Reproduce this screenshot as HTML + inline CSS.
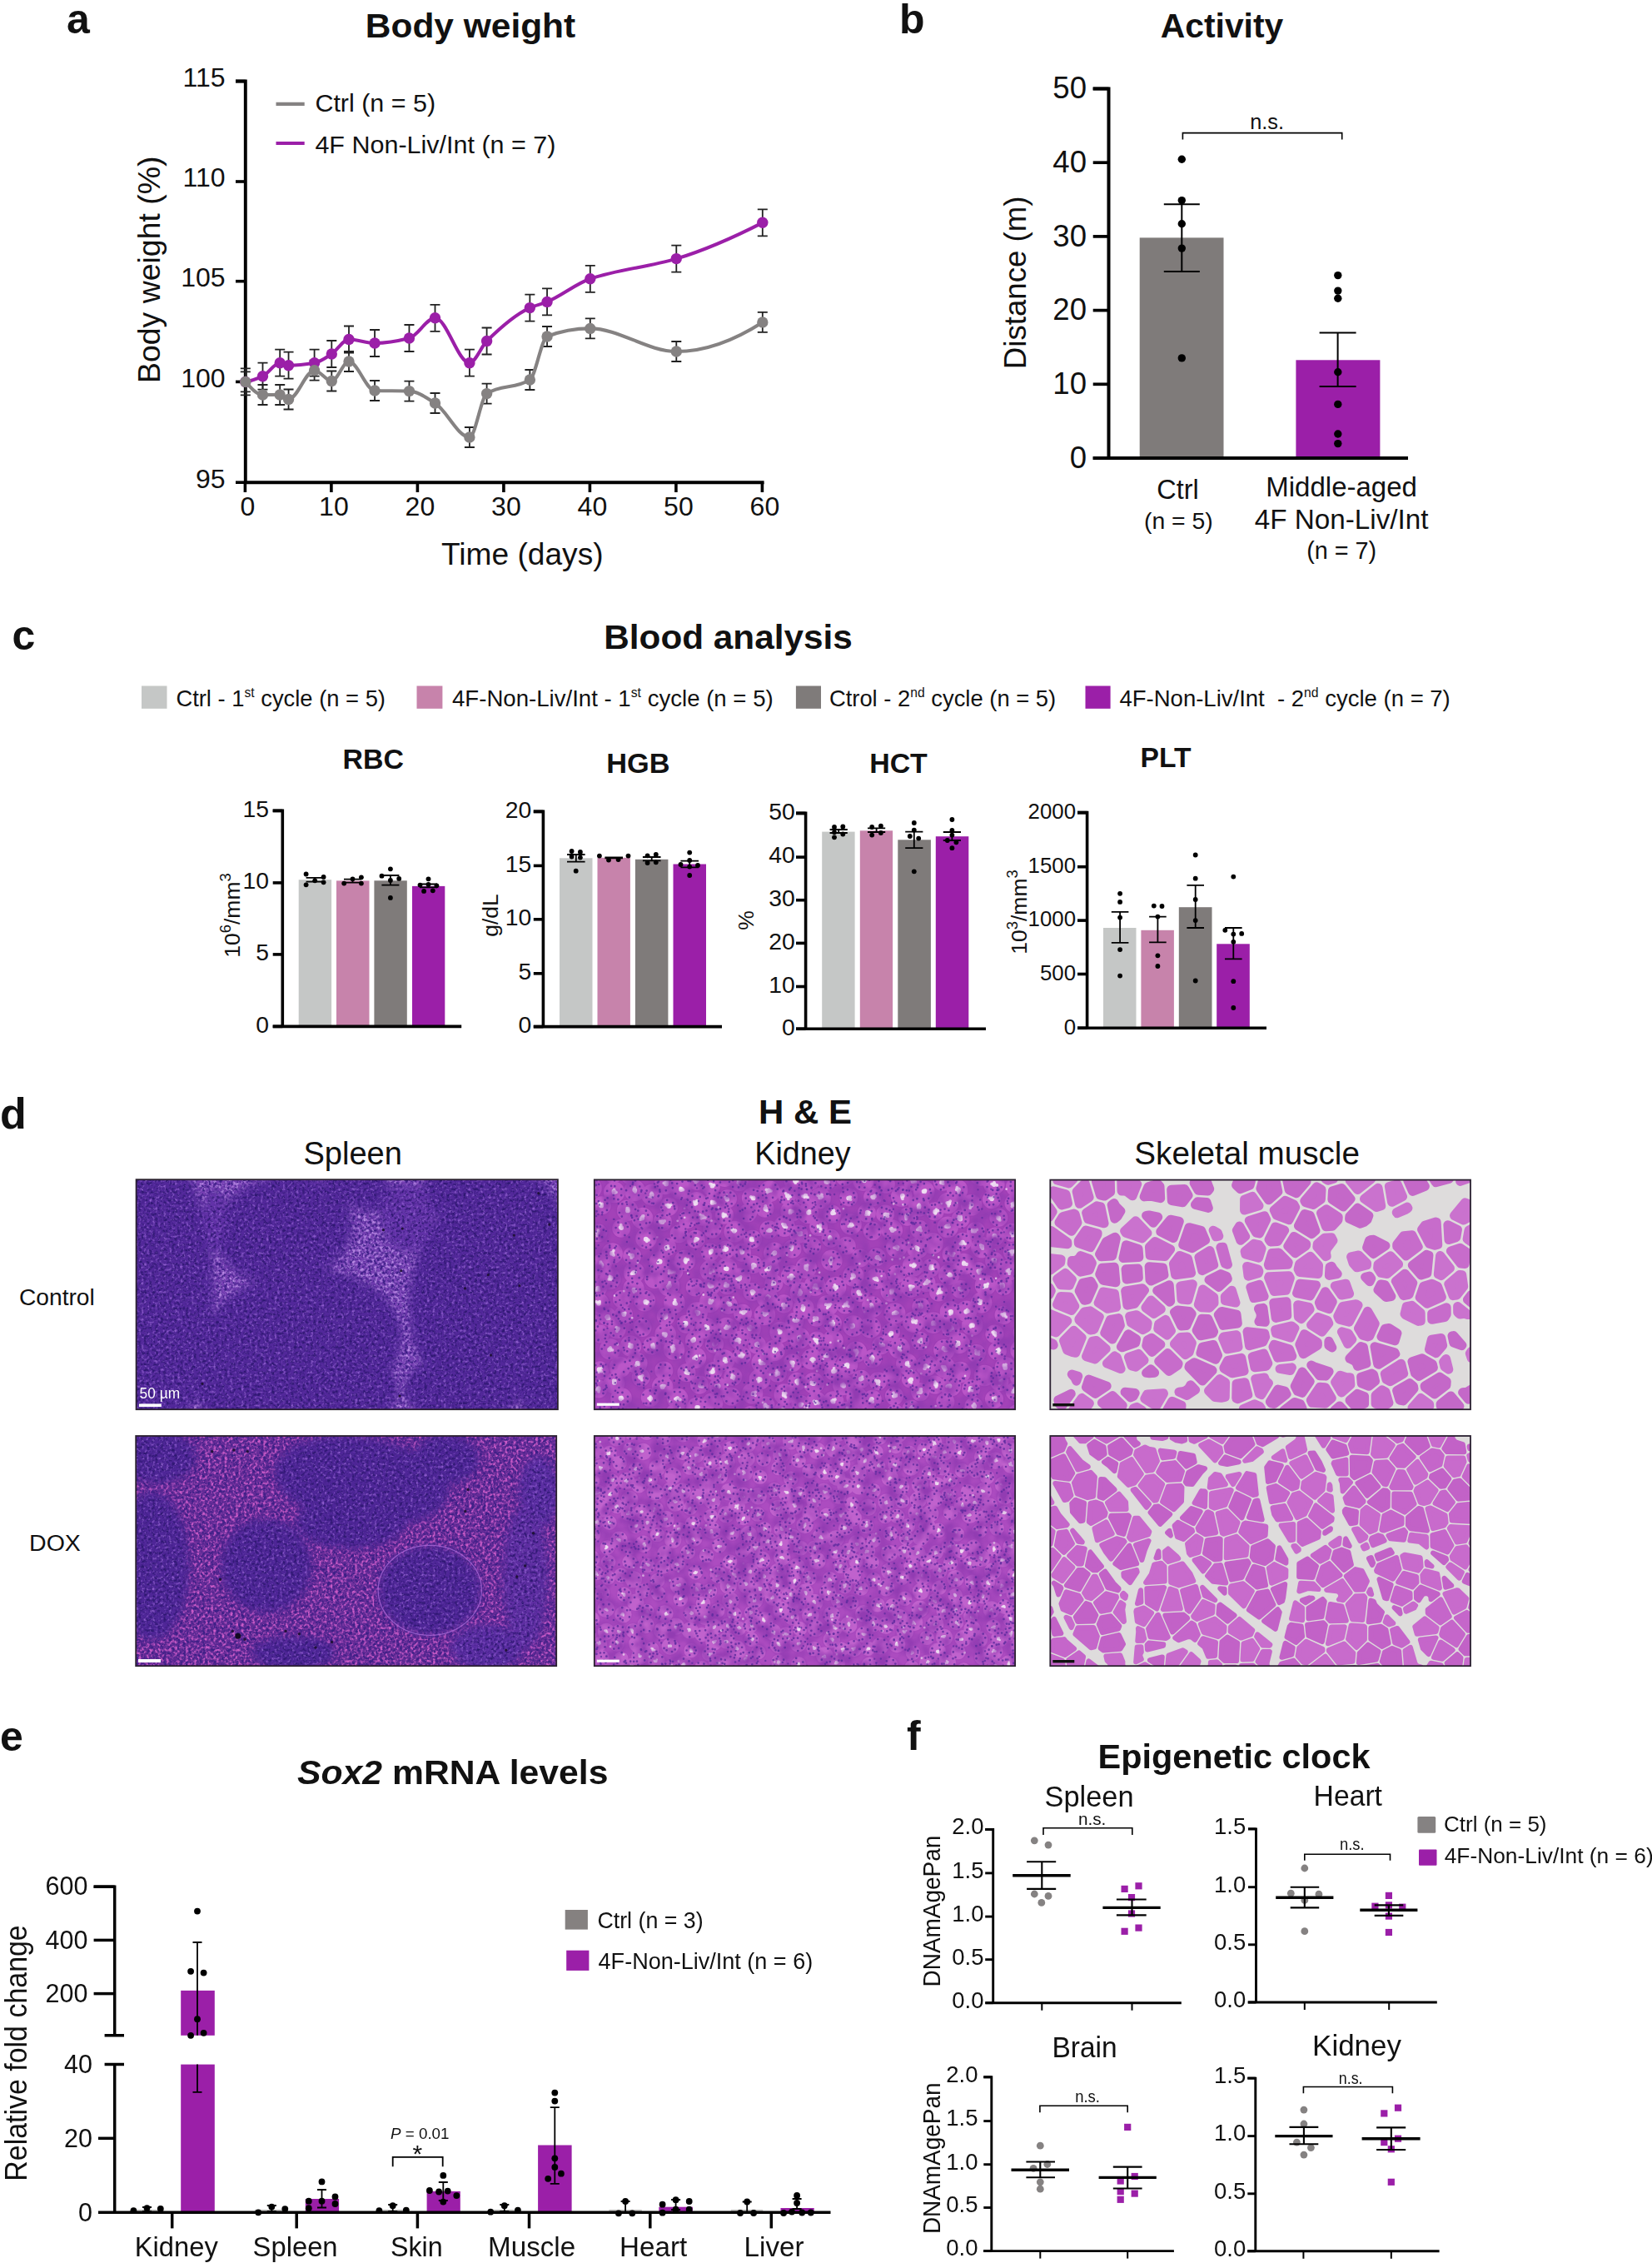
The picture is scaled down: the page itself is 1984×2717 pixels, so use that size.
<!DOCTYPE html>
<html lang="en"><head><meta charset="utf-8"><title>Figure</title>
<style>html,body{margin:0;padding:0;background:#fff}body{width:1984px;height:2717px;overflow:hidden}svg{display:block}text{font-family:"Liberation Sans", Arial, Helvetica, sans-serif;fill:#111}</style></head><body>
<svg width="1984" height="2717" viewBox="0 0 1984 2717">
<defs><clipPath id="cp_sc"><rect x="163.6" y="1416.2" width="506.3" height="276"/></clipPath>
<clipPath id="cp_sd"><rect x="163.2" y="1724" width="505" height="276.2"/></clipPath>
<clipPath id="cp_kc"><rect x="713.8" y="1416.4" width="505.3" height="275.8"/></clipPath>
<clipPath id="cp_kd"><rect x="713.8" y="1724" width="505.3" height="276.2"/></clipPath>
<clipPath id="cp_mc"><rect x="1261.3" y="1416.6" width="504.7" height="275.6"/></clipPath>
<clipPath id="cp_md"><rect x="1261.3" y="1724" width="504.7" height="276.2"/></clipPath>
<filter id="bl12" x="-50%" y="-50%" width="200%" height="200%"><feGaussianBlur stdDeviation="11"/></filter>
<filter id="bl6" x="-50%" y="-50%" width="200%" height="200%"><feGaussianBlur stdDeviation="6"/></filter>
<filter id="bl3" x="-50%" y="-50%" width="200%" height="200%"><feGaussianBlur stdDeviation="2.5"/></filter>
<filter id="fred" x="0" y="0" width="1" height="1" color-interpolation-filters="sRGB">
<feTurbulence type="fractalNoise" baseFrequency="0.3" numOctaves="2" seed="7" result="t"/>
<feColorMatrix in="t" type="matrix" values="0 0 0 0 0 0 0 0 0 0 0 0 0 0 0 3.4 0 0 0 -1.58" result="a1"/>
<feFlood flood-color="#b98ae4"/><feComposite in2="a1" operator="in" result="l1"/>
<feColorMatrix in="t" type="matrix" values="0 0 0 0 0 0 0 0 0 0 0 0 0 0 0 0 3.4 0 0 -1.4" result="a2"/>
<feFlood flood-color="#3c1f86"/><feComposite in2="a2" operator="in" result="d1"/>
<feMerge><feMergeNode in="SourceGraphic"/><feMergeNode in="d1"/><feMergeNode in="l1"/></feMerge>
</filter>
<filter id="fredd" x="0" y="0" width="1" height="1" color-interpolation-filters="sRGB">
<feTurbulence type="fractalNoise" baseFrequency="0.3" numOctaves="2" seed="9" result="t"/>
<feColorMatrix in="t" type="matrix" values="0 0 0 0 0 0 0 0 0 0 0 0 0 0 0 3.4 0 0 0 -1.58" result="a1"/>
<feFlood flood-color="#cc5cc8"/><feComposite in2="a1" operator="in" result="l1"/>
<feColorMatrix in="t" type="matrix" values="0 0 0 0 0 0 0 0 0 0 0 0 0 0 0 0 3.4 0 0 -1.3" result="a2"/>
<feFlood flood-color="#3c1f86"/><feComposite in2="a2" operator="in" result="d1"/>
<feMerge><feMergeNode in="SourceGraphic"/><feMergeNode in="d1"/><feMergeNode in="l1"/></feMerge>
</filter>
<filter id="ffol" x="-5%" y="-5%" width="110%" height="110%" color-interpolation-filters="sRGB">
<feGaussianBlur in="SourceGraphic" stdDeviation="4.5" result="b"/>
<feTurbulence type="fractalNoise" baseFrequency="0.3" numOctaves="2" seed="4" result="t"/>
<feColorMatrix in="t" type="matrix" values="0 0 0 0 0 0 0 0 0 0 0 0 0 0 0 3.2 0 0 0 -1.7" result="a1"/>
<feFlood flood-color="#8d5ccc"/><feComposite in2="a1" operator="in"/><feComposite in2="b" operator="in" result="l1"/>
<feColorMatrix in="t" type="matrix" values="0 0 0 0 0 0 0 0 0 0 0 0 0 0 0 0 3.2 0 0 -1.45" result="a2"/>
<feFlood flood-color="#2f1872"/><feComposite in2="a2" operator="in"/><feComposite in2="b" operator="in" result="d1"/>
<feMerge><feMergeNode in="b"/><feMergeNode in="d1"/><feMergeNode in="l1"/></feMerge>
</filter>
<filter id="fkid" x="0" y="0" width="1" height="1" color-interpolation-filters="sRGB">
<feTurbulence type="fractalNoise" baseFrequency="0.06" numOctaves="2" seed="3" result="t"/>
<feColorMatrix in="t" type="matrix" values="0 0 0 0 0 0 0 0 0 0 0 0 0 0 0 0 0 2.4 0 -0.85" result="a3"/>
<feFlood flood-color="#923cb2"/><feComposite in2="a3" operator="in" result="m1"/>
<feMerge><feMergeNode in="SourceGraphic"/><feMergeNode in="m1"/></feMerge>
</filter></defs>
<rect width="1984" height="2717" fill="#fff"/>
<g id="panel-a">
<text x="80" y="39.5" font-size="50" font-weight="bold">a</text>
<text x="565" y="44.5" font-size="40" text-anchor="middle" font-weight="bold" textLength="252.4" lengthAdjust="spacingAndGlyphs">Body weight</text>
<path d="M283 97.5H294.8V579.2H917.6" stroke="#000" stroke-width="3.9" fill="none" stroke-linejoin="miter"/>
<line x1="283" y1="97.5" x2="294.8" y2="97.5" stroke="#000" stroke-width="3.6"/>
<text x="270.6" y="103.8" font-size="32" text-anchor="end">115</text>
<line x1="283" y1="218" x2="294.8" y2="218" stroke="#000" stroke-width="3.6"/>
<text x="270.6" y="224.3" font-size="32" text-anchor="end">110</text>
<line x1="283" y1="337.7" x2="294.8" y2="337.7" stroke="#000" stroke-width="3.6"/>
<text x="270.6" y="344" font-size="32" text-anchor="end">105</text>
<line x1="283" y1="458.4" x2="294.8" y2="458.4" stroke="#000" stroke-width="3.6"/>
<text x="270.6" y="464.7" font-size="32" text-anchor="end">100</text>
<line x1="283" y1="579.2" x2="294.8" y2="579.2" stroke="#000" stroke-width="3.6"/>
<text x="270.6" y="585.5" font-size="32" text-anchor="end">95</text>
<line x1="294.4" y1="579.2" x2="294.4" y2="591" stroke="#000" stroke-width="3.6"/>
<text x="297.4" y="619.3" font-size="32" text-anchor="middle">0</text>
<line x1="397.9" y1="579.2" x2="397.9" y2="591" stroke="#000" stroke-width="3.6"/>
<text x="400.9" y="619.3" font-size="32" text-anchor="middle">10</text>
<line x1="501.4" y1="579.2" x2="501.4" y2="591" stroke="#000" stroke-width="3.6"/>
<text x="504.4" y="619.3" font-size="32" text-anchor="middle">20</text>
<line x1="604.9" y1="579.2" x2="604.9" y2="591" stroke="#000" stroke-width="3.6"/>
<text x="607.9" y="619.3" font-size="32" text-anchor="middle">30</text>
<line x1="708.4" y1="579.2" x2="708.4" y2="591" stroke="#000" stroke-width="3.6"/>
<text x="711.4" y="619.3" font-size="32" text-anchor="middle">40</text>
<line x1="811.9" y1="579.2" x2="811.9" y2="591" stroke="#000" stroke-width="3.6"/>
<text x="814.9" y="619.3" font-size="32" text-anchor="middle">50</text>
<line x1="915.4" y1="579.2" x2="915.4" y2="591" stroke="#000" stroke-width="3.6"/>
<text x="918.4" y="619.3" font-size="32" text-anchor="middle">60</text>
<text x="627.3" y="677.8" font-size="36" text-anchor="middle" textLength="194.6" lengthAdjust="spacingAndGlyphs">Time (days)</text>
<text transform="translate(191.5 323.8) rotate(-90)" font-size="37" text-anchor="middle" textLength="272.4" lengthAdjust="spacingAndGlyphs">Body weight (%)</text>
<line x1="331.5" y1="124.9" x2="365.7" y2="124.9" stroke="#858282" stroke-width="4.2"/>
<line x1="331.5" y1="172" x2="365.7" y2="172" stroke="#9b1fa8" stroke-width="4.2"/>
<text x="378.4" y="134.2" font-size="29.5" textLength="144.7" lengthAdjust="spacingAndGlyphs">Ctrl (n = 5)</text>
<text x="378.4" y="183.7" font-size="29.5" textLength="289" lengthAdjust="spacingAndGlyphs">4F Non-Liv/Int (n = 7)</text>
<path d="M288.8 446.4H300.8M288.8 470.4H300.8M294.8 446.4V470.4" stroke="#222" stroke-width="1.8" fill="none"/>
<path d="M288.8 442.4H300.8M288.8 474.4H300.8M294.8 442.4V474.4" stroke="#222" stroke-width="1.8" fill="none"/>
<path d="M309.5 462H321.5M309.5 486H321.5M315.5 462V486" stroke="#222" stroke-width="1.8" fill="none"/>
<path d="M309.5 435.7H321.5M309.5 467.7H321.5M315.5 435.7V467.7" stroke="#222" stroke-width="1.8" fill="none"/>
<path d="M330.2 462H342.2M330.2 486H342.2M336.2 462V486" stroke="#222" stroke-width="1.8" fill="none"/>
<path d="M330.2 419.7H342.2M330.2 451.7H342.2M336.2 419.7V451.7" stroke="#222" stroke-width="1.8" fill="none"/>
<path d="M340.55 467.5H352.55M340.55 491.5H352.55M346.55 467.5V491.5" stroke="#222" stroke-width="1.8" fill="none"/>
<path d="M340.55 422.7H352.55M340.55 454.7H352.55M346.55 422.7V454.7" stroke="#222" stroke-width="1.8" fill="none"/>
<path d="M371.6 432.7H383.6M371.6 456.7H383.6M377.6 432.7V456.7" stroke="#222" stroke-width="1.8" fill="none"/>
<path d="M371.6 419.7H383.6M371.6 451.7H383.6M377.6 419.7V451.7" stroke="#222" stroke-width="1.8" fill="none"/>
<path d="M392.3 445.5H404.3M392.3 469.5H404.3M398.3 445.5V469.5" stroke="#222" stroke-width="1.8" fill="none"/>
<path d="M392.3 409H404.3M392.3 441H404.3M398.3 409V441" stroke="#222" stroke-width="1.8" fill="none"/>
<path d="M413 422H425M413 446H425M419 422V446" stroke="#222" stroke-width="1.8" fill="none"/>
<path d="M413 391.5H425M413 423.5H425M419 391.5V423.5" stroke="#222" stroke-width="1.8" fill="none"/>
<path d="M444.05 457H456.05M444.05 481H456.05M450.05 457V481" stroke="#222" stroke-width="1.8" fill="none"/>
<path d="M444.05 396H456.05M444.05 428H456.05M450.05 396V428" stroke="#222" stroke-width="1.8" fill="none"/>
<path d="M485.45 457.6H497.45M485.45 481.6H497.45M491.45 457.6V481.6" stroke="#222" stroke-width="1.8" fill="none"/>
<path d="M485.45 390H497.45M485.45 422H497.45M491.45 390V422" stroke="#222" stroke-width="1.8" fill="none"/>
<path d="M516.5 472H528.5M516.5 496H528.5M522.5 472V496" stroke="#222" stroke-width="1.8" fill="none"/>
<path d="M516.5 365.8H528.5M516.5 397.8H528.5M522.5 365.8V397.8" stroke="#222" stroke-width="1.8" fill="none"/>
<path d="M557.9 513H569.9M557.9 537H569.9M563.9 513V537" stroke="#222" stroke-width="1.8" fill="none"/>
<path d="M557.9 419.7H569.9M557.9 451.7H569.9M563.9 419.7V451.7" stroke="#222" stroke-width="1.8" fill="none"/>
<path d="M578.6 460.6H590.6M578.6 484.6H590.6M584.6 460.6V484.6" stroke="#222" stroke-width="1.8" fill="none"/>
<path d="M578.6 393.5H590.6M578.6 425.5H590.6M584.6 393.5V425.5" stroke="#222" stroke-width="1.8" fill="none"/>
<path d="M630.35 444H642.35M630.35 468H642.35M636.35 444V468" stroke="#222" stroke-width="1.8" fill="none"/>
<path d="M630.35 353.6H642.35M630.35 385.6H642.35M636.35 353.6V385.6" stroke="#222" stroke-width="1.8" fill="none"/>
<path d="M651.05 392H663.05M651.05 416H663.05M657.05 392V416" stroke="#222" stroke-width="1.8" fill="none"/>
<path d="M651.05 346.4H663.05M651.05 378.4H663.05M657.05 346.4V378.4" stroke="#222" stroke-width="1.8" fill="none"/>
<path d="M702.8 382.4H714.8M702.8 406.4H714.8M708.8 382.4V406.4" stroke="#222" stroke-width="1.8" fill="none"/>
<path d="M702.8 318.8H714.8M702.8 350.8H714.8M708.8 318.8V350.8" stroke="#222" stroke-width="1.8" fill="none"/>
<path d="M806.3 410H818.3M806.3 434H818.3M812.3 410V434" stroke="#222" stroke-width="1.8" fill="none"/>
<path d="M806.3 294.6H818.3M806.3 326.6H818.3M812.3 294.6V326.6" stroke="#222" stroke-width="1.8" fill="none"/>
<path d="M909.8 374.9H921.8M909.8 398.9H921.8M915.8 374.9V398.9" stroke="#222" stroke-width="1.8" fill="none"/>
<path d="M909.8 251.3H921.8M909.8 283.3H921.8M915.8 251.3V283.3" stroke="#222" stroke-width="1.8" fill="none"/>
<path d="M294.8 458.4C301.7 457.72 308.6 454.85 315.5 451.7C322.4 448.55 329.3 435.7 336.2 435.7C339.65 435.7 343.1 438.7 346.55 438.7C356.9 438.7 367.25 437.47 377.6 435.7C384.5 434.52 391.4 429.43 398.3 425C405.2 420.57 412.1 407.5 419 407.5C429.35 407.5 439.7 412 450.05 412C463.85 412 477.65 409.49 491.45 406C501.8 403.38 512.15 381.8 522.5 381.8C536.3 381.8 550.1 435.7 563.9 435.7C570.8 435.7 577.7 416.35 584.6 409.5C601.85 392.38 619.1 377.45 636.35 369.6C643.25 366.46 650.15 365.22 657.05 362.4C674.3 355.35 691.55 340.66 708.8 334.8C743.3 323.08 777.8 320.95 812.3 310.6C846.8 300.25 881.3 284.92 915.8 267.3" stroke="#9b1fa8" stroke-width="4.1" fill="none" stroke-linejoin="round"/>
<circle cx="294.8" cy="458.4" r="6.7" fill="#9b1fa8"/>
<circle cx="315.5" cy="451.7" r="6.7" fill="#9b1fa8"/>
<circle cx="336.2" cy="435.7" r="6.7" fill="#9b1fa8"/>
<circle cx="346.55" cy="438.7" r="6.7" fill="#9b1fa8"/>
<circle cx="377.6" cy="435.7" r="6.7" fill="#9b1fa8"/>
<circle cx="398.3" cy="425" r="6.7" fill="#9b1fa8"/>
<circle cx="419" cy="407.5" r="6.7" fill="#9b1fa8"/>
<circle cx="450.05" cy="412" r="6.7" fill="#9b1fa8"/>
<circle cx="491.45" cy="406" r="6.7" fill="#9b1fa8"/>
<circle cx="522.5" cy="381.8" r="6.7" fill="#9b1fa8"/>
<circle cx="563.9" cy="435.7" r="6.7" fill="#9b1fa8"/>
<circle cx="584.6" cy="409.5" r="6.7" fill="#9b1fa8"/>
<circle cx="636.35" cy="369.6" r="6.7" fill="#9b1fa8"/>
<circle cx="657.05" cy="362.4" r="6.7" fill="#9b1fa8"/>
<circle cx="708.8" cy="334.8" r="6.7" fill="#9b1fa8"/>
<circle cx="812.3" cy="310.6" r="6.7" fill="#9b1fa8"/>
<circle cx="915.8" cy="267.3" r="6.7" fill="#9b1fa8"/>
<path d="M294.8 458.4C301.7 466.2 308.6 474 315.5 474C322.4 474 329.3 474 336.2 474C339.65 474 343.1 479.5 346.55 479.5C356.9 479.5 367.25 444.7 377.6 444.7C384.5 444.7 391.4 457.5 398.3 457.5C405.2 457.5 412.1 434 419 434C429.35 434 439.7 468.69 450.05 469C463.85 469.41 477.65 469.19 491.45 469.6C501.8 469.9 512.15 477.57 522.5 484C536.3 492.57 550.1 525 563.9 525C570.8 525 577.7 477.02 584.6 472.6C601.85 461.56 619.1 467.03 636.35 456C643.25 451.59 650.15 406.72 657.05 404C674.3 397.2 691.55 394.4 708.8 394.4C743.3 394.4 777.8 422 812.3 422C846.8 422 881.3 409.05 915.8 386.9" stroke="#858282" stroke-width="4.1" fill="none" stroke-linejoin="round"/>
<circle cx="294.8" cy="458.4" r="6.7" fill="#858282"/>
<circle cx="315.5" cy="474" r="6.7" fill="#858282"/>
<circle cx="336.2" cy="474" r="6.7" fill="#858282"/>
<circle cx="346.55" cy="479.5" r="6.7" fill="#858282"/>
<circle cx="377.6" cy="444.7" r="6.7" fill="#858282"/>
<circle cx="398.3" cy="457.5" r="6.7" fill="#858282"/>
<circle cx="419" cy="434" r="6.7" fill="#858282"/>
<circle cx="450.05" cy="469" r="6.7" fill="#858282"/>
<circle cx="491.45" cy="469.6" r="6.7" fill="#858282"/>
<circle cx="522.5" cy="484" r="6.7" fill="#858282"/>
<circle cx="563.9" cy="525" r="6.7" fill="#858282"/>
<circle cx="584.6" cy="472.6" r="6.7" fill="#858282"/>
<circle cx="636.35" cy="456" r="6.7" fill="#858282"/>
<circle cx="657.05" cy="404" r="6.7" fill="#858282"/>
<circle cx="708.8" cy="394.4" r="6.7" fill="#858282"/>
<circle cx="812.3" cy="422" r="6.7" fill="#858282"/>
<circle cx="915.8" cy="386.9" r="6.7" fill="#858282"/>
</g>
<g id="panel-b">
<text x="1080" y="39.5" font-size="50" font-weight="bold">b</text>
<text x="1467.5" y="44.5" font-size="40" text-anchor="middle" font-weight="bold" textLength="147.4" lengthAdjust="spacingAndGlyphs">Activity</text>
<rect x="1368.7" y="285.4" width="100.8" height="264.6" fill="#7f7b7a"/>
<rect x="1556.4" y="432.3" width="101" height="117.7" fill="#9b1fa8"/>
<path d="M1312.7 106.5H1331.5V550M1312.7 550H1691" stroke="#000" stroke-width="4" fill="none"/>
<line x1="1312.7" y1="550" x2="1331.5" y2="550" stroke="#000" stroke-width="3.7"/>
<text x="1305" y="561.7" font-size="37.5" text-anchor="end" textLength="20.35" lengthAdjust="spacingAndGlyphs">0</text>
<line x1="1312.7" y1="461.3" x2="1331.5" y2="461.3" stroke="#000" stroke-width="3.7"/>
<text x="1305" y="473" font-size="37.5" text-anchor="end" textLength="40.7" lengthAdjust="spacingAndGlyphs">10</text>
<line x1="1312.7" y1="372.6" x2="1331.5" y2="372.6" stroke="#000" stroke-width="3.7"/>
<text x="1305" y="384.3" font-size="37.5" text-anchor="end" textLength="40.7" lengthAdjust="spacingAndGlyphs">20</text>
<line x1="1312.7" y1="283.9" x2="1331.5" y2="283.9" stroke="#000" stroke-width="3.7"/>
<text x="1305" y="295.6" font-size="37.5" text-anchor="end" textLength="40.7" lengthAdjust="spacingAndGlyphs">30</text>
<line x1="1312.7" y1="195.2" x2="1331.5" y2="195.2" stroke="#000" stroke-width="3.7"/>
<text x="1305" y="206.9" font-size="37.5" text-anchor="end" textLength="40.7" lengthAdjust="spacingAndGlyphs">40</text>
<line x1="1312.7" y1="106.5" x2="1331.5" y2="106.5" stroke="#000" stroke-width="3.7"/>
<text x="1305" y="118.2" font-size="37.5" text-anchor="end" textLength="40.7" lengthAdjust="spacingAndGlyphs">50</text>
<path d="M1397.8 245.2H1440.8M1397.8 326H1440.8M1419.3 245.2V326" stroke="#000" stroke-width="2" fill="none"/>
<path d="M1584.6 399.6H1628.6M1584.6 464H1628.6M1606.6 399.6V464" stroke="#000" stroke-width="2" fill="none"/>
<circle cx="1419.3" cy="191.3" r="4.7" fill="#000"/>
<circle cx="1419.3" cy="240.6" r="4.7" fill="#000"/>
<circle cx="1419.3" cy="268.8" r="4.7" fill="#000"/>
<circle cx="1419.3" cy="298.1" r="4.7" fill="#000"/>
<circle cx="1419.3" cy="429.9" r="4.7" fill="#000"/>
<circle cx="1606.8" cy="330.6" r="4.7" fill="#000"/>
<circle cx="1606.8" cy="349.1" r="4.7" fill="#000"/>
<circle cx="1606.8" cy="358.2" r="4.7" fill="#000"/>
<circle cx="1606.8" cy="446.8" r="4.7" fill="#000"/>
<circle cx="1606.8" cy="485.4" r="4.7" fill="#000"/>
<circle cx="1606.8" cy="521" r="4.7" fill="#000"/>
<circle cx="1606.8" cy="532.6" r="4.7" fill="#000"/>
<path d="M1420.4 167.4V159.6H1611.7V167.4" stroke="#000" stroke-width="1.6" fill="none"/>
<text x="1521.6" y="155" font-size="25" text-anchor="middle" textLength="40.8" lengthAdjust="spacingAndGlyphs">n.s.</text>
<text x="1414.6" y="598.8" font-size="33" text-anchor="middle" textLength="50.5" lengthAdjust="spacingAndGlyphs">Ctrl</text>
<text x="1415.4" y="635.4" font-size="28.4" text-anchor="middle" textLength="82.8" lengthAdjust="spacingAndGlyphs">(n = 5)</text>
<text x="1611.1" y="596.1" font-size="33" text-anchor="middle" textLength="181.6" lengthAdjust="spacingAndGlyphs">Middle-aged</text>
<text x="1611.1" y="635" font-size="33" text-anchor="middle" textLength="208.8" lengthAdjust="spacingAndGlyphs">4F Non-Liv/Int</text>
<text x="1611.1" y="670.6" font-size="28.6" text-anchor="middle" textLength="83.9" lengthAdjust="spacingAndGlyphs">(n = 7)</text>
<text transform="translate(1232 339.4) rotate(-90)" font-size="37.5" text-anchor="middle" textLength="207.5" lengthAdjust="spacingAndGlyphs">Distance (m)</text>
</g>
<g id="panel-c">
<text x="14.5" y="780" font-size="50" font-weight="bold">c</text>
<text x="874.5" y="779.2" font-size="41" text-anchor="middle" font-weight="bold" textLength="298.5" lengthAdjust="spacingAndGlyphs">Blood analysis</text>
<rect x="170" y="823.5" width="30.5" height="27.3" fill="#c5c7c6"/>
<rect x="500.5" y="823.5" width="30.9" height="27.3" fill="#c783ab"/>
<rect x="955.9" y="823.5" width="30.1" height="27.3" fill="#7f7b7a"/>
<rect x="1303.5" y="823.5" width="30.1" height="27.3" fill="#9b1fa8"/>
<text x="211.4" y="847.8" font-size="28" textLength="251.6" lengthAdjust="spacingAndGlyphs">Ctrl - 1<tspan dy="-11" font-size="16">st</tspan><tspan dy="11"> cycle (n = 5)</tspan></text>
<text x="543" y="847.8" font-size="28" textLength="385.7" lengthAdjust="spacingAndGlyphs">4F-Non-Liv/Int - 1<tspan dy="-11" font-size="16">st</tspan><tspan dy="11"> cycle (n = 5)</tspan></text>
<text x="995.9" y="847.8" font-size="28" textLength="272.3" lengthAdjust="spacingAndGlyphs">Ctrol - 2<tspan dy="-11" font-size="16">nd</tspan><tspan dy="11"> cycle (n = 5)</tspan></text>
<text x="1344.5" y="847.8" font-size="28" textLength="397.3" lengthAdjust="spacingAndGlyphs">4F-Non-Liv/Int  - 2<tspan dy="-11" font-size="16">nd</tspan><tspan dy="11"> cycle (n = 7)</tspan></text>
<text x="448.2" y="923.4" font-size="34" text-anchor="middle" font-weight="bold" textLength="73.4" lengthAdjust="spacingAndGlyphs">RBC</text>
<text x="766.3" y="927.7" font-size="34" text-anchor="middle" font-weight="bold" textLength="76.3" lengthAdjust="spacingAndGlyphs">HGB</text>
<text x="1079" y="927.7" font-size="34" text-anchor="middle" font-weight="bold" textLength="69.7" lengthAdjust="spacingAndGlyphs">HCT</text>
<text x="1400.1" y="920.8" font-size="34" text-anchor="middle" font-weight="bold" textLength="61" lengthAdjust="spacingAndGlyphs">PLT</text>
<rect x="358.7" y="1056.2" width="39.4" height="176.2" fill="#c5c7c6"/>
<rect x="404" y="1057.4" width="39.5" height="175" fill="#c783ab"/>
<rect x="449.4" y="1057.3" width="39.4" height="175.1" fill="#7f7b7a"/>
<rect x="495" y="1063.9" width="39.3" height="168.5" fill="#9b1fa8"/>
<path d="M327.7 973.4H339.3V1232.4M327.7 1232.4H554.2" stroke="#000" stroke-width="3.6" fill="none"/>
<line x1="327.7" y1="973.4" x2="339.3" y2="973.4" stroke="#000" stroke-width="3.6"/>
<text x="323" y="980.7" font-size="28.3" text-anchor="end">15</text>
<line x1="327.7" y1="1059.9" x2="339.3" y2="1059.9" stroke="#000" stroke-width="3.6"/>
<text x="323" y="1067.2" font-size="28.3" text-anchor="end">10</text>
<line x1="327.7" y1="1145.9" x2="339.3" y2="1145.9" stroke="#000" stroke-width="3.6"/>
<text x="323" y="1153.2" font-size="28.3" text-anchor="end">5</text>
<line x1="327.7" y1="1232.4" x2="339.3" y2="1232.4" stroke="#000" stroke-width="3.6"/>
<text x="323" y="1239.7" font-size="28.3" text-anchor="end">0</text>
<path d="M367.6 1053.9H388.6M367.6 1058.6H388.6M378.1 1053.9V1058.6" stroke="#000" stroke-width="1.8" fill="none"/>
<path d="M413 1055.7H434M413 1059.7H434M423.5 1055.7V1059.7" stroke="#000" stroke-width="1.8" fill="none"/>
<path d="M458.4 1051H479.4M458.4 1062.6H479.4M468.9 1051V1062.6" stroke="#000" stroke-width="1.8" fill="none"/>
<path d="M504 1061.5H525M504 1065.3H525M514.5 1061.5V1065.3" stroke="#000" stroke-width="1.8" fill="none"/>
<circle cx="367.6" cy="1049.5" r="2.9" fill="#000"/>
<circle cx="367.6" cy="1062.3" r="2.9" fill="#000"/>
<circle cx="378.2" cy="1057.3" r="2.9" fill="#000"/>
<circle cx="388.6" cy="1052.9" r="2.9" fill="#000"/>
<circle cx="388.6" cy="1059.3" r="2.9" fill="#000"/>
<circle cx="413.2" cy="1060.6" r="2.9" fill="#000"/>
<circle cx="423.5" cy="1055.3" r="2.9" fill="#000"/>
<circle cx="433.9" cy="1053.3" r="2.9" fill="#000"/>
<circle cx="433.9" cy="1060.6" r="2.9" fill="#000"/>
<circle cx="468.9" cy="1043.3" r="2.9" fill="#000"/>
<circle cx="458.5" cy="1051.7" r="2.9" fill="#000"/>
<circle cx="479.2" cy="1054.9" r="2.9" fill="#000"/>
<circle cx="468.9" cy="1056.9" r="2.9" fill="#000"/>
<circle cx="468.9" cy="1077.9" r="2.9" fill="#000"/>
<circle cx="514.5" cy="1055.3" r="2.9" fill="#000"/>
<circle cx="504.5" cy="1062.6" r="2.9" fill="#000"/>
<circle cx="514.5" cy="1061.9" r="2.9" fill="#000"/>
<circle cx="524.4" cy="1063.3" r="2.9" fill="#000"/>
<circle cx="509.1" cy="1069.9" r="2.9" fill="#000"/>
<circle cx="519.8" cy="1069.3" r="2.9" fill="#000"/>
<text transform="translate(288 1099) rotate(-90)" font-size="26.5" text-anchor="middle">10<tspan dy="-11.5" font-size="18.5">6</tspan><tspan dy="11.5">/mm<tspan dy="-11.5" font-size="18.5">3</tspan><tspan dy="11.5"></tspan></tspan></text>
<rect x="672" y="1030.3" width="39.5" height="202.3" fill="#c5c7c6"/>
<rect x="717.5" y="1029.8" width="39.4" height="202.8" fill="#c783ab"/>
<rect x="762.9" y="1031.8" width="39.5" height="200.8" fill="#7f7b7a"/>
<rect x="808.5" y="1037.5" width="39.5" height="195.1" fill="#9b1fa8"/>
<path d="M640.8 974.4H652.4V1232.6M640.8 1232.6H867" stroke="#000" stroke-width="3.6" fill="none"/>
<line x1="640.8" y1="974.4" x2="652.4" y2="974.4" stroke="#000" stroke-width="3.6"/>
<text x="638.2" y="981.7" font-size="28.3" text-anchor="end">20</text>
<line x1="640.8" y1="1039.4" x2="652.4" y2="1039.4" stroke="#000" stroke-width="3.6"/>
<text x="638.2" y="1046.7" font-size="28.3" text-anchor="end">15</text>
<line x1="640.8" y1="1103.8" x2="652.4" y2="1103.8" stroke="#000" stroke-width="3.6"/>
<text x="638.2" y="1111.1" font-size="28.3" text-anchor="end">10</text>
<line x1="640.8" y1="1168.8" x2="652.4" y2="1168.8" stroke="#000" stroke-width="3.6"/>
<text x="638.2" y="1176.1" font-size="28.3" text-anchor="end">5</text>
<line x1="640.8" y1="1232.6" x2="652.4" y2="1232.6" stroke="#000" stroke-width="3.6"/>
<text x="638.2" y="1239.9" font-size="28.3" text-anchor="end">0</text>
<path d="M681 1026H702.6M681 1034.6H702.6M691.8 1026V1034.6" stroke="#000" stroke-width="1.8" fill="none"/>
<path d="M726.4 1029.3H748M726.4 1030.3H748M737.2 1029.3V1030.3" stroke="#000" stroke-width="1.8" fill="none"/>
<path d="M771.9 1029H793.5M771.9 1033.3H793.5M782.7 1029V1033.3" stroke="#000" stroke-width="1.8" fill="none"/>
<path d="M817.4 1033.7H839M817.4 1041.3H839M828.2 1033.7V1041.3" stroke="#000" stroke-width="1.8" fill="none"/>
<circle cx="686.6" cy="1022" r="2.9" fill="#000"/>
<circle cx="696.9" cy="1023" r="2.9" fill="#000"/>
<circle cx="686.6" cy="1028.6" r="2.9" fill="#000"/>
<circle cx="696.9" cy="1029.6" r="2.9" fill="#000"/>
<circle cx="691.7" cy="1045.7" r="2.9" fill="#000"/>
<circle cx="719.9" cy="1027.6" r="2.9" fill="#000"/>
<circle cx="754.5" cy="1027.6" r="2.9" fill="#000"/>
<circle cx="731" cy="1032.6" r="2.9" fill="#000"/>
<circle cx="742.6" cy="1032" r="2.9" fill="#000"/>
<circle cx="777.6" cy="1027.3" r="2.9" fill="#000"/>
<circle cx="787.8" cy="1026" r="2.9" fill="#000"/>
<circle cx="777.6" cy="1036" r="2.9" fill="#000"/>
<circle cx="787.8" cy="1035.3" r="2.9" fill="#000"/>
<circle cx="828.2" cy="1023.6" r="2.9" fill="#000"/>
<circle cx="828.2" cy="1032.9" r="2.9" fill="#000"/>
<circle cx="817.5" cy="1038" r="2.9" fill="#000"/>
<circle cx="838" cy="1039" r="2.9" fill="#000"/>
<circle cx="828.2" cy="1040.6" r="2.9" fill="#000"/>
<circle cx="828.2" cy="1051" r="2.9" fill="#000"/>
<text transform="translate(597.7 1099) rotate(-90)" font-size="26.5" text-anchor="middle">g/dL</text>
<rect x="987.2" y="998.6" width="39.4" height="236.7" fill="#c5c7c6"/>
<rect x="1032.8" y="997.3" width="39.3" height="238" fill="#c783ab"/>
<rect x="1078.3" y="1008.3" width="39.6" height="227" fill="#7f7b7a"/>
<rect x="1123.8" y="1004.2" width="39.5" height="231.1" fill="#9b1fa8"/>
<path d="M956 976.4H967.6V1235.3M956 1235.3H1184" stroke="#000" stroke-width="3.6" fill="none"/>
<line x1="956" y1="976.4" x2="967.6" y2="976.4" stroke="#000" stroke-width="3.6"/>
<text x="954.8" y="983.7" font-size="28.3" text-anchor="end">50</text>
<line x1="956" y1="1029.1" x2="967.6" y2="1029.1" stroke="#000" stroke-width="3.6"/>
<text x="954.8" y="1036.4" font-size="28.3" text-anchor="end">40</text>
<line x1="956" y1="1080.7" x2="967.6" y2="1080.7" stroke="#000" stroke-width="3.6"/>
<text x="954.8" y="1088" font-size="28.3" text-anchor="end">30</text>
<line x1="956" y1="1132.4" x2="967.6" y2="1132.4" stroke="#000" stroke-width="3.6"/>
<text x="954.8" y="1139.7" font-size="28.3" text-anchor="end">20</text>
<line x1="956" y1="1184.5" x2="967.6" y2="1184.5" stroke="#000" stroke-width="3.6"/>
<text x="954.8" y="1191.8" font-size="28.3" text-anchor="end">10</text>
<line x1="956" y1="1235.3" x2="967.6" y2="1235.3" stroke="#000" stroke-width="3.6"/>
<text x="954.8" y="1242.6" font-size="28.3" text-anchor="end">0</text>
<path d="M996.6 996H1017.8M996.6 1000H1017.8M1007.2 996V1000" stroke="#000" stroke-width="1.8" fill="none"/>
<path d="M1042 994.4H1063.2M1042 999H1063.2M1052.6 994.4V999" stroke="#000" stroke-width="1.8" fill="none"/>
<path d="M1087.2 998.6H1108.4M1087.2 1018.2H1108.4M1097.8 998.6V1018.2" stroke="#000" stroke-width="1.8" fill="none"/>
<path d="M1132.8 999H1154M1132.8 1009H1154M1143.4 999V1009" stroke="#000" stroke-width="1.8" fill="none"/>
<circle cx="1002" cy="993" r="2.9" fill="#000"/>
<circle cx="1012.3" cy="992.4" r="2.9" fill="#000"/>
<circle cx="1002" cy="999.3" r="2.9" fill="#000"/>
<circle cx="1012.3" cy="1001.5" r="2.9" fill="#000"/>
<circle cx="1002" cy="1005.3" r="2.9" fill="#000"/>
<circle cx="1047.2" cy="993" r="2.9" fill="#000"/>
<circle cx="1057.9" cy="991.7" r="2.9" fill="#000"/>
<circle cx="1057.9" cy="1000" r="2.9" fill="#000"/>
<circle cx="1047.2" cy="1002.6" r="2.9" fill="#000"/>
<circle cx="1097.8" cy="988" r="2.9" fill="#000"/>
<circle cx="1097.8" cy="996.6" r="2.9" fill="#000"/>
<circle cx="1092.8" cy="1004" r="2.9" fill="#000"/>
<circle cx="1103.2" cy="1006.6" r="2.9" fill="#000"/>
<circle cx="1097.8" cy="1046.3" r="2.9" fill="#000"/>
<circle cx="1143.4" cy="984" r="2.9" fill="#000"/>
<circle cx="1143.4" cy="997" r="2.9" fill="#000"/>
<circle cx="1143.4" cy="1002.6" r="2.9" fill="#000"/>
<circle cx="1137.8" cy="1009" r="2.9" fill="#000"/>
<circle cx="1148.4" cy="1011.3" r="2.9" fill="#000"/>
<circle cx="1143.4" cy="1018.2" r="2.9" fill="#000"/>
<text transform="translate(904.5 1105) rotate(-90)" font-size="26.5" text-anchor="middle">%</text>
<rect x="1325" y="1114" width="39.5" height="120.3" fill="#c5c7c6"/>
<rect x="1370.4" y="1116.8" width="39.5" height="117.5" fill="#c783ab"/>
<rect x="1415.8" y="1089.2" width="39.7" height="145.1" fill="#7f7b7a"/>
<rect x="1461.2" y="1133.3" width="39.6" height="101" fill="#9b1fa8"/>
<path d="M1294 975.6H1305.6V1234.3M1294 1234.3H1521" stroke="#000" stroke-width="3.6" fill="none"/>
<line x1="1294" y1="975.6" x2="1305.6" y2="975.6" stroke="#000" stroke-width="3.6"/>
<text x="1292" y="982.9" font-size="25.8" text-anchor="end">2000</text>
<line x1="1294" y1="1040.7" x2="1305.6" y2="1040.7" stroke="#000" stroke-width="3.6"/>
<text x="1292" y="1048" font-size="25.8" text-anchor="end">1500</text>
<line x1="1294" y1="1105.1" x2="1305.6" y2="1105.1" stroke="#000" stroke-width="3.6"/>
<text x="1292" y="1112.4" font-size="25.8" text-anchor="end">1000</text>
<line x1="1294" y1="1169.5" x2="1305.6" y2="1169.5" stroke="#000" stroke-width="3.6"/>
<text x="1292" y="1176.8" font-size="25.8" text-anchor="end">500</text>
<line x1="1294" y1="1234.3" x2="1305.6" y2="1234.3" stroke="#000" stroke-width="3.6"/>
<text x="1292" y="1241.6" font-size="25.8" text-anchor="end">0</text>
<path d="M1334.8 1094.8H1355.4M1334.8 1131.9H1355.4M1345.1 1094.8V1131.9" stroke="#000" stroke-width="1.8" fill="none"/>
<path d="M1380.1 1100.6H1400.7M1380.1 1131.4H1400.7M1390.4 1100.6V1131.4" stroke="#000" stroke-width="1.8" fill="none"/>
<path d="M1425.4 1062.9H1446M1425.4 1114H1446M1435.7 1062.9V1114" stroke="#000" stroke-width="1.8" fill="none"/>
<path d="M1471 1114H1491.6M1471 1151.4H1491.6M1481.3 1114V1151.4" stroke="#000" stroke-width="1.8" fill="none"/>
<circle cx="1345.1" cy="1072.8" r="2.9" fill="#000"/>
<circle cx="1345.1" cy="1082.9" r="2.9" fill="#000"/>
<circle cx="1345.1" cy="1101.6" r="2.9" fill="#000"/>
<circle cx="1345.1" cy="1140.1" r="2.9" fill="#000"/>
<circle cx="1345.1" cy="1171.6" r="2.9" fill="#000"/>
<circle cx="1385.8" cy="1087.6" r="2.9" fill="#000"/>
<circle cx="1395.5" cy="1088" r="2.9" fill="#000"/>
<circle cx="1390.4" cy="1100.6" r="2.9" fill="#000"/>
<circle cx="1390.4" cy="1147.3" r="2.9" fill="#000"/>
<circle cx="1390.4" cy="1160" r="2.9" fill="#000"/>
<circle cx="1435.7" cy="1026.5" r="2.9" fill="#000"/>
<circle cx="1435.7" cy="1054.7" r="2.9" fill="#000"/>
<circle cx="1435.7" cy="1080" r="2.9" fill="#000"/>
<circle cx="1435.7" cy="1105.1" r="2.9" fill="#000"/>
<circle cx="1435.7" cy="1177.5" r="2.9" fill="#000"/>
<circle cx="1481.3" cy="1052.6" r="2.9" fill="#000"/>
<circle cx="1471.3" cy="1116.8" r="2.9" fill="#000"/>
<circle cx="1491.2" cy="1120.9" r="2.9" fill="#000"/>
<circle cx="1481.3" cy="1121.6" r="2.9" fill="#000"/>
<circle cx="1481.3" cy="1130.8" r="2.9" fill="#000"/>
<circle cx="1481.3" cy="1178.2" r="2.9" fill="#000"/>
<circle cx="1481.3" cy="1210" r="2.9" fill="#000"/>
<text transform="translate(1233 1095) rotate(-90)" font-size="26.5" text-anchor="middle">10<tspan dy="-11.5" font-size="18.5">3</tspan><tspan dy="11.5">/mm<tspan dy="-11.5" font-size="18.5">3</tspan><tspan dy="11.5"></tspan></tspan></text>
</g>
<g id="panel-d">
<text x="0" y="1355.4" font-size="52" font-weight="bold">d</text>
<text x="967" y="1349.3" font-size="40" text-anchor="middle" font-weight="bold" textLength="112" lengthAdjust="spacingAndGlyphs">H &amp; E</text>
<text x="423.7" y="1397.7" font-size="38" text-anchor="middle" textLength="118.6" lengthAdjust="spacingAndGlyphs">Spleen</text>
<text x="963.9" y="1397.7" font-size="38" text-anchor="middle" textLength="115.3" lengthAdjust="spacingAndGlyphs">Kidney</text>
<text x="1497.6" y="1397.7" font-size="38" text-anchor="middle" textLength="270.6" lengthAdjust="spacingAndGlyphs">Skeletal muscle</text>
<text x="23" y="1566.6" font-size="28.2" textLength="90.8" lengthAdjust="spacingAndGlyphs">Control</text>
<text x="35.1" y="1862" font-size="28.2" textLength="61.8" lengthAdjust="spacingAndGlyphs">DOX</text>
<g clip-path="url(#cp_sc)">
<g filter="url(#fred)">
<rect x="161.6" y="1414.2" width="510.3" height="280" fill="#7740b4"/>
</g>
<g filter="url(#ffol)">
<ellipse cx="185.83" cy="1553.5" rx="70.28" ry="169.99" fill="#52289a"/>
<ellipse cx="341.11" cy="1476.68" rx="81.73" ry="63.75" fill="#52289a" transform="rotate(-10 341.11 1476.68)"/>
<ellipse cx="362.36" cy="1612.34" rx="119.32" ry="86.63" fill="#52289a" transform="rotate(-8 362.36 1612.34)"/>
<ellipse cx="303.52" cy="1661.38" rx="71.92" ry="52.3" fill="#52289a"/>
<ellipse cx="421.2" cy="1667.92" rx="55.57" ry="42.5" fill="#52289a"/>
<ellipse cx="574.85" cy="1553.5" rx="81.73" ry="122.59" fill="#52289a" transform="rotate(8 574.85 1553.5)"/>
<ellipse cx="656.57" cy="1582.92" rx="45.77" ry="137.3" fill="#52289a"/>
<ellipse cx="551.96" cy="1434.18" rx="45.77" ry="31.06" fill="#52289a"/>
<ellipse cx="623.88" cy="1437.45" rx="45.77" ry="27.79" fill="#52289a" transform="rotate(20 623.88 1437.45)"/>
<ellipse cx="431.01" cy="1424.37" rx="45.77" ry="24.52" fill="#52289a" transform="rotate(25 431.01 1424.37)"/>
<ellipse cx="555.23" cy="1667.92" rx="68.65" ry="42.5" fill="#52289a"/>
<ellipse cx="489.85" cy="1461.97" rx="31.06" ry="39.23" fill="#6232a8"/>
<ellipse cx="257.75" cy="1465.24" rx="13.08" ry="35.96" fill="#6232a8"/>
</g>
<path d="M460.43 1476.68h0M483.31 1475.04h0M481.68 1525.71h0M617.34 1483.22h0M646.76 1432.55h0M659.84 1470.14h0M243.04 1661.38h0M589.56 1627.05h0M586.29 1530.62h0M558.5 1546.96h0M480.04 1676.09h0M623.88 1543.69h0" stroke="#1c1030" stroke-width="3.2" stroke-linecap="round" fill="none" opacity="0.9"/>
<rect x="166.9" y="1685.4" width="26.9" height="3.7" fill="#fff"/>
<text x="167.6" y="1678.9" font-size="17.5" textLength="48.5" lengthAdjust="spacingAndGlyphs" style="fill:#fff">50 µm</text>
</g>
<rect x="163.6" y="1416.2" width="506.3" height="276" fill="none" stroke="#2a2030" stroke-width="1.8"/>
<g clip-path="url(#cp_sd)">
<g filter="url(#fredd)">
<rect x="161.2" y="1722" width="509" height="280.2" fill="#662c98"/>
</g>
<g filter="url(#ffol)">
<ellipse cx="516.26" cy="1909.35" rx="60.48" ry="52.3" fill="#4e2697"/>
<ellipse cx="434.53" cy="1778.59" rx="104.61" ry="52.3" fill="#4e2697" transform="rotate(8 434.53 1778.59)"/>
<ellipse cx="421.45" cy="1827.63" rx="65.38" ry="31.06" fill="#4e2697"/>
<ellipse cx="535.87" cy="1752.44" rx="39.23" ry="29.42" fill="#4e2697"/>
<ellipse cx="320.11" cy="1879.93" rx="53.94" ry="55.57" fill="#4e2697"/>
<ellipse cx="182.81" cy="1879.93" rx="44.13" ry="88.26" fill="#4e2697"/>
<ellipse cx="189.35" cy="1749.17" rx="45.77" ry="31.06" fill="#4e2697"/>
<ellipse cx="352.8" cy="1984.54" rx="49.04" ry="19.61" fill="#4e2697"/>
<ellipse cx="584.91" cy="1978" rx="42.5" ry="26.15" fill="#5a2da2"/>
<ellipse cx="647.02" cy="1791.67" rx="22.88" ry="42.5" fill="#5a2da2"/>
<ellipse cx="630.67" cy="1893.01" rx="26.15" ry="85" fill="#5e2ea2"/>
</g>
<ellipse cx="516.26" cy="1909.35" rx="62.11" ry="53.94" fill="none" stroke="#a868d8" stroke-width="1.2" opacity="0.8"/>
<path d="M285.79 1963.29h0M293.96 1968.2h0M279.25 1958.39h0M378.96 1978h0M359.34 1961.66h0M254.73 1742.63h0M280.89 1741h0M297.23 1742.63h0M558.75 1814.55h0M630.67 1879.93h0M620.87 1893.01h0M640.48 1840.7h0M264.54 1896.28h0M562.02 1788.4h0M607.79 1981.27h0M398.57 1971.47h0M343 1958.39h0" stroke="#1c1030" stroke-width="3.4" stroke-linecap="round" fill="none" opacity="0.9"/>
<path d="M285.79 1964.27h0" stroke="#120a20" stroke-width="7" stroke-linecap="round" fill="none"/>
<rect x="166" y="1992" width="27" height="4" fill="#fff"/>
</g>
<rect x="163.2" y="1724" width="505" height="276.2" fill="none" stroke="#2a2030" stroke-width="1.8"/>
<g clip-path="url(#cp_kc)"><g filter="url(#fkid)">
<rect x="711.8" y="1414.4" width="509.3" height="279.8" fill="#a342b8"/>
<path d="M1120.87 1588.15h0M924.38 1430.35h0M1237.11 1461.39h0M1052.19 1535.21h0M1024.89 1531.98h0M965.03 1571h0M843.48 1398.95h0M912.41 1655.97h0M1226.03 1620.94h0M701.75 1398.2h0M900.94 1595.17h0M1182.36 1651.57h0M1076.75 1497.47h0M1232.71 1532.32h0M1087.21 1397.71h0M1109.77 1430.54h0M1003.64 1545.49h0M1040.35 1698.27h0M1202.67 1397.23h0M959.92 1606.62h0M705.65 1531.08h0M1225.55 1652.39h0M853.26 1525.59h0M998.91 1513.33h0M761.65 1527.91h0M1151.69 1612.5h0M735.21 1504.92h0M984.12 1711.16h0M1101.81 1498.47h0M1153.03 1647.65h0M709.97 1426.53h0M882.3 1478.63h0M929.93 1504.22h0M1141.44 1574.98h0M700.65 1497.07h0M978.59 1543.26h0M1166.63 1446.84h0M697.69 1475.8h0M744.58 1641.56h0M1080.22 1618.76h0M1177.27 1411h0M774.28 1561.64h0M836.92 1690.46h0M837.1 1576h0M872.66 1594.56h0M1139.78 1530.3h0M1094.25 1545.02h0M757.54 1409.37h0M1149.6 1428.49h0M980.31 1683.54h0M930.05 1621.36h0M1178.66 1564.04h0M836.25 1443.81h0M775.99 1486.98h0M803.31 1543.66h0M1047.5 1569.15h0M954.6 1418.4h0M765.35 1707.51h0M702.5 1621.97h0M1000 1609.68h0M1082.81 1436.19h0M977.2 1660.64h0M817.64 1427.71h0M1068.61 1400.04h0M737.72 1431.54h0M1120.05 1492.89h0M1206.4 1711.76h0M1022.03 1469.99h0M1207.51 1641.69h0M718.47 1564.49h0M888.69 1397.32h0M732.81 1535.2h0M746.05 1678.87h0M1025.07 1591.95h0M726.58 1697.57h0M813.74 1679.16h0M811.97 1697.64h0M1112.79 1639.73h0M989.26 1397.47h0M822.53 1513.42h0M782.96 1434.63h0M1167.65 1591.06h0M852.64 1563.14h0M1193.86 1421.74h0M970.5 1456.34h0M757.54 1616.08h0M942.27 1673.97h0M1240.8 1508.42h0M1222.43 1698.5h0M783.86 1401.29h0M937.22 1599.49h0M732.87 1619.81h0M1138.19 1473.36h0M835.41 1630.17h0M1230.38 1569.07h0M950.66 1531.82h0M1238.07 1400.11h0M993.81 1567.81h0M809.54 1619.98h0M975 1631.78h0M1070.35 1550.13h0M1097.09 1587.18h0M1028.24 1623.26h0M693.47 1566.13h0M786.54 1534.16h0M1178.89 1497.61h0M848 1594.58h0M872.79 1523.11h0M918.44 1578.5h0M933.44 1396.07h0M1000.8 1682.95h0M915.2 1635.96h0M1045.34 1593.66h0M968.24 1521.98h0M753.65 1453.27h0M1220.76 1424.72h0M1141.51 1663.97h0M1074.69 1576.71h0M1012.7 1662.41h0M1111.52 1712.97h0M950.11 1454.17h0M1133.93 1620.8h0M870.23 1412.15h0M737.56 1660.42h0M1036.79 1417.16h0M903.65 1438.22h0M869.75 1632.95h0M788.14 1702.37h0M1183.46 1543.01h0M1017.49 1638.36h0M903.62 1672.93h0M1071.29 1476.95h0M1157.4 1707.11h0M855.55 1684.94h0M962.03 1400.77h0M941.94 1472.1h0M985.09 1438.56h0M1157.78 1517.62h0M837.16 1416.3h0M771.51 1462.63h0M1134.43 1641.58h0M809.95 1563.99h0M1004.21 1710.75h0M1211.12 1525.07h0M1138.61 1444.42h0M1088.85 1637.43h0M1238.74 1550.99h0M1096.57 1519.89h0M722.05 1518.5h0M762.23 1429.42h0M795.64 1665.01h0M792.61 1514.84h0M1238.18 1636.98h0M1239.22 1690.89h0M961.4 1552.1h0M1124.87 1700.48h0M746.73 1699.24h0M798.67 1421.5h0M799.17 1601.77h0M888.8 1534.97h0M764.78 1636.49h0M715.64 1712.81h0M1090.48 1713.81h0M921.53 1558.04h0M1025.48 1714.09h0M1162.59 1394.66h0M1241.03 1586.32h0M1103.72 1447.79h0M923.47 1523.26h0M692.25 1515.58h0M807.51 1525.92h0M1160.55 1574.21h0M760.93 1547.32h0M1029.08 1677.73h0" stroke="#a03fb6" stroke-width="28.16" stroke-linecap="round" fill="none"/>
<path d="M740.74 1596.1h0M1063.12 1457.46h0M1215.92 1503.27h0M834.76 1545.42h0M1122.81 1454.24h0M803.3 1448.69h0M1197.82 1622h0M1039.55 1398.24h0M1016.72 1495.71h0M878.18 1676.59h0M923.39 1476.23h0M1124.22 1399.23h0M1069.95 1599.16h0M1169.37 1688.3h0M1137.88 1713.69h0M887.66 1419.15h0M1014.55 1413h0M941.35 1565.36h0M1194.17 1514.11h0M702.57 1455.06h0M708.27 1586.29h0M835.57 1487.82h0M919.68 1687.5h0M880.31 1652.72h0M904.57 1518.15h0M1000.64 1646h0M951.78 1636.25h0M840 1662.63h0M1171.97 1477.99h0M853.79 1424.49h0M1089.6 1460.75h0M1205.52 1543.84h0M1048.1 1437.29h0M891.12 1627.78h0M858.03 1613.8h0M747.03 1559.76h0M1094.52 1691.86h0M999.35 1457.66h0M959.32 1481.65h0M824.44 1648.09h0M1052.75 1509.29h0M1135.37 1683.02h0M874.87 1566.8h0M864.42 1700.88h0M914.75 1404.31h0M929.37 1541.08h0M855.41 1475.61h0M771.45 1593.97h0M1217.49 1444.82h0M693.63 1704.37h0M1048.1 1631.1h0M1205.63 1578.89h0M903.79 1487.88h0M833.92 1609.16h0M1017.05 1693.7h0M812 1406.43h0M908.91 1614.57h0M746.21 1474.68h0M873.14 1543.31h0M1166.11 1667.26h0M1047.86 1478.14h0M1034.24 1655.7h0M1199.34 1461.7h0M903.34 1551.03h0M1105.15 1671.13h0M929.05 1713.22h0M874.02 1439.27h0M1071.28 1651.6h0M852.72 1503.61h0M783.03 1615.51h0M1218.64 1670.6h0M1019.31 1437.38h0M1047.64 1679.76h0M1105.18 1610.01h0M1093.81 1655.53h0M1015.17 1566.42h0M1142.64 1506h0M975.08 1496.17h0M1127.18 1551.41h0M780.84 1678.14h0M722.71 1447.26h0M1174.77 1526.31h0M1073.94 1676.09h0M769.7 1653.8h0M720.11 1645.38h0M918.47 1450.79h0M694.72 1677.07h0M966.05 1435.67h0M718.76 1667.42h0M1172.75 1625.01h0M957.91 1704.84h0M1215.24 1479.87h0M736.38 1409.66h0M795.85 1466.85h0M799.82 1580.36h0M1183.06 1712.25h0M1227.44 1600.47h0M801.03 1497.14h0M1055.32 1714.15h0M897.95 1456.4h0M797.31 1645.4h0M1117.85 1522.23h0M1194.02 1679.86h0M1076.72 1529.43h0M1153.47 1547.98h0M961.32 1686.01h0M992.81 1418.02h0M718.25 1480.3h0M1236.76 1438.87h0M901.5 1699.03h0M1033.17 1510.41h0M1145.89 1406.92h0M1240.69 1668.14h0M1103.95 1475.88h0M1040.88 1456.39h0M759.16 1508.03h0M1190.87 1440.28h0M1194.41 1601.63h0M870.04 1458.63h0M823.87 1589.75h0M1074.76 1697.12h0M980.62 1581.69h0M883.39 1706.18h0M951.53 1499.5h0M815.58 1481.2h0M1000.03 1588.95h0M1096.05 1418.45h0M997.61 1486.74h0M720.73 1601.49h0M699.05 1649.64h0M933.85 1648.59h0M828.86 1711.89h0M1195.43 1484.42h0M825.23 1464.07h0M1106.32 1569.2h0M891.99 1576.67h0M1156.22 1490.76h0M1122.99 1662.62h0M1032.78 1552.08h0M748.91 1578.31h0M1236.69 1482.37h0M847.87 1707.8h0M957.11 1658.73h0M890.9 1503.65h0M718.14 1546.01h0M1200.26 1659.32h0M1240.96 1712.76h0M1141.65 1594.5h0M954.15 1586.82h0M940.53 1693.56h0M1131.7 1419.07h0M981.18 1609.47h0M856.78 1646h0M862.56 1664.45h0M983.12 1473.09h0M871.85 1500.57h0M844.33 1460.8h0M1112.44 1540.03h0M1063.83 1421.65h0M994.55 1627.8h0M1153.6 1463.42h0M693.64 1602.47h0M855.83 1443.7h0M887.31 1609.07h0M1054.4 1658.17h0M721.02 1396.48h0M729.11 1580.53h0M708.5 1694.19h0M694.24 1438.04h0M854.07 1544.42h0M1058.32 1615.22h0M972.93 1417.73h0M1007.48 1396.18h0M945 1435.17h0" stroke="#a03fb6" stroke-width="24.64" stroke-linecap="round" fill="none"/>
<path d="M1120.87 1588.15h0M924.38 1430.35h0M1237.11 1461.39h0M1052.19 1535.21h0M1024.89 1531.98h0M965.03 1571h0M843.48 1398.95h0M912.41 1655.97h0M1226.03 1620.94h0M701.75 1398.2h0M900.94 1595.17h0M1182.36 1651.57h0M1076.75 1497.47h0M1232.71 1532.32h0M1087.21 1397.71h0M1109.77 1430.54h0M1003.64 1545.49h0M1040.35 1698.27h0M1202.67 1397.23h0M959.92 1606.62h0M705.65 1531.08h0M1225.55 1652.39h0M853.26 1525.59h0M998.91 1513.33h0M761.65 1527.91h0M1151.69 1612.5h0M735.21 1504.92h0M984.12 1711.16h0M1101.81 1498.47h0M1153.03 1647.65h0M709.97 1426.53h0M882.3 1478.63h0M929.93 1504.22h0M1141.44 1574.98h0M700.65 1497.07h0M978.59 1543.26h0M1166.63 1446.84h0M697.69 1475.8h0M744.58 1641.56h0M1080.22 1618.76h0M1177.27 1411h0M774.28 1561.64h0M836.92 1690.46h0M837.1 1576h0M872.66 1594.56h0M1139.78 1530.3h0M1094.25 1545.02h0M757.54 1409.37h0M1149.6 1428.49h0M980.31 1683.54h0M930.05 1621.36h0M1178.66 1564.04h0M836.25 1443.81h0M775.99 1486.98h0M803.31 1543.66h0M1047.5 1569.15h0M954.6 1418.4h0M765.35 1707.51h0M702.5 1621.97h0M1000 1609.68h0M1082.81 1436.19h0M977.2 1660.64h0M817.64 1427.71h0M1068.61 1400.04h0M737.72 1431.54h0M1120.05 1492.89h0M1206.4 1711.76h0M1022.03 1469.99h0M1207.51 1641.69h0M718.47 1564.49h0M888.69 1397.32h0M732.81 1535.2h0M746.05 1678.87h0M1025.07 1591.95h0M726.58 1697.57h0M813.74 1679.16h0M811.97 1697.64h0M1112.79 1639.73h0M989.26 1397.47h0M822.53 1513.42h0M782.96 1434.63h0M1167.65 1591.06h0M852.64 1563.14h0M1193.86 1421.74h0M970.5 1456.34h0M757.54 1616.08h0M942.27 1673.97h0M1240.8 1508.42h0M1222.43 1698.5h0M783.86 1401.29h0M937.22 1599.49h0M732.87 1619.81h0M1138.19 1473.36h0M835.41 1630.17h0M1230.38 1569.07h0M950.66 1531.82h0M1238.07 1400.11h0M993.81 1567.81h0M809.54 1619.98h0M975 1631.78h0M1070.35 1550.13h0M1097.09 1587.18h0M1028.24 1623.26h0M693.47 1566.13h0M786.54 1534.16h0M1178.89 1497.61h0M848 1594.58h0M872.79 1523.11h0M918.44 1578.5h0M933.44 1396.07h0M1000.8 1682.95h0M915.2 1635.96h0M1045.34 1593.66h0M968.24 1521.98h0M753.65 1453.27h0M1220.76 1424.72h0M1141.51 1663.97h0M1074.69 1576.71h0M1012.7 1662.41h0M1111.52 1712.97h0M950.11 1454.17h0M1133.93 1620.8h0M870.23 1412.15h0M737.56 1660.42h0M1036.79 1417.16h0M903.65 1438.22h0M869.75 1632.95h0M788.14 1702.37h0M1183.46 1543.01h0M1017.49 1638.36h0M903.62 1672.93h0M1071.29 1476.95h0M1157.4 1707.11h0M855.55 1684.94h0M962.03 1400.77h0M941.94 1472.1h0M985.09 1438.56h0M1157.78 1517.62h0M837.16 1416.3h0M771.51 1462.63h0M1134.43 1641.58h0M809.95 1563.99h0M1004.21 1710.75h0M1211.12 1525.07h0M1138.61 1444.42h0M1088.85 1637.43h0M1238.74 1550.99h0M1096.57 1519.89h0M722.05 1518.5h0M762.23 1429.42h0M795.64 1665.01h0M792.61 1514.84h0M1238.18 1636.98h0M1239.22 1690.89h0M961.4 1552.1h0M1124.87 1700.48h0M746.73 1699.24h0M798.67 1421.5h0M799.17 1601.77h0M888.8 1534.97h0M764.78 1636.49h0M715.64 1712.81h0M1090.48 1713.81h0M921.53 1558.04h0M1025.48 1714.09h0M1162.59 1394.66h0M1241.03 1586.32h0M1103.72 1447.79h0M923.47 1523.26h0M692.25 1515.58h0M807.51 1525.92h0M1160.55 1574.21h0M760.93 1547.32h0M1029.08 1677.73h0" stroke="#ba56c8" stroke-width="25.56" stroke-linecap="round" fill="none"/>
<path d="M740.74 1596.1h0M1063.12 1457.46h0M1215.92 1503.27h0M834.76 1545.42h0M1122.81 1454.24h0M803.3 1448.69h0M1197.82 1622h0M1039.55 1398.24h0M1016.72 1495.71h0M878.18 1676.59h0M923.39 1476.23h0M1124.22 1399.23h0M1069.95 1599.16h0M1169.37 1688.3h0M1137.88 1713.69h0M887.66 1419.15h0M1014.55 1413h0M941.35 1565.36h0M1194.17 1514.11h0M702.57 1455.06h0M708.27 1586.29h0M835.57 1487.82h0M919.68 1687.5h0M880.31 1652.72h0M904.57 1518.15h0M1000.64 1646h0M951.78 1636.25h0M840 1662.63h0M1171.97 1477.99h0M853.79 1424.49h0M1089.6 1460.75h0M1205.52 1543.84h0M1048.1 1437.29h0M891.12 1627.78h0M858.03 1613.8h0M747.03 1559.76h0M1094.52 1691.86h0M999.35 1457.66h0M959.32 1481.65h0M824.44 1648.09h0M1052.75 1509.29h0M1135.37 1683.02h0M874.87 1566.8h0M864.42 1700.88h0M914.75 1404.31h0M929.37 1541.08h0M855.41 1475.61h0M771.45 1593.97h0M1217.49 1444.82h0M693.63 1704.37h0M1048.1 1631.1h0M1205.63 1578.89h0M903.79 1487.88h0M833.92 1609.16h0M1017.05 1693.7h0M812 1406.43h0M908.91 1614.57h0M746.21 1474.68h0M873.14 1543.31h0M1166.11 1667.26h0M1047.86 1478.14h0M1034.24 1655.7h0M1199.34 1461.7h0M903.34 1551.03h0M1105.15 1671.13h0M929.05 1713.22h0M874.02 1439.27h0M1071.28 1651.6h0M852.72 1503.61h0M783.03 1615.51h0M1218.64 1670.6h0M1019.31 1437.38h0M1047.64 1679.76h0M1105.18 1610.01h0M1093.81 1655.53h0M1015.17 1566.42h0M1142.64 1506h0M975.08 1496.17h0M1127.18 1551.41h0M780.84 1678.14h0M722.71 1447.26h0M1174.77 1526.31h0M1073.94 1676.09h0M769.7 1653.8h0M720.11 1645.38h0M918.47 1450.79h0M694.72 1677.07h0M966.05 1435.67h0M718.76 1667.42h0M1172.75 1625.01h0M957.91 1704.84h0M1215.24 1479.87h0M736.38 1409.66h0M795.85 1466.85h0M799.82 1580.36h0M1183.06 1712.25h0M1227.44 1600.47h0M801.03 1497.14h0M1055.32 1714.15h0M897.95 1456.4h0M797.31 1645.4h0M1117.85 1522.23h0M1194.02 1679.86h0M1076.72 1529.43h0M1153.47 1547.98h0M961.32 1686.01h0M992.81 1418.02h0M718.25 1480.3h0M1236.76 1438.87h0M901.5 1699.03h0M1033.17 1510.41h0M1145.89 1406.92h0M1240.69 1668.14h0M1103.95 1475.88h0M1040.88 1456.39h0M759.16 1508.03h0M1190.87 1440.28h0M1194.41 1601.63h0M870.04 1458.63h0M823.87 1589.75h0M1074.76 1697.12h0M980.62 1581.69h0M883.39 1706.18h0M951.53 1499.5h0M815.58 1481.2h0M1000.03 1588.95h0M1096.05 1418.45h0M997.61 1486.74h0M720.73 1601.49h0M699.05 1649.64h0M933.85 1648.59h0M828.86 1711.89h0M1195.43 1484.42h0M825.23 1464.07h0M1106.32 1569.2h0M891.99 1576.67h0M1156.22 1490.76h0M1122.99 1662.62h0M1032.78 1552.08h0M748.91 1578.31h0M1236.69 1482.37h0M847.87 1707.8h0M957.11 1658.73h0M890.9 1503.65h0M718.14 1546.01h0M1200.26 1659.32h0M1240.96 1712.76h0M1141.65 1594.5h0M954.15 1586.82h0M940.53 1693.56h0M1131.7 1419.07h0M981.18 1609.47h0M856.78 1646h0M862.56 1664.45h0M983.12 1473.09h0M871.85 1500.57h0M844.33 1460.8h0M1112.44 1540.03h0M1063.83 1421.65h0M994.55 1627.8h0M1153.6 1463.42h0M693.64 1602.47h0M855.83 1443.7h0M887.31 1609.07h0M1054.4 1658.17h0M721.02 1396.48h0M729.11 1580.53h0M708.5 1694.19h0M694.24 1438.04h0M854.07 1544.42h0M1058.32 1615.22h0M972.93 1417.73h0M1007.48 1396.18h0M945 1435.17h0" stroke="#ba56c8" stroke-width="22.04" stroke-linecap="round" fill="none"/>
<path d="M1120.96 1588.49h0M923.19 1429.32h0M1052.08 1535.46h0M1025.16 1532.33h0M964.38 1571.33h0M842.92 1398.61h0M912.82 1656.21h0M1226.13 1621.1h0M702.79 1399.4h0M900.89 1595.26h0M1076.95 1497.48h0M1233.03 1533.14h0M1110.23 1430.26h0M1004.17 1545.58h0M1040.2 1697.94h0M959.89 1606.05h0M705.06 1531.68h0M1225.09 1652.69h0M854.27 1524.98h0M997.56 1513.6h0M760.83 1528.09h0M1150.72 1613.25h0M734.97 1504.66h0M984.7 1710.51h0M1101.85 1499.08h0M710.62 1426.39h0M881.8 1477.81h0M930.44 1504.26h0M1142.16 1574.97h0M979.48 1543.64h0M1166.36 1446.98h0M698.13 1476.82h0M1080.41 1619.28h0M1176.54 1411.6h0M775.27 1562.78h0M837.2 1689.99h0M838.37 1576.21h0M872.97 1594.11h0M1140.81 1530.69h0M1094.08 1545.1h0M757.05 1408.91h0M1151.12 1428.33h0M980.47 1683.66h0M929.98 1622.22h0M1176.72 1564.18h0M835.5 1444.51h0M775.68 1487.63h0M803.96 1543.23h0M1047.33 1569.1h0M954.85 1417.66h0M765.53 1707.27h0M702.22 1621.22h0M1083.84 1435.72h0M977.04 1661.13h0M817.98 1427.98h0M1069.04 1400.52h0M737.51 1431.13h0M1206.18 1710.83h0M1022.36 1470.47h0M1207.28 1641.92h0M719.04 1564.86h0M887.9 1397.49h0M733.5 1534.22h0M745.47 1678.72h0M1024.07 1592.08h0M727.22 1697.93h0M813.49 1679.25h0M811.93 1697.78h0M1111.75 1640.05h0M990.16 1398.34h0M823.33 1513.5h0M782.66 1434.4h0M1168 1591.19h0M853.11 1563.39h0M1193.86 1422.04h0M971.01 1455.8h0M758.02 1616.49h0M941.62 1674.85h0M1240.51 1509.43h0M1222.71 1698.23h0M783.5 1401.57h0M936.84 1599.07h0M732.06 1620.42h0M1137.78 1472.23h0M835.36 1630.05h0M1230.76 1569.33h0M950.42 1531.83h0M1237.61 1400.55h0M995.1 1567.32h0M808.52 1619.44h0M975.96 1632.03h0M1071.08 1549.79h0M1096.99 1586.41h0M1028.63 1622.92h0M693.52 1565.69h0M1179.3 1496.76h0M849.27 1593.91h0M872.73 1523.34h0M918.62 1577.86h0M933.45 1395.64h0M1000.64 1682.64h0M914.47 1636.38h0M968.22 1522.15h0M753.92 1453.4h0M1140.49 1664.04h0M1075.8 1576.18h0M1013.25 1663.74h0M1111.69 1712.7h0M949.62 1454.45h0M1135.51 1620.39h0M869.7 1413.18h0M737.79 1660.12h0M1037.72 1417.28h0M904.68 1438.45h0M870.64 1632.01h0M788.65 1702.54h0M1184.5 1543.69h0M1017.58 1638.54h0M904.58 1673.06h0M1071.84 1477.08h0M1157.23 1705.79h0M962.46 1399.81h0M941.93 1471.25h0M985.13 1437.44h0M1157.73 1516.93h0M837.16 1417.1h0M771.19 1462.54h0M1133.88 1641.97h0M810.44 1564.4h0M1004.3 1711.53h0M1211.97 1525.43h0M1139.4 1444.63h0M1089.49 1637.54h0M1238.86 1549.85h0M1097.22 1519.6h0M721.98 1518.08h0M762.27 1428.81h0M795.64 1665.24h0M792.72 1514.73h0M1239.27 1690.56h0M961.14 1551.99h0M1124.98 1700.53h0M747.07 1700.17h0M800.09 1421.51h0M798.92 1602.26h0M888.09 1535.11h0M765.77 1636.57h0M714.3 1713.85h0M1090.12 1714.53h0M921.82 1557.59h0M1024.5 1714.27h0M1162.47 1396.16h0M1241.33 1586.92h0M1103.62 1448.15h0M923.13 1523.52h0M692.4 1516.11h0M806.36 1526.86h0M1160.15 1574.81h0M761.33 1548.57h0M741.45 1595.59h0M1063.4 1458.37h0M1215.47 1502.97h0M1123.15 1454.93h0M803.17 1448.1h0M1198.35 1621.66h0M1040.15 1398.53h0M924.4 1477.13h0M1124.3 1398.32h0M1070.44 1600.67h0M1170.2 1688.14h0M1138.47 1713.23h0M887.83 1419.38h0M1014.86 1413.39h0M940.99 1566.72h0M1194.2 1513.99h0M702.51 1455.5h0M836.21 1488.02h0M919.12 1687.79h0M880.63 1653.05h0M904.8 1518.92h0M1000.95 1646.44h0M951.98 1636.33h0M841.03 1663.51h0M1170.5 1477.86h0M855.39 1423.71h0M1088.93 1460.66h0M1204.13 1543.98h0M1048.77 1437.47h0M890.81 1628.02h0M858.04 1613.69h0M1094.31 1691.38h0M1000 1456.31h0M960.61 1481.49h0M825.23 1647.81h0M1053.8 1509.74h0M876.05 1565.83h0M864.89 1701.14h0M914.48 1405.33h0M929.49 1540.69h0M1217.34 1445.46h0M694.81 1704.09h0M1047.74 1630.72h0M1205.58 1578.64h0M902.77 1487.42h0M833.09 1608.73h0M1017.62 1692.82h0M908.91 1614.19h0M746.23 1474.04h0M873.28 1543.31h0M1165.82 1667.02h0M1033.69 1655.56h0M1199.2 1462.37h0M903.6 1550.85h0M1105.56 1671.08h0M928.85 1713.8h0M873.24 1439.79h0M853.84 1502.62h0M784.45 1616.71h0M1218.64 1670.16h0M1019.13 1438.58h0M1046.92 1679.83h0M1105.22 1609.99h0M1094.22 1656.31h0M1015.78 1566.49h0M1143.33 1505.88h0M1128.1 1550.9h0M781.29 1679.05h0M722.18 1447.4h0M1175.37 1526.07h0M1073.77 1675.65h0M769.21 1653.78h0M719.62 1644.19h0M919.35 1451.18h0M694.98 1677.34h0M967.43 1435.71h0M718.92 1667.26h0M1173.19 1624.53h0M958.23 1705.48h0M1215.21 1480.09h0M736.26 1409.22h0M795.47 1467.2h0M799.57 1581.1h0M1226.41 1599.91h0M800.55 1497.83h0M1118.02 1522.49h0M1194.81 1679.49h0M1154.4 1547.8h0M961.48 1686.16h0M992.34 1418.68h0M718.3 1479.99h0M1237.99 1438.96h0M901.55 1699.7h0M1145.97 1406.66h0M1240.61 1667.9h0M1104.13 1475.64h0M1041.72 1455.72h0M759.18 1507.77h0M1191.05 1439.36h0M1194.48 1600.91h0M869.31 1459.16h0M823.57 1588.74h0M1074.56 1696.92h0M980.48 1583.18h0M882.85 1705.99h0M950.36 1498.2h0M1000.01 1589.63h0M1096.49 1418.22h0M996.83 1486.45h0M698.23 1648.63h0M934.38 1648.89h0M829.45 1711.77h0M1194.41 1483.7h0M1105.82 1569h0M892.76 1575.83h0M1156.05 1491.71h0M1123.94 1662.04h0M1031.24 1551.45h0M749.38 1577.97h0M1236.48 1481.85h0M847.5 1707.43h0M957.09 1658.69h0M891.44 1503.04h0M718.32 1546.68h0M1201.54 1659.17h0M1240.49 1713.34h0M1142.3 1594.2h0M955.1 1585.18h0M939.91 1693.19h0M1131.29 1418.95h0M980.46 1609.3h0M855.96 1646.77h0M862.61 1664.14h0M983.87 1473.64h0M872.22 1499.61h0M843.78 1461.02h0M1112.72 1540.06h0M993.15 1627.4h0M1153.26 1463.5h0M693.3 1602.48h0M855.67 1443.93h0M886.44 1608.7h0M1054.63 1658.94h0M720.29 1396.62h0M729.75 1580.98h0M708.52 1693.63h0M693.36 1438.67h0M853.16 1544.02h0M1057.91 1614.86h0M1008 1396.47h0M945.92 1435.68h0" stroke="#f0e0f3" stroke-width="5.8" stroke-linecap="round" fill="none" opacity="0.92"/>
<path d="M1119.44 1590.12h0M1123.14 1590.12h0M1123.84 1589.87h0M920.34 1428.42h0M921.45 1431.51h0M926.05 1429.87h0M1054.06 1537.14h0M1050 1535.28h0M1049.27 1535.01h0M1022.79 1534.79h0M1024.89 1530.17h0M1023.53 1530.19h0M965.68 1569.44h0M964.76 1573.27h0M964.04 1567.68h0M845.21 1399.2h0M841.14 1396.41h0M844.46 1400.65h0M909.65 1655.76h0M911.01 1658.78h0M911.29 1654.55h0M1228.58 1620.51h0M1223.81 1618.56h0M1227.51 1619.97h0M700.44 1398.12h0M701.66 1396.37h0M706.1 1400.91h0M898.59 1593.93h0M900.97 1592.4h0M904.15 1594.14h0M1078.69 1497.31h0M1078.22 1500.23h0M1073.97 1497.76h0M1229.88 1533.17h0M1232.41 1535.4h0M1236.57 1533.36h0M1111.64 1429.21h0M1108.59 1431.06h0M1108.42 1430.01h0M1001.34 1545.46h0M1003.26 1548.03h0M1002.48 1542.84h0M1040.45 1695.02h0M1038.58 1695.9h0M1042.15 1695.01h0M960.93 1604.46h0M962.34 1606.96h0M959.24 1609.24h0M706.7 1530.75h0M704.92 1533.68h0M702.37 1530.22h0M1221.78 1653.64h0M1222.48 1650.81h0M1226.04 1651.03h0M856.69 1526.14h0M853.22 1528.16h0M853.73 1526.84h0M997.73 1517.14h0M998.25 1510.47h0M997.95 1511.35h0M761.83 1526.52h0M763.31 1527.36h0M758.39 1529.35h0M1149.16 1611.05h0M1148.47 1615.99h0M1151.37 1611.39h0M737.06 1506.89h0M736.41 1506.34h0M736.89 1501.53h0M987.11 1709.7h0M986.93 1710.47h0M987.22 1710.37h0M1099.92 1496.87h0M1100.99 1497.45h0M1103.12 1501.05h0M708.45 1428.61h0M712.53 1427.7h0M713.82 1426.23h0M879.42 1475.93h0M883.55 1477.48h0M879.26 1476.8h0M929.85 1505.97h0M928.6 1504.38h0M927.62 1505.73h0M1140.37 1574.45h0M1142.8 1576.94h0M1141.04 1577.74h0M980.79 1546.49h0M977.3 1545.65h0M981.43 1546.7h0M1165.54 1444.34h0M1167.5 1445.63h0M1165.22 1450.27h0M699.42 1475.27h0M700.29 1474.8h0M701.27 1477.19h0M1081.39 1616.5h0M1079.62 1617.67h0M1081.57 1621.76h0M1174.09 1412.07h0M1177.89 1409.25h0M1175.32 1408.29h0M774.65 1564.59h0M776.86 1565.12h0M778.09 1563.19h0M839.1 1689.25h0M838.8 1690.84h0M838.58 1692.8h0M836.13 1574.99h0M837.08 1574.59h0M837.84 1578.32h0M876.25 1592.84h0M870.81 1594.6h0M872.66 1592.03h0M1140.34 1529.01h0M1138.28 1530.25h0M1142.74 1531.39h0M1092.42 1544.12h0M1093.61 1548.41h0M1096.94 1544.6h0M754.77 1411.14h0M754.27 1409.94h0M759.58 1409.62h0M1148.66 1428.17h0M1149.36 1425.7h0M1151.12 1431.56h0M983.19 1684.87h0M979.21 1685.24h0M977.64 1682.4h0M933.16 1620.89h0M932.06 1619.5h0M929.6 1619.05h0M1175.71 1560.66h0M1177.44 1562.21h0M1178.28 1561.76h0M834.37 1445.88h0M836.78 1441.67h0M833.58 1442.73h0M778.98 1488.89h0M777.59 1487.79h0M776.77 1490.24h0M804.27 1539.54h0M802.54 1546.34h0M801.44 1544.74h0M1046.11 1565.99h0M1047.27 1566.33h0M1049.19 1571.17h0M954.96 1414.93h0M955.33 1420.16h0M957.78 1418.09h0M767.54 1709.37h0M764.54 1708.88h0M767.59 1709.35h0M700.66 1622.15h0M703.23 1623.63h0M700.1 1621.45h0M1083.63 1437.83h0M1083.99 1439.34h0M1083.43 1438.52h0M974.29 1659.38h0M978.74 1660.53h0M974.49 1661.49h0M820.55 1428.62h0M820.21 1428.46h0M817.28 1426.27h0M1067.95 1397.71h0M1070.78 1401.85h0M1067.1 1400.11h0M737.6 1428.37h0M736.41 1429.66h0M739.94 1431.47h0M1203.42 1710.45h0M1203.85 1712.41h0M1208.46 1712.58h0M1022.04 1472.26h0M1019.32 1472.46h0M1020.84 1471.73h0M1205.36 1639.92h0M1208.02 1638.49h0M1205.42 1638.98h0M716.14 1562.88h0M717.52 1563.31h0M720.13 1562.71h0M885.96 1396.04h0M884.82 1397.97h0M884.31 1397.94h0M733.53 1536.05h0M732.32 1532.48h0M731.29 1535.93h0M746.67 1677.37h0M747.56 1678.97h0M745.56 1680.62h0M1024.53 1590.34h0M1021.3 1590.89h0M1022.88 1593.67h0M727.23 1700.7h0M725.24 1697.25h0M724.33 1699.65h0M816.9 1680.5h0M813.11 1681.04h0M810.82 1679.49h0M812.11 1694.2h0M809.7 1697.39h0M812.85 1696.18h0M1110.9 1643.37h0M1110.18 1643.22h0M1115.31 1641.14h0M988.52 1397.78h0M989.39 1400.33h0M991.64 1401.53h0M823.14 1511.03h0M823.52 1515.92h0M826.32 1512.19h0M782.71 1432.05h0M782.32 1437.14h0M783.1 1436.23h0M1165.81 1593.05h0M1165.25 1591.77h0M1166.04 1590.48h0M855.69 1561.54h0M855.26 1562.48h0M852.43 1560.57h0M1193.93 1419.59h0M1197.38 1423h0M1191.06 1421.42h0M972.58 1454.17h0M972.74 1456.41h0M971.58 1453.93h0M758.89 1614.91h0M756.12 1613.62h0M755.77 1616.48h0M940.63 1672.33h0M943.62 1677.24h0M943.81 1672.65h0M1241.14 1505.81h0M1239.7 1511.83h0M1242.44 1510.27h0M1223.22 1701.01h0M1221.72 1700.15h0M1221.83 1700.66h0M784.67 1399.1h0M786.47 1402.34h0M780.26 1402.79h0M934.94 1596.75h0M936.05 1600.66h0M935.54 1597.44h0M733.63 1618.88h0M733.02 1617.8h0M735.47 1620.87h0M1140.18 1472.83h0M1139.5 1470.36h0M1135.43 1472.75h0M836.56 1631.87h0M832.83 1630.68h0M836.23 1628.19h0M1234.22 1569.87h0M1230.53 1566.17h0M1228.57 1567.95h0M953.5 1533.43h0M947 1533.41h0M950.15 1535.51h0M1239.23 1401.78h0M1233.88 1400.03h0M1236.04 1401.67h0M993.65 1570.28h0M997.68 1565.86h0M991.76 1566.15h0M808.81 1615.85h0M807.71 1622.55h0M806.48 1617.4h0M973.98 1632.45h0M978.11 1632.48h0M976.23 1634.74h0M1072.77 1547.25h0M1071.86 1552.28h0M1070.17 1552.69h0M1100.62 1585.96h0M1100.09 1588.36h0M1096.05 1582.95h0M1028.81 1621.16h0M1025.67 1621.73h0M1028.75 1625.54h0M691.04 1565.64h0M693.64 1567.45h0M691.79 1563.1h0M1180.41 1499.1h0M1177.7 1494.51h0M1179.84 1499.19h0M848.83 1595.69h0M850.63 1595.3h0M847.48 1591.55h0M870.99 1522.79h0M870.86 1522.32h0M870.62 1523.5h0M921.63 1577.04h0M916.13 1576.36h0M917.16 1576.62h0M931.65 1397.35h0M934.32 1397.57h0M934.45 1392.24h0M1002.93 1680.18h0M998.84 1681.94h0M1000.54 1680.75h0M912.33 1633.43h0M917.73 1637.16h0M912.64 1636.53h0M969.86 1519.11h0M967.19 1519.94h0M969.27 1524.6h0M754.77 1450.96h0M754.25 1450.51h0M753.16 1450.66h0M1137.26 1664.49h0M1138.26 1663.69h0M1138.6 1663.91h0M1072.47 1577.31h0M1072.82 1576.4h0M1078.18 1576.36h0M1013.02 1661.23h0M1010.74 1663.57h0M1010.86 1662.3h0M1112.16 1715.69h0M1110.4 1714.42h0M1113.07 1714.76h0M949.37 1456.42h0M952.39 1454.15h0M948.37 1456.49h0M1137.7 1621.03h0M1132.38 1619.74h0M1133.11 1617.76h0M869.84 1410.85h0M870.69 1411.45h0M866.84 1413.97h0M738.85 1657.54h0M736.56 1657.66h0M736.91 1657.06h0M1038.26 1414.4h0M1035.16 1416.27h0M1037.71 1414.53h0M901.9 1436.96h0M902.99 1437.57h0M903.08 1437.7h0M872.58 1635.09h0M871.38 1635.18h0M869.52 1633.44h0M790.8 1702.62h0M787.22 1699.91h0M788.36 1706.17h0M1182.92 1542.52h0M1186.42 1541.3h0M1181.64 1545.71h0M1018.52 1641.25h0M1014.93 1638.94h0M1014.43 1639.36h0M903.37 1674.48h0M907.14 1671.46h0M907.15 1675.35h0M1071.03 1474.67h0M1074.91 1476.45h0M1069.51 1475.38h0M1159.89 1705.46h0M1158.98 1702.77h0M1156.6 1707.74h0M960.49 1401.09h0M960.63 1396.84h0M961.32 1396.92h0M942.31 1473.25h0M939.87 1469.72h0M944.62 1473.3h0M982.14 1435.36h0M986.9 1434.5h0M987.5 1436.92h0M1160.87 1518.29h0M1157.12 1515.22h0M1161.04 1517.52h0M835.84 1419.57h0M833.7 1416.97h0M835.09 1419.08h0M771.63 1460.17h0M772.69 1459.94h0M769.1 1464.23h0M1135.99 1643.75h0M1134.4 1644.89h0M1131.6 1640.53h0M812.43 1565.51h0M810.66 1560.65h0M811.85 1565.95h0M1003.05 1708.82h0M1005.41 1709.85h0M1001.09 1710.62h0M1209.21 1525.77h0M1212.18 1529.19h0M1212.11 1528.19h0M1141.21 1442.07h0M1137.15 1444.08h0M1139.14 1447.95h0M1088.9 1635.88h0M1090.22 1635.27h0M1091.85 1640.36h0M1238.12 1552.89h0M1242.56 1550.51h0M1235.4 1549.83h0M1093.72 1519.09h0M1099.21 1518.96h0M1097.94 1517.27h0M723.52 1519.05h0M723.02 1520.19h0M721.52 1515.16h0M762.85 1431.1h0M761.46 1427.22h0M762.13 1425.47h0M798.02 1663.57h0M794.27 1664.01h0M796.11 1663.42h0M791.63 1513.14h0M790.12 1516.32h0M790.84 1514.24h0M1237.85 1692.15h0M1236.07 1691.75h0M1239.72 1693.45h0M958.99 1554.78h0M961.17 1554.35h0M960.93 1549.1h0M1123.53 1699.05h0M1122 1702.7h0M1123.99 1698.56h0M745.06 1703.08h0M746.63 1703.59h0M748.07 1696.79h0M801.48 1419.49h0M797.28 1420.4h0M799.38 1419.31h0M796.53 1601.25h0M796.8 1602.66h0M798.96 1604.13h0M885.1 1535.36h0M889.65 1532.85h0M887.14 1537.13h0M766.85 1638.46h0M763.66 1639.25h0M764.9 1638.2h0M712.6 1714.41h0M713 1717.25h0M715.27 1711.5h0M1090.23 1712.29h0M1091.87 1715.15h0M1092.93 1714.52h0M922.23 1555.77h0M919.22 1559.36h0M924.02 1557.04h0M1028.02 1713.78h0M1022.16 1716.32h0M1026.25 1711.87h0M1160.61 1396.21h0M1164.62 1396.44h0M1164.99 1394.53h0M1243.13 1583.91h0M1242.41 1583.45h0M1239.92 1590.3h0M1102.73 1450.68h0M1103.83 1446.25h0M1104.34 1450.16h0M925.37 1521.18h0M924.46 1521.59h0M919.71 1524.85h0M695.93 1515.42h0M691.96 1514.41h0M691.64 1512.5h0M810.04 1527.14h0M803.4 1528.33h0M803.55 1525.86h0M1161.47 1572.34h0M1162.87 1573.55h0M1162.94 1574.68h0M763.43 1549.76h0M762.73 1549.69h0M761.39 1551.25h0M740.4 1593.67h0M740.82 1598.32h0M743.32 1594.39h0M1066.58 1457.62h0M1062.53 1461.33h0M1066.36 1460.45h0M1211.82 1502.96h0M1215.29 1506.6h0M1218.53 1501.62h0M1126.55 1453.69h0M1124.35 1452.18h0M1123.4 1457.07h0M805.85 1446.3h0M802.19 1446.43h0M800.25 1446.83h0M1199.95 1624.79h0M1199.64 1619.33h0M1200.57 1621.28h0M1040.58 1395.38h0M1038.54 1397.51h0M1039.71 1400.41h0M926.13 1477.34h0M922.46 1477.59h0M921.85 1477.81h0M1127.23 1398.75h0M1126.87 1395.94h0M1127.67 1399.85h0M1068.31 1601.59h0M1069.27 1603.28h0M1070.07 1602.93h0M1170.52 1691.78h0M1169.92 1685.47h0M1168.18 1687.63h0M1137.71 1711.08h0M1135.35 1715.3h0M1140.27 1715.93h0M886.26 1420.17h0M886.51 1417.13h0M887.99 1422.18h0M1016.54 1414.71h0M1017.92 1413.87h0M1013.3 1414.91h0M944.23 1566.89h0M941.71 1570.36h0M944.4 1567.54h0M1194.14 1512.1h0M1192.19 1512.07h0M1195.36 1512.52h0M702.68 1458.18h0M701.03 1453.48h0M705.54 1455.29h0M834.56 1490.09h0M834.66 1489.96h0M838.34 1487.51h0M919.98 1689.9h0M922.58 1688.88h0M919.02 1685.88h0M879.21 1650.75h0M878.6 1653.92h0M881.28 1655.6h0M907.16 1519.98h0M903.95 1522.15h0M906.94 1518.6h0M1001.69 1642.78h0M1003.8 1645.84h0M1003.37 1646.57h0M950.23 1635.95h0M949.84 1635.02h0M952.24 1639.89h0M843.85 1664.92h0M843.19 1665.15h0M840.88 1660.35h0M1173.37 1476.22h0M1167.88 1478.66h0M1167.49 1476.69h0M854.32 1421.99h0M857.52 1422.65h0M852.85 1421.41h0M1088.19 1463.57h0M1088.39 1458.74h0M1091.33 1457.83h0M1204.7 1541.7h0M1202.92 1545.73h0M1202.24 1541.78h0M1051.09 1436.44h0M1046.95 1436.93h0M1050.37 1435.03h0M887.93 1627.9h0M893.1 1626.67h0M890.71 1624.83h0M860.38 1613.57h0M859.84 1613.25h0M859.8 1612.14h0M1096.35 1690.77h0M1096.03 1690.74h0M1094.97 1688.89h0M1001.44 1453.35h0M1002.53 1456.79h0M1000.51 1452.87h0M962.36 1482.46h0M962.18 1479.8h0M957.07 1480.26h0M827.31 1649.19h0M823.19 1647.95h0M823.84 1644.75h0M1056.3 1511.05h0M1056.91 1511.86h0M1052.09 1510.15h0M877.69 1566.55h0M874.21 1563.91h0M873.64 1564.57h0M867.09 1703.48h0M863.91 1698.77h0M862.19 1702.06h0M914.34 1403.52h0M913.09 1401.85h0M911.42 1404.44h0M927.56 1542.42h0M928.29 1538.61h0M927.84 1541.26h0M1215.36 1445.35h0M1218.02 1447.08h0M1215.42 1448.42h0M696.58 1704.19h0M694.72 1701.13h0M691.89 1702.72h0M1045.51 1630.64h0M1048.12 1633.93h0M1047.54 1628.27h0M1208.29 1581.21h0M1206.66 1576.54h0M1203.13 1577.81h0M902.84 1489.39h0M901.38 1488.99h0M904.29 1489.3h0M833.63 1606.8h0M831.88 1610.49h0M831 1608.97h0M1017.62 1689.7h0M1020.95 1694.05h0M1015.37 1694.88h0M909.79 1612.39h0M910.74 1616.1h0M910.86 1614.58h0M744.4 1473.58h0M745.82 1470.71h0M745.58 1471.26h0M871.17 1541.9h0M871.57 1540.72h0M870.68 1543.85h0M1167.54 1669.49h0M1164.11 1669.93h0M1167.64 1668.4h0M1036 1655.63h0M1035.37 1654.35h0M1035.38 1653.03h0M1197.14 1459.73h0M1200.31 1464.81h0M1200.87 1464.95h0M905.76 1551.44h0M904.43 1553.05h0M903.49 1553.68h0M1105.09 1667.92h0M1106.24 1667.55h0M1102.32 1671.89h0M925.5 1714.59h0M928.72 1711.71h0M931.17 1712.31h0M871.41 1438.45h0M871.94 1438.06h0M871.09 1437.29h0M855.04 1500.99h0M853.14 1504.44h0M852.87 1504.8h0M783.03 1614.63h0M785.47 1618.59h0M784.75 1613.78h0M1216.88 1669.4h0M1218.61 1667.15h0M1216.07 1671.39h0M1021.28 1437.12h0M1021.65 1440.35h0M1020.32 1437.1h0M1048.21 1683.29h0M1044.92 1681.57h0M1045.77 1681.79h0M1106.25 1607.52h0M1106.16 1611.66h0M1103.2 1610.72h0M1094.4 1659.86h0M1091.67 1657.36h0M1092.73 1659.15h0M1019 1568.3h0M1013.01 1568.35h0M1017.45 1563.42h0M1145.72 1504.82h0M1144.56 1507.56h0M1140.03 1504.78h0M1128.46 1547.23h0M1131.03 1551.67h0M1125.99 1552.85h0M781.18 1681.12h0M778.98 1678.77h0M781.15 1676.91h0M720.17 1444.38h0M720.34 1445.67h0M723.19 1445.33h0M1175.51 1528.7h0M1177.98 1524.21h0M1176.84 1527.75h0M1073.1 1672.2h0M1076.5 1674.5h0M1076.36 1675.96h0M770.81 1656.78h0M771.84 1651.52h0M767.4 1653.31h0M722.47 1642.58h0M719.13 1647.28h0M722.36 1646.57h0M921.13 1453.58h0M919.3 1447.79h0M920.07 1453.09h0M691.86 1678.12h0M692.15 1676.68h0M695.13 1679.71h0M965.94 1437.3h0M963.8 1436.09h0M970.13 1437.72h0M718.91 1670.71h0M718.45 1669.24h0M716.66 1668.5h0M1175.59 1626.08h0M1175.49 1622.79h0M1172 1621.55h0M956 1707.15h0M960.99 1707.32h0M955.34 1705.22h0M1216.67 1483.39h0M1218.33 1478.68h0M1215.92 1483.66h0M736.79 1411.01h0M734.68 1408.18h0M732.81 1409.15h0M792.4 1466.5h0M793.49 1467.94h0M798.15 1465.97h0M800.66 1578.24h0M796.55 1578.87h0M798.52 1583.11h0M1224.22 1600.6h0M1224.13 1602.61h0M1223.41 1599.55h0M802.71 1498.53h0M802.06 1496.07h0M799.97 1500.05h0M1119.59 1520h0M1117.61 1519.95h0M1120.47 1523.06h0M1195.56 1677.4h0M1195.87 1681.62h0M1192.6 1678.49h0M1152.43 1548.12h0M1151.99 1546.29h0M1156.5 1546.65h0M961.13 1688.27h0M963.64 1685.59h0M962.1 1687.92h0M991.65 1416.14h0M995.01 1419.11h0M993.58 1420.16h0M717.26 1483.37h0M718.43 1477.19h0M717.63 1482.84h0M1239.85 1441.48h0M1234.98 1438.19h0M1237.74 1435.83h0M901.28 1697.96h0M903.39 1696.93h0M903.43 1698.61h0M1147.3 1404.38h0M1146.38 1403.53h0M1144.95 1403.55h0M1238.39 1667.85h0M1237.45 1667.27h0M1241 1664.32h0M1104.87 1473.39h0M1106.25 1477.54h0M1101.7 1476.31h0M1040.13 1458.41h0M1044.72 1455.57h0M1043.35 1458.09h0M758.28 1510.13h0M757.43 1506.55h0M756.07 1506.1h0M1187.7 1438.1h0M1192.99 1437.14h0M1189.22 1438.33h0M1195.51 1603.51h0M1193.37 1598.88h0M1192.1 1599.6h0M871.39 1458.48h0M868.59 1460.81h0M868.33 1457.14h0M821.98 1587.62h0M823.21 1592.19h0M824.63 1590.34h0M1072.41 1695.51h0M1077.05 1698.67h0M1076.69 1694.13h0M977.59 1585.34h0M977.87 1581.92h0M978.24 1584.68h0M883.44 1703.9h0M879.35 1706.94h0M886.07 1707.04h0M949 1495.97h0M950.46 1500.51h0M951.59 1496.48h0M1000.34 1586.27h0M996.93 1588.42h0M1001.34 1588.4h0M1098.85 1418.38h0M1099.55 1418.97h0M1094.5 1416.25h0M996.82 1484.59h0M997.06 1488.39h0M998.21 1488.14h0M695.69 1650.38h0M694.97 1650h0M696 1650.09h0M932.06 1648.08h0M932.04 1651.21h0M932.89 1645.64h0M826.82 1712.72h0M828.35 1709.25h0M828.53 1708.47h0M1193.23 1486.61h0M1193.62 1486.16h0M1196.27 1486.04h0M1104.43 1565.5h0M1106.55 1567.1h0M1105.7 1565.66h0M889.55 1575.38h0M889.61 1575.36h0M895.71 1574.48h0M1155.33 1493.56h0M1153.26 1493.1h0M1159.07 1493.42h0M1124.92 1664h0M1124.35 1665.15h0M1122.84 1659.07h0M1031.57 1553.92h0M1031.33 1554.02h0M1033.82 1553.88h0M747.75 1577.03h0M750.76 1576.32h0M750.81 1576.36h0M1238.22 1478.57h0M1238.84 1480.13h0M1234.22 1483.51h0M847.76 1704.65h0M849.57 1708.27h0M847.31 1710.1h0M958 1656.75h0M958.72 1657.22h0M957.8 1661.6h0M890.77 1504.73h0M890.37 1501.22h0M889.77 1500.94h0M719.65 1548.16h0M719.73 1548.93h0M716.74 1549.08h0M1200.37 1662.39h0M1202.12 1661.19h0M1203.54 1656.96h0M1243.6 1712.22h0M1238.19 1715.97h0M1238.22 1715.28h0M1141.04 1597.02h0M1139.06 1595.08h0M1144.23 1594.88h0M958.57 1585.27h0M952.98 1585.06h0M957 1586.35h0M942.33 1693.64h0M936.51 1692.67h0M941.66 1692.72h0M1132.75 1421.13h0M1130.09 1420.46h0M1132.12 1415.94h0M981.66 1612.6h0M981.44 1611.95h0M977.91 1607.56h0M856.6 1643.28h0M854.45 1647.98h0M852.96 1647.56h0M859.97 1663.93h0M862.55 1666.25h0M859.58 1663.9h0M985.48 1470.75h0M982.24 1471.97h0M985.82 1475.87h0M870.29 1496.97h0M871.19 1501.26h0M869.11 1500.93h0M840.95 1458.7h0M846.99 1461.84h0M841.97 1462.87h0M1110.15 1541.56h0M1115.81 1538.54h0M1113.52 1537.14h0M993.46 1625h0M995.06 1626.21h0M990.4 1628.32h0M1150.25 1462.96h0M1151.46 1460.54h0M1154.17 1460.99h0M695.29 1603.67h0M691.53 1601.64h0M694.39 1605.64h0M854.83 1442.31h0M857.93 1443.23h0M858.97 1444.32h0M883.69 1609.5h0M888.19 1611.82h0M888.66 1608.82h0M1052.65 1658.59h0M1053.81 1661.56h0M1051.8 1657.39h0M720.24 1394.36h0M723.43 1396.74h0M718.61 1398.38h0M729.4 1583.45h0M728.01 1581.4h0M731.62 1582.93h0M707.05 1695.49h0M708.29 1691.72h0M708.79 1696.93h0M696.07 1439.4h0M693.82 1440.95h0M691.89 1437.03h0M851.01 1542.74h0M851.48 1541.07h0M855.74 1544.24h0M1059.47 1613.52h0M1061.47 1614.91h0M1057.12 1613.3h0M1010.66 1395.82h0M1009.62 1397.94h0M1008.49 1398.59h0M946.79 1439.28h0M949.45 1436.49h0M943.7 1432.79h0" stroke="#f0e0f3" stroke-width="3.77" stroke-linecap="round" fill="none" opacity="0.85"/>
<path d="M844.78 1554.52h0M719.34 1657.86h0M970.66 1687.49h0M924.92 1650.43h0M967.45 1665.2h0M958.3 1623.57h0M1106.24 1649.2h0M993.55 1662.41h0M759.24 1582.31h0M1071.64 1512.27h0M988.62 1631.8h0M858.66 1621.75h0M973.62 1551.07h0M1028.28 1628.21h0M789.37 1485.3h0M1005.68 1658.29h0M1094.68 1645.37h0M873.23 1460.47h0M721.73 1518.63h0M966.11 1689.56h0M945.18 1506.9h0M779.73 1437.17h0M1013.82 1618.43h0M981.16 1646.01h0M1120.45 1507.09h0M1127.31 1509.5h0M1064.39 1564.9h0M873.11 1434.31h0M1055.94 1662.86h0M973.1 1483.41h0M916.91 1625.61h0M1085.52 1509.77h0M1123.61 1688.09h0M1094.85 1683.72h0M1208.62 1427.71h0M1159.1 1651.9h0M813.71 1465.79h0M822.23 1461.82h0M1149.16 1444.19h0M997.46 1611.9h0M749.34 1550.14h0M1177.38 1535.59h0M1038.52 1575.17h0M1047.64 1636.38h0M1013.06 1451.32h0M984.69 1478.79h0M1042.12 1560.9h0M1091.26 1492.01h0M1084.44 1446.37h0M1006.6 1609.96h0M741.86 1614.23h0M1196.13 1534.81h0M867.19 1573.27h0M969.48 1690.23h0M1103.41 1676.62h0M1167.34 1603.74h0M816.21 1690.15h0M856.13 1612.65h0M1074.89 1529.77h0M782.29 1520.14h0M916.03 1684h0M1113.83 1457.25h0M880.72 1557.55h0M854.53 1465.71h0M1058.69 1532.08h0M792.13 1474.05h0M862.92 1449.49h0M1029.98 1672.34h0M1032.29 1517.26h0M1073.09 1445.4h0M894.38 1522.95h0M865.01 1598.52h0M949.53 1644.59h0M826.19 1528.85h0M1024.82 1471.3h0M1080.74 1511.3h0M822.23 1450.79h0M1111.95 1617.28h0M738.05 1555.58h0M1194.55 1500.95h0M873.8 1662.74h0M1065.55 1555.61h0M1096.67 1498.94h0M804.69 1682.67h0M765.88 1515.95h0M725.14 1648.55h0M984.14 1527.82h0M816.96 1629.96h0M1164.12 1615.91h0M1131.08 1445.05h0M1068.54 1602.4h0M840.2 1627.71h0" stroke="#f0e0f3" stroke-width="2.8" stroke-linecap="round" fill="none" opacity="0.75"/>
</g>
<path d="M1115.41 1595.08h0M1112.1 1593.71h0M1112.03 1582.93h0M1119.38 1579.26h0M1124.6 1579.87h0M1128.8 1586.16h0M1128.96 1593.38h0M1122.87 1597.67h0M920.35 1438.21h0M916.06 1435.1h0M917.02 1422.8h0M931.17 1422.57h0M933.69 1427.66h0M928.09 1437.85h0M1245.85 1456.75h0M1243.92 1465.93h0M1235.6 1470.22h0M1228.48 1468.11h0M1230.81 1454.68h0M1238.81 1452.73h0M1042.62 1535.02h0M1052.82 1526.23h0M1056.8 1526.58h0M1059.26 1538.55h0M1052.82 1542.9h0M1044.63 1543.08h0M1018.87 1523.9h0M1026.56 1524.87h0M1031.9 1528.16h0M1031.61 1534.71h0M1026.89 1542.29h0M1020.59 1538.07h0M1015.45 1530.1h0M956.86 1569.38h0M960.28 1562.79h0M966.3 1561.19h0M971.3 1567.4h0M971.86 1578.93h0M964.22 1580.51h0M956.84 1575.42h0M850.45 1402.7h0M845.87 1408.3h0M834.14 1404.72h0M835.55 1395.54h0M845.28 1389.15h0M845.39 1390.15h0M852.21 1399.51h0M913.52 1666.64h0M910.12 1665.1h0M904.25 1657.4h0M906.18 1651.31h0M916.67 1648.63h0M920.08 1656.72h0M1230.07 1613.65h0M1235.63 1619.6h0M1231.58 1626.36h0M1228.94 1630.53h0M1222.95 1627.92h0M1217.36 1619.27h0M1221.57 1614.24h0M1223.58 1611.15h0M701.73 1388.55h0M708.9 1393.52h0M710.51 1401.25h0M709.44 1403.71h0M697.3 1406.75h0M690.87 1398.29h0M693.54 1394.47h0M906.95 1589.43h0M908.36 1594.22h0M908.14 1602.88h0M903.51 1602.93h0M895.51 1602.23h0M891.44 1597h0M896.05 1589.4h0M898.32 1587.57h0M1173.54 1656.31h0M1173.45 1652.88h0M1173.17 1646.24h0M1181.7 1643.26h0M1190.94 1648.41h0M1190.54 1652.23h0M1190.77 1658.6h0M1180.13 1659.49h0M1083.22 1501.37h0M1072.72 1506.96h0M1068.07 1499.38h0M1073.01 1490.41h0M1074.06 1488.79h0M1084.09 1492.42h0M1234.3 1539.72h0M1233.28 1542.24h0M1226.07 1539.25h0M1225.25 1532.8h0M1229.07 1525.3h0M1233.71 1523.64h0M1240.31 1524.58h0M1242.19 1536.91h0M1086.71 1404.83h0M1078.98 1397.42h0M1082.62 1390.9h0M1091.44 1389.62h0M1097.54 1397.6h0M1092.23 1405.66h0M1109.86 1421.22h0M1116.93 1428.2h0M1118.05 1432.25h0M1115.31 1438.81h0M1109 1439.46h0M1100.14 1428.33h0M1102.42 1422.59h0M997.48 1538.15h0M1003.27 1535.53h0M1011.47 1538.97h0M1012.99 1542.95h0M1005.5 1553.68h0M1001.25 1555.56h0M997.2 1549.07h0M1048.22 1702.03h0M1041.53 1706.61h0M1038.06 1707.93h0M1030.49 1697h0M1033.96 1693.28h0M1039.63 1691.26h0M1048.89 1692.66h0M1194.89 1395.2h0M1196.52 1390.23h0M1202.97 1388.8h0M1211.17 1395.44h0M1212.23 1401.36h0M1205.97 1404.63h0M1202.24 1407.53h0M1195.37 1401.68h0M965.62 1601.04h0M968.34 1607.78h0M964.36 1614.95h0M956.99 1616.69h0M950.99 1609.91h0M952.09 1599.24h0M707.12 1523.65h0M712.3 1523.84h0M712.28 1534.81h0M706.7 1541.92h0M697.77 1538.6h0M695.8 1528.7h0M1222.37 1660.76h0M1217.26 1652.34h0M1219.83 1648.11h0M1224.27 1644.36h0M1233.53 1647.26h0M1235.84 1654.82h0M1231.62 1660.49h0M857.06 1518.15h0M860.07 1522.48h0M860.92 1528.2h0M857.99 1532.3h0M850.45 1534.59h0M846.89 1530.05h0M845.05 1523.13h0M848.94 1517.75h0M989 1512.53h0M1000.76 1503.29h0M1005.78 1505.29h0M1007.59 1509.73h0M1006.05 1517.83h0M998.58 1520.81h0M992.64 1519.09h0M754.61 1528.02h0M756.17 1522.48h0M763.93 1520.07h0M769.06 1522.84h0M767.68 1534.21h0M759.17 1534.82h0M1155.29 1619.29h0M1149.5 1619.29h0M1144.04 1614.74h0M1141.96 1610.82h0M1152.7 1602.12h0M1158.06 1605.93h0M1160.49 1615.43h0M728.44 1507.25h0M728.21 1503.2h0M732.22 1497.82h0M732.16 1495.5h0M738.51 1498.22h0M742.25 1506.54h0M743.94 1509.88h0M737.44 1515.4h0M981.51 1703.36h0M993.49 1708.39h0M993 1713.31h0M987.86 1719.47h0M977.72 1715.19h0M974.83 1709.71h0M1094.01 1499.61h0M1095.17 1494.57h0M1101.95 1489.95h0M1106.13 1490.64h0M1109.31 1502.5h0M1106.83 1504.58h0M1102.95 1507.05h0M1157.62 1655.22h0M1152.93 1658.11h0M1144.98 1651.95h0M1144.07 1646.58h0M1146.16 1639.22h0M1155.62 1638.84h0M1161.82 1643.62h0M1160.12 1644.67h0M712.79 1417.96h0M719.33 1421.93h0M716.59 1434.79h0M706.65 1434.07h0M700.45 1430.06h0M701.41 1421.04h0M892.24 1476.37h0M886.71 1484.74h0M875.97 1486.34h0M874.51 1479.53h0M878.74 1470.77h0M887.6 1470.26h0M937.12 1510.24h0M934.65 1511.33h0M929.77 1514.29h0M921.97 1506.03h0M922.02 1499.46h0M930.24 1494.29h0M937.18 1498.82h0M1136.28 1580.17h0M1135.2 1579.83h0M1135.27 1569.39h0M1138.58 1566.05h0M1146.83 1567.33h0M1150.37 1571.63h0M1147.21 1583.77h0M1142 1584.04h0M707.62 1505.32h0M701.86 1504.45h0M691.7 1496.52h0M696.53 1491.07h0M699.89 1489.54h0M707.76 1497.65h0M985.46 1546.48h0M986.9 1550.38h0M979.02 1552.04h0M971.11 1546.9h0M968.43 1542.59h0M974.2 1537.39h0M980.47 1534.35h0M986.68 1535.9h0M1174.17 1449.4h0M1175.57 1452.62h0M1164.71 1456.88h0M1158.76 1452.94h0M1158.4 1442.05h0M1167.81 1435.93h0M689.78 1476.38h0M695.27 1466.39h0M703.08 1470.03h0M704.84 1475.46h0M700.94 1483.33h0M696.56 1485.78h0M749.13 1647.14h0M739.38 1650.03h0M736.39 1642.62h0M737.91 1638.77h0M750.69 1635.14h0M754.66 1643.03h0M1082.74 1629.2h0M1073.27 1624.23h0M1069.83 1615.59h0M1074.9 1612.38h0M1083.8 1612.5h0M1085.56 1614.17h0M1090.36 1622.83h0M1084.22 1626.1h0M1173.77 1420.22h0M1171.35 1415.82h0M1168.08 1410.55h0M1170.4 1407.21h0M1180.28 1400.55h0M1182.83 1401.81h0M1186.6 1415.25h0M1185.19 1416.16h0M775.59 1552.72h0M779.51 1554.77h0M781.38 1562.3h0M781.18 1568.01h0M773.88 1571.9h0M764.46 1565.34h0M765.29 1557.03h0M845.92 1689.31h0M841.14 1697.4h0M836.19 1697.78h0M827.82 1694.21h0M830.24 1684.62h0M836.11 1680.17h0M836.59 1679.51h0M841.54 1567.71h0M844.34 1578.26h0M844.08 1581.51h0M827.98 1578.79h0M827.16 1574.66h0M832 1567.81h0M874.37 1585.97h0M883.4 1593.69h0M881.09 1595.34h0M879.07 1603.44h0M872.05 1602.97h0M865.3 1601.44h0M863.48 1596.64h0M865.13 1587.52h0M1145.71 1525.56h0M1147.74 1530.86h0M1145.62 1535.11h0M1134.65 1539.98h0M1130.63 1535.52h0M1134.56 1525.45h0M1138.57 1520.35h0M1099.59 1539.39h0M1102.2 1542.55h0M1104.12 1540.72h0M1101.99 1549.93h0M1091.52 1554.63h0M1088.36 1552.36h0M1084.67 1543.82h0M1090.19 1537.86h0M750.57 1403.7h0M755.08 1402.65h0M757.24 1400.03h0M766.5 1406.53h0M763.04 1417.39h0M760.12 1419.88h0M751.01 1413.46h0M1155.95 1432.22h0M1152.67 1435.14h0M1141.39 1432.2h0M1140.33 1423.67h0M1148.28 1420.42h0M1157.5 1425.37h0M972.62 1684.8h0M972.65 1675.76h0M983.98 1676.49h0M983.24 1675.22h0M989.23 1683.28h0M987.55 1689.81h0M978.4 1694.28h0M971.79 1688.21h0M937.92 1623.72h0M938.51 1625.97h0M930.84 1628.4h0M920.75 1625.86h0M924.16 1617.47h0M924.63 1613.54h0M931.53 1612.67h0M1171.23 1563.29h0M1174.89 1557.9h0M1183.59 1554.38h0M1185.9 1565.16h0M1183.22 1573.34h0M1175.7 1571.62h0M840.65 1436.9h0M846.19 1444.43h0M844.91 1446.57h0M834.67 1454.17h0M830.98 1449.3h0M829.04 1443.47h0M831.46 1435.94h0M781.13 1494.6h0M775.99 1497.66h0M767.23 1486.88h0M768.81 1479.87h0M780.27 1480.57h0M785.69 1487.45h0M796.81 1548.2h0M796.02 1538.26h0M806.94 1533.78h0M810.88 1538.74h0M812.73 1548.48h0M802.23 1553.1h0M1042.29 1574.02h0M1037.23 1570.4h0M1045.5 1562.33h0M1052.35 1562.68h0M1056 1569.18h0M1053.02 1576.88h0M962.92 1419.93h0M959.58 1426.32h0M949.83 1425.98h0M944.49 1418.23h0M946.85 1410.81h0M952.94 1411.5h0M959.01 1411.88h0M963.33 1421.35h0M755.83 1710.91h0M757.36 1707.36h0M764.09 1700.38h0M766.36 1697.72h0M772.34 1704.19h0M773.13 1709.39h0M768.43 1717.82h0M759.95 1712.53h0M696.33 1617.69h0M703.69 1611.94h0M710.87 1617.62h0M712.89 1618.65h0M703.86 1629.04h0M697.77 1628h0M694.96 1620.98h0M1003.92 1618.63h0M994.09 1615.09h0M990.9 1614.45h0M994.28 1601.02h0M1005.94 1602.92h0M1009.22 1610.53h0M1089.93 1435.33h0M1086.83 1446.22h0M1076.38 1444.39h0M1073.04 1438.26h0M1076 1429.8h0M1078.1 1428.08h0M1084.63 1428.38h0M1088.76 1429.23h0M977.69 1670.15h0M970.79 1667.88h0M970.01 1661.9h0M970.76 1655.07h0M977.98 1650.98h0M983.86 1655.81h0M987.69 1658.64h0M985.55 1667.44h0M826.77 1433.5h0M818.92 1438.23h0M811.22 1433.13h0M807.86 1426.36h0M813.17 1421.11h0M819.52 1418.6h0M827.73 1429.88h0M1072.12 1406.52h0M1061.53 1404.42h0M1060.41 1397.32h0M1068.72 1392.75h0M1072.38 1393.17h0M1077.18 1404.12h0M742.36 1440.18h0M737.35 1439.36h0M729.61 1438.35h0M729.19 1429.89h0M734.08 1423.88h0M738.31 1424.2h0M746.19 1427.63h0M746.17 1435.16h0M1123.2 1501.55h0M1111.73 1496.16h0M1111.88 1495.07h0M1113.72 1488.31h0M1116.42 1486.81h0M1126.09 1484.96h0M1129.66 1488.35h0M1127.47 1497.45h0M1213.28 1703.44h0M1215.08 1713.13h0M1211.84 1717.38h0M1209.32 1719.84h0M1200.28 1716.18h0M1197.37 1716.78h0M1197.26 1708.78h0M1209.37 1701.78h0M1018.21 1478.36h0M1011.19 1469.78h0M1015.93 1464.37h0M1021.81 1462.84h0M1031.17 1466.82h0M1028.67 1472.9h0M1023.22 1480.25h0M1206.53 1631.51h0M1214.48 1636.8h0M1214.63 1643.81h0M1207.97 1649.12h0M1199.67 1647.96h0M1197.67 1640.99h0M716.52 1555.6h0M720.15 1555.36h0M727.8 1563.94h0M725.56 1570.78h0M711.55 1569.82h0M708.6 1565.04h0M884.59 1389.19h0M892.23 1390.34h0M898.99 1395.12h0M892.64 1404.81h0M888.48 1407.07h0M880.97 1402.15h0M879.54 1394.81h0M728.08 1541.11h0M727.98 1529.33h0M732.2 1525.95h0M741.08 1531.69h0M740.85 1539.78h0M734 1544.1h0M749.04 1686.32h0M744.4 1686.06h0M736.21 1683.48h0M736.04 1677.01h0M741.95 1671.98h0M747.45 1671.91h0M753.91 1676.73h0M753.85 1682.56h0M1035.07 1587.77h0M1033.62 1597.12h0M1029.09 1599.95h0M1023.61 1602.14h0M1017.52 1596.12h0M1015.17 1587.36h0M1017.51 1584.41h0M1030.03 1583.19h0M725.08 1707.88h0M718.86 1703.11h0M720.58 1690.98h0M725.8 1688.5h0M733.9 1695.38h0M733.62 1704.73h0M816.57 1671.26h0M820.79 1676.23h0M822.28 1680.42h0M820.02 1683.27h0M812.18 1686.33h0M802.98 1677.64h0M803.01 1678.35h0M810.05 1671.07h0M819.92 1699h0M814.72 1706.58h0M811.81 1707.25h0M803.03 1701.51h0M803.29 1692.94h0M814.53 1688.82h0M821.23 1692.82h0M1110.04 1633.02h0M1119 1634.58h0M1122.72 1639.22h0M1116.45 1646.88h0M1112.67 1650.29h0M1103.98 1636.8h0M998.8 1398.31h0M990.12 1406.87h0M979.79 1399.2h0M979.4 1395.37h0M987.76 1390.04h0M993.66 1391.09h0M827.47 1505.2h0M831.75 1508.36h0M831.04 1517.73h0M828.38 1521.47h0M820.61 1523.55h0M815.75 1518.04h0M816.34 1509.96h0M818.48 1504.17h0M776.66 1429.55h0M786.71 1425.21h0M792.5 1430.82h0M790.54 1436.32h0M784.86 1444.81h0M779.51 1442.76h0M776.2 1437.77h0M1171.83 1597.88h0M1163.32 1598.82h0M1157.72 1595.4h0M1162.47 1582.99h0M1165.95 1582.99h0M1171.9 1582.3h0M1174.27 1586.19h0M851.37 1554.18h0M853.66 1555.67h0M858.94 1557.79h0M854.29 1571.69h0M847.7 1569.28h0M843.17 1567.69h0M1195.6 1413.02h0M1202.61 1415.22h0M1202.67 1425.29h0M1198.01 1428.93h0M1192.22 1428.9h0M1185.54 1425.04h0M1186.52 1417.58h0M1194.26 1413.89h0M979.94 1455.29h0M978.71 1462.41h0M967.68 1466.71h0M961.46 1461.47h0M961.09 1454.42h0M967.84 1449.44h0M977.52 1449.28h0M766.86 1618.75h0M762.78 1624.53h0M753.25 1622.47h0M748.96 1618h0M751.07 1609.9h0M755.48 1609.33h0M765.86 1614.49h0M933.82 1670.35h0M938.77 1667.51h0M941.77 1664.96h0M952.69 1671.84h0M949.73 1676.7h0M942.61 1683h0M938.02 1679.84h0M1238.64 1517h0M1230.21 1508.98h0M1233.11 1504.74h0M1239.91 1500.11h0M1244.19 1501.07h0M1248.43 1506.91h0M1247.24 1512.73h0M1241.18 1515.81h0M1212.58 1700.21h0M1217.78 1692.65h0M1223.27 1690.14h0M1229.93 1693.39h0M1228.85 1705.18h0M1218.78 1708.76h0M792.07 1405.88h0M783.38 1412.02h0M777.84 1408.87h0M774 1403.74h0M779.15 1391.64h0M782.42 1391.23h0M786.08 1391.51h0M790.22 1395.8h0M939.17 1592.01h0M944.66 1593.97h0M947.55 1601.83h0M936.97 1606.67h0M936.08 1609.9h0M931.25 1604.78h0M929 1594.61h0M935.93 1591.64h0M742.58 1621.54h0M738.72 1624.2h0M731.7 1630.54h0M722.69 1619.52h0M726.09 1615.1h0M728.35 1611.04h0M738.58 1614.19h0M740.88 1612.85h0M1131.18 1478.89h0M1131.08 1473.78h0M1137.93 1465.71h0M1143.8 1467.88h0M1144.32 1478.91h0M1138.4 1481.88h0M827.27 1623.13h0M835.67 1619.52h0M844.28 1627.37h0M841.82 1634.33h0M840.41 1636.7h0M833.03 1640.79h0M826.86 1628.39h0M1237.3 1573.23h0M1231.13 1578.84h0M1225.16 1576.92h0M1221.61 1571.66h0M1224.32 1565.37h0M1230.5 1560.38h0M1236.63 1562.75h0M1241.24 1568.69h0M953.74 1539.72h0M946.16 1538.39h0M940.26 1531.6h0M945.02 1526.12h0M948.04 1522.33h0M953.56 1525.26h0M958.54 1527.1h0M961.17 1533.97h0M1239.38 1409.5h0M1234.21 1406.08h0M1229.62 1396.36h0M1233.11 1393.06h0M1234.89 1393.54h0M1238.8 1391.66h0M1248.02 1397.65h0M1245.95 1406.61h0M1000.17 1560.57h0M1002.91 1570.07h0M995.09 1575.68h0M991.62 1577.91h0M983.87 1572.26h0M991.7 1559.67h0M816.41 1612.72h0M818.53 1626.15h0M811.31 1629.36h0M804.05 1625.68h0M802.95 1617.31h0M806.92 1612.71h0M983.42 1628.63h0M980.74 1637.34h0M977.18 1640.1h0M968.81 1636.97h0M968.11 1628.68h0M969.42 1623.37h0M975.77 1622.53h0M1060.69 1548.8h0M1064.84 1544.92h0M1070.54 1541.1h0M1076.97 1545.49h0M1076 1554.41h0M1073.37 1560.52h0M1065.12 1555.23h0M1105.02 1590.16h0M1101.01 1596.26h0M1090.91 1593.69h0M1088.07 1586.48h0M1089.5 1581.49h0M1095.83 1576.79h0M1103.2 1579.25h0M1034.66 1618.31h0M1033.76 1630.6h0M1028.22 1632.82h0M1022.4 1628.06h0M1020.62 1626.39h0M1020.83 1620.72h0M1027.46 1612.37h0M1032.18 1617.17h0M699.11 1561.71h0M701.07 1563.95h0M697.56 1573.02h0M694.45 1575.87h0M687.64 1572.53h0M683.07 1566.44h0M686.35 1560.43h0M692.85 1558.25h0M777.16 1536.06h0M777.25 1533.01h0M783.08 1526.49h0M787.87 1523.81h0M793.99 1529.87h0M793.01 1539.49h0M787.56 1543.7h0M1174.64 1490.65h0M1184.49 1490.12h0M1186.73 1493.71h0M1189.05 1496.75h0M1182.7 1505.52h0M1175.3 1504.71h0M1173.05 1502.39h0M1171.74 1494.91h0M855.65 1590.75h0M853.96 1600.19h0M848.07 1603.09h0M840.24 1596.73h0M841.41 1588.27h0M849.16 1584.54h0M864.6 1519.75h0M869.02 1515.33h0M881.39 1518.05h0M880.34 1523.18h0M874.26 1531.51h0M866.02 1529.09h0M917.18 1567.95h0M923.59 1573.68h0M925.22 1581.99h0M924.49 1586.61h0M915.55 1589.02h0M912.36 1582.38h0M908.69 1575.46h0M914.77 1569.22h0M940 1393.32h0M937.77 1402.05h0M933.16 1405.47h0M925.33 1399.57h0M928.56 1390.56h0M932.66 1385.13h0M1008.47 1684.04h0M1006.53 1689.19h0M999.04 1692.05h0M994.43 1687.36h0M992.16 1682.33h0M997.62 1675.51h0M1006.56 1673.69h0M1004.78 1676.04h0M913.74 1645.8h0M909.3 1642.32h0M905.59 1638h0M911.09 1628.07h0M917.65 1625.4h0M921.34 1631.66h0M922.46 1640.59h0M919.93 1642.99h0M1042.27 1585.19h0M1045.83 1586.47h0M1052.43 1586.63h0M1055.46 1593.5h0M1046.91 1604.35h0M1042.04 1601.81h0M1036.89 1599.74h0M1035.43 1592.58h0M962.77 1530.05h0M959.26 1518.34h0M967.84 1512.89h0M973.5 1513.87h0M977.02 1525.15h0M971.14 1531.16h0M759.8 1446.38h0M763.08 1451.95h0M758.33 1459.21h0M759.14 1461.94h0M746.81 1460.59h0M743.91 1455.99h0M747.31 1445.43h0M752.44 1443.25h0M1221.63 1432.05h0M1215.35 1429.51h0M1213.69 1423.92h0M1213.85 1419.05h0M1224.32 1416.04h0M1230.38 1419.77h0M1229.01 1424.24h0M1151.87 1663.28h0M1149.12 1669.48h0M1140.27 1674.28h0M1131.06 1664.44h0M1135 1657.12h0M1142.33 1656.04h0M1065.2 1574.29h0M1067.89 1570.29h0M1074.96 1567.37h0M1081.46 1570.44h0M1082.57 1580.5h0M1076.13 1585.99h0M1068.04 1583.96h0M1010.99 1652.45h0M1018.62 1658.31h0M1020.01 1663.69h0M1016.15 1671.39h0M1005.49 1670.65h0M1006.31 1656.11h0M1112.15 1722.58h0M1102.68 1717.18h0M1101.6 1712.26h0M1106.05 1707.51h0M1111.85 1702.12h0M1117.75 1707.66h0M1122.13 1714.25h0M1117.49 1719.94h0M952.55 1445.03h0M957.36 1457.28h0M957.72 1461.39h0M948.84 1464.67h0M941.62 1461.1h0M942.02 1452.95h0M950.03 1444.1h0M1137.08 1610.62h0M1140.98 1615.64h0M1142.33 1616.82h0M1136.45 1628.95h0M1132.73 1629.82h0M1125.35 1627.54h0M1123.7 1618.1h0M1131.15 1610.74h0M876.69 1404.55h0M880.01 1412.64h0M875.95 1418.99h0M864.95 1419.5h0M861.87 1411.64h0M866.86 1405.2h0M740.48 1653.81h0M743.31 1656.23h0M743.82 1656.74h0M743.4 1666h0M738.96 1669.73h0M728.59 1665.75h0M727.92 1663.59h0M732.53 1654.99h0M1033.54 1407.71h0M1036.83 1408.77h0M1045.8 1416h0M1043.91 1416.91h0M1038.36 1425.77h0M1031.96 1425.44h0M1029.23 1419.15h0M905.37 1446.04h0M897.91 1445.31h0M895.71 1438.56h0M895.23 1433.2h0M905.1 1428.73h0M909.7 1429.98h0M910.79 1438.17h0M909.14 1445.03h0M867.68 1625.48h0M869.62 1624.61h0M876.39 1629.18h0M878.14 1633.9h0M873.82 1642.13h0M863.28 1640.06h0M862.65 1634.03h0M786 1712.07h0M777.78 1701.46h0M780.04 1695.07h0M790.38 1695.26h0M795.22 1699.13h0M793.55 1709.91h0M1183.42 1551.71h0M1175.67 1545.53h0M1173.2 1545.16h0M1182.13 1535.83h0M1190.12 1534.75h0M1191.56 1538.53h0M1189.69 1547.87h0M1011.9 1629.42h0M1020.61 1628.79h0M1026.63 1633.76h0M1025.82 1645.38h0M1019.82 1647.43h0M1015.68 1646.52h0M1010.86 1641.24h0M1008.87 1632.75h0M904.86 1680.89h0M898.33 1678.87h0M896.59 1671.71h0M904.24 1664.37h0M910.94 1670.02h0M911.34 1677.76h0M1062.47 1471h0M1070.47 1468.29h0M1078.06 1473.64h0M1080.1 1479.33h0M1068.76 1486.35h0M1063.53 1481.28h0M1164.97 1707.94h0M1161.35 1713.37h0M1153.01 1714.34h0M1147.49 1706.74h0M1151.35 1703.34h0M1157.9 1697.57h0M1165.83 1701.7h0M863.17 1685.92h0M858.22 1691.83h0M849.69 1692.38h0M847.04 1683.01h0M852 1677.71h0M859.43 1677.44h0M952.48 1401.51h0M953.96 1395.28h0M966.74 1394.63h0M968.92 1392.98h0M972.48 1402.91h0M962.97 1410.57h0M956.55 1406.69h0M933.1 1473.69h0M933.18 1469.38h0M936.29 1463.88h0M944.47 1462.44h0M951.76 1470.8h0M949.9 1476.01h0M948.58 1478.4h0M942.33 1480.68h0M991.07 1442.54h0M985.83 1448.04h0M978.89 1443.39h0M978.37 1434.03h0M983.62 1431.49h0M993.29 1433.61h0M1151.71 1513.35h0M1158.15 1510.39h0M1166.78 1511.54h0M1161.38 1523.91h0M1154.43 1525.99h0M1150.57 1518.25h0M834.79 1423.09h0M829.19 1418.19h0M826.59 1417.98h0M834.4 1405.87h0M837.91 1406.86h0M845.62 1413.66h0M842.76 1423.27h0M778.27 1458.72h0M780.28 1467.78h0M776.17 1468.59h0M768.82 1470.41h0M761.92 1465.18h0M764.65 1459.98h0M766.3 1453.6h0M775.91 1453.66h0M1140.43 1633.57h0M1142.13 1643.87h0M1140.71 1650.09h0M1138 1649.69h0M1127.7 1645.07h0M1124.86 1646.27h0M1129.64 1634.56h0M1135.11 1631.83h0M811.22 1572.88h0M803.18 1572.35h0M799.45 1560.96h0M804.61 1554.79h0M817.63 1557.11h0M819.58 1569.09h0M1008.81 1716.66h0M999.78 1716.41h0M994.92 1709.37h0M998.6 1702.04h0M1005.54 1699.97h0M1014.05 1708.47h0M1219.41 1524.19h0M1218.86 1532.18h0M1210.82 1534.42h0M1201.92 1528.93h0M1201.56 1523.73h0M1208.5 1515.66h0M1213.94 1516.59h0M1134.58 1451.59h0M1127.74 1443.79h0M1138.42 1434.99h0M1144.61 1435.56h0M1147.68 1444.47h0M1145.96 1447.22h0M1139.37 1453.25h0M1083.81 1631.01h0M1088.83 1629.96h0M1094.83 1633.49h0M1099.14 1638.3h0M1093.74 1646.12h0M1088.59 1646.03h0M1082.54 1641.11h0M1080.66 1635.23h0M1242.77 1557.09h0M1238.53 1559.53h0M1233.37 1556.1h0M1231.82 1549.1h0M1232.84 1545.58h0M1241.54 1540.64h0M1244.34 1545.32h0M1246.28 1552.23h0M1091.55 1529.07h0M1086.15 1521.89h0M1091.97 1512.87h0M1098.46 1511.14h0M1103.99 1513.68h0M1105.88 1520.85h0M1102.98 1523.82h0M1095.29 1529.1h0M728.88 1510.53h0M730.6 1518.04h0M722.33 1526.23h0M718.56 1524.92h0M713.71 1514.41h0M719.35 1508.34h0M768.28 1424.54h0M770.43 1429.22h0M767.06 1435.03h0M755.85 1437.53h0M752.07 1429.13h0M759.74 1421.97h0M799.27 1672.94h0M799.06 1673.79h0M787.86 1669.32h0M787.54 1662.72h0M791.51 1658.81h0M795.93 1657.54h0M802.66 1660.43h0M802.47 1662.77h0M783.31 1520.66h0M785.26 1506.99h0M797.04 1509h0M802.94 1513.87h0M798.49 1521.3h0M790.25 1521.82h0M1244.2 1632.07h0M1244.96 1634.24h0M1244.05 1645.61h0M1238.75 1645.38h0M1232.55 1643.48h0M1228.38 1637.9h0M1230.08 1629.71h0M1238.06 1626.4h0M1231.58 1696.49h0M1231.31 1690.93h0M1236 1681.99h0M1240.16 1683.08h0M1244.9 1683.03h0M1247.74 1692.57h0M1241.53 1698.37h0M970.62 1546.13h0M967.86 1556.08h0M965.47 1561.5h0M959.18 1560.78h0M953.1 1551.66h0M960.07 1545.13h0M1115.31 1702.76h0M1117.67 1696.65h0M1122.57 1692.58h0M1126.29 1693.14h0M1128.65 1694.4h0M1133.74 1700.37h0M1130.85 1706.04h0M1122.74 1709.03h0M745.75 1708.84h0M736.25 1697.07h0M743.05 1691.32h0M748.01 1691.44h0M755.94 1697.06h0M750.15 1705.72h0M799.62 1413.58h0M807.2 1420.4h0M799.79 1429.36h0M792.21 1428.69h0M789.91 1419.69h0M795.06 1414.61h0M800.83 1591.38h0M805.82 1596.8h0M807.33 1604.5h0M804.48 1611.25h0M799.91 1610.54h0M793.91 1609.38h0M789.67 1603.4h0M793.2 1594.59h0M890.07 1543.46h0M878.4 1535.51h0M881.57 1532.33h0M892.74 1525.64h0M898.67 1534.36h0M894.84 1542.38h0M770.63 1627.73h0M772.43 1631.33h0M769.51 1643.47h0M763.34 1646.67h0M758.4 1640.35h0M756.36 1633.67h0M760.29 1629.28h0M709.35 1717.66h0M706.36 1708.77h0M714.18 1703.97h0M714.9 1702.77h0M723.68 1709.15h0M721.91 1717.98h0M718.91 1721.28h0M1097.19 1708.72h0M1098.85 1715.4h0M1094.08 1721.78h0M1083.31 1714.25h0M1082.51 1710.04h0M1087.87 1704.47h0M931.28 1556.1h0M928.19 1565.65h0M922.42 1565.62h0M917.22 1567.88h0M911.56 1554.33h0M913.14 1554.62h0M919.33 1547.56h0M923.9 1549.13h0M1033.73 1720.46h0M1031.12 1721.42h0M1021.54 1723.47h0M1017.26 1714.95h0M1016.06 1708.98h0M1023.33 1704.9h0M1030.9 1709.1h0M1034.71 1710.76h0M1167.96 1388.32h0M1170.49 1393.07h0M1165.56 1403.41h0M1164.14 1404.49h0M1154.24 1397.54h0M1152.24 1397.53h0M1155.22 1391.45h0M1158.2 1384.98h0M1241.27 1577.16h0M1248.65 1583.01h0M1250.18 1588.8h0M1245.37 1594.97h0M1235.43 1591.65h0M1230.93 1589.13h0M1233.86 1583.44h0M1110.83 1449.69h0M1109.85 1456.5h0M1102.35 1456.15h0M1094.56 1451.64h0M1093.66 1451.11h0M1096.79 1440.94h0M1101.39 1439.36h0M1109.65 1441.13h0M917.42 1516.28h0M928.35 1515.25h0M933.47 1524.63h0M931.6 1525.65h0M919.67 1529.6h0M915.54 1530.12h0M917.19 1520.02h0M682.71 1513.69h0M688 1508.78h0M698.77 1509.65h0M699.2 1513.89h0M699.36 1519.46h0M692.49 1523.11h0M688.05 1521.56h0M813.97 1517.15h0M817.15 1523.7h0M812.14 1531.58h0M810.66 1534.94h0M803.07 1532.36h0M797.22 1526.33h0M802.14 1518.72h0M1159.6 1583.22h0M1153.31 1575.86h0M1151.06 1570.7h0M1156.92 1564.66h0M1161.21 1565.91h0M1169.74 1568.46h0M1167.58 1574.71h0M1163.21 1582.45h0M765.27 1541.05h0M768.64 1548.06h0M769.2 1552.69h0M761.25 1556.82h0M755.71 1552.41h0M753.29 1545.93h0M754.59 1540.97h0M759.6 1539.33h0M1032 1670.63h0M1035.87 1674.13h0M1037.86 1673.75h0M1036.29 1684.42h0M1022.25 1683.79h0M1021.91 1678.21h0M1020.97 1673.69h0M745.41 1604.32h0M736.82 1603.51h0M733.64 1600.4h0M735.02 1589.78h0M746.25 1588.64h0M749.79 1594.68h0M1064.6 1451.47h0M1068.48 1453.08h0M1069.67 1459.6h0M1064.94 1466.08h0M1061.63 1463.51h0M1058.23 1462.97h0M1058.98 1449.83h0M1211 1510.47h0M1207.45 1502.71h0M1212.28 1494.72h0M1216.75 1494.29h0M1224.54 1501.12h0M1222.43 1505.24h0M1213.62 1511.84h0M840.92 1542.43h0M841.25 1543.77h0M839.35 1552.81h0M836.82 1554.26h0M827.76 1550.22h0M827.18 1542.32h0M830.48 1538.57h0M837.05 1537.93h0M1116.49 1460.72h0M1115.56 1452.29h0M1119.14 1446.77h0M1123.03 1446.4h0M1129.47 1452.48h0M1129.3 1456.28h0M1122.7 1461.17h0M810.33 1451.28h0M804.19 1457.64h0M795.77 1453.26h0M794.27 1449.58h0M796.28 1445.5h0M801.13 1440.94h0M808.28 1444.14h0M809.81 1448.46h0M1195.27 1630.81h0M1191.33 1625.58h0M1194.63 1615.18h0M1199.05 1612.82h0M1202.79 1618.01h0M1203.26 1626.37h0M1040.9 1406.88h0M1030.6 1400.21h0M1030.85 1399.09h0M1034.57 1390.29h0M1039.3 1389.46h0M1045.02 1394.59h0M1045.63 1404.4h0M1040.5 1404.37h0M1025.44 1498.71h0M1016.58 1502.28h0M1012.67 1503.58h0M1008.86 1496.11h0M1015.28 1488.99h0M1020.69 1489.76h0M880.97 1669.7h0M883.32 1670.69h0M885.64 1681.96h0M879.86 1684.74h0M872.43 1682.3h0M869.33 1676.36h0M873.51 1671.87h0M927.26 1484.47h0M917.88 1480.52h0M915.75 1475.12h0M919.78 1469.34h0M922.46 1468.58h0M930.86 1473.35h0M931.52 1477.26h0M1126.37 1391.92h0M1130.41 1399.67h0M1132.06 1401.67h0M1127.47 1406.24h0M1124 1407.27h0M1116.73 1402.43h0M1118.25 1394.31h0M1119.97 1393.43h0M1063.99 1602.23h0M1060.7 1601.31h0M1063.96 1592.77h0M1069.96 1590.66h0M1077.11 1598.02h0M1077.37 1599.4h0M1071.71 1605.12h0M1173.56 1694.91h0M1167.71 1696.91h0M1160.69 1691.98h0M1161.78 1686.41h0M1167.67 1680.39h0M1174.12 1681.55h0M1178.82 1688.42h0M1141.06 1705.37h0M1147.29 1714.01h0M1140.93 1722.37h0M1133.69 1720.08h0M1129.88 1716.66h0M1132.56 1709.14h0M882.38 1412.64h0M893.7 1413.87h0M894.77 1421.5h0M892.13 1423.92h0M886.97 1425.48h0M880.07 1424.99h0M880.21 1417.27h0M1011.16 1404.18h0M1019.78 1407.32h0M1021.48 1410.9h0M1018.1 1420.05h0M1011.79 1421.9h0M1008.65 1416.15h0M1005.93 1411.91h0M934.07 1569.09h0M935.35 1560.69h0M945.67 1558.93h0M946.42 1560.64h0M948.79 1560.27h0M947.22 1568.04h0M937.65 1572.64h0M937.33 1570.46h0M1202.17 1517.53h0M1195.02 1521.89h0M1189.54 1522.19h0M1187.02 1518.36h0M1187.02 1510.49h0M1190.9 1505.95h0M1195.19 1506.48h0M1203.03 1512.49h0M701.22 1462.88h0M696.71 1460.41h0M696.03 1454.29h0M694.69 1450.79h0M703.33 1448.41h0M709.15 1448.58h0M709.06 1457.31h0M707.04 1460.89h0M701.96 1585.6h0M701.7 1579.58h0M713.16 1578.42h0M715.72 1585.89h0M711.01 1593.76h0M702.91 1592.86h0M833.92 1480.09h0M835.69 1480.39h0M842.88 1483.07h0M843.79 1490.51h0M836.98 1494.08h0M833.15 1495.46h0M831.35 1493.47h0M829.89 1484.66h0M921.37 1693.51h0M914.49 1692.55h0M910.67 1684.45h0M917.72 1680.38h0M925.5 1680.05h0M926.73 1687.27h0M927.06 1689.87h0M886.44 1649.69h0M887.24 1655.83h0M883.17 1659.95h0M879.87 1660.78h0M873.42 1651.82h0M876.97 1647.4h0M880.68 1646.42h0M898.98 1525.76h0M896.06 1517.96h0M902.82 1508.99h0M910.29 1512.31h0M911.02 1516.05h0M912.31 1522.01h0M904.65 1526.91h0M994.03 1650.71h0M993.61 1640.52h0M1003.17 1638.04h0M1006.05 1639.77h0M1006.94 1645.4h0M1006.02 1651.06h0M999.28 1652.99h0M957.62 1633.41h0M958.98 1637.78h0M951.53 1644.95h0M943.33 1639.93h0M945.86 1631.45h0M952.82 1628.61h0M844.55 1658.23h0M847.1 1666.09h0M838.3 1669.48h0M833.26 1666.74h0M831.47 1660.62h0M838.44 1654.04h0M1168.38 1485.32h0M1164.79 1475.73h0M1171.24 1471h0M1179.72 1474.94h0M1181.27 1478.57h0M1176.44 1484.39h0M857.1 1418.09h0M861.25 1423.4h0M859.15 1429.19h0M851.9 1433.01h0M845.61 1425.45h0M850.29 1416.74h0M1094.86 1467.95h0M1085.26 1468.1h0M1083.35 1466.52h0M1083.74 1457.93h0M1088.22 1452.18h0M1094.81 1454.04h0M1097.91 1462.56h0M1201.18 1549.72h0M1199.24 1540.38h0M1202.35 1538.32h0M1208.92 1538.35h0M1211.03 1547.49h0M1208.18 1551.36h0M1042.68 1434.06h0M1045.62 1430.5h0M1052.69 1432.53h0M1057.08 1434.45h0M1054.41 1444.42h0M1045.55 1446.17h0M1041.56 1440.58h0M883.11 1625.87h0M889.35 1621.17h0M896.31 1622.16h0M897.55 1625.13h0M894.97 1636.36h0M891.04 1637.16h0M883.47 1627.28h0M849.54 1615.96h0M851.61 1609.97h0M858.19 1606.31h0M862.22 1607.77h0M864.15 1609.78h0M865 1620.15h0M861.48 1620.54h0M854.63 1619.71h0M744.61 1552.13h0M754.87 1555.33h0M752.83 1564.54h0M745.79 1566.88h0M739.43 1563.25h0M740.4 1555.07h0M1088.47 1685.58h0M1095.31 1683.54h0M1102.43 1689.68h0M1100.97 1692.17h0M1096.29 1698.84h0M1090.67 1698.24h0M1088.34 1689.79h0M1005.11 1465.21h0M996.58 1465.17h0M993.23 1460.39h0M993.79 1454.95h0M996.49 1451.47h0M999.72 1450.82h0M1006.04 1453.6h0M1008.23 1456.62h0M951.11 1482.79h0M953.66 1477.67h0M958.82 1474.02h0M964.77 1474.64h0M967.15 1483.32h0M967.16 1487.05h0M955.28 1489.78h0M824.63 1656.84h0M823.28 1655.28h0M817.29 1652.6h0M818.24 1642.95h0M824.3 1641.51h0M831.24 1642.08h0M832.41 1650h0M1060.87 1507.26h0M1056.87 1515.31h0M1051.71 1518.46h0M1046.53 1512.54h0M1044.06 1509.9h0M1049.18 1501.12h0M1053.59 1502.81h0M1055.85 1503.75h0M1138.53 1689.02h0M1129.69 1688.1h0M1128.19 1684.18h0M1131.1 1677.62h0M1135.06 1674.3h0M1141.93 1676.09h0M1140.66 1687.2h0M884.03 1566.8h0M882.01 1566.36h0M879.16 1572.38h0M869.89 1572.8h0M866.71 1571.38h0M869.19 1563.95h0M876.21 1558.22h0M877.55 1560.81h0M862.05 1693.52h0M865.78 1691.74h0M868.49 1695.69h0M871.88 1699.55h0M867.9 1706h0M865.55 1707.75h0M856.87 1703.8h0M856.72 1698.36h0M919.23 1409.81h0M914.16 1413.55h0M908.51 1409.74h0M905.85 1401.72h0M914.37 1395.14h0M921.82 1398.07h0M921.93 1404.3h0M935.47 1538.44h0M936.93 1538.41h0M934.04 1547.44h0M928.17 1547.14h0M920.42 1542.84h0M925.14 1534.71h0M929.7 1534.76h0M855.3 1481.93h0M847.79 1478.15h0M849.18 1472.83h0M851.36 1467.92h0M859.31 1469.39h0M864.78 1475.31h0M860.14 1481.61h0M764.3 1593.26h0M767.96 1586.59h0M775.92 1586.43h0M778.94 1595.14h0M772.66 1601.97h0M765.85 1599.04h0M1221.33 1436.26h0M1223.91 1445.72h0M1226.74 1444.66h0M1215.92 1453.05h0M1210.34 1444.85h0M1211.13 1438.78h0M687.56 1701.79h0M690.47 1695.61h0M695.54 1695.82h0M702.68 1705.03h0M698.68 1707.92h0M693.41 1712.89h0M689.79 1710.52h0M1052.26 1637.34h0M1042.93 1638.51h0M1040.54 1635.52h0M1042.04 1627.52h0M1047.36 1624.84h0M1054.43 1626.26h0M1056.84 1632.55h0M1208.93 1573.1h0M1213.92 1580.32h0M1208.57 1584.93h0M1199.66 1585.85h0M1199.26 1579.45h0M1199.95 1571.84h0M1203.42 1572.52h0M899.16 1493.8h0M896.33 1485.1h0M900.65 1482.37h0M905.26 1479.58h0M911.24 1483.17h0M909.89 1491.22h0M905.79 1494.8h0M903.47 1496.36h0M827.2 1609.48h0M831.63 1601.95h0M840.09 1604.79h0M840.95 1611.11h0M838.26 1616.52h0M830.86 1617.8h0M825.76 1613.9h0M1025.66 1696.75h0M1018.95 1701.3h0M1011.6 1698.72h0M1008.43 1695.19h0M1011.93 1686.92h0M1013.97 1686.23h0M1021.92 1688.33h0M809.31 1412.64h0M803.11 1408.36h0M805.4 1404.96h0M813.71 1398.45h0M821.58 1405.82h0M819.45 1408.62h0M908.97 1622.11h0M903.35 1618.18h0M900.15 1613.67h0M906.05 1606.65h0M912.77 1606.35h0M915 1621.26h0M751.61 1468.71h0M753.76 1473.01h0M750.39 1483.21h0M742.56 1480.02h0M739.59 1474.11h0M742.46 1467.68h0M871.67 1549.64h0M867.1 1549.27h0M863.98 1542.14h0M867.76 1535.81h0M869.91 1535.13h0M878.83 1538.32h0M880.85 1542.73h0M877.4 1549.04h0M1173.2 1668.11h0M1169.27 1674.96h0M1163.19 1676h0M1158.29 1667.32h0M1159.19 1663.22h0M1163.62 1660.22h0M1167.85 1658.78h0M1172.42 1663.92h0M1041.62 1475.63h0M1045.87 1469.09h0M1050.52 1470.26h0M1055.9 1475.9h0M1055.93 1482.33h0M1046.98 1485.14h0M1045.54 1485.53h0M1041.04 1481.72h0M1029.56 1660.59h0M1027.87 1650.77h0M1034.47 1647.41h0M1040.81 1652.53h0M1043.34 1657.34h0M1035.83 1662.24h0M1191.22 1457.13h0M1201.42 1454.39h0M1205.67 1459.74h0M1206.04 1464.3h0M1197.1 1470.74h0M1192.85 1467.52h0M911 1545.65h0M908.22 1556.01h0M903.58 1558.73h0M897.72 1554.77h0M896.2 1549.23h0M900.24 1543.38h0M907 1542.34h0M1112.16 1674.49h0M1111.5 1673.91h0M1101.55 1676.7h0M1096 1668.62h0M1100.59 1665.6h0M1109.31 1663.14h0M920.1 1712.24h0M928.84 1706.45h0M934.74 1708.75h0M936.21 1714.84h0M931.28 1722.23h0M920.37 1714.61h0M873.86 1448.12h0M872.14 1445.39h0M866.35 1437.88h0M869.46 1431.63h0M877.28 1431.94h0M881.53 1435.81h0M878.71 1445.27h0M1073.18 1645.21h0M1077.72 1650.53h0M1074.89 1659.12h0M1067.22 1657.61h0M1062.19 1651.89h0M1064.86 1646.13h0M855.85 1495.67h0M859.69 1497.4h0M860.51 1505.39h0M854.29 1510.5h0M845.25 1508.77h0M843.27 1502.98h0M847.42 1495.81h0M783.35 1623.56h0M778.49 1620.41h0M773.95 1617.74h0M777.54 1609.78h0M781.2 1608.2h0M789.33 1613.22h0M789.21 1612.45h0M789.2 1621.23h0M1214.17 1677.29h0M1209.67 1668.84h0M1217.36 1663.4h0M1223.69 1663.54h0M1225.92 1675.03h0M1218.19 1678.62h0M1012.7 1431.07h0M1017.89 1428.32h0M1025.25 1432.39h0M1026.48 1437.54h0M1023.19 1446.15h0M1018.91 1444.1h0M1013.22 1444.01h0M1009.76 1438.37h0M1053.86 1679.44h0M1053.37 1686.68h0M1044.31 1685.02h0M1040.97 1682.16h0M1040.04 1675.79h0M1047.15 1672.31h0M1055.66 1675.22h0M1112.96 1609.56h0M1109.06 1618.26h0M1101.4 1618.73h0M1098.59 1615.63h0M1096.11 1609.17h0M1099 1603.9h0M1107.58 1601.76h0M1113.17 1607.4h0M1087.15 1654.38h0M1091.27 1648.64h0M1097.28 1648.11h0M1101.48 1654.36h0M1096.11 1663.95h0M1088.69 1661.02h0M1006.92 1561.98h0M1009.79 1559.19h0M1019.47 1558.01h0M1024.27 1563.87h0M1020 1573.98h0M1013.78 1573.76h0M1008.02 1570.3h0M1150.52 1501.01h0M1150.48 1508.07h0M1145.26 1513.06h0M1138.42 1512.14h0M1136.32 1505.12h0M1136.66 1502.85h0M1144.36 1496.92h0M968.09 1497.56h0M968.16 1493.91h0M970.84 1489.53h0M978.31 1489.79h0M984.37 1494.14h0M982.55 1500.15h0M976.95 1505.17h0M973.12 1502.32h0M1131.39 1544.7h0M1136.41 1552.04h0M1133.09 1556.87h0M1124.17 1559.22h0M1124.49 1557.79h0M1120.49 1549.32h0M1119.5 1547.9h0M1126.87 1544.82h0M772.51 1674.5h0M780.79 1669.61h0M786.33 1673.16h0M786.84 1681.22h0M781.17 1685.25h0M776.22 1684.84h0M729.28 1444.86h0M728.96 1452.89h0M723.37 1455.56h0M716.55 1454.29h0M715.99 1445.09h0M718.84 1442.36h0M726.57 1440.76h0M1183.03 1530.14h0M1180.32 1529.4h0M1169.58 1532.35h0M1165.96 1529.25h0M1166.76 1523.93h0M1173.23 1519.92h0M1175.6 1520.06h0M1179.75 1521.06h0M1067.93 1680.73h0M1065.94 1673.79h0M1069.58 1668.63h0M1077.35 1670.16h0M1082.01 1675.34h0M1075.76 1684.87h0M768.09 1662.05h0M763.07 1656.93h0M764.29 1650.39h0M764.89 1649.92h0M770.6 1647.29h0M772.06 1645.71h0M776.12 1654.55h0M773.59 1659.97h0M724.17 1639.82h0M726.09 1647.16h0M726 1652.04h0M715.59 1653.15h0M713.46 1649.05h0M713.69 1645.56h0M715.22 1639.17h0M721.72 1637.95h0M925.26 1447.21h0M925.29 1457.56h0M922.22 1459.5h0M911.01 1453.53h0M912.36 1448.62h0M916.19 1442.71h0M700.62 1678.94h0M699.81 1683.91h0M692.21 1685.15h0M688.36 1680.6h0M688.75 1672.31h0M694.63 1670.75h0M701.7 1672.81h0M965.34 1443.89h0M958.97 1441.71h0M959.54 1434.58h0M962.62 1427.57h0M969.15 1428.07h0M974.26 1432.82h0M970.48 1440.64h0M711.83 1664.76h0M715.97 1660.93h0M717.82 1657.89h0M726.88 1667.74h0M725.02 1669.01h0M724.47 1672.96h0M714.07 1673.27h0M709.78 1670.36h0M1178.42 1631.24h0M1176.89 1633.07h0M1168.13 1630.84h0M1166.23 1625.55h0M1164.17 1621.44h0M1170.27 1616.85h0M1181.47 1622.35h0M951.79 1708.67h0M949.75 1708.72h0M954.3 1699.08h0M958.38 1697.14h0M965.8 1700.59h0M966.58 1706.96h0M962.08 1713.33h0M1209.04 1474.35h0M1213.3 1471.72h0M1221.7 1472.95h0M1220.14 1484.98h0M1213.13 1486.64h0M1209.61 1486.14h0M742.3 1406.8h0M740.2 1415.14h0M738.06 1417.29h0M729.29 1413.4h0M731.38 1403.47h0M735.89 1401.41h0M795.39 1459.26h0M801.22 1458.98h0M804.16 1467.17h0M803.97 1470.01h0M795.22 1474.19h0M791.31 1474.3h0M789.4 1467.14h0M789.41 1460.15h0M794.55 1577.14h0M797.93 1572.86h0M804.61 1575.45h0M807.55 1582.64h0M804.25 1587.37h0M792.84 1586.29h0M794.18 1583.12h0M1179.74 1719.83h0M1176.23 1710.24h0M1178.33 1706.08h0M1187.88 1706.15h0M1190.38 1715.23h0M1186.33 1717.98h0M1220.11 1604.78h0M1219.82 1598.13h0M1224.71 1592.68h0M1231.21 1594.18h0M1235.03 1600.52h0M1232.18 1607.63h0M1227.66 1608.23h0M796.13 1503.8h0M792.41 1493.77h0M800.21 1487.99h0M802.36 1489.29h0M809.32 1497.48h0M807.94 1503.49h0M803.35 1505.58h0M1058.91 1706.57h0M1063.13 1715.59h0M1059.56 1719.39h0M1053.16 1720.34h0M1047.89 1719.36h0M1049.55 1708.19h0M1051.96 1706.06h0M903.73 1461.14h0M901.27 1464.06h0M893.09 1462.98h0M888.75 1454.1h0M891.7 1452.58h0M894.88 1450.6h0M902.29 1449.5h0M904.43 1455.02h0M796.99 1651.94h0M791.27 1642.24h0M793.34 1638.45h0M798.89 1638.67h0M804.14 1642.74h0M804.25 1651.32h0M1113.3 1527.97h0M1110.56 1527.39h0M1111.56 1518.77h0M1116.53 1513.49h0M1123.13 1518.2h0M1124.19 1524.14h0M1120.86 1528.37h0M1193.22 1672.98h0M1199.76 1676.58h0M1202.31 1684.45h0M1192.49 1687.7h0M1188.12 1683.33h0M1189.72 1674.8h0M1082.24 1526.62h0M1085.8 1530.75h0M1076.22 1538.3h0M1077.23 1535.99h0M1067.69 1531.02h0M1068.28 1525.11h0M1076.57 1520.99h0M1080.08 1520.54h0M1156.74 1556.37h0M1146.89 1549.2h0M1145.17 1546.45h0M1154.95 1541.91h0M1160.22 1541.82h0M1159.67 1548.51h0M953.07 1690.54h0M955.07 1686.59h0M957.39 1678.47h0M962.17 1676.92h0M968.34 1682.22h0M968.2 1687.83h0M965.68 1692.78h0M959.38 1694.2h0M988.04 1409.81h0M993.66 1411.59h0M1001.73 1417.86h0M997.44 1426.34h0M991.69 1426.01h0M986.3 1424.3h0M985.09 1415.42h0M710.7 1486.02h0M711.09 1476.98h0M717.16 1472.72h0M720.86 1472.7h0M724.83 1476.64h0M723.07 1485.16h0M716.79 1487.47h0M1233.43 1432.77h0M1236.32 1432.01h0M1243.48 1434.84h0M1242.78 1441.55h0M1236.85 1445.88h0M1232.24 1445.52h0M1229.48 1434.75h0M893.11 1696.3h0M899.79 1691.89h0M906.07 1693.06h0M910.18 1701.17h0M904.28 1704.62h0M896.16 1702.73h0M1028.58 1517.25h0M1023.73 1510.41h0M1027.34 1505.87h0M1033.02 1502.14h0M1040.3 1508.5h0M1042.55 1511.63h0M1038.47 1513.84h0M1151.58 1404.27h0M1153.74 1410.31h0M1145.44 1416.28h0M1138.75 1410.96h0M1139.63 1407.04h0M1145.73 1400.33h0M1146 1399.16h0M1153.19 1402.99h0M1242.26 1659.83h0M1245.1 1662.25h0M1247.62 1668.22h0M1243.94 1676.02h0M1239.79 1674.24h0M1232.66 1670.11h0M1232.64 1663.4h0M1105.75 1482.58h0M1097.14 1479.39h0M1098.2 1469.54h0M1105.11 1468.41h0M1112.31 1471.35h0M1111.57 1480.05h0M1047.3 1463.02h0M1040.17 1463.41h0M1033.12 1456.4h0M1033.82 1453.3h0M1043.64 1449.81h0M1046.7 1454.19h0M753.16 1504.6h0M761.85 1499.17h0M766.16 1505.13h0M765.98 1513.87h0M756.18 1516.35h0M752.02 1512.81h0M1193.06 1446.13h0M1188.08 1446.57h0M1185.16 1443.2h0M1183.83 1434.23h0M1187.14 1435.2h0M1196.66 1433.46h0M1198.61 1438.1h0M1200.17 1441.82h0M1186.39 1596.49h0M1193.43 1595.39h0M1195.73 1593.85h0M1201.79 1600.13h0M1199.15 1608.41h0M1195.04 1608.06h0M1186.66 1605.59h0M862.84 1457.7h0M864.88 1451.3h0M870.91 1449.68h0M875.01 1454.78h0M876.33 1460.91h0M876.14 1465.98h0M869.53 1465.42h0M862.95 1463.76h0M817.41 1592.37h0M815 1588.76h0M824.7 1581.6h0M830.29 1583.28h0M833.16 1590.87h0M827.09 1596.78h0M820.63 1595.4h0M1069.58 1690.1h0M1073.57 1688.16h0M1077.94 1689.96h0M1081.2 1695.14h0M1081.25 1700.1h0M1075.12 1704.41h0M1068.57 1703.33h0M1065.6 1696.42h0M975.01 1588.97h0M971.09 1582.28h0M977.2 1574.48h0M984.66 1573.89h0M989.01 1577.93h0M983.85 1587.09h0M876.53 1702.74h0M883.94 1699.52h0M890.58 1702.05h0M892.01 1708.06h0M889.93 1711.32h0M881.19 1712.41h0M874.92 1707.93h0M955.54 1494.11h0M959.1 1499.03h0M954.28 1506.76h0M944.65 1504.43h0M944.22 1497.1h0M949.99 1491.93h0M811.13 1473.93h0M815.48 1472.81h0M823.47 1479.09h0M823.7 1483.4h0M821.09 1485.96h0M810.99 1486.61h0M806.93 1483.29h0M1000.46 1596.86h0M1000.69 1595.09h0M991.35 1591.97h0M993.82 1584h0M997.8 1581.33h0M1005.28 1583.03h0M1007.07 1585.09h0M1005.03 1593.06h0M1101.76 1425.79h0M1094.52 1424.74h0M1089.39 1417.43h0M1089.99 1411.31h0M1099.3 1412.39h0M1105.62 1418.8h0M996.89 1478.49h0M1004.07 1486.95h0M1001.4 1492.77h0M995.27 1493.68h0M989.13 1489.23h0M990.99 1483h0M718.48 1609.07h0M718.67 1608.5h0M713.19 1603.71h0M715.24 1597.44h0M717.9 1592.53h0M725.28 1596.51h0M727.29 1602.84h0M726.74 1607.02h0M698.39 1656.15h0M691.59 1651.22h0M692.6 1643.75h0M699.88 1642.71h0M707.69 1646.18h0M705.77 1651.27h0M928.63 1643.22h0M933.8 1641.55h0M938.24 1641.46h0M941.99 1646.04h0M939.71 1652.55h0M934.48 1656.88h0M927.32 1650.19h0M824.29 1717.03h0M821.39 1710.6h0M826.77 1704.73h0M835.3 1707.58h0M834.96 1713.31h0M832.52 1719.35h0M1192.32 1477.34h0M1198.55 1476.42h0M1202.43 1480.2h0M1201.95 1487.48h0M1198.59 1493.13h0M1189.8 1491h0M1187.86 1479.51h0M821.04 1456.62h0M828.04 1455.99h0M832.02 1461.7h0M830.32 1468.77h0M828.99 1471.9h0M821.08 1469.97h0M818.45 1462.66h0M1105.83 1578.3h0M1107.36 1576.84h0M1100.32 1572.33h0M1100.86 1563.65h0M1103.66 1563.27h0M1107.5 1562.97h0M1114.18 1567.52h0M1113.94 1574.46h0M888.54 1571.43h0M896.45 1571.99h0M899.94 1572.4h0M896.52 1582.79h0M890.7 1584.6h0M884.56 1581.43h0M883.58 1572.33h0M1160.81 1483.79h0M1162.53 1492.15h0M1158.4 1498.03h0M1153.47 1498.25h0M1147.05 1491.83h0M1151 1484.67h0M1156.23 1482.17h0M1128.63 1659.85h0M1129.85 1667.75h0M1121.26 1669.94h0M1116.99 1666.59h0M1116.18 1657.55h0M1120.52 1656.95h0M1025.22 1553.76h0M1025.43 1546.04h0M1030.16 1545.15h0M1035.23 1545.6h0M1039.13 1548.48h0M1039.21 1555.33h0M1034.73 1558.13h0M1029.62 1559.32h0M743.53 1575h0M750.14 1572.19h0M755.36 1571.65h0M757.5 1576.78h0M756.13 1583.59h0M751.09 1586.7h0M742.86 1583.32h0M740.31 1579.87h0M1228.31 1480.27h0M1233.99 1476.01h0M1244.61 1476.97h0M1243.64 1485.01h0M1239.73 1490.29h0M1232.13 1487.35h0M845.08 1715.49h0M841.26 1709.49h0M843.9 1703.03h0M845.98 1701.93h0M855.77 1704.38h0M855.73 1712.63h0M849.13 1714.11h0M954.09 1651.84h0M961.13 1653.96h0M965.63 1662.04h0M956.19 1667.42h0M951.56 1662.39h0M948.32 1657.88h0M894.05 1511.39h0M885.09 1508.22h0M884.58 1506.3h0M884.63 1500.48h0M889.3 1497.18h0M898.04 1499.14h0M898.44 1506.02h0M711.15 1550.51h0M711.89 1539.46h0M715.1 1539.22h0M723.49 1539.19h0M724.4 1544.96h0M723.95 1553.13h0M714.73 1552.68h0M1206.11 1655.73h0M1204.97 1665.53h0M1199.72 1667.38h0M1192.67 1662.13h0M1192.72 1654.49h0M1200.56 1651.21h0M1248.46 1708.16h0M1245.72 1719.04h0M1242.11 1719.52h0M1241.4 1721.02h0M1231.57 1713.81h0M1233.62 1709.17h0M1239.06 1704.88h0M1244.77 1704.28h0M1137.02 1602.02h0M1133.77 1589.9h0M1142.16 1585.61h0M1148.11 1588.53h0M1148.15 1597.95h0M1138.82 1601.88h0M962.53 1583.34h0M960.44 1590.49h0M957.81 1595.42h0M947.92 1593.75h0M946.8 1585.91h0M949.94 1581.19h0M956.22 1579.55h0M935.34 1686.37h0M945.03 1685.93h0M947.25 1694.84h0M946.36 1697.13h0M936.15 1701.52h0M931.4 1693.52h0M1130.31 1413.02h0M1137.68 1412.47h0M1138.38 1419.44h0M1133.38 1425.83h0M1129.86 1428.32h0M1124.61 1422.17h0M1123.01 1418.33h0M1126.86 1412.43h0M972.78 1611.39h0M975.67 1604.99h0M977.03 1603.26h0M983.88 1603.86h0M989.39 1606.57h0M985.87 1614.48h0M981.1 1618.8h0M977.46 1615.35h0M849.83 1644.7h0M852.21 1639.7h0M855.86 1639.2h0M858.17 1639.68h0M863.87 1644.03h0M862.52 1652.15h0M858.98 1652.58h0M852.06 1652.01h0M861.85 1656.98h0M871.11 1662.24h0M871.47 1667.65h0M861.1 1673.41h0M856.04 1669.7h0M858.18 1659.71h0M975.35 1472.55h0M981.09 1464.98h0M988.68 1469.76h0M989.13 1476.75h0M988.5 1479.09h0M979.54 1478.58h0M877.09 1495.8h0M879.97 1500.9h0M876.59 1505.69h0M872.86 1507.11h0M866.75 1504.89h0M864.66 1497.75h0M864.12 1495.52h0M874.27 1494.49h0M839.23 1468.67h0M837.59 1461.7h0M838.47 1454.74h0M844.21 1454.64h0M848.44 1453.48h0M851.01 1460.8h0M848.56 1466.29h0M1111.6 1532.6h0M1118.42 1535.23h0M1119.06 1541.25h0M1115.19 1546.39h0M1106.06 1545.3h0M1106.27 1537.42h0M1055.48 1418.12h0M1062.02 1414.56h0M1067.07 1416.36h0M1069.2 1418.06h0M1071.28 1427.08h0M1066.99 1428.87h0M1058.57 1429.33h0M1056.34 1425.18h0M1000.73 1620.69h0M1003.47 1628.85h0M999.47 1631.71h0M992.76 1636.88h0M987.35 1633.96h0M987.38 1626.5h0M989.65 1620.26h0M996.56 1620.71h0M1155.03 1456.68h0M1159.67 1466.33h0M1155.43 1470.29h0M1150.09 1470.57h0M1145.39 1464.7h0M1149.44 1457.12h0M701.11 1599.41h0M697.39 1608.44h0M690.54 1607.99h0M686.75 1608.69h0M686.64 1600h0M690.68 1594.74h0M698.47 1594.54h0M857.94 1435.89h0M862.44 1437.62h0M859.86 1451.5h0M855.74 1450.59h0M851.31 1448.47h0M848.18 1438.91h0M879.96 1612.59h0M881.06 1607.85h0M884.31 1602.65h0M891.63 1600.6h0M895.64 1609.02h0M893.21 1615.17h0M885.44 1617.6h0M1061.94 1658.89h0M1058.46 1665.67h0M1052.79 1664.49h0M1048.25 1659.34h0M1051.6 1652.58h0M1056.56 1651.76h0M713.49 1393.29h0M719.43 1389.8h0M723.76 1390.15h0M726.89 1394.05h0M727.39 1400.78h0M721.92 1405.28h0M720.36 1403.14h0M712.95 1399.29h0M725.94 1571.97h0M730.58 1573.9h0M736.29 1578.39h0M734.97 1586.5h0M729.56 1589.59h0M725.46 1588.06h0M720.03 1579.47h0M713.21 1701.09h0M706.98 1703.15h0M703.1 1698.43h0M702.44 1686.93h0M707.1 1687.13h0M712.88 1688.31h0M714.54 1697.18h0M687.59 1434.11h0M691.51 1430.86h0M700.68 1435.82h0M699.53 1442.24h0M694.81 1446.17h0M685.99 1440.89h0M853.29 1535.49h0M857.11 1536.64h0M861.6 1546.09h0M860.39 1547.17h0M854.72 1552.19h0M850.01 1551.75h0M845.24 1544.88h0M845.67 1540.82h0M1065.49 1621.01h0M1056.32 1623.11h0M1050.05 1619.51h0M1049.02 1614.66h0M1057.87 1607.13h0M1060.14 1608.29h0M1067.26 1614.69h0M972.83 1411.39h0M976.76 1411.48h0M979.4 1420.38h0M974.57 1425.77h0M974.5 1426.37h0M967.98 1423.91h0M967.74 1421.38h0M964.43 1413.82h0M1001.5 1403.65h0M1000.6 1400.01h0M998.22 1395.39h0M1005.41 1389.95h0M1009.94 1389.95h0M1015.54 1394.37h0M1015.14 1400h0M1011.63 1402.33h0M938.36 1440.95h0M938.75 1437.18h0M941.11 1429.69h0M948.15 1428.36h0M948.4 1427.94h0M951.38 1435.08h0M951.67 1442.07h0M941.88 1440.52h0" stroke="#58299c" stroke-width="2.7" stroke-linecap="round" fill="none" opacity="0.78"/>
<path d="M1079.08 1420.6h0M874.97 1473.91h0M1202.65 1448.41h0M818.07 1439.92h0M841.29 1595.63h0M718.67 1495.11h0M1206.19 1591.9h0M1179.55 1462.09h0M863.12 1658.79h0M941.17 1460.39h0M1214.04 1523.99h0M755.27 1599.21h0M771.33 1475.28h0M942.95 1525.4h0M819.26 1595.4h0M1099.15 1579.14h0M1020.12 1466.15h0M925.24 1669.23h0M870.72 1520.05h0M992.17 1559.63h0M957.34 1624.56h0M810.16 1486.64h0M1115.52 1628.59h0M1059.42 1515.02h0M858.09 1548.33h0M1071.28 1641.03h0M963.15 1659.6h0M958.59 1671.89h0M904.49 1673.71h0M847.55 1594.63h0M977 1460.24h0M1022.39 1526.61h0M1174.55 1428.35h0M1184.21 1507.29h0M1060.89 1596.12h0M966.36 1493.74h0M853.69 1553.98h0M916.45 1622.54h0M1152.41 1530.26h0M926.61 1636.7h0M1146.92 1528.96h0M1102.25 1554.34h0M1035.91 1678.73h0M1205.73 1614.39h0M963.45 1649.25h0M923.09 1522.55h0M1214 1584.07h0M1166.06 1611.47h0M977.62 1473.8h0M1015.43 1497.82h0M940.36 1497.57h0M982.47 1475.59h0M854.11 1661.83h0M1169.34 1559.44h0M830.11 1589.55h0M1149.14 1418.9h0M1076.67 1540.73h0M1101.5 1463.63h0M1163.45 1627.9h0M877.66 1543.38h0M1153.8 1596.02h0M742.76 1445.29h0M1009.24 1532.14h0M716 1478.64h0M977.86 1682.47h0M1090.74 1458.71h0M1104.36 1576.38h0M1106.14 1611.38h0M842 1542.42h0M997.11 1434.44h0M1177.1 1440.57h0M921.77 1564.29h0M850.76 1555.03h0M1003.41 1422.92h0M1198.6 1636.41h0M1072.86 1451.8h0M1046.91 1594.28h0M1142.78 1482.53h0M726.44 1537.99h0M1047.31 1464.62h0M1131.1 1687.78h0M883 1689.73h0M1163.87 1475.71h0M816.29 1657.23h0M875.51 1535.62h0M949.72 1543.28h0M834.13 1470.59h0M1041.78 1673.98h0M995 1591.88h0M835.79 1475.74h0M1086.43 1676.96h0M1110.03 1613.04h0M755.39 1606.22h0M771.55 1495.62h0M758.28 1459.67h0M881.78 1662.44h0M775.16 1432.66h0M831.66 1543.96h0M1034.9 1558.69h0M919.49 1433.74h0M823.13 1480.72h0M819.31 1457.05h0M807.15 1609.34h0M755.63 1485.4h0M1062.56 1578.47h0M850.15 1610.47h0M737.86 1512.76h0M856.08 1597.69h0M835.55 1587.84h0M772.17 1613.65h0M931.97 1663.7h0M985.24 1639.68h0M1100.56 1600.05h0M738.86 1660.28h0M953.16 1492.16h0M732.13 1686.17h0M727.41 1638.38h0M958.46 1559.35h0M1181.06 1620.83h0M1207.09 1529.35h0M836.26 1541.5h0M1191.97 1518.28h0M757.22 1563.07h0M773.28 1666.57h0M770.49 1507.98h0M821.66 1666.33h0M1160.17 1461.48h0M811.93 1577.85h0M894.17 1481.8h0M822.68 1685.28h0M1070.87 1443.96h0M739.97 1496.25h0M1194.2 1501.77h0M1079.85 1485.44h0M984.91 1642.55h0M911.66 1545.75h0M773.84 1448.48h0M1209.89 1441.96h0M893.8 1660.08h0M1188.1 1602.35h0M1191.41 1503.93h0M729.48 1594.84h0M975.9 1444.28h0M835.59 1499.94h0M800.05 1497.45h0M988.02 1468.27h0M932.51 1557.22h0M1112.11 1627.38h0M954.94 1582.81h0M968.73 1427.8h0M1181.82 1564.46h0M824.56 1494.8h0M944.16 1564.62h0M765.84 1662.27h0M816.88 1459.1h0M934.96 1475.07h0M730.28 1490.08h0M1197.59 1428.78h0M882.7 1606.04h0M1050.71 1422.57h0M841.91 1678.25h0M1083.99 1428.65h0M1056.42 1426.18h0M890.38 1482.39h0M727.95 1464.64h0M1214.69 1453.88h0M960.95 1542.86h0M1185.52 1418.83h0M1092.15 1530.21h0M1204.63 1569.63h0M1147.36 1525.05h0M955.7 1480.41h0M1017.04 1626.18h0M851.93 1619.41h0M794.48 1501.54h0M1094.43 1468.09h0M791.24 1435.2h0M1119.74 1506.49h0M1034.6 1476.81h0M1081.95 1608.62h0M1211.35 1503.92h0M1062.55 1441.91h0M1095.96 1469.32h0M1115.48 1571.08h0M1040.34 1550.68h0M771.93 1633.74h0M998.04 1512.62h0M850.01 1438.13h0M1059.93 1547.45h0M1007.86 1544.43h0M731.84 1563.52h0M1199.28 1484.35h0M991.37 1639.09h0M1153.57 1501.14h0M999.52 1447.9h0M909.91 1668.27h0M886.11 1447.21h0M1091.87 1429.52h0M844.15 1426.83h0M915.4 1430.35h0M806.26 1683.16h0M753.07 1445.97h0M941.65 1521.15h0M825.45 1439.88h0M974.44 1499.25h0M888.94 1588.72h0M1066.85 1529.06h0M942.8 1476.41h0M757.07 1423.96h0M1019.28 1620.85h0M844.88 1480.57h0M1194.53 1512.19h0M917.68 1518.58h0M1101.41 1539.18h0M923.77 1591.51h0M891.21 1680.23h0M1145.3 1587.77h0M1063.92 1513.83h0M1027.71 1617.65h0M845.89 1446.79h0M954.3 1534.96h0M966.67 1495.98h0M1148.44 1432.62h0M1204.58 1554.24h0M882.85 1550.58h0M818 1563.75h0M1157.28 1510.11h0M787.55 1669.31h0M763.01 1620.66h0M1057.23 1668.16h0M860.27 1452.63h0M728 1478h0M736.4 1537.64h0M937.28 1443.23h0M1195.09 1457.2h0M1098.27 1560.86h0M1208.71 1535.52h0M1181.72 1569.79h0M1142.81 1606.36h0M1055.21 1686.25h0M967.12 1474.17h0M1211.02 1574.4h0M1079.5 1426.22h0M975.53 1451.03h0M950.87 1618.95h0M926.98 1507.3h0M1059.08 1457.17h0M1109 1552.92h0M716.58 1647.77h0M1105.92 1455.33h0M1205.73 1479.33h0M866.7 1471.52h0M1051.95 1617h0M1030.03 1569.25h0M721.24 1584.03h0M1208 1616.64h0M1099.93 1468.01h0M738.03 1534.49h0M1114.26 1604.82h0M850.63 1487.05h0M1013.27 1469.37h0M763.78 1525.33h0M864.93 1487.25h0M1005.64 1556.55h0M1123.18 1467.74h0M836.68 1569.93h0M1059.55 1565.06h0M1199.76 1550.46h0M866.59 1676.51h0M1029.5 1461.37h0M1140.57 1657.62h0M1193.68 1437.2h0M896.06 1480.14h0M1192.01 1488.55h0M893.26 1500.27h0M1179.75 1580.37h0M927.64 1471.53h0M880.83 1622.45h0M1139.84 1681h0M988.98 1609.41h0M963.84 1640.97h0M1151.93 1685.59h0M723.08 1458.32h0M982.21 1522.59h0M719.74 1483.42h0M1088.91 1457.62h0M782.89 1444.6h0M758.75 1596.58h0M743.55 1576h0M1060.55 1599.54h0M1007.9 1589.81h0M816.98 1610.49h0M948.63 1615.68h0M1012.96 1638.93h0M1074.35 1442.51h0M891.24 1526.38h0M1048.89 1657.41h0M821.45 1644.94h0M892.91 1676.78h0M736.75 1434.95h0M860.42 1664.23h0M1191.8 1684.12h0M1167.27 1446.7h0M973.78 1653.39h0M929.41 1539.89h0M940.26 1430.53h0M1196.87 1651.33h0M1010.1 1446.2h0M983.77 1609.94h0M1151.32 1455.16h0M716.15 1422.72h0M858.96 1673.87h0M843.09 1662.34h0M942.18 1619.37h0M724.35 1641.55h0M1114.9 1455.83h0M1210.47 1501.01h0M778.61 1512.36h0M886.44 1539.43h0M1097.06 1578.1h0M859.87 1602.03h0M1019.45 1607.41h0M974.4 1549.47h0M898.76 1660.4h0M1070.23 1470.28h0M836.56 1631.28h0M1068.5 1680.96h0M1118.36 1688.57h0M1084.82 1603.74h0M1008.46 1518.2h0M1062.81 1644.47h0M854.83 1570.93h0M934.81 1583.67h0M762.89 1608.36h0M999.24 1659.4h0M1039 1525.63h0M1016.87 1458.36h0M941.64 1688.89h0M729.12 1685.69h0M833.83 1543.23h0M1033.26 1419.38h0M1137.68 1565.1h0M1046.47 1429.36h0M1136.69 1529.02h0M1164.46 1546.8h0M1173.47 1674.06h0M1174.79 1589.15h0M977.96 1499.72h0M820.95 1588.87h0M842.35 1544.63h0M1145.07 1560.97h0M720.57 1689.47h0M744.61 1586.21h0M827.65 1646.04h0M977.4 1534.63h0M1102.07 1597.4h0M738.79 1595.83h0M908.76 1691.05h0M783.7 1437.51h0M766.47 1690.68h0M837.03 1469h0M1206.71 1628.53h0M875.89 1588.22h0M1148.53 1463.56h0M924.59 1663.91h0M1062.54 1461.21h0M1201.35 1499.86h0M770.6 1634.26h0M1203.1 1685.33h0M1216.19 1579.93h0M1137.96 1611.42h0M766.43 1463.73h0M882.15 1546.7h0M1216.05 1481.09h0M1168.98 1561.6h0M911.02 1615.85h0M982.91 1662.12h0M739.69 1544.6h0M771.93 1582.85h0M1070.85 1454.83h0M747.85 1570.17h0M864.29 1432.15h0M908.43 1687.42h0M1135.93 1575.82h0M1173.92 1638.38h0M928.19 1566.34h0M895.44 1419.23h0M861.54 1452.13h0M1093.35 1456.28h0M1101.15 1461h0M1163.26 1582.29h0M1002.12 1434.02h0M737 1463.86h0M888.57 1676.56h0M1080.07 1547.53h0M1121.75 1584.06h0M902.93 1586.04h0M1187.5 1490.62h0M1144.39 1468.13h0M1094.55 1554.03h0M988.91 1644.33h0M773.3 1684.83h0M878.82 1474.61h0M834.95 1676.52h0M954.34 1429.73h0M1118.89 1669.23h0M1051.98 1524.55h0M946.55 1477.98h0M1108.68 1499.93h0M818.66 1555.05h0M980.3 1524.34h0M978.38 1659.98h0M899.29 1506.98h0M1078.44 1543.61h0M814.9 1583.9h0M719.93 1446.49h0M954.38 1478.82h0M1202.87 1537.61h0M957.7 1595.62h0M784.85 1561.12h0M746.64 1587.91h0M1071.33 1673.85h0M780.06 1519.86h0M725.42 1588.96h0M1080.74 1615.7h0M1038.46 1418.02h0M992.85 1544.05h0M1104.88 1615.53h0M935.03 1483.53h0M766.49 1579.65h0M1066.51 1483.83h0M754.55 1531.29h0M823.34 1475.51h0M739.72 1520.23h0M903.57 1605.35h0M1176.42 1655.74h0M824.8 1446.99h0M951.75 1611.04h0M1199.39 1428.6h0M919.39 1691h0M1014.2 1469.67h0M1192.12 1517.1h0M870.81 1530.75h0M811.51 1501.65h0M1124.93 1627.14h0M993.1 1626.11h0M715.76 1584.9h0M1046.39 1553.61h0M946.53 1446.02h0M983.47 1595.29h0M947.28 1525.95h0M1061.76 1441.29h0M919.79 1660.21h0M734.06 1689.96h0M1190.3 1427.67h0M729.63 1530.18h0M1093.65 1665.53h0M1117.3 1638.02h0M1113.68 1559.35h0M1085.91 1536.82h0M826.02 1440.85h0M815.85 1665.74h0M812.79 1474.24h0M781.51 1500.96h0M876.84 1458.64h0M1165.18 1614.26h0M1100.22 1524.53h0M716.65 1417.29h0M959.93 1452.85h0M1080.45 1457.17h0M984.02 1631.83h0M1015.12 1532.85h0M835.89 1596.73h0M1074.6 1552.66h0M1117.89 1485.8h0M1003.43 1566.85h0M920.03 1660.02h0M892.82 1590.52h0M1206.05 1563.09h0M1193.34 1642.38h0M990.33 1651.12h0M911.83 1423.87h0M716.82 1663.19h0M1105.05 1500.38h0M1189.98 1515.38h0M1094.73 1580.74h0M1133.31 1602.12h0M716.13 1460.12h0M1081.83 1557.2h0M947.58 1661.33h0M1167.5 1441.29h0M1196.31 1622.29h0M1207.37 1491.85h0M841.43 1682.64h0M1002.33 1526.06h0M1029.45 1629.34h0M735.09 1650.98h0M1010.73 1687.15h0M1088.68 1494.51h0M985.54 1606.4h0M829.44 1535.88h0M885.92 1619.55h0M865.88 1557.8h0M854.68 1451.97h0M1068.48 1435.56h0M947.12 1588.25h0M1061.07 1526.62h0M934.7 1656.14h0M1084.77 1420.81h0M1045.51 1626.13h0M1053.56 1598.08h0M1197.84 1425.87h0M857.9 1549.69h0M1139.47 1512.96h0M1051.63 1558.79h0M1101.72 1462.18h0M737.58 1685.41h0M1127.95 1473.55h0M838.84 1442.02h0M827.4 1530.39h0M959.06 1606.41h0M1153.45 1552.79h0M1028 1545.18h0M944.27 1514.94h0M1175.3 1666.7h0M763.86 1547.87h0M744.2 1560.87h0M805.32 1416.81h0M813.84 1681.66h0M836.99 1426.41h0M899.47 1441.76h0M1148.54 1656.27h0M986.95 1686.71h0M1147.81 1611.24h0M859.04 1684.94h0M867.49 1516.08h0M793.35 1461.86h0M873.46 1474.49h0M782.36 1646.59h0M1049.01 1666.29h0M1033.59 1536.1h0M1088.18 1678.97h0M1126 1619.82h0M776.6 1551.14h0M899.3 1630.41h0M785.95 1421.34h0M1118.98 1565.21h0M811.92 1630.5h0M826.05 1525.04h0M1029.93 1521.55h0M1137.99 1597.44h0M959.73 1422.52h0M763.29 1527.93h0M1156.1 1654.69h0M886.01 1674.35h0M1115.46 1477.67h0M1083.41 1619.36h0M934.79 1544.22h0M906.39 1453.36h0M897.24 1631.13h0M718.43 1457.98h0M1067.98 1662.8h0M942.16 1670.12h0M948.43 1498.97h0M1155.84 1691.46h0M890.09 1545.89h0M986.42 1609.83h0M875.32 1451.56h0M1012.52 1615.66h0M1166.2 1609.88h0M848.97 1651.43h0M1058.18 1611.83h0M1060.12 1681.9h0M1029.84 1483.8h0M816.54 1504.31h0M1195.77 1595h0M824.15 1478.91h0M749.74 1621.03h0M816.12 1604.62h0M931.22 1569.75h0M880.89 1531.69h0M1001.11 1549.47h0M1014.93 1532.9h0M834.96 1661.28h0M1090.45 1487.97h0M971.38 1577.97h0M1009.78 1675.83h0M1122.34 1467.79h0M1082.91 1590.46h0M1025.48 1443.63h0M1021.72 1574.75h0M1191.01 1536.63h0M1186.16 1476.34h0M1153.36 1497.43h0M1167.5 1666.89h0M1179.3 1451.54h0M1147.19 1658.76h0M1171.4 1503.24h0M930.86 1623.02h0M770.37 1473.94h0M1211.31 1506.38h0M1043.29 1520.07h0M1150.75 1567.99h0M1091.56 1483.51h0M907.53 1589.07h0M889.46 1422.19h0M791.19 1418.63h0M1140.08 1520.72h0M994.97 1660.93h0M1096.99 1468.14h0M1045.03 1470.1h0M960.41 1532.52h0M914.87 1576.61h0M907.84 1484.82h0M1116.91 1642.4h0M1078.83 1593.91h0M1144.15 1551.85h0M773.01 1662.98h0M948.83 1543.44h0M1204.03 1498.49h0M848.94 1668.09h0M1062.99 1496.82h0M1084.74 1651.41h0M756.9 1588.11h0M829.31 1650.26h0M1144.14 1479.97h0M997.26 1422.45h0M861.6 1583.78h0M872.37 1530.19h0M755.59 1502.4h0M875.42 1531.63h0M759.27 1587.02h0M1138.94 1510.46h0M995.42 1433.38h0M864.76 1654.44h0M872.75 1435.67h0M805.7 1500.12h0M721.49 1505.37h0M1001.6 1510.59h0M947.67 1609.88h0M1132.47 1559.18h0M1113.21 1629.55h0M1009.46 1596.61h0M790.32 1515.12h0M993.21 1433.6h0M777.89 1655.54h0M963.12 1629.29h0M1139.21 1676.56h0M770.07 1430.86h0M979.41 1446.5h0M1064.04 1487.25h0M995.77 1532.76h0M1025.3 1654.63h0M1097.2 1687.88h0M1050.35 1542.33h0M1086.07 1626.63h0M804.13 1590.94h0M1133.66 1513.68h0M922.62 1534.2h0M945.28 1618.88h0M1190.89 1556.95h0M752.92 1490.97h0M737.5 1463.9h0M1191.18 1624.53h0M869.23 1643.68h0M1186.2 1437.67h0M1194.49 1680.65h0M1012.17 1426.28h0M910.69 1501.05h0M979.48 1684.31h0M1028.36 1668.38h0M944.85 1617.1h0M1051.32 1688.72h0M1176.67 1542.63h0M1026.77 1654.29h0M1059.13 1631.58h0M768.78 1602.85h0M896.59 1545.42h0M715.59 1498.63h0M809.68 1657.79h0M987.76 1533.94h0M1180.7 1545.45h0M861.62 1587.18h0M865.09 1451.27h0M984.75 1681.35h0M924.19 1452.23h0M1088.24 1489.16h0M851.73 1497h0M789.79 1424.08h0M1199.55 1427.77h0M1174.37 1562.92h0M830.03 1658.72h0M1196.1 1568.74h0M1156.16 1552.1h0M1155.63 1474.08h0M815.47 1660.2h0" stroke="#58299c" stroke-width="2.4" stroke-linecap="round" fill="none" opacity="0.7"/>
<rect x="716.8" y="1684.6" width="27" height="3.2" fill="#fff"/>
</g>
<rect x="713.8" y="1416.4" width="505.3" height="275.8" fill="none" stroke="#2a2030" stroke-width="1.8"/>
<g clip-path="url(#cp_kd)"><g filter="url(#fkid)">
<rect x="711.8" y="1722" width="509.3" height="280.2" fill="#ac4cc0"/>
<path d="M894.1 1768.22h0M1156.75 1967.3h0M954.18 1808.89h0M895.58 1991.61h0M979.71 1954.96h0M1077.19 1973.99h0M994.2 1911.69h0M1230.7 1899.82h0M1211.51 1997.59h0M1024.03 1891.28h0M862.72 1890.84h0M877.42 1921.65h0M857.04 1953.51h0M756.27 1800.06h0M1107.91 1892.7h0M966.58 1830.95h0M1104.8 1931.76h0M1006.34 1721.04h0M1068.21 1886.41h0M948.49 1914.9h0M872.2 1818.15h0M814.83 1903.42h0M765.35 1973.46h0M974.71 2010.58h0M788.2 1994.39h0M811.62 1952.74h0M977.1 1722.53h0M716.29 2004.06h0M978.34 1923.86h0M819.75 1721.17h0M1122.59 1799.74h0M710.26 1871.38h0M875.11 1791.17h0M707.47 1810.73h0M1098.14 1948.01h0M910.65 1796.29h0M958.64 1973.37h0M1164.61 1818.74h0M1185.24 1732.61h0M1138.01 1996.8h0M807.96 1772.02h0M931.42 2016.67h0M798.36 1937.35h0M760.93 1896.34h0M698.08 1977.18h0M1236.31 1716.33h0M748.37 1938.23h0M1114.29 1996.7h0M855.12 1837.2h0M1205.1 1782.63h0M900.59 1886.68h0M1068.8 1774.45h0M1192.38 1886.16h0M1063.88 1951.8h0M704.59 1916.38h0M801.19 1747.34h0M1147.44 1895.22h0M1068.01 1865.06h0M710.74 1721.7h0M874.88 1903.69h0M1180.46 1989.27h0M732.59 1712.47h0M1105.04 1782.85h0M849.29 1784.34h0M789.55 1762.17h0M949.99 1730.34h0M935.11 1975.09h0M1234.81 1989.52h0M1213.84 1720.55h0M1025.31 1979.02h0M998.72 1939.04h0M819.65 1790.35h0M939.22 1869.7h0M1094.23 1761.48h0M1188.12 1808.47h0M1101.62 1864.9h0M1066.8 1712.17h0M981.42 1874.02h0M1195.45 1753.79h0M864.21 1771.45h0M934.56 1811.02h0M1133.98 1966.02h0M915.11 1872.83h0M850.47 2017.59h0M774.18 2011.93h0M710.02 1944.86h0M1184.15 2008.99h0M1042.36 1809.94h0M1117.22 1817.49h0M1005.02 1996.95h0M897.58 1733.98h0M1176.02 1968.34h0M795.28 1957.8h0M1029.13 1852.98h0M710.1 1778.41h0M1055.68 2013.56h0M1015.52 1784.51h0M928.86 1918.03h0M1057.25 1976h0M1178.76 1871.07h0M772.38 1743.04h0M1009.48 1818.89h0M747.31 2016.89h0M903.43 1707.08h0M981.44 1741.96h0M998.77 1968.84h0M1030.55 1768.14h0M743.47 1848.67h0M1001.53 1739.85h0M759.66 2000.65h0M1019.29 1951h0M808.17 1848.72h0M1194.38 1982.18h0M723.57 1811.4h0M804.88 1976.61h0M906.19 1921.27h0M1214.41 1758.98h0M934.46 1887.05h0M1226.49 1772.2h0M727.71 1931.66h0M870.44 2012.01h0M752.19 1777.92h0M1011.12 1757.75h0M1037.27 1937.29h0M828.69 1957.4h0M1230.61 1742.03h0M786.8 1791.6h0M1232.48 1857.77h0M1174.67 1712.37h0M855.48 1801.74h0M1214.83 1856.77h0M1229.06 1955.31h0M805.42 1710.59h0M1123.21 1950.02h0M1095.35 1714.96h0M928.14 1959.39h0M896.67 1903.15h0M930.55 1712.1h0M831.51 1937.24h0M1125.83 1982.77h0M732.69 1793.61h0M1221.29 1871.21h0M1044.35 1999.83h0M872.6 1969.54h0M1134.53 1743.33h0M923.25 1850.36h0M957.59 1927.32h0M1212.98 1741.54h0M908.21 1722.34h0M1086.8 1959.23h0M1037.81 1962.62h0M772.75 1853.69h0M1079.75 1942h0M1105.99 1910.53h0M822.08 1998.45h0M775.43 1950.91h0M876.48 1995.93h0M811.08 1804.5h0M986.14 1844.61h0M1035.99 1739.6h0M1102.66 1800.76h0M892.54 1795.67h0M938.05 1932.79h0M898.98 1842.2h0M956.67 1881.04h0M938.3 1746.72h0M696.51 1706.7h0M715.29 1741.79h0M990.23 1987.5h0M990.59 1766.7h0M973.32 1939.45h0M833.24 1846.7h0M799.68 1823.85h0M918.42 1945.17h0M701.51 1793.54h0M1047.37 1949.99h0M1223.63 1823.82h0M835.85 1746.62h0M989.39 1791.06h0M896.61 1751.39h0M1105.87 1845.77h0M1221.4 1707.13h0M698.28 1932.73h0M1064.26 1906.17h0M1081.85 1784.77h0M722.11 1912.66h0M733.53 2004.52h0M1064.73 1803.46h0M721.89 1761.91h0M966.63 1911.8h0M1107.65 2014.59h0M988.84 1706.91h0M872.53 1755.22h0M1056.1 1724.33h0M1100.71 1816.63h0M1199.99 1729.45h0M740.51 1726.34h0M884.76 1808.6h0M1180.9 1790.58h0M1200.29 1967.45h0M698.78 1852.25h0M833.32 2016.14h0M1190.78 1932.5h0M1003.6 1847.51h0M728.11 1958.99h0M1145.98 1730.13h0M1163.03 1925.07h0M889.45 2013.28h0M1171.84 1764.28h0M913.36 1908.27h0M944.26 1792.29h0M778.52 1827.71h0M786.86 1812.19h0M885.25 1979.63h0M1002.18 1954.24h0M717.5 1792.46h0M1039.58 1754.18h0M1236.07 1936.79h0M1232.15 1914.67h0M768.45 1988.28h0M915.44 2017.2h0M861.24 1997.02h0M838.46 1797.59h0M1078.74 1722.05h0M1156 1806.6h0M1235.18 1968.94h0M857.44 1971.55h0M1039.7 2018.17h0M973.35 1816.7h0M1018.26 1863.08h0M938.71 1853.62h0M1005.19 1773.6h0M1167.59 1955.74h0M723.6 2017.99h0M763.34 1923.69h0M1031.57 1784.18h0M847.03 1941.07h0M1019.77 1743.92h0M1114.74 1874.95h0M696.13 1771.5h0M1196.65 2000.66h0M1024.65 1822.51h0M766.63 1707.2h0M1121.62 1750.28h0M1113.35 1832.74h0M1041.08 1862.57h0M945.05 1707.39h0" stroke="#a949be" stroke-width="23.04" stroke-linecap="round" fill="none"/>
<path d="M1049.37 1849.41h0M996.41 1895.65h0M1127.23 1837.4h0M797.2 1726.84h0M1015.6 1834.78h0M922.91 1733.19h0M1206.2 1929.1h0M817.27 1919.93h0M1157.28 2005.1h0M949.69 1775.17h0M1139.32 1795.58h0M1113.06 1966.18h0M1091.97 1744.34h0M873.06 1951.63h0M1155.77 1719.27h0M1235.57 1877.41h0M831.83 1828.93h0M879.44 1840.94h0M776.74 1934.65h0M1122.72 1731.76h0M1036.02 1719.47h0M1027.18 2006.09h0M1096.4 1984.22h0M1147.34 1915.77h0M888.5 1716.86h0M756.08 1875.34h0M798.28 1864.13h0M1003.67 1862.7h0M777.86 1879.36h0M861.5 1724h0M1141.6 1816.21h0M776.59 1720.29h0M742.96 1959.23h0M1197.06 1834.85h0M1165.84 1941.07h0M1236.25 1835.07h0M1083.39 1801.92h0M763.69 1763.87h0M1154.3 1861.98h0M701.98 1752.44h0M1034.25 1906.94h0M806.03 2001.28h0M756.63 1740.47h0M891.5 1861.79h0M763.21 1832.15h0M1069.31 1841.21h0M770.84 1814.45h0M851.52 1985.42h0M828.97 1810.35h0M950.94 1942.21h0M1086.57 1919.18h0M1162.5 1790.7h0M938.23 1836.3h0M745.87 1991.52h0M826.15 1863.64h0M992.8 1819.39h0M1051.94 1743.25h0M731.85 1828.13h0M1185.62 1773.45h0M917.92 1835.78h0M757.81 1719.87h0M1192.88 1952.94h0M1149.39 1841.91h0M844.51 1924.94h0M852.46 1909.93h0M876.64 1874.99h0M790.51 1913.09h0M1094.99 2002.33h0M1117.15 1706.48h0M701.32 1891.83h0M1128.1 1906.16h0M732 1744.65h0M1191.63 1716.57h0M1049.34 1896.61h0M1142.29 2017.62h0M953.5 1897.47h0M740.85 1973.97h0M720.32 1973.68h0M1203.96 1904.66h0M971.99 1766.34h0M892.44 1822.39h0M1115.69 1768.3h0M1022.54 1923.75h0M1155.42 1765.48h0M1028.05 1874.63h0M952.37 2012.71h0M789.49 1842.56h0M734.98 1778.09h0M698.69 2003.67h0M1219.95 1839.07h0M901.91 1951.58h0M1152.36 1743.62h0M1023.09 1805.64h0M977.33 1979.59h0M1222.73 1807.12h0M1007.4 1797.06h0M906.74 2003.11h0M961.89 1858.7h0M842.98 1962.54h0M749.8 1914.35h0M712.55 1842.37h0M1090.36 1831.81h0M1180.12 1916.7h0M853.6 1755.33h0M1049.03 1789.82h0M813.91 1877.65h0M839.08 1707.51h0M972.14 1894.65h0M1014.84 1904.44h0M1054.04 1926.75h0M935.24 1995.06h0M912.67 1773.25h0M1128.64 1886.13h0M848.57 1867.78h0M1204.69 1872.76h0M1069.48 1998.66h0M1133.33 1934.7h0M877.54 1738.9h0M767.3 1783.79h0M935.1 1762.48h0M1222.26 1976.34h0M929.97 1788.53h0M1047 1875.71h0M795.9 1881.02h0M837.04 1908.7h0M1222.16 1928.74h0M730.33 1893.92h0M730.61 1875.23h0M816.98 2014.89h0M1125.22 1782.08h0M1193.59 1859.85h0M1229.53 2016.1h0M1148.43 1948.14h0M1086.09 1863.29h0M1124.26 1863.88h0M771.8 1910.28h0M977.18 1802.2h0M959.09 1712.4h0M1075.71 1736.37h0M1167.6 1899.29h0M1015.28 1706.45h0M910.73 1983.58h0M1138.42 1712.04h0M918.32 1892.03h0M845.82 1729.57h0M1009.62 1880.29h0M974.41 1786.81h0M1062.92 1820.65h0M1176.39 1838.16h0M887.49 1955.06h0M1083.29 1894.35h0M992.8 2010.52h0M861.88 1933.51h0M1109.88 1740.46h0M1054.64 1760.93h0M729.39 1857.96h0M1124.93 2016.63h0M1214.11 1961.01h0M1165.14 1876.66h0M1040.47 1832.27h0M828.17 1762.02h0M863.95 1855.53h0M1022.76 1728.16h0M830.12 1981.61h0M909.79 1818.06h0M835.2 1887.87h0M1178.68 1748.65h0M1010.72 2012.99h0M959.06 1753.45h0M958.99 1997.73h0M842.74 2002.8h0M1213.51 2016.89h0M1235.81 1791.57h0M697.52 1835.08h0M754.28 1817.41h0M1094.05 1880.85h0M795.98 2018.18h0M1150.86 1983.42h0M1139.41 1857.4h0M782.89 1980.15h0M916.97 1751.94h0M1088.62 1846.62h0M902.42 1968.38h0M853.6 1820.73h0M707.23 1963.34h0M1206.45 1797.75h0M866.16 1707.21h0M881.96 1937.88h0M1141.39 1777.15h0M816.63 1836.2h0M952.81 1844.85h0M744.12 1756.48h0M1075.12 1758.92h0M804.17 1788.46h0M1082.22 2010.29h0M1205.7 1816.34h0M960.54 1955.6h0M1218.33 1890.44h0M1131.99 1762.61h0M1169.38 1731.1h0M959.77 1793.24h0M1169.37 1857.11h0M1141.64 1876.97h0M1198.22 2016.36h0M1077.64 1820.44h0M740.84 1808.38h0M760.11 1957.8h0M933.81 1903.81h0M964.61 1737.72h0M1171.53 1804.07h0M1042.5 1979.26h0M789.73 1897.54h0M946.99 1822.38h0M1212.95 1944.52h0M858.38 1740.54h0M697.2 1731.07h0M1217.21 1913.23h0M978.2 1858.31h0M1186.44 1900.09h0M1205.42 1707.07h0M722.81 1990h0M819.4 1744.33h0M1169.51 2015.98h0M841.86 1769.85h0M1236.17 1814.95h0M787.19 1708.08h0M1123.07 1921.74h0M1233.81 1757.46h0M882.68 1890.68h0M1010.38 1980.33h0M1149.35 1931.89h0M1006.65 1921.61h0M907.49 1859.15h0M943.52 1962.26h0M902.6 1936.43h0M781.22 1776.49h0M756.62 1858.26h0M1049.31 1709.2h0M716.05 1888.43h0M717.21 1708.31h0M1180.43 1822.14h0M715.97 1827.71h0M1071.79 1927.7h0M1110.22 1720.59h0M746.07 1891.25h0M822.46 1706.1h0" stroke="#a949be" stroke-width="20.16" stroke-linecap="round" fill="none"/>
<path d="M894.1 1768.22h0M1156.75 1967.3h0M954.18 1808.89h0M895.58 1991.61h0M979.71 1954.96h0M1077.19 1973.99h0M994.2 1911.69h0M1230.7 1899.82h0M1211.51 1997.59h0M1024.03 1891.28h0M862.72 1890.84h0M877.42 1921.65h0M857.04 1953.51h0M756.27 1800.06h0M1107.91 1892.7h0M966.58 1830.95h0M1104.8 1931.76h0M1006.34 1721.04h0M1068.21 1886.41h0M948.49 1914.9h0M872.2 1818.15h0M814.83 1903.42h0M765.35 1973.46h0M974.71 2010.58h0M788.2 1994.39h0M811.62 1952.74h0M977.1 1722.53h0M716.29 2004.06h0M978.34 1923.86h0M819.75 1721.17h0M1122.59 1799.74h0M710.26 1871.38h0M875.11 1791.17h0M707.47 1810.73h0M1098.14 1948.01h0M910.65 1796.29h0M958.64 1973.37h0M1164.61 1818.74h0M1185.24 1732.61h0M1138.01 1996.8h0M807.96 1772.02h0M931.42 2016.67h0M798.36 1937.35h0M760.93 1896.34h0M698.08 1977.18h0M1236.31 1716.33h0M748.37 1938.23h0M1114.29 1996.7h0M855.12 1837.2h0M1205.1 1782.63h0M900.59 1886.68h0M1068.8 1774.45h0M1192.38 1886.16h0M1063.88 1951.8h0M704.59 1916.38h0M801.19 1747.34h0M1147.44 1895.22h0M1068.01 1865.06h0M710.74 1721.7h0M874.88 1903.69h0M1180.46 1989.27h0M732.59 1712.47h0M1105.04 1782.85h0M849.29 1784.34h0M789.55 1762.17h0M949.99 1730.34h0M935.11 1975.09h0M1234.81 1989.52h0M1213.84 1720.55h0M1025.31 1979.02h0M998.72 1939.04h0M819.65 1790.35h0M939.22 1869.7h0M1094.23 1761.48h0M1188.12 1808.47h0M1101.62 1864.9h0M1066.8 1712.17h0M981.42 1874.02h0M1195.45 1753.79h0M864.21 1771.45h0M934.56 1811.02h0M1133.98 1966.02h0M915.11 1872.83h0M850.47 2017.59h0M774.18 2011.93h0M710.02 1944.86h0M1184.15 2008.99h0M1042.36 1809.94h0M1117.22 1817.49h0M1005.02 1996.95h0M897.58 1733.98h0M1176.02 1968.34h0M795.28 1957.8h0M1029.13 1852.98h0M710.1 1778.41h0M1055.68 2013.56h0M1015.52 1784.51h0M928.86 1918.03h0M1057.25 1976h0M1178.76 1871.07h0M772.38 1743.04h0M1009.48 1818.89h0M747.31 2016.89h0M903.43 1707.08h0M981.44 1741.96h0M998.77 1968.84h0M1030.55 1768.14h0M743.47 1848.67h0M1001.53 1739.85h0M759.66 2000.65h0M1019.29 1951h0M808.17 1848.72h0M1194.38 1982.18h0M723.57 1811.4h0M804.88 1976.61h0M906.19 1921.27h0M1214.41 1758.98h0M934.46 1887.05h0M1226.49 1772.2h0M727.71 1931.66h0M870.44 2012.01h0M752.19 1777.92h0M1011.12 1757.75h0M1037.27 1937.29h0M828.69 1957.4h0M1230.61 1742.03h0M786.8 1791.6h0M1232.48 1857.77h0M1174.67 1712.37h0M855.48 1801.74h0M1214.83 1856.77h0M1229.06 1955.31h0M805.42 1710.59h0M1123.21 1950.02h0M1095.35 1714.96h0M928.14 1959.39h0M896.67 1903.15h0M930.55 1712.1h0M831.51 1937.24h0M1125.83 1982.77h0M732.69 1793.61h0M1221.29 1871.21h0M1044.35 1999.83h0M872.6 1969.54h0M1134.53 1743.33h0M923.25 1850.36h0M957.59 1927.32h0M1212.98 1741.54h0M908.21 1722.34h0M1086.8 1959.23h0M1037.81 1962.62h0M772.75 1853.69h0M1079.75 1942h0M1105.99 1910.53h0M822.08 1998.45h0M775.43 1950.91h0M876.48 1995.93h0M811.08 1804.5h0M986.14 1844.61h0M1035.99 1739.6h0M1102.66 1800.76h0M892.54 1795.67h0M938.05 1932.79h0M898.98 1842.2h0M956.67 1881.04h0M938.3 1746.72h0M696.51 1706.7h0M715.29 1741.79h0M990.23 1987.5h0M990.59 1766.7h0M973.32 1939.45h0M833.24 1846.7h0M799.68 1823.85h0M918.42 1945.17h0M701.51 1793.54h0M1047.37 1949.99h0M1223.63 1823.82h0M835.85 1746.62h0M989.39 1791.06h0M896.61 1751.39h0M1105.87 1845.77h0M1221.4 1707.13h0M698.28 1932.73h0M1064.26 1906.17h0M1081.85 1784.77h0M722.11 1912.66h0M733.53 2004.52h0M1064.73 1803.46h0M721.89 1761.91h0M966.63 1911.8h0M1107.65 2014.59h0M988.84 1706.91h0M872.53 1755.22h0M1056.1 1724.33h0M1100.71 1816.63h0M1199.99 1729.45h0M740.51 1726.34h0M884.76 1808.6h0M1180.9 1790.58h0M1200.29 1967.45h0M698.78 1852.25h0M833.32 2016.14h0M1190.78 1932.5h0M1003.6 1847.51h0M728.11 1958.99h0M1145.98 1730.13h0M1163.03 1925.07h0M889.45 2013.28h0M1171.84 1764.28h0M913.36 1908.27h0M944.26 1792.29h0M778.52 1827.71h0M786.86 1812.19h0M885.25 1979.63h0M1002.18 1954.24h0M717.5 1792.46h0M1039.58 1754.18h0M1236.07 1936.79h0M1232.15 1914.67h0M768.45 1988.28h0M915.44 2017.2h0M861.24 1997.02h0M838.46 1797.59h0M1078.74 1722.05h0M1156 1806.6h0M1235.18 1968.94h0M857.44 1971.55h0M1039.7 2018.17h0M973.35 1816.7h0M1018.26 1863.08h0M938.71 1853.62h0M1005.19 1773.6h0M1167.59 1955.74h0M723.6 2017.99h0M763.34 1923.69h0M1031.57 1784.18h0M847.03 1941.07h0M1019.77 1743.92h0M1114.74 1874.95h0M696.13 1771.5h0M1196.65 2000.66h0M1024.65 1822.51h0M766.63 1707.2h0M1121.62 1750.28h0M1113.35 1832.74h0M1041.08 1862.57h0M945.05 1707.39h0" stroke="#c062cd" stroke-width="20.44" stroke-linecap="round" fill="none"/>
<path d="M1049.37 1849.41h0M996.41 1895.65h0M1127.23 1837.4h0M797.2 1726.84h0M1015.6 1834.78h0M922.91 1733.19h0M1206.2 1929.1h0M817.27 1919.93h0M1157.28 2005.1h0M949.69 1775.17h0M1139.32 1795.58h0M1113.06 1966.18h0M1091.97 1744.34h0M873.06 1951.63h0M1155.77 1719.27h0M1235.57 1877.41h0M831.83 1828.93h0M879.44 1840.94h0M776.74 1934.65h0M1122.72 1731.76h0M1036.02 1719.47h0M1027.18 2006.09h0M1096.4 1984.22h0M1147.34 1915.77h0M888.5 1716.86h0M756.08 1875.34h0M798.28 1864.13h0M1003.67 1862.7h0M777.86 1879.36h0M861.5 1724h0M1141.6 1816.21h0M776.59 1720.29h0M742.96 1959.23h0M1197.06 1834.85h0M1165.84 1941.07h0M1236.25 1835.07h0M1083.39 1801.92h0M763.69 1763.87h0M1154.3 1861.98h0M701.98 1752.44h0M1034.25 1906.94h0M806.03 2001.28h0M756.63 1740.47h0M891.5 1861.79h0M763.21 1832.15h0M1069.31 1841.21h0M770.84 1814.45h0M851.52 1985.42h0M828.97 1810.35h0M950.94 1942.21h0M1086.57 1919.18h0M1162.5 1790.7h0M938.23 1836.3h0M745.87 1991.52h0M826.15 1863.64h0M992.8 1819.39h0M1051.94 1743.25h0M731.85 1828.13h0M1185.62 1773.45h0M917.92 1835.78h0M757.81 1719.87h0M1192.88 1952.94h0M1149.39 1841.91h0M844.51 1924.94h0M852.46 1909.93h0M876.64 1874.99h0M790.51 1913.09h0M1094.99 2002.33h0M1117.15 1706.48h0M701.32 1891.83h0M1128.1 1906.16h0M732 1744.65h0M1191.63 1716.57h0M1049.34 1896.61h0M1142.29 2017.62h0M953.5 1897.47h0M740.85 1973.97h0M720.32 1973.68h0M1203.96 1904.66h0M971.99 1766.34h0M892.44 1822.39h0M1115.69 1768.3h0M1022.54 1923.75h0M1155.42 1765.48h0M1028.05 1874.63h0M952.37 2012.71h0M789.49 1842.56h0M734.98 1778.09h0M698.69 2003.67h0M1219.95 1839.07h0M901.91 1951.58h0M1152.36 1743.62h0M1023.09 1805.64h0M977.33 1979.59h0M1222.73 1807.12h0M1007.4 1797.06h0M906.74 2003.11h0M961.89 1858.7h0M842.98 1962.54h0M749.8 1914.35h0M712.55 1842.37h0M1090.36 1831.81h0M1180.12 1916.7h0M853.6 1755.33h0M1049.03 1789.82h0M813.91 1877.65h0M839.08 1707.51h0M972.14 1894.65h0M1014.84 1904.44h0M1054.04 1926.75h0M935.24 1995.06h0M912.67 1773.25h0M1128.64 1886.13h0M848.57 1867.78h0M1204.69 1872.76h0M1069.48 1998.66h0M1133.33 1934.7h0M877.54 1738.9h0M767.3 1783.79h0M935.1 1762.48h0M1222.26 1976.34h0M929.97 1788.53h0M1047 1875.71h0M795.9 1881.02h0M837.04 1908.7h0M1222.16 1928.74h0M730.33 1893.92h0M730.61 1875.23h0M816.98 2014.89h0M1125.22 1782.08h0M1193.59 1859.85h0M1229.53 2016.1h0M1148.43 1948.14h0M1086.09 1863.29h0M1124.26 1863.88h0M771.8 1910.28h0M977.18 1802.2h0M959.09 1712.4h0M1075.71 1736.37h0M1167.6 1899.29h0M1015.28 1706.45h0M910.73 1983.58h0M1138.42 1712.04h0M918.32 1892.03h0M845.82 1729.57h0M1009.62 1880.29h0M974.41 1786.81h0M1062.92 1820.65h0M1176.39 1838.16h0M887.49 1955.06h0M1083.29 1894.35h0M992.8 2010.52h0M861.88 1933.51h0M1109.88 1740.46h0M1054.64 1760.93h0M729.39 1857.96h0M1124.93 2016.63h0M1214.11 1961.01h0M1165.14 1876.66h0M1040.47 1832.27h0M828.17 1762.02h0M863.95 1855.53h0M1022.76 1728.16h0M830.12 1981.61h0M909.79 1818.06h0M835.2 1887.87h0M1178.68 1748.65h0M1010.72 2012.99h0M959.06 1753.45h0M958.99 1997.73h0M842.74 2002.8h0M1213.51 2016.89h0M1235.81 1791.57h0M697.52 1835.08h0M754.28 1817.41h0M1094.05 1880.85h0M795.98 2018.18h0M1150.86 1983.42h0M1139.41 1857.4h0M782.89 1980.15h0M916.97 1751.94h0M1088.62 1846.62h0M902.42 1968.38h0M853.6 1820.73h0M707.23 1963.34h0M1206.45 1797.75h0M866.16 1707.21h0M881.96 1937.88h0M1141.39 1777.15h0M816.63 1836.2h0M952.81 1844.85h0M744.12 1756.48h0M1075.12 1758.92h0M804.17 1788.46h0M1082.22 2010.29h0M1205.7 1816.34h0M960.54 1955.6h0M1218.33 1890.44h0M1131.99 1762.61h0M1169.38 1731.1h0M959.77 1793.24h0M1169.37 1857.11h0M1141.64 1876.97h0M1198.22 2016.36h0M1077.64 1820.44h0M740.84 1808.38h0M760.11 1957.8h0M933.81 1903.81h0M964.61 1737.72h0M1171.53 1804.07h0M1042.5 1979.26h0M789.73 1897.54h0M946.99 1822.38h0M1212.95 1944.52h0M858.38 1740.54h0M697.2 1731.07h0M1217.21 1913.23h0M978.2 1858.31h0M1186.44 1900.09h0M1205.42 1707.07h0M722.81 1990h0M819.4 1744.33h0M1169.51 2015.98h0M841.86 1769.85h0M1236.17 1814.95h0M787.19 1708.08h0M1123.07 1921.74h0M1233.81 1757.46h0M882.68 1890.68h0M1010.38 1980.33h0M1149.35 1931.89h0M1006.65 1921.61h0M907.49 1859.15h0M943.52 1962.26h0M902.6 1936.43h0M781.22 1776.49h0M756.62 1858.26h0M1049.31 1709.2h0M716.05 1888.43h0M717.21 1708.31h0M1180.43 1822.14h0M715.97 1827.71h0M1071.79 1927.7h0M1110.22 1720.59h0M746.07 1891.25h0M822.46 1706.1h0" stroke="#c062cd" stroke-width="17.56" stroke-linecap="round" fill="none"/>
<path d="M893.86 1768.17h0M1155.28 1968.07h0M954.61 1807.99h0M895.27 1991.68h0M1076.7 1973.7h0M994.86 1911.75h0M1231.04 1900.46h0M1211.33 1997.91h0M862.45 1890.71h0M876.99 1922.55h0M857.65 1953.64h0M1107.88 1891.5h0M966.59 1831.21h0M1105.69 1932.12h0M1067.59 1887.21h0M949.95 1914.93h0M871.63 1818.05h0M815.61 1903.41h0M975.27 2011h0M787.7 1994.41h0M811.42 1953.3h0M977.59 1722.86h0M717.28 2004.56h0M978.06 1923.31h0M820.01 1719.87h0M710.14 1870.54h0M875.05 1791.02h0M706.97 1810.11h0M1097.35 1948.45h0M910.98 1796.51h0M958.48 1973.7h0M1164.52 1818.66h0M1185.5 1732.77h0M1137.27 1996.22h0M930.53 2016.07h0M799.59 1937.59h0M747.69 1937.61h0M1113.81 1996.07h0M854.42 1837.92h0M1204.77 1781.62h0M901.23 1886.42h0M1068.42 1775.06h0M1063.63 1952.88h0M704.45 1916.67h0M800.67 1747.88h0M1147.67 1896.63h0M710.29 1722.3h0M874.11 1903.67h0M732.71 1712.62h0M1104.77 1783.93h0M949.94 1730.72h0M935.15 1974.13h0M1235.41 1989.22h0M1214.04 1721.25h0M1025.8 1979.62h0M998.87 1939.72h0M820.39 1790.42h0M939.06 1869.94h0M1102.48 1864.15h0M1067.13 1712.13h0M980.77 1873.63h0M1195.27 1753.74h0M864.07 1772.46h0M934.73 1810.79h0M1133.64 1964.95h0M914.46 1872.91h0M850.73 2019.12h0M774.59 2011.14h0M710.59 1945.7h0M1184.72 2008.79h0M1004.41 1995.67h0M898.23 1733.66h0M1176.54 1968.83h0M1029.69 1853.94h0M710.12 1776.96h0M1055.7 2013.32h0M1015.97 1784.24h0M928.27 1917.9h0M1178.33 1870.75h0M770.97 1742.39h0M1009.81 1819.45h0M747.96 2018.36h0M903.34 1706.27h0M980.6 1742.48h0M999.47 1968.22h0M1030.06 1768.71h0M743.21 1848.65h0M1001.07 1739.36h0M759.58 2000.7h0M1019.44 1950.16h0M808.24 1848.88h0M1193.58 1981.72h0M805.25 1976.21h0M906.63 1921.78h0M1213.56 1758.41h0M935.39 1886.81h0M1225.97 1772.09h0M727.69 1932.04h0M869.75 2012.17h0M752.66 1777.52h0M1010.93 1757.9h0M1036.48 1939.03h0M827.87 1956.69h0M1231.26 1858.83h0M1174.62 1711.68h0M856.37 1801.04h0M1213.75 1856.69h0M1229.35 1955.84h0M805.66 1710.04h0M1123.21 1950.1h0M929 1959.52h0M896.52 1901.84h0M931.29 1712.7h0M831.21 1936.96h0M1125.77 1982.7h0M732.82 1793.8h0M1221 1872.02h0M1044.27 2000.74h0M872.64 1970.67h0M1133.76 1743.77h0M922.31 1849.97h0M1213.91 1740.99h0M908.52 1721.78h0M1086.36 1959.48h0M1037.6 1962.38h0M773.34 1853.96h0M1079.69 1941.46h0M1105.79 1909.92h0M821.63 1998.31h0M810.96 1803.13h0M985.8 1845.67h0M1034.93 1740.27h0M892.13 1795.59h0M938.22 1932.4h0M899.7 1842.27h0M957.44 1881.78h0M937.07 1746.53h0M696.22 1707.74h0M990.26 1988.51h0M990.08 1767.43h0M972.61 1938.76h0M832.26 1847.57h0M799.73 1824.03h0M916.91 1944.9h0M701.26 1793.73h0M1048.84 1949.18h0M1224.12 1823.29h0M835.81 1746.64h0M990.5 1791.56h0M698.18 1933.56h0M1065.33 1906.46h0M1082.58 1784.36h0M722.26 1913.1h0M733.5 2003.58h0M1063.61 1803.88h0M721.25 1762.31h0M967.72 1912h0M1107.76 2013.72h0M989.91 1706.51h0M872.28 1755.7h0M1056.17 1723.89h0M1101.3 1817.55h0M1199.5 1729.13h0M740.92 1726.53h0M885.23 1808.37h0M1180.43 1790.47h0M1198.81 1967.63h0M697.73 1852.65h0M834.89 2016.7h0M1190.44 1933.42h0M727.75 1958.1h0M1145.61 1730.07h0M1164.32 1924.64h0M890.73 2013.49h0M912.8 1908.38h0M944.85 1791.9h0M777.27 1827.57h0M786.64 1812.22h0M885.58 1979.58h0M1002.24 1954.38h0M717.55 1792.28h0M1038.82 1754.18h0M1236.27 1936.39h0M1231.86 1914.03h0M768.39 1988.41h0M861.91 1997.11h0M839.35 1798.03h0M1155.75 1807.15h0M1235.19 1968.46h0M858.05 1971.15h0M1040 2018.32h0M1018.73 1863.09h0M937.85 1853.82h0M1004.8 1773.54h0M1166.66 1955.81h0M722.83 2017.92h0M1030.94 1783.91h0M847.56 1941.72h0M1018.99 1743.17h0M1115.74 1874.57h0M697.43 1771.72h0M1195.92 2000.07h0M767.35 1706.88h0M1121.86 1749.67h0M1040.68 1862.3h0M1049.26 1849.16h0M996.1 1895.92h0M1127.97 1837.21h0M1015.08 1834.16h0M922.8 1733.26h0M1205.64 1928.59h0M817.45 1918.79h0M1158 2004.93h0M949.17 1774.98h0M1139.9 1795.6h0M1113.82 1967.01h0M1091.07 1743.98h0M873.71 1952.19h0M1156.01 1719.8h0M1235.25 1877.94h0M832.26 1829.15h0M879.56 1840.78h0M776.75 1935.22h0M1122.15 1732.19h0M1035.22 1719.47h0M1027.75 2005.95h0M1095.85 1984.25h0M1147.41 1915.59h0M1003.49 1863.33h0M778.29 1878.86h0M861.93 1723.84h0M776.11 1720.01h0M743.19 1959.22h0M1166.71 1941.31h0M1083.95 1801.95h0M763.33 1763.84h0M1154.84 1862.76h0M702.21 1751.81h0M1033.26 1906.73h0M807.34 2000.79h0M756.56 1739.78h0M763.35 1832.29h0M1070.1 1841.68h0M770.89 1815.11h0M852.47 1986.14h0M828.13 1811.56h0M951.47 1941.89h0M1086.01 1919.6h0M939.09 1836.03h0M826.5 1863.4h0M991.95 1818.57h0M1052.32 1743.92h0M732.05 1827.93h0M1185.59 1772.34h0M918.04 1836.36h0M1193.33 1953.42h0M844.92 1923.92h0M852.15 1909.56h0M876.74 1875.03h0M1095.01 2003.07h0M1118.01 1707.26h0M701.33 1892.28h0M731.42 1745.15h0M1191.8 1716.88h0M1049.58 1896.44h0M954.27 1898h0M741.65 1972.42h0M719.84 1972.96h0M1203.46 1903.95h0M892.8 1822.9h0M1116.06 1768.52h0M1155.96 1765.57h0M1028.93 1875.6h0M952.43 2012.48h0M789.48 1841.95h0M735.28 1777.46h0M698.41 2003.58h0M1219.15 1839.01h0M902.77 1951.78h0M1152.17 1743.79h0M1023.36 1806.87h0M977.93 1979.22h0M1223.44 1806.6h0M1008.12 1796.47h0M961.62 1858.18h0M749.55 1914.21h0M712.5 1842.9h0M1090.2 1831.99h0M1180.17 1916.59h0M852.7 1756.16h0M1049.69 1789.45h0M812.75 1877.59h0M971.87 1894.87h0M1014.56 1904.1h0M1054.92 1927.43h0M934.81 1995.18h0M912.77 1773.88h0M1129.29 1885.6h0M1204.1 1872.76h0M1133.16 1934h0M877.14 1738.51h0M1222.53 1976.68h0M929.95 1789.02h0M836.75 1908.43h0M1221.77 1929.74h0M729.33 1893.57h0M730.7 1874.3h0M816.81 2014.36h0M1124.88 1781.38h0M1193.71 1859.57h0M1148.45 1948.19h0M1086.07 1863.28h0M1123.93 1863.39h0M977.67 1801.61h0M958.64 1711.91h0M1074.8 1737.6h0M1167.71 1900.09h0M1016.2 1707.04h0M1138.39 1711.1h0M918.21 1892.77h0M846.27 1729.89h0M1009.45 1879.92h0M1062.58 1820.17h0M887.78 1954.73h0M1082.64 1893.44h0M1109.63 1740.61h0M1054.88 1759.84h0M728.75 1857.5h0M1125.54 2016.81h0M1214.24 1961.35h0M1164.78 1876.44h0M1041.05 1831.66h0M827.75 1762.45h0M863.73 1856.74h0M829.88 1980.91h0M910.33 1818.68h0M835.14 1888.39h0M1177.64 1749.26h0M1010.62 2013.34h0M958.2 1752.95h0M959.2 1998.15h0M842.44 2002.75h0M1235.87 1791.13h0M697.54 1834.81h0M754.58 1817.36h0M1093.79 1880.44h0M794.76 2018.31h0M1140.07 1857.53h0M784.09 1980.79h0M1088.27 1847.18h0M903.45 1968.15h0M854.78 1820.83h0M707.21 1962.59h0M866.4 1706.84h0M881.91 1937.93h0M1140.84 1777.78h0M815.88 1835.63h0M951.35 1845.3h0M1075.45 1758.77h0M804.04 1787.53h0M1081.58 2009.27h0M1206.51 1816.47h0M959.57 1956.5h0M1218.15 1890.67h0M1168.41 1730.67h0M960.73 1793.48h0M1142.43 1876.34h0M1198.38 2015.6h0M1078.32 1819.63h0M741 1808.18h0M759.26 1957.97h0M933.8 1903.74h0M965.2 1738.56h0M1170.5 1803.63h0M1043.66 1979.31h0M946.37 1822.31h0M1213.85 1944.06h0M697.73 1730.59h0M1216.7 1914.4h0M978.2 1858.77h0M1186.34 1900.72h0M819.31 1745.42h0M1169.46 2015.94h0M841.47 1770.05h0M1237.15 1814.85h0M1123.24 1922.5h0M1233.99 1756.55h0M882.8 1890.78h0M1012.03 1980.48h0M1148.22 1932.1h0M1006.63 1922.52h0M907.7 1858.47h0M944.1 1961.83h0M902.5 1935.82h0M781.41 1776.61h0M756.66 1858.72h0M1049.91 1709.33h0M716.23 1889.04h0M716.42 1708.33h0M716.14 1827.71h0M1072 1927.61h0M1110.25 1720.12h0M822.73 1705.85h0" stroke="#efdef2" stroke-width="3.8" stroke-linecap="round" fill="none" opacity="0.92"/>
<path d="M893.23 1766.58h0M892.23 1766.44h0M892.57 1770.13h0M1153.14 1968.04h0M1154.13 1968.51h0M1153.09 1968.92h0M955.11 1805.8h0M952.79 1806.33h0M956.04 1808.07h0M895.24 1993.75h0M894.03 1992.51h0M896.35 1991.03h0M1075.81 1974.94h0M1077.94 1975.42h0M1076.92 1972.09h0M997.18 1911.13h0M994.44 1910.43h0M995.28 1913.66h0M1229.88 1901.2h0M1228.89 1900.25h0M1232.19 1900.89h0M1211.68 1999.58h0M1211.68 1995.5h0M1210.95 1999.18h0M860.56 1892.11h0M864.14 1890.3h0M863.68 1889.27h0M878.22 1923.07h0M877.3 1924.36h0M876.44 1921.18h0M859.06 1952.59h0M858.85 1952.22h0M856.94 1954.87h0M1109.12 1891.02h0M1108.78 1890.14h0M1110.05 1891.47h0M965.9 1833.4h0M967.3 1829.14h0M966.98 1830.08h0M1103.99 1931.3h0M1107.6 1931.71h0M1106.71 1933.08h0M1066.74 1889.43h0M1066 1886.81h0M1069.39 1887.63h0M949.14 1913.33h0M950.14 1912.68h0M951.15 1916.36h0M873.04 1819.78h0M871.27 1816.69h0M870.56 1818.59h0M813.22 1903.15h0M817.29 1903.57h0M816.58 1901.93h0M976.83 2011.82h0M972.91 2010.35h0M975.37 2009.21h0M788.83 1992.43h0M785.57 1993.8h0M785.94 1994.57h0M812.13 1954.31h0M812.37 1951.67h0M811.79 1955.17h0M975.76 1723.55h0M978.81 1721.85h0M979.86 1722.4h0M717.33 2002.46h0M716.81 2003.13h0M717.16 2003.36h0M978.98 1924.87h0M976.53 1922.75h0M977.66 1921.92h0M821.17 1721.74h0M821.57 1718.18h0M819.17 1718.57h0M712.03 1869.52h0M711.48 1870.36h0M711.54 1871.1h0M873.93 1792.06h0M875.6 1792.56h0M876.73 1792.8h0M705.5 1810.29h0M708.38 1809.91h0M708.21 1809.35h0M1096.06 1949.61h0M1096.8 1946.7h0M1099.01 1949.65h0M911.16 1795.34h0M911.66 1795.36h0M913.35 1795.86h0M959.97 1973.51h0M960.39 1972.63h0M960.61 1973.62h0M1162.26 1819.41h0M1163.65 1819.55h0M1165.6 1819.06h0M1184.53 1730.79h0M1184.17 1731.68h0M1186.15 1731.01h0M1135.18 1997.3h0M1138.45 1995.28h0M1136.91 1993.88h0M929.32 2017.41h0M931.79 2015.5h0M929.09 2015.04h0M800.17 1936.12h0M801.67 1938.29h0M799.55 1938.91h0M748.77 1938.52h0M748.74 1939.48h0M746.14 1938.57h0M1114.44 1994.16h0M1115.49 1994.93h0M1112.99 1997.5h0M853.61 1840.19h0M855.6 1839.82h0M853.87 1839.83h0M1205.48 1779.59h0M1204.21 1783.24h0M1202.54 1782.07h0M899.65 1887.36h0M899.63 1887.79h0M901.53 1888.21h0M1070.52 1774.45h0M1067.77 1776.34h0M1069.12 1773.79h0M1063.87 1951.7h0M1062.59 1951.7h0M1064.8 1952.98h0M705.99 1917.03h0M703.18 1914.68h0M703.4 1918.04h0M802.1 1747.01h0M801.37 1746.72h0M801.98 1749.8h0M1149.26 1897.23h0M1149.2 1895.95h0M1147.69 1894.94h0M709.7 1720.85h0M710.6 1720.99h0M708.32 1720.86h0M874.06 1902.27h0M874.16 1906.01h0M876.08 1904.37h0M732.48 1710.73h0M733.75 1710.82h0M733.98 1712.17h0M1102.89 1785.32h0M1104.94 1785.25h0M1105.33 1785.94h0M951.81 1729.24h0M951.41 1731.1h0M947.57 1731.18h0M936.37 1975.64h0M933.63 1972.5h0M935.02 1972.63h0M1235.65 1990.7h0M1235.97 1987.12h0M1234.95 1988.1h0M1213.24 1719.01h0M1213.17 1720.14h0M1212.56 1719.92h0M1024.67 1981.1h0M1023.49 1979.12h0M1027.1 1978.43h0M1000.21 1940.75h0M997.99 1941.27h0M999.81 1938.34h0M819.63 1788.92h0M820.73 1791.55h0M822.02 1790.95h0M940.54 1870.68h0M941.03 1871.32h0M937.35 1869.72h0M1101.24 1865.75h0M1100.92 1865.71h0M1101.48 1865.54h0M1068.37 1711.88h0M1069.06 1713.21h0M1065.84 1712.7h0M982.83 1873.85h0M978.66 1873.18h0M979.75 1875.06h0M1196.28 1751.8h0M1197.51 1753.64h0M1196.56 1751.68h0M863.1 1773.7h0M865.28 1770.44h0M864.82 1771.58h0M936.6 1809.23h0M932.84 1811.1h0M935.91 1810.59h0M1132.32 1964.38h0M1135 1964.19h0M1131.17 1964.93h0M915.55 1871.19h0M912.74 1874.59h0M916.86 1873.07h0M851.51 2018.2h0M852.09 2017.61h0M849.39 2017.64h0M775.58 2011.98h0M774.53 2009.87h0M773.13 2012.17h0M710.41 1947.93h0M709.18 1947.22h0M712.39 1946.32h0M1186.75 2009.71h0M1185.43 2009.8h0M1185.84 2010.07h0M1003 1997.2h0M1006.26 1996.36h0M1004.7 1997.24h0M899.3 1731.6h0M898.52 1732.45h0M899.84 1733.05h0M1175.27 1967.02h0M1175.42 1970.68h0M1176.44 1970.23h0M1027.95 1853.28h0M1028.83 1852.88h0M1029.14 1855.11h0M710.63 1775.2h0M711.36 1778.58h0M710.11 1779.21h0M1057.21 2014.22h0M1055.19 2014.55h0M1053.85 2013.55h0M1014.19 1785.13h0M1016.87 1783.38h0M1018.03 1783.54h0M928.3 1916.43h0M926.52 1919.37h0M926.64 1918.4h0M1176.74 1869.18h0M1176.68 1870.71h0M1178.73 1872.81h0M772.31 1742.17h0M769.18 1741.99h0M771.54 1741.35h0M1011.71 1818.03h0M1008.57 1818.77h0M1009.99 1820.75h0M747.39 2016.25h0M747.5 2017.3h0M747.29 2020.13h0M901.1 1705.48h0M903.68 1704.31h0M904.56 1706.36h0M981.49 1741.36h0M982.6 1742.17h0M979.26 1741.16h0M997.48 1967.51h0M1000.77 1968.61h0M1000.13 1969.92h0M1028.35 1767.16h0M1029.57 1769.86h0M1029.78 1769.86h0M744.66 1850.38h0M744.57 1848.82h0M741.17 1847.65h0M1000.94 1737.45h0M999.96 1740.77h0M999.72 1740.92h0M757.45 1999.81h0M759.69 2002.76h0M761.09 2001.85h0M1018.55 1949.3h0M1019.66 1951.96h0M1019.4 1948.19h0M807.69 1850.88h0M807.33 1846.79h0M807.17 1847.95h0M1195.36 1982.72h0M1195.66 1982.16h0M1191.95 1983.17h0M802.96 1975.89h0M803.09 1975.68h0M803.06 1977.28h0M904.93 1922.6h0M907.09 1920.5h0M905.64 1920.66h0M1215.62 1759.67h0M1213.97 1756.09h0M1212.27 1757.22h0M937.37 1886.32h0M934.17 1885.87h0M936.55 1887.87h0M1227.2 1772.23h0M1224.97 1771.33h0M1226.4 1774.4h0M729.14 1933.44h0M729.47 1933.47h0M726.43 1931.74h0M872.07 2012.7h0M870.59 2014.12h0M871.96 2012.6h0M753.54 1778.37h0M750.39 1778.34h0M752.65 1779.55h0M1009.78 1757.96h0M1011.47 1759.32h0M1012.14 1756.91h0M1037.42 1938.08h0M1035.1 1940.59h0M1037.7 1938.05h0M828.29 1958.04h0M827.16 1958.29h0M826.21 1955.87h0M1233.03 1859.85h0M1231.94 1857.76h0M1229.13 1858.99h0M1176.11 1711.52h0M1176.16 1713.51h0M1173.03 1710.93h0M857.8 1799.73h0M857.61 1800.57h0M857.07 1801.98h0M1215.12 1858.08h0M1211.74 1856.46h0M1215.16 1854.75h0M1230.69 1955.98h0M1228 1956.92h0M1227.66 1955.32h0M806.58 1708.17h0M806.26 1708.39h0M806.78 1711.43h0M1124.88 1949.41h0M1122.1 1951.27h0M1121.74 1950.64h0M930.07 1961.7h0M930.31 1959.39h0M927.22 1960.07h0M894.59 1900.46h0M896.11 1900.58h0M895.91 1903.09h0M932.27 1711.47h0M931.06 1711.33h0M930.95 1711.39h0M829.46 1937.03h0M830.26 1935.32h0M830.13 1938.03h0M1126.11 1984.08h0M1127.18 1984.17h0M1127.12 1981.7h0M733.5 1795.15h0M733.95 1792.19h0M731.3 1794.77h0M1219.79 1870.98h0M1219.24 1873.7h0M1222.21 1872.65h0M1045.88 2000.98h0M1042.67 2000.92h0M1042.23 1999.98h0M870.66 1970.2h0M871.71 1971.54h0M873.68 1971.57h0M1135.83 1743.84h0M1135.15 1743.44h0M1134.55 1742.05h0M922.93 1851.42h0M923.53 1850.08h0M920.63 1851.64h0M1212.05 1741.21h0M1214.28 1743.42h0M1212.52 1741.49h0M908.1 1723.6h0M908.69 1724.19h0M907.3 1721.24h0M1088.34 1958.07h0M1084.62 1958.21h0M1084.97 1958.52h0M1035.55 1961.52h0M1035.82 1962h0M1039.7 1962.18h0M774.3 1856.09h0M775 1854.99h0M774.05 1852.71h0M1081.71 1942.01h0M1081.92 1941.02h0M1078.92 1939.5h0M1106.74 1911.14h0M1104.08 1910.04h0M1105.71 1908.32h0M820.28 1997.7h0M821.52 1996.9h0M819.28 1999h0M810.48 1801.79h0M812.56 1803.12h0M808.88 1802.03h0M984.31 1846.25h0M985.7 1844.23h0M987.48 1847.1h0M1034.42 1742.24h0M1035.5 1739.23h0M1033.43 1740.35h0M892.4 1797.19h0M893.82 1796.88h0M893.62 1796.81h0M937.23 1934.57h0M936.79 1932.43h0M937.85 1934.69h0M901.25 1841.09h0M901.7 1843.32h0M898.19 1841.17h0M959.6 1882.45h0M955.66 1883.07h0M956.56 1880.76h0M937.8 1747.61h0M935.78 1745.16h0M938.25 1747.31h0M694.83 1709.46h0M697.96 1709.08h0M697.31 1708.35h0M990.15 1989.98h0M991.18 1989.88h0M987.97 1988.99h0M990.15 1765.54h0M991.84 1768.5h0M990.36 1768.71h0M970.83 1939.74h0M974.03 1939.01h0M974.11 1937.84h0M830.86 1847.21h0M831.47 1846.64h0M833.75 1849.41h0M801.04 1823.52h0M798.35 1825.15h0M797.72 1823.4h0M916.45 1943.03h0M918.48 1946.35h0M918.03 1946.64h0M699.88 1795.48h0M702.5 1795.11h0M699.42 1793.64h0M1049.37 1951.39h0M1048.6 1947.51h0M1049.87 1950.6h0M1222.06 1823.6h0M1225.42 1822.89h0M1222.37 1824.67h0M837.12 1747.02h0M838.19 1746.73h0M835.33 1747.9h0M988.92 1790.01h0M989.43 1790.67h0M992.92 1791.15h0M700.33 1932.7h0M700.27 1934.43h0M696.85 1931.71h0M1067.15 1906.66h0M1067.44 1906h0M1066.48 1908.32h0M1083.86 1784.16h0M1081.71 1786.55h0M1080.95 1785.77h0M722.52 1914.83h0M721.57 1911.93h0M721.42 1915.23h0M732.4 2003.89h0M731.47 2002.8h0M732.78 2004.71h0M1065.28 1804.84h0M1064.75 1802.48h0M1063.66 1805.17h0M722.88 1762.03h0M720.22 1761.17h0M721.36 1764.4h0M968.37 1913.31h0M968.1 1914.31h0M966.67 1910.99h0M1106.84 2012.47h0M1106.64 2013.13h0M1106.93 2014.67h0M988.92 1705.72h0M988.65 1707.88h0M990.21 1708.44h0M873.01 1753.93h0M871.31 1754.93h0M873.84 1757.19h0M1057.09 1726h0M1057.25 1723.13h0M1056.3 1721.8h0M1103.13 1817.65h0M1103.01 1818.68h0M1102.47 1819.63h0M1199.33 1730.74h0M1198.43 1728.33h0M1200.26 1728.19h0M742 1727.95h0M740.73 1728.04h0M742.38 1726.94h0M883.62 1807.58h0M883.13 1809.68h0M886.56 1806.66h0M1182.13 1790.75h0M1179.44 1789.69h0M1179.16 1789.24h0M1199.79 1966.2h0M1198.66 1966.17h0M1200.71 1968.93h0M696.33 1853.15h0M696.52 1852.18h0M699.32 1852.75h0M835.68 2014.96h0M836.3 2017.62h0M835.33 2015.04h0M1192.24 1934.95h0M1191 1932.31h0M1189.14 1934.11h0M726.1 1957.74h0M727.86 1959.26h0M729.21 1959.69h0M1147.22 1730.63h0M1146.97 1730.38h0M1146.27 1732.26h0M1164.42 1922.61h0M1165.76 1924.35h0M1164.67 1922.22h0M889.14 2013.8h0M892.5 2012.63h0M892 2013.67h0M913.91 1906.19h0M911.79 1906.33h0M914.39 1907.06h0M946.4 1792.17h0M942.75 1790.87h0M946.08 1791.65h0M778.64 1827.31h0M777.3 1829.38h0M778.75 1828.13h0M788.51 1812.64h0M785.99 1810.73h0M785.24 1814.16h0M884.53 1978.79h0M883.99 1980.33h0M884.74 1977.65h0M1003.6 1955.56h0M1004.53 1955.01h0M1000.92 1952.3h0M715.64 1793.41h0M716.65 1791.11h0M719.95 1792.07h0M1039.59 1752.17h0M1037.82 1755.38h0M1039.73 1752.81h0M1236.05 1938.07h0M1234.8 1937.53h0M1234.03 1936.5h0M1231.96 1915.96h0M1230.6 1914.6h0M1232.2 1915.8h0M767.63 1987.26h0M767.37 1986.19h0M769.82 1988.25h0M863.8 1996.5h0M863.58 1997.17h0M860.55 1998.5h0M841.31 1797.97h0M837.36 1797.65h0M839.77 1799.31h0M1156.1 1808.76h0M1155.99 1805.03h0M1157.1 1808.51h0M1234.28 1967.61h0M1234.22 1967.51h0M1237 1968.07h0M859.66 1969.92h0M856.22 1971.14h0M857.07 1972.46h0M1041.14 2018.23h0M1040.75 2017.11h0M1041.57 2016.95h0M1019.85 1861.88h0M1017.63 1864.73h0M1018.79 1864.95h0M937.98 1855.02h0M938.34 1851.59h0M936.53 1854.35h0M1005.78 1772.54h0M1007.08 1772.74h0M1004.91 1772.16h0M1165.57 1956.2h0M1164.67 1955.59h0M1164.88 1955.71h0M721.42 2018.09h0M722.18 2016.89h0M723.77 2016.91h0M1032.19 1784.05h0M1030.56 1785.54h0M1029.9 1784.44h0M849.84 1942.16h0M846.26 1940.74h0M846.24 1941.47h0M1018.27 1744.64h0M1017.63 1742.84h0M1020.15 1744.18h0M1117.12 1873.27h0M1114.08 1874.78h0M1113.61 1875.07h0M699.04 1771.56h0M696 1773.09h0M697.92 1773.63h0M1196.89 2001.34h0M1197.22 2000.95h0M1194.98 1999.14h0M769.05 1707.35h0M766.15 1705.86h0M765.56 1708.35h0M1123.54 1749.46h0M1120.61 1748.68h0M1123.8 1749.02h0M1042.64 1862.23h0M1042.31 1863.55h0M1039.57 1863.93h0M1050.57 1848.33h0M1049.4 1850.47h0M1050.57 1849.06h0M995.33 1897.19h0M998.04 1897.16h0M995.36 1897.71h0M1126.99 1835.64h0M1126.26 1838.64h0M1126.84 1836.75h0M1015.24 1835.59h0M1013.24 1833.1h0M1013.45 1835.46h0M921.38 1733.16h0M921.79 1733.98h0M921.71 1734.2h0M1204.29 1928.68h0M1206.7 1929.7h0M1203.57 1929.03h0M819.6 1918.95h0M816.37 1920.28h0M817.64 1919.97h0M1157.5 2006.47h0M1158.72 2007.27h0M1156.71 2005.47h0M949.82 1772.7h0M950.39 1776.1h0M950.7 1774h0M1138.69 1793.78h0M1141.67 1794.48h0M1138.94 1797.41h0M1112.99 1965.33h0M1112.49 1967.62h0M1114.39 1965.65h0M1091.08 1742.58h0M1090.71 1742.38h0M1089.97 1744.34h0M874.95 1953.82h0M873.48 1950.55h0M873.54 1950.72h0M1158.25 1719.26h0M1156.54 1718.47h0M1157 1720.57h0M1233.78 1878.87h0M1237.41 1878.51h0M1236.57 1878.43h0M833.85 1828.87h0M833.03 1830.27h0M833.71 1828.4h0M877.87 1840.69h0M877.67 1841.43h0M880.99 1839.47h0M778.83 1936.37h0M778.09 1936.09h0M778.68 1936.15h0M1121.25 1734.46h0M1123.63 1733.66h0M1120.32 1730.56h0M1035.85 1721.36h0M1036.41 1718.93h0M1033.27 1718.79h0M1025.91 2004.71h0M1025.91 2006.07h0M1029.59 2006.75h0M1095.18 1982.57h0M1094.76 1985.69h0M1095.01 1982.92h0M1145.99 1913.98h0M1146.26 1914.81h0M1146.86 1913.98h0M1001.34 1863.41h0M1001.74 1863.25h0M1004.96 1861.72h0M779.67 1879.1h0M776.42 1877.34h0M779.2 1879.7h0M859.84 1724.22h0M863.17 1723.51h0M863.89 1723.24h0M774.54 1721.41h0M776.73 1721.64h0M773.97 1720.83h0M745.12 1959.24h0M743.8 1960.47h0M742.06 1958.1h0M1168.33 1940.91h0M1168.7 1941.21h0M1168.71 1942.57h0M1082.44 1801.63h0M1085.41 1802.84h0M1082.54 1800.14h0M763.44 1762.35h0M763.98 1762.03h0M762.17 1763.86h0M1154.15 1861.29h0M1156.57 1861.22h0M1156.39 1862.1h0M699.95 1752.21h0M702.81 1750.82h0M700.43 1752.6h0M1034.28 1905.55h0M1034.64 1907.87h0M1032.3 1907.72h0M807.38 2002.74h0M805.16 2000.35h0M806.8 1998.64h0M754.7 1740.11h0M755.17 1739.69h0M758.15 1739.49h0M764.67 1832.36h0M765.09 1831.03h0M763.35 1831.13h0M1070.16 1839.61h0M1071.15 1843.51h0M1070.67 1843.95h0M769.65 1815.53h0M769.33 1815.48h0M769.43 1815.63h0M851.71 1987.37h0M854.64 1985.53h0M852.11 1987.77h0M827.78 1812.92h0M829.25 1810.71h0M829.15 1809.73h0M951.37 1940.7h0M953.16 1940.44h0M952.79 1940.55h0M1085.11 1917.7h0M1084.8 1919.03h0M1085 1917.62h0M940 1837.06h0M940.15 1836.62h0M937.96 1834.03h0M825.6 1864.77h0M824.96 1861.99h0M825.65 1862.46h0M993.94 1819.3h0M990.45 1818.12h0M992.7 1820.54h0M1053.7 1744.35h0M1054.17 1745.54h0M1050.91 1742.12h0M730.98 1827.2h0M732.3 1829.15h0M734.45 1828.19h0M1187.09 1772.06h0M1184.38 1772.78h0M1186.59 1773.8h0M917.67 1834.24h0M920.13 1835.98h0M918.95 1835.27h0M1194.5 1955.08h0M1191.32 1953.96h0M1194.65 1952.75h0M842.88 1925.08h0M845.26 1921.92h0M843.63 1923.87h0M851.03 1909.78h0M851.93 1911.91h0M853.7 1909.29h0M876.86 1873.69h0M878.67 1874.23h0M874.89 1874.63h0M1095.76 2001.24h0M1094.25 2004.27h0M1097.13 2002.24h0M1116.92 1705.64h0M1116.78 1709.21h0M1117.36 1705.16h0M701.19 1890.8h0M702.01 1894.38h0M701.34 1890.07h0M729.63 1746.31h0M732.14 1743.63h0M729.45 1744.56h0M1191.8 1715.48h0M1192.92 1716.19h0M1189.87 1716.88h0M1047.65 1896.98h0M1050.19 1897.64h0M1047.85 1897.18h0M955.29 1897.33h0M954.94 1896.48h0M953.76 1900.18h0M740.78 1971.53h0M740.75 1973.24h0M740.15 1970.49h0M720.07 1971.32h0M717.46 1972.4h0M718.83 1974.38h0M1205.16 1904.03h0M1201.86 1905.65h0M1202.76 1902.79h0M891.86 1823.8h0M891.58 1824.82h0M893.82 1821.74h0M1114.84 1769.91h0M1116.93 1770.58h0M1116.36 1770.27h0M1154.09 1765.87h0M1153.88 1765.31h0M1158.08 1765.77h0M1028.59 1873.86h0M1030.34 1876.38h0M1030.78 1875.37h0M954.03 2012.58h0M953.61 2013.09h0M952.7 2014.89h0M790.79 1840.86h0M788.61 1842.88h0M790.08 1840.72h0M737 1775.98h0M734.49 1776.29h0M734.69 1776.29h0M695.97 2003.63h0M699.89 2004.12h0M699.38 2004.53h0M1218.18 1839.89h0M1218.32 1840.19h0M1218.02 1838.1h0M901.98 1950.79h0M904.31 1952.64h0M903.78 1952.57h0M1150.88 1744.46h0M1152.87 1745.42h0M1153.75 1742.15h0M1022.25 1804.82h0M1022.07 1806.83h0M1022.54 1808.26h0M976.86 1977.25h0M979.22 1978.46h0M979.28 1978.75h0M1225.69 1807.28h0M1221.53 1807.38h0M1221.39 1807.86h0M1008.29 1794.53h0M1007.2 1795.59h0M1010.07 1795.19h0M959.73 1858.06h0M959.98 1858.44h0M960.15 1858.02h0M749.81 1915.89h0M750.24 1915.73h0M747.43 1912.94h0M711.24 1844.5h0M710.53 1842.82h0M714.02 1842.92h0M1091.01 1832.92h0M1088.82 1832.61h0M1089.19 1829.85h0M1181.29 1915.4h0M1180.35 1917.96h0M1180.13 1914.32h0M853.13 1757.75h0M851.35 1757.5h0M852.98 1757.62h0M1048.38 1789.92h0M1050.11 1788.27h0M1051.49 1788.5h0M811.04 1877.66h0M814.36 1878.75h0M812.99 1879.02h0M970.99 1892.72h0M970.3 1896.47h0M969.69 1894.09h0M1013.38 1902.72h0M1015.61 1901.92h0M1013.75 1905.92h0M1053.09 1927.46h0M1056.06 1928.8h0M1053.6 1927.7h0M935.31 1997.48h0M936.31 1995.5h0M933.77 1996.62h0M913.03 1776.13h0M911.56 1773.24h0M914.03 1773.62h0M1128.25 1883.69h0M1127.27 1885.71h0M1128.95 1887.04h0M1202.73 1872.2h0M1202.43 1873.69h0M1206.14 1873.01h0M1134.99 1935.13h0M1134.52 1932.88h0M1131.75 1935.17h0M875.13 1738.54h0M876.83 1739.65h0M876.99 1739.79h0M1224.29 1978.24h0M1224.84 1976.44h0M1222.03 1978.93h0M932.24 1789.49h0M929.83 1790.44h0M930.02 1787.25h0M835.9 1909.71h0M836.13 1906.72h0M838.38 1909.39h0M1223.07 1928.48h0M1222.95 1929.77h0M1223.69 1930.43h0M730.82 1894.06h0M730.07 1895.48h0M730.54 1895.32h0M730 1876.02h0M732.01 1875.57h0M732.48 1873.79h0M817.52 2013.05h0M816.46 2016.03h0M815.63 2012.84h0M1126.22 1781.68h0M1126.58 1780.4h0M1124.13 1779.83h0M1193.38 1861.93h0M1193.59 1857.51h0M1194.69 1860.32h0M1149.92 1949.68h0M1148.65 1946.92h0M1149.94 1946.44h0M1085.88 1861.89h0M1087.16 1861.97h0M1084.48 1861.7h0M1125.27 1864.68h0M1123.2 1865.47h0M1123.05 1865.56h0M978.45 1802.63h0M976.54 1800.08h0M979.14 1803.07h0M960.33 1710.7h0M960.45 1711.88h0M959.88 1712.54h0M1072.66 1737.39h0M1073.22 1738.62h0M1073.51 1739.03h0M1168.85 1901.93h0M1167.35 1898.66h0M1165.81 1899.81h0M1014.19 1706.2h0M1017.87 1707.03h0M1014.44 1707.13h0M1139.69 1709.94h0M1137.28 1710.6h0M1139.64 1711.65h0M917.38 1893.8h0M916.99 1891.91h0M917.41 1890.63h0M844.67 1731.58h0M847.86 1729.78h0M846.15 1728.76h0M1008.76 1880.93h0M1010.44 1879.14h0M1008.61 1882.05h0M1063.13 1822.55h0M1061.86 1822.36h0M1064.4 1821.36h0M889.29 1954.67h0M886.12 1954.28h0M887.63 1953.17h0M1084.09 1894.43h0M1084.19 1894.81h0M1084.63 1893.22h0M1110.82 1740.08h0M1110.84 1739.68h0M1111.03 1739.7h0M1056.49 1760.35h0M1056.46 1761h0M1055.25 1758.06h0M728.15 1858.82h0M727.86 1856.27h0M727.13 1859.18h0M1124.23 2015.34h0M1127.64 2017.51h0M1126.74 2017.57h0M1215.01 1959.21h0M1212.55 1961.55h0M1214.33 1963.66h0M1162.88 1876.48h0M1163.05 1877.74h0M1165.11 1878.28h0M1039.69 1832.74h0M1041.21 1830.11h0M1040.12 1832.93h0M826.26 1761.74h0M828.75 1763.29h0M827.32 1763.52h0M865.98 1856.58h0M862.47 1856.58h0M862.3 1856.49h0M830.01 1982.69h0M829.43 1982.81h0M831.22 1982.84h0M910.13 1816.68h0M909.46 1819.77h0M912.58 1818.63h0M835.21 1886.97h0M837.06 1887.51h0M833.27 1888.62h0M1176.77 1747.77h0M1175.91 1747.54h0M1177.46 1751.28h0M1011.37 2014.27h0M1011.08 2014.59h0M1009.71 2012.02h0M957.37 1754.27h0M957.57 1751.76h0M956.71 1753.48h0M958.77 1999.6h0M958.81 1996.92h0M959.49 1996.75h0M841.3 2002.62h0M844.2 2002.32h0M844.23 2004.1h0M1237.35 1790.65h0M1235.22 1789.67h0M1236.33 1793.01h0M695.6 1834.88h0M698.99 1835.82h0M697.24 1833.69h0M754.97 1815.01h0M753.13 1818.05h0M753.23 1817.45h0M1092.74 1881.56h0M1092.18 1879.47h0M1092.97 1878.89h0M793.65 2020.14h0M795.63 2016.24h0M792.9 2018.13h0M1141.13 1855.87h0M1140.87 1856.34h0M1138.88 1856.65h0M786.29 1981.11h0M782.48 1979.08h0M783.67 1979.35h0M1089.89 1848.2h0M1088.33 1845.59h0M1089.8 1845.69h0M901.72 1967.69h0M904.6 1967.7h0M903.49 1969.4h0M856.61 1820.14h0M854.41 1822.61h0M853.39 1820.43h0M706.79 1963.82h0M707.13 1964.09h0M706.91 1964.25h0M868.51 1707.94h0M868.12 1707.72h0M867.1 1708.65h0M882.77 1938.83h0M883 1936.25h0M883.17 1938.47h0M1142.4 1777.41h0M1142.08 1778.54h0M1141.42 1775.77h0M816.32 1837.15h0M814.27 1836.42h0M814.06 1835.78h0M949.39 1845.13h0M949.72 1844.32h0M948.99 1845.95h0M1073.06 1758.48h0M1073.52 1758.48h0M1075.59 1759.94h0M805.73 1786.53h0M805.05 1785.89h0M805.95 1786.47h0M1079.98 2008.42h0M1083.72 2008.04h0M1082.25 2007.03h0M1207.95 1816.05h0M1205.59 1814.89h0M1204.38 1816.64h0M958.33 1956.43h0M960.94 1954.63h0M958.34 1954.64h0M1219.7 1891.95h0M1218.87 1888.33h0M1216.85 1891.64h0M1170.71 1729.86h0M1167.52 1729.29h0M1167.01 1730.2h0M961.4 1794.98h0M962.38 1792.38h0M959.59 1792.66h0M1140.65 1877.05h0M1144.15 1876.2h0M1142.77 1874.59h0M1196.71 2016.15h0M1196.88 2016.2h0M1198.36 2018h0M1076.62 1821.41h0M1079.05 1820.66h0M1078.33 1821.99h0M739.01 1808.71h0M741.11 1809.86h0M739.64 1810.03h0M759.78 1960.36h0M758.85 1956.31h0M757.45 1956.33h0M932.68 1901.81h0M934.75 1902.97h0M932.7 1904.54h0M965.46 1736.61h0M964.78 1740.88h0M964.24 1736.68h0M1169.15 1804.49h0M1172.65 1804.63h0M1170.42 1805.43h0M1042.28 1978.71h0M1041.84 1979.36h0M1041.54 1980.43h0M946.09 1824.46h0M945.4 1821.33h0M945.18 1821.91h0M1214.88 1942.8h0M1214.92 1945.21h0M1212.78 1942.52h0M698.42 1728.42h0M697.49 1732.06h0M695.46 1730.33h0M1215.07 1913.93h0M1214.58 1915.4h0M1216.96 1912.75h0M979.74 1860.44h0M977.85 1857.43h0M978.43 1856.65h0M1186.03 1898.53h0M1185.14 1899.33h0M1188.19 1902h0M821.06 1744.28h0M818.51 1744.52h0M819.89 1744.15h0M1169.05 2017.11h0M1170.38 2014.2h0M1169.41 2017.26h0M842.35 1771.17h0M842.83 1768.34h0M843.64 1770.44h0M1235.42 1816.31h0M1235.2 1814.91h0M1237.05 1816.38h0M1121.76 1922.2h0M1123.99 1923.48h0M1120.99 1921.67h0M1234.35 1755.34h0M1233.54 1758.33h0M1234.03 1754.5h0M880.52 1890.51h0M883.54 1892.8h0M880.83 1890.5h0M1010.87 1979.88h0M1011.63 1982.69h0M1013.39 1979.22h0M1147.87 1934.26h0M1148.25 1933.53h0M1147.45 1933.06h0M1007.87 1923.06h0M1005.25 1920.69h0M1005.25 1923.99h0M909.47 1857.3h0M905.52 1857.53h0M907.17 1860.56h0M946.05 1962.24h0M942.7 1961.86h0M942.69 1961.32h0M900.97 1934.81h0M901.04 1937.44h0M901.99 1936.98h0M780.13 1778.02h0M779.85 1774.78h0M779.29 1777.59h0M758.23 1858.06h0M757.71 1857.56h0M758.89 1859.38h0M1050.92 1711.11h0M1052.05 1709.47h0M1051.27 1708.87h0M715.56 1887.06h0M717.71 1890.95h0M715.23 1890.19h0M717.45 1707.04h0M715.32 1707.41h0M715.91 1706.68h0M718.38 1827.35h0M714.18 1826.92h0M717.34 1825.64h0M1072.24 1929.4h0M1074.2 1928.42h0M1069.99 1928.76h0M1111.35 1718.06h0M1110.01 1721.98h0M1110.93 1717.95h0M823.5 1704.89h0M821.44 1706.12h0M825.06 1705.51h0" stroke="#efdef2" stroke-width="2.47" stroke-linecap="round" fill="none" opacity="0.85"/>
<path d="M1116.13 1925.54h0M1174.6 1934.29h0M1050.75 1846.6h0M876.51 1941.54h0M1017.43 1940.96h0M733.04 1976.89h0M1201.72 1915.2h0M845.62 1909.06h0M767.86 1774.29h0M950.08 1913.8h0M718.48 1829.69h0M771.19 1941.3h0M988.76 1747.22h0M1154.8 1863.4h0M895.06 1777.13h0M779.77 1989.18h0M1057.72 1925.8h0M853.76 1884.73h0M1040.97 1827.38h0M804.49 1897.52h0M1110.4 1954.15h0M902.05 1788.32h0M1187.71 1725.38h0M865.36 1755.31h0M885.86 1811.19h0M902.93 1809.88h0M859.79 1790.63h0M828.85 1748.3h0M1103.64 1750.79h0M1085.12 1953.94h0M1006.3 1792.27h0M845.09 1861.76h0M827.93 1930.33h0M841.35 1835.13h0M986.13 1738.78h0M1128.66 1763.35h0M1053.46 1925.86h0M1063.59 1765.73h0M940.69 1962.86h0M833.7 1758.55h0M724.47 1778.65h0M898.54 1813.95h0M999.36 1944.53h0M1067.54 1735.92h0M1057.85 1903.8h0M769.59 1881.57h0M930.32 1995.39h0M1003.91 1879.04h0M854.26 1772.56h0M1068.73 1742.52h0M1168.52 1795.42h0M948.79 1836.01h0M1173.4 1836.58h0M869.45 1999.95h0M1148.7 1855.31h0M1055.44 1902.19h0M1059.69 1958.15h0M1194.01 1852.44h0M814.73 1886.82h0M1148.1 1839.99h0M810.03 1832.01h0M847.83 1831.43h0M892.8 1877.67h0M1005.13 1986.33h0M880.01 1889.43h0M1141.43 1858.43h0M1151.2 1950.77h0M1013.12 1817.14h0M1030.47 1944.24h0M882.38 1769.79h0M1067.87 1931.37h0M946.86 1967.29h0M749.01 1986.38h0M1168.98 1812.52h0M761.07 1881.51h0M866.31 1957.74h0M887.45 1749.16h0M1007.47 1915.75h0M1060.64 1858.88h0M1013.33 1955.13h0M896.87 1988.12h0M772.48 1891.67h0M1029.18 1875.83h0M1020.31 1906.65h0M1113.53 1881.12h0M892.29 1943.74h0M814.83 1994.28h0M1106.86 1990.77h0M945.58 1918.81h0M993.32 1960.24h0M720.73 1731.16h0M1052.19 1841.41h0M1158.62 1984.25h0" stroke="#efdef2" stroke-width="2.8" stroke-linecap="round" fill="none" opacity="0.75"/>
</g>
<path d="M890.21 1763.08h0M896.07 1762.72h0M901.93 1767.31h0M893.07 1776.71h0M887.27 1770.22h0M1151.48 1962.4h0M1160.99 1960.54h0M1164.13 1967.45h0M1160.36 1973.41h0M1155.74 1975.21h0M1150.63 1968.63h0M955.8 1814.62h0M951.62 1817.04h0M946.18 1811.1h0M953.07 1802.85h0M959.16 1802.19h0M959.79 1812.03h0M904.01 1989.13h0M896.63 1999.05h0M887.6 1993.83h0M888.74 1991.26h0M892.71 1984.1h0M899.71 1984.18h0M901.93 1990.78h0M974.33 1957.79h0M973.16 1951.16h0M981.56 1947.84h0M985.27 1951.22h0M986.39 1958.23h0M978.16 1961.88h0M1070.75 1975.85h0M1073.69 1969.24h0M1081.07 1967.34h0M1083.39 1972.32h0M1083.7 1978.18h0M1075.07 1980.08h0M993 1917.38h0M987.18 1912.32h0M986.88 1907.09h0M991.44 1906.23h0M999.76 1905h0M1001.57 1911.74h0M1000.09 1917.98h0M1236.2 1902.56h0M1231.99 1906.21h0M1226.03 1904.25h0M1224.74 1893.63h0M1227.48 1892.31h0M1233.15 1893.61h0M1217.27 1996.85h0M1212.58 2004.51h0M1205.75 2001.27h0M1204.13 1993.51h0M1208.08 1992.56h0M1215.75 1989.69h0M1032.59 1891.11h0M1028.06 1897.79h0M1024.17 1897.33h0M1017.99 1894.05h0M1016.34 1890.37h0M1022.03 1884.47h0M1030.73 1886.5h0M866.58 1895.28h0M862.77 1898.01h0M861.22 1899.04h0M855.66 1887.24h0M859.89 1883.35h0M863.97 1884.14h0M869.55 1887.86h0M884.71 1918.47h0M885.71 1920.82h0M882.54 1926.62h0M873.82 1928.13h0M872.62 1925.21h0M871.08 1916.79h0M873.16 1915.6h0M850.92 1951.45h0M857.25 1947.32h0M862.97 1950.94h0M863.83 1958.9h0M853.74 1961.23h0M762.16 1797.2h0M762.17 1805.65h0M751.84 1806.56h0M748.45 1798.15h0M754.08 1792.59h0M1107.91 1901.55h0M1102.78 1897.5h0M1103.09 1888.28h0M1109.11 1886h0M1112.09 1888.28h0M1114.73 1897.82h0M960.09 1830.66h0M962.13 1826.52h0M966.66 1823.08h0M971.69 1825.49h0M972.87 1832.12h0M969.95 1837.82h0M964.52 1836.62h0M1096.3 1930.01h0M1105.48 1925.66h0M1113.4 1929.27h0M1105.71 1940.61h0M1101.1 1939.28h0M997.89 1724.03h0M1005.14 1713.1h0M1011.93 1717.42h0M1012.23 1727.17h0M1002.76 1728.54h0M1071.1 1892.18h0M1067.53 1893.85h0M1061.6 1887.03h0M1060.33 1882.39h0M1067.53 1877.6h0M1075.39 1883.15h0M1074.56 1883.6h0M947.94 1906.69h0M951.61 1908.74h0M953.86 1918.14h0M952.97 1922.63h0M943.01 1919.81h0M941.47 1913.94h0M868.07 1812.98h0M876.54 1812.53h0M878.76 1819.65h0M874.07 1826.36h0M868.81 1823.19h0M865.17 1817.68h0M814.59 1910.95h0M808.97 1903.89h0M808.2 1899.06h0M813.85 1895.88h0M822.56 1902.18h0M820.76 1908.31h0M771.44 1967.66h0M773.18 1973.22h0M769.81 1980.39h0M759.48 1974.05h0M761.89 1966.37h0M971.12 2005.01h0M975.53 2003.38h0M980.54 2010.17h0M976.2 2018.17h0M973.31 2017.78h0M968.47 2012.82h0M781.63 1995.99h0M783.89 1988.95h0M789.33 1985.79h0M795.31 1989.39h0M795.53 1998.25h0M787.56 2000.62h0M804.18 1951.05h0M806 1946.13h0M817.46 1949.76h0M818.44 1952.55h0M816.98 1957.26h0M804.98 1957.2h0M975.54 1716.53h0M981.72 1719.05h0M985.33 1722.67h0M978.08 1731.11h0M971.75 1727.48h0M969.57 1718.41h0M723.37 2007.68h0M714.4 2009.7h0M709.25 2007.68h0M711.99 1998.34h0M721.46 1997.67h0M984.59 1922.1h0M983.41 1930.91h0M975.92 1930.13h0M970.53 1925.81h0M975.56 1916.59h0M982.01 1917.85h0M824.84 1725.01h0M819.25 1727.72h0M812.03 1723.34h0M820.12 1713.77h0M824.27 1717.41h0M1114.89 1797.11h0M1122.15 1793.68h0M1130.35 1796.92h0M1130.01 1804.1h0M1127.2 1805.18h0M1116.43 1805.2h0M709.14 1877.5h0M703.9 1875.87h0M703.37 1866.82h0M705.29 1866.36h0M711.65 1863.76h0M716.88 1869.29h0M715.72 1875.94h0M876.76 1782.43h0M881.57 1786.24h0M880.91 1793.46h0M876.82 1799.74h0M869.25 1797.68h0M867.87 1790.27h0M869.16 1789.49h0M707.36 1804.09h0M713.27 1809.62h0M715.76 1813.26h0M704.54 1816.12h0M700.05 1811.75h0M701.25 1805.25h0M1089.32 1948.86h0M1095.38 1939.55h0M1104.14 1942.34h0M1105.67 1952.52h0M1097.39 1954.14h0M1092.91 1953.28h0M904.19 1790.19h0M914.85 1790.89h0M917.32 1795.2h0M914.5 1801.22h0M907.28 1801.31h0M966.94 1971.05h0M963.08 1978.93h0M958.3 1982.01h0M952.71 1975.83h0M953.16 1966.87h0M958.02 1966.65h0M1171.85 1813.75h0M1164.51 1825.39h0M1160.09 1823.9h0M1159.19 1813.75h0M1168.1 1811.71h0M1179.34 1728.52h0M1190.06 1728.02h0M1192.11 1733.75h0M1184.23 1739.24h0M1181.22 1736.86h0M1144.5 1991.35h0M1146.18 1998.24h0M1136.11 2004.65h0M1131.29 1997.68h0M1137.82 1988.56h0M807.36 1763.87h0M813.14 1767.54h0M816.41 1772.86h0M812.13 1776.02h0M810.31 1780.26h0M800.54 1775.46h0M801.07 1767.34h0M934.62 2024.31h0M928.32 2021.69h0M922.73 2018.62h0M924.54 2011.33h0M934.27 2009.67h0M937.45 2014.13h0M801.55 1932.23h0M805.29 1935.95h0M799.19 1943.59h0M792.71 1940.95h0M790.9 1933.12h0M758.86 1887.84h0M767.19 1894h0M764.83 1902.45h0M756.35 1903.85h0M756.68 1891.92h0M703.07 1981.06h0M697.89 1985.19h0M691.01 1980.16h0M691.32 1974.25h0M695.44 1968.61h0M700.38 1970.74h0M705.49 1976.6h0M1236.08 1709.61h0M1242.47 1715.07h0M1241.53 1719.3h0M1230.26 1719.81h0M1227.95 1714.88h0M753.08 1933.35h0M755.93 1941.46h0M747.85 1945.37h0M744.95 1943.3h0M742.1 1939.74h0M747.24 1930.22h0M1120.73 1990.64h0M1122.32 1997.46h0M1118.2 2004.06h0M1108.86 2002.08h0M1106.3 1998.59h0M1111.43 1990.62h0M1118.18 1988.93h0M846.32 1836.48h0M852.84 1830.73h0M859.43 1831.03h0M860.76 1841.41h0M858.4 1843.24h0M847.26 1840.27h0M1212.48 1781.04h0M1211.76 1785.08h0M1205.55 1788.63h0M1196.38 1781.17h0M1198.15 1780.17h0M1208.14 1774.41h0M908.05 1884.96h0M904.22 1894.88h0M895.03 1891.24h0M895.01 1883.81h0M903.15 1880.43h0M1074.86 1775.51h0M1075.61 1779.26h0M1065.77 1780.75h0M1060.27 1772.7h0M1070.88 1765.99h0M1190.97 1880.45h0M1192.76 1877.71h0M1199.97 1882.71h0M1198.29 1888.15h0M1196.47 1892.82h0M1187.73 1890.8h0M1187.06 1883.74h0M1072.03 1948.85h0M1069.08 1956.64h0M1065.28 1958.37h0M1058.73 1957.98h0M1057.32 1951.63h0M1059.86 1945.94h0M1064.86 1944.76h0M712.25 1913.04h0M712.35 1915.01h0M708.56 1920.58h0M699.86 1923h0M699.09 1918.09h0M700.03 1910.04h0M704 1908.86h0M805.13 1741.41h0M806.47 1744.14h0M808.65 1751.07h0M803.66 1753.64h0M796.3 1753.63h0M793.5 1747.33h0M797.79 1739.78h0M1147.99 1903.48h0M1143.14 1899.99h0M1142.95 1891.18h0M1150.18 1888.87h0M1153.84 1896.16h0M1069.2 1858.47h0M1074.43 1866.58h0M1068.32 1872.25h0M1061.22 1867.08h0M1063.95 1858.37h0M717.07 1718.48h0M710.09 1728.23h0M705.67 1726.21h0M703.16 1717.04h0M709.77 1715.17h0M882.12 1901.19h0M880.45 1908.87h0M872.03 1908.85h0M868.6 1897.27h0M875.55 1896.87h0M1172.33 1985.53h0M1185.69 1985.8h0M1186.48 1991.28h0M1180.49 1995.34h0M1172.52 1991.15h0M735.5 1718.85h0M732.6 1718.29h0M726.57 1713.76h0M732.51 1706.06h0M739.77 1708.54h0M1102.95 1788.54h0M1099.63 1785.61h0M1096.97 1780.91h0M1102.62 1775.02h0M1107.4 1774.53h0M1111.41 1779.18h0M1109.62 1786.62h0M844.55 1788.95h0M841.14 1783.12h0M848.24 1777.12h0M857.44 1782.83h0M857.47 1785.28h0M853.56 1790.91h0M798.05 1761.21h0M792.85 1770.22h0M782 1766.09h0M783.73 1759.87h0M788.69 1754.95h0M951.71 1724.51h0M955.39 1725.83h0M951.65 1735.86h0M942.86 1734.42h0M943.18 1726.96h0M927.96 1972.42h0M934.12 1969.34h0M943.22 1971.87h0M942.63 1978.16h0M934.92 1981.89h0M930.21 1978.55h0M927.73 1975.31h0M1231.33 1984.88h0M1234.91 1982.56h0M1240.43 1986.07h0M1240.72 1989.47h0M1239.79 1996.95h0M1231.96 1996.65h0M1227.65 1989.2h0M1208.81 1717h0M1213.86 1714.34h0M1222.25 1721.81h0M1217.67 1726.97h0M1210.23 1725.83h0M1206.28 1721.04h0M1019.06 1972.75h0M1025.59 1970.3h0M1032.67 1979.89h0M1032.12 1979.97h0M1026.53 1986.54h0M1021.2 1984.03h0M1018.14 1980.03h0M992.95 1936.97h0M996.05 1931.63h0M1006.74 1936.36h0M1005.51 1939.48h0M1003.63 1945.41h0M994.21 1945.91h0M825.22 1784.05h0M826.88 1789.48h0M822.31 1795.71h0M815.18 1797.12h0M813.54 1790.91h0M817.48 1783.44h0M935.77 1877.84h0M934.15 1873.52h0M933.3 1866.95h0M939.48 1863.42h0M946.24 1866.17h0M946.77 1872.74h0M1101.48 1758.9h0M1101.33 1765.23h0M1093.97 1767.32h0M1090.05 1766.58h0M1087.59 1758.7h0M1091.61 1755.22h0M1180.93 1806.36h0M1186.85 1802.01h0M1194.23 1803.12h0M1195.58 1807.7h0M1191.11 1814.65h0M1184.47 1815.03h0M1095.56 1859.11h0M1106.14 1859.81h0M1107.37 1869.65h0M1101.69 1872.11h0M1092.95 1865.2h0M1072.74 1712.1h0M1071.38 1719.08h0M1066.63 1720.71h0M1058.32 1715.11h0M1060.45 1709.23h0M1068.7 1705.32h0M976.18 1877.99h0M973.5 1870.55h0M983.8 1868.38h0M989.26 1874.13h0M984.34 1879.11h0M1191.46 1758.29h0M1188.33 1748.48h0M1197.61 1748.03h0M1201.07 1749.06h0M1199.83 1761.41h0M860.12 1765.48h0M865.96 1764.42h0M871.23 1770.57h0M871.52 1771.46h0M867.58 1776.41h0M861.74 1779.74h0M855.73 1771.08h0M937.97 1804.39h0M940.3 1806.77h0M941.45 1812.04h0M937.86 1818.88h0M933.67 1819.11h0M927.52 1811.55h0M928.15 1806.71h0M1132.51 1959.08h0M1137.69 1961h0M1140.93 1966.76h0M1132.81 1974.75h0M1129.52 1971.37h0M1127.68 1966.5h0M910.45 1876.9h0M909.26 1871.84h0M913.64 1865.91h0M918.83 1867.87h0M923.15 1873.81h0M916.89 1879h0M855.64 2021.38h0M847.96 2022.88h0M845.28 2021.91h0M843.99 2016.1h0M852.24 2009.78h0M854.37 2011.63h0M858.18 2021.07h0M782.41 2009.8h0M777.9 2018.04h0M772.28 2018.33h0M770.3 2016.7h0M767.79 2010.54h0M772.33 2005.25h0M782.84 2010.9h0M705.33 1948.62h0M704.11 1942.14h0M712.86 1937.49h0M716.43 1945.38h0M717.3 1949.78h0M1176.94 2004.19h0M1179.99 2001.55h0M1184.47 2002.06h0M1191.62 2006.22h0M1186.8 2015.38h0M1181.51 2016.07h0M1041.13 1817.01h0M1036.43 1812.45h0M1038.08 1804.96h0M1048.8 1804.02h0M1048.66 1811.25h0M1123.35 1812.89h0M1123.69 1821.99h0M1116.36 1823.47h0M1110.52 1816.69h0M1115.63 1810.38h0M996.78 1995.05h0M1002.16 1991.57h0M1010.9 1993.78h0M1009.56 2000.55h0M1000.4 2002.45h0M892.62 1738.28h0M891.63 1730.41h0M895.66 1727.95h0M899.8 1727.64h0M904.3 1732.59h0M901.35 1738.61h0M895.33 1739.68h0M1183.25 1966.34h0M1180.2 1972.47h0M1177.17 1974.64h0M1172.37 1976.17h0M1167.27 1968.2h0M1170.57 1961.8h0M1180.72 1961.53h0M796.79 1963.49h0M794.12 1964.84h0M789.3 1955.55h0M796.14 1951.28h0M802.51 1957.23h0M1030.29 1846.56h0M1035.62 1853.08h0M1034.2 1859.14h0M1024.12 1858.41h0M1022.99 1853.53h0M713.91 1786.08h0M706.36 1783.96h0M702.59 1779.61h0M708.75 1771.63h0M710.36 1770.28h0M714.11 1770.81h0M716.23 1780.21h0M1053.15 2019.75h0M1050.03 2011.47h0M1052.77 2005.27h0M1062.19 2013.27h0M1061.01 2020.09h0M1020.34 1778.9h0M1024.45 1784.41h0M1017.91 1791.13h0M1010.39 1791.85h0M1009.54 1780.41h0M1014.3 1778.07h0M925.84 1910.12h0M930.7 1912.09h0M933.3 1914.34h0M936.34 1918.2h0M929.53 1923.88h0M922.29 1921.26h0M921.71 1920.26h0M1065.1 1974.14h0M1060.79 1983.92h0M1052.6 1983h0M1050.43 1977h0M1054.26 1967.99h0M1062.1 1968.91h0M1178.67 1863.89h0M1184.32 1873.24h0M1183.22 1874.96h0M1177.32 1878.54h0M1172.81 1874h0M1170.56 1871.32h0M1174.63 1865.16h0M770.65 1750.42h0M765.69 1747.02h0M768.62 1736.44h0M778.51 1739.37h0M780.14 1744.59h0M1015.57 1816.63h0M1015.54 1824.81h0M1004.71 1823.51h0M1001.16 1816.86h0M1009.95 1811.83h0M748.83 2010.97h0M753.44 2017h0M752.64 2020.79h0M739.93 2022h0M741.6 2012.29h0M904.11 1713.8h0M898.65 1711.41h0M901.38 1698.36h0M905.44 1698.66h0M909.52 1707.22h0M980.49 1735.21h0M989.59 1741.28h0M987.19 1746.92h0M982.12 1748.84h0M974.54 1742.31h0M975.66 1737.97h0M1000.94 1961.65h0M1006.23 1965.26h0M1003.4 1974.62h0M999.88 1974.63h0M991.9 1970.63h0M996.29 1962.18h0M1025.41 1772.47h0M1024.77 1765.4h0M1025.86 1762.09h0M1035.68 1763.33h0M1038.21 1771.26h0M1031.99 1776.62h0M747.79 1842.22h0M750.42 1849.47h0M747.84 1856.25h0M740.96 1856.66h0M735.16 1847.53h0M739.73 1842.67h0M1001.34 1747.61h0M994.58 1738.92h0M995.83 1735.26h0M1004.34 1733.28h0M1009.45 1735.9h0M1008.21 1744.2h0M751.88 1996.68h0M757.15 1994.71h0M761.16 1994.83h0M766.34 1998.8h0M764.81 2003.67h0M755.38 2007.57h0M754.29 2003.31h0M1021.58 1957.11h0M1014.64 1955.54h0M1013.3 1950.47h0M1023.28 1944.95h0M1026.41 1948.12h0M805.32 1855.46h0M802.5 1844.93h0M805.25 1840.33h0M813.91 1845.72h0M813.28 1852.95h0M1194.45 1988.24h0M1187.59 1980.71h0M1191.29 1976.46h0M1196.78 1974.63h0M1202.03 1984.13h0M728.02 1806.39h0M730.02 1811.3h0M727.98 1816.96h0M718.74 1816.94h0M716.71 1811.75h0M717.46 1805.77h0M722.29 1802.86h0M811.25 1972.56h0M810.68 1980.43h0M807 1982.99h0M800.59 1981.34h0M797.54 1978.97h0M802.16 1968.32h0M810.47 1970.09h0M900.05 1923.98h0M901.76 1917.38h0M907.36 1915.28h0M914.14 1919.08h0M913.76 1920.47h0M907.83 1928.53h0M904.59 1928.84h0M1218.26 1752.24h0M1220.4 1761.79h0M1216.22 1766.12h0M1208.05 1760.99h0M1211.09 1750.83h0M925.95 1885.3h0M930.64 1881.87h0M938.46 1879.61h0M939.76 1884.12h0M938.69 1893.67h0M933.4 1893.36h0M1220.18 1771.01h0M1222.87 1767.07h0M1231.07 1766.95h0M1235.15 1772.97h0M1233.02 1778.35h0M1224.94 1779.82h0M731.4 1926.22h0M736 1932.86h0M729.59 1940.01h0M723.54 1936.16h0M720.58 1932.21h0M724.59 1926.29h0M878.25 2016.36h0M873.16 2018.06h0M863.56 2014.52h0M866.09 2006.74h0M874.14 2005.33h0M746.82 1775.56h0M750.95 1771.08h0M755.76 1770.19h0M758.3 1775.34h0M757.94 1783.33h0M753.54 1783.61h0M745.63 1780.57h0M1013.71 1752.57h0M1017.3 1755.12h0M1016.81 1761h0M1010.65 1765.68h0M1005.95 1763.58h0M1003.45 1757.67h0M1008.44 1752.41h0M1041.61 1933.24h0M1043.17 1935.26h0M1040.64 1945.48h0M1034.56 1943.06h0M1031.04 1936.04h0M1034.6 1931.94h0M834.51 1950.87h0M835.17 1958.37h0M828.25 1965.42h0M819.79 1958.19h0M827.36 1950.07h0M1237.34 1746.58h0M1228.87 1750.04h0M1224.79 1743.52h0M1225.55 1736.44h0M1232.58 1736.49h0M788.15 1784.04h0M793.52 1787.97h0M794.8 1795.5h0M790.4 1798.76h0M780.7 1797.42h0M779.95 1791.78h0M784.58 1785.14h0M1238.27 1853.18h0M1239.66 1862.19h0M1230.77 1865.11h0M1228.19 1864.73h0M1225.31 1854.11h0M1231.16 1850.33h0M1182.08 1712.88h0M1176.47 1720.14h0M1168.35 1715.02h0M1167.38 1707.77h0M1176.56 1705.12h0M856.37 1794.35h0M861.26 1795.13h0M860.15 1808.26h0M853.41 1809.79h0M850.72 1805.08h0M849.37 1800.23h0M1208.24 1862.59h0M1208.33 1860.14h0M1208.64 1851.69h0M1216.71 1849.67h0M1222.5 1858.61h0M1220.74 1857.95h0M1222.04 1950.64h0M1229.83 1948.37h0M1236.22 1953.38h0M1234.52 1961.65h0M1227.64 1962.62h0M1220.98 1957.44h0M806.93 1718.13h0M803.02 1717.3h0M799.22 1711.78h0M801.17 1706.06h0M806.89 1704.51h0M811.34 1704.14h0M813.12 1714.63h0M1118.28 1945.93h0M1128.85 1943.8h0M1129.58 1953.25h0M1125.68 1956.43h0M1115.02 1950.74h0M1101.09 1719.41h0M1100.73 1720.03h0M1088.09 1715.72h0M1090.82 1711.12h0M1095.4 1708.7h0M1101.93 1710.61h0M929.26 1951.61h0M935.28 1964.27h0M930.03 1968.03h0M920.4 1963.54h0M921.15 1956.05h0M925.86 1952.96h0M900.3 1910.8h0M894.36 1909.09h0M889.32 1901.71h0M893.38 1897.97h0M902.46 1899.17h0M922.96 1711.32h0M933.06 1704.88h0M936.93 1705.81h0M933.81 1718.16h0M927.06 1719h0M834.83 1943.3h0M830.54 1943.08h0M823.29 1939.34h0M828.89 1929.7h0M836.1 1930.83h0M838.13 1934.04h0M835.9 1941.92h0M1118.3 1984h0M1119.53 1979.17h0M1128.2 1975.37h0M1134.42 1984.4h0M1129.94 1987.01h0M730.73 1787.34h0M738.95 1788.26h0M739.85 1789.3h0M737.5 1799.28h0M732.68 1801.01h0M725.36 1796.89h0M726.1 1791.7h0M1213.2 1870.57h0M1220.55 1862.97h0M1227.29 1869.47h0M1229.1 1874.12h0M1219.44 1878.26h0M1047.48 2006.09h0M1042.15 2007.08h0M1037.75 1999.37h0M1037.78 1997.9h0M1044.73 1993.17h0M1052.41 1996.6h0M1052.55 1999.88h0M878.27 1972.03h0M874.48 1977.9h0M865.47 1973.07h0M865.26 1970.42h0M870.95 1963.74h0M878.14 1963.73h0M881.26 1967.2h0M1134.24 1749.66h0M1130.18 1747.14h0M1131.94 1735.56h0M1138.15 1737.86h0M1140.96 1743.78h0M918.69 1844.16h0M927.54 1843.79h0M931.14 1851.15h0M927.04 1857.4h0M920.3 1857.69h0M917.47 1851.4h0M961.57 1932.85h0M953.94 1933.03h0M951.94 1932.37h0M952.58 1920.84h0M957.1 1918.94h0M962.97 1923.67h0M964.86 1926.14h0M1220.68 1740.37h0M1220.35 1745.54h0M1213.07 1750.02h0M1209.28 1747.35h0M1205.76 1739.53h0M1211.54 1733.74h0M1213.36 1735.19h0M909.67 1730.42h0M901.8 1722.75h0M907.63 1713.79h0M916.38 1720.27h0M910.08 1728.91h0M1091.39 1964.82h0M1083.3 1965.32h0M1081.12 1962.22h0M1078.17 1956.94h0M1086.3 1952.33h0M1093.57 1958.64h0M1045 1966.53h0M1035.77 1968.16h0M1031.81 1969.27h0M1031.24 1961.56h0M1034.8 1955.01h0M1042.15 1957.24h0M1044.54 1962.8h0M772.55 1859.44h0M766.75 1859.96h0M764.33 1851.14h0M770.1 1845.67h0M774.42 1847.88h0M779.82 1850.87h0M776.18 1858.88h0M1083.86 1946.25h0M1081.35 1948.87h0M1073.79 1947.44h0M1073.95 1946.05h0M1074.64 1938.91h0M1078.61 1935.01h0M1085.83 1936.29h0M1100.92 1906.97h0M1109.09 1904.88h0M1113.42 1909.39h0M1104.29 1916.94h0M1099.24 1909.66h0M827.5 1994.39h0M826.87 2002.43h0M820.94 2007.08h0M815.52 1998.39h0M821 1991.55h0M777.53 1943.87h0M782.62 1949.44h0M780.06 1958.37h0M773.17 1956.93h0M769.42 1951.42h0M771.06 1947.11h0M870.74 1992.96h0M877.35 1989.11h0M881.92 1990.36h0M883.07 1995.48h0M881.25 2000.95h0M874.69 2001.75h0M870.18 1997.83h0M815.21 1808.97h0M807.57 1810.04h0M802.92 1804.06h0M805.04 1801.71h0M809.9 1798.67h0M816.7 1800.49h0M815.86 1808.37h0M984.82 1853.07h0M978 1845.31h0M980.87 1837.58h0M988.47 1839.13h0M990.65 1851.41h0M1042.91 1735.66h0M1043.97 1741.36h0M1033.96 1746.27h0M1028.39 1738.48h0M1032.88 1731.34h0M1110.89 1799.25h0M1105.05 1808.94h0M1098.38 1807.36h0M1095.07 1804.39h0M1098.15 1795.28h0M1103.92 1793.81h0M885.61 1793.86h0M889.45 1788.86h0M893.21 1789.27h0M898.79 1790.69h0M899.73 1799.93h0M898.91 1801.77h0M887.85 1799.14h0M946.66 1930.48h0M940.44 1938.06h0M932.07 1934.91h0M933.81 1927.54h0M940.76 1926.39h0M900.91 1833.84h0M900.86 1836.46h0M904.24 1846.1h0M903.18 1847.91h0M896.42 1850.66h0M891.66 1845.18h0M892.97 1840.79h0M948.21 1878.98h0M953.51 1876.17h0M960.3 1873.86h0M965.09 1881.2h0M961.41 1888.68h0M957.95 1887.03h0M951.07 1883.11h0M930.61 1742.94h0M937.99 1740.91h0M942.8 1741.41h0M944.32 1747.06h0M937.7 1752.9h0M931.72 1751.61h0M688.91 1708.25h0M690.21 1700.73h0M703.29 1703.49h0M703.99 1708.91h0M692.34 1713.5h0M709.01 1743.27h0M706.47 1741.02h0M715.36 1733.63h0M721.52 1738.06h0M721.25 1748.39h0M714.1 1750.01h0M998.7 1988.79h0M992.91 1995.92h0M986.85 1992.68h0M983.16 1985.99h0M983.44 1982.11h0M994.35 1979.52h0M989.51 1759.94h0M997.11 1767.14h0M995.87 1772.4h0M987.26 1772.31h0M986.24 1771.41h0M985.6 1762.1h0M967.4 1937.57h0M971.13 1932.34h0M978.67 1935.92h0M978.59 1942.23h0M974.9 1946.21h0M969.52 1944.4h0M827.48 1839.91h0M838.34 1840.22h0M842.17 1846.68h0M837.23 1852.01h0M831.96 1853.23h0M825.64 1844.78h0M807.08 1819.44h0M805.91 1828.95h0M802.11 1829.77h0M795.22 1827.54h0M793.86 1825.8h0M792.57 1818.49h0M797.03 1817.29h0M915.2 1939.37h0M924.06 1938.2h0M925.86 1949h0M915.93 1953.02h0M911.86 1947.14h0M701.27 1800.34h0M693.77 1793.48h0M699.88 1785.69h0M703.9 1786.87h0M709.03 1793.42h0M708.4 1799.13h0M1042.09 1956.34h0M1043.86 1945.09h0M1045.79 1943.34h0M1051.65 1943.89h0M1053.7 1950.55h0M1051.32 1957.09h0M1232.04 1822.49h0M1228.78 1827.75h0M1226.21 1832.23h0M1219.18 1828.48h0M1215.47 1825.83h0M1221.75 1817.51h0M1224.54 1815.5h0M832.79 1754.06h0M827.93 1750.31h0M830.36 1740.15h0M840.88 1741.05h0M842.1 1741.02h0M843.95 1746.71h0M986.05 1796.38h0M983.46 1792.04h0M982.04 1788.68h0M991.17 1784.48h0M995.64 1787.29h0M997.47 1793.13h0M990.31 1798.99h0M898.67 1745.31h0M903.15 1750.06h0M897.27 1759.78h0M891.93 1756.57h0M890.96 1747.24h0M1101.87 1838.63h0M1108.89 1837.62h0M1113.69 1848.5h0M1109.03 1853.37h0M1098.9 1844.05h0M1228.06 1703.62h0M1226.37 1710.61h0M1219.72 1713.04h0M1215.12 1710.23h0M1214.29 1702.18h0M1223.76 1701.1h0M693.47 1938.34h0M692.39 1930.18h0M699.36 1924.79h0M704.98 1932.31h0M699.93 1938.46h0M1069.83 1910.77h0M1064.56 1912.84h0M1056.54 1910.65h0M1059.4 1901.68h0M1060.8 1899.51h0M1071.24 1901.26h0M1070.47 1904.38h0M1088.56 1787.02h0M1084.25 1791.37h0M1074.65 1790.03h0M1074.23 1785.99h0M1076.5 1780.62h0M1080.32 1776.65h0M1087.54 1782.25h0M717.31 1919.16h0M713.65 1911.53h0M722.09 1904.12h0M727.37 1908.8h0M729.95 1914.68h0M721.84 1920.55h0M739.47 2011.12h0M728.4 2008.26h0M726.97 2002.32h0M737.1 1998.74h0M739.54 2004.94h0M1058 1804.66h0M1057 1801.06h0M1060.55 1798.01h0M1069.45 1798.18h0M1070.56 1800.7h0M1070.87 1808.98h0M1067.2 1810.58h0M726.12 1766.07h0M719.82 1768.77h0M714.02 1759.83h0M716.5 1756.9h0M725.01 1756.33h0M972.69 1909.11h0M966.76 1919.69h0M959.36 1913.97h0M961.53 1907.15h0M970.73 1905.73h0M1109.34 2021.58h0M1102.65 2017.74h0M1099.54 2011.72h0M1107.75 2005.89h0M1111.67 2008.83h0M1114.3 2013.84h0M1110 2021.83h0M980.37 1709.26h0M985.19 1701.22h0M995.56 1703.19h0M993.93 1710.98h0M983 1713.05h0M878.74 1753.15h0M877.35 1760.55h0M869.63 1762.02h0M866.05 1757.28h0M864.69 1751.83h0M873.05 1749.44h0M877.56 1748.3h0M1052.97 1732.05h0M1051.75 1728.52h0M1049.31 1719.72h0M1057.2 1717.12h0M1062.53 1719.98h0M1062.26 1727.15h0M1098.3 1824.04h0M1093.55 1816.56h0M1098.15 1810.05h0M1103.04 1810.19h0M1106.23 1813.07h0M1105.66 1821.12h0M1205.7 1725.62h0M1206.09 1730.54h0M1201.37 1737.84h0M1197.12 1735.45h0M1194 1730.9h0M1193.31 1724.42h0M1203.01 1721.96h0M748.27 1722.68h0M747.83 1730.82h0M743.74 1733.83h0M736.99 1731.55h0M734.73 1726.29h0M740.03 1719.6h0M879.25 1814.18h0M878.35 1805h0M882.26 1802.75h0M888.42 1801.09h0M890.9 1809.99h0M891.06 1812.82h0M883.26 1817.02h0M1175.32 1785.6h0M1187.64 1784.86h0M1187.46 1791.89h0M1177.97 1796.09h0M1174.15 1791.21h0M1199.49 1974.15h0M1193.63 1972.23h0M1194.94 1964.91h0M1198.54 1960.84h0M1203.11 1960.5h0M1207.38 1971.53h0M1206.07 1973.19h0M706.84 1855.05h0M701.69 1860.13h0M694.4 1859.83h0M691.68 1851h0M697.56 1846.42h0M702.62 1847.29h0M836.27 2022.07h0M832.53 2022.88h0M825.68 2014.55h0M831.28 2007.62h0M839.74 2011.51h0M1194.61 1927.42h0M1198.35 1930.69h0M1194.7 1937.65h0M1188.85 1940.57h0M1183.42 1931.62h0M1185.13 1928.88h0M1003.47 1854.5h0M998.54 1850.87h0M998.16 1843.39h0M1005.77 1840h0M1008.45 1842.71h0M1011.49 1845.2h0M1007.23 1854.25h0M731.07 1954.04h0M735.53 1958.04h0M730.94 1964.53h0M726.16 1964.53h0M721.54 1956.57h0M1154.5 1730.86h0M1149.46 1735.16h0M1139.33 1731.62h0M1139.05 1725.1h0M1147.67 1723.66h0M1162.64 1918.37h0M1170.16 1922.17h0M1167.21 1929.58h0M1163.36 1933.43h0M1159.39 1931.83h0M1154.4 1924.07h0M1161.87 1918.45h0M883.11 2008.27h0M890.22 2006.63h0M895.38 2012.68h0M892.53 2018.15h0M882.82 2017.82h0M1171.43 1757.82h0M1173.99 1756.14h0M1177.65 1767.1h0M1173.91 1770.33h0M1170.01 1771.53h0M1167.22 1767.81h0M1167.17 1760.7h0M917.89 1902.09h0M918.99 1904.48h0M921.31 1908.84h0M913.89 1914.57h0M906.69 1909.52h0M906.68 1908.54h0M935.7 1791.93h0M942.54 1784.13h0M950.77 1788.13h0M951.29 1790.42h0M943.86 1798.46h0M772.83 1833.76h0M771.51 1826.34h0M775.5 1821.58h0M785.04 1821.63h0M784.1 1825.33h0M781.29 1834.36h0M785.85 1820.62h0M780.84 1813.83h0M779.34 1807.32h0M787.12 1805.76h0M791.56 1807.37h0M793.13 1813.09h0M790.02 1817.35h0M877.97 1982.95h0M879.66 1977.75h0M883.59 1973.94h0M887.43 1973.15h0M891.09 1977.75h0M889.58 1985.67h0M882.88 1987.08h0M1008.79 1949.49h0M1006.42 1960.01h0M994.97 1959.24h0M994.43 1950.92h0M1001.57 1948.03h0M711.69 1786.35h0M718.34 1786.61h0M721.57 1788.17h0M724.25 1792.65h0M717.71 1799.17h0M712.51 1799.65h0M708.95 1793h0M1045.69 1755.51h0M1044.56 1759.28h0M1037.94 1761.74h0M1031.87 1752.01h0M1036.81 1748.45h0M1042.4 1745.83h0M1233.26 1943.19h0M1228.83 1940.98h0M1230.47 1934.12h0M1235.03 1931.05h0M1241.28 1930.51h0M1244.18 1933.72h0M1238.9 1944.73h0M1239.46 1913.76h0M1236.92 1918.43h0M1231.73 1923.26h0M1227.62 1922.19h0M1224.91 1911.76h0M1226.99 1909.22h0M1232.42 1908.87h0M764.96 1994.69h0M761.28 1990.12h0M769.98 1980.84h0M774.98 1983.12h0M774.18 1993.44h0M923.61 2015h0M921.29 2023.61h0M913.22 2023.87h0M910.01 2020.3h0M907.09 2017.23h0M911.57 2009.72h0M918.28 2009.25h0M858.89 1990.61h0M866.08 1992.19h0M867.56 1996.85h0M865.08 2002.23h0M858.57 2003.28h0M853.5 1999.83h0M853.26 1993.88h0M841.68 1804.55h0M831.7 1801.41h0M832.6 1793.48h0M844.76 1792.58h0M843.85 1795.54h0M1084.41 1726.32h0M1076.6 1730.33h0M1072.22 1724.46h0M1072.08 1721.39h0M1077.19 1715.36h0M1081.65 1716.44h0M1086.92 1720.94h0M1154.51 1813.61h0M1149.08 1802.7h0M1154.26 1800.48h0M1160.33 1801.41h0M1163.19 1807.64h0M1156.51 1813.57h0M1235.58 1977.21h0M1230.05 1971.91h0M1228.75 1967.05h0M1235.07 1960.03h0M1235.95 1963.19h0M1243.42 1966.41h0M1238.43 1976.69h0M858.52 1980.37h0M850.05 1975.36h0M850.55 1969.91h0M854.43 1966.03h0M859.33 1963.56h0M864.1 1967.13h0M864.72 1974.36h0M1045.08 2020.74h0M1040.4 2026.06h0M1037.71 2023.9h0M1032.31 2017.22h0M1035.32 2011.47h0M1040.6 2012h0M1046.92 2015.75h0M973.28 1809.01h0M979.88 1814.88h0M980.99 1819.54h0M971.32 1824.16h0M969.01 1822.77h0M967 1815.64h0M967.4 1811.19h0M1012.08 1861.81h0M1015.41 1857.17h0M1022.61 1857.23h0M1026.17 1863.67h0M1023.94 1869.59h0M1015.76 1868.82h0M1012.55 1867.61h0M946.78 1855.96h0M939.18 1862.28h0M933.13 1855.73h0M937.71 1846.27h0M943.64 1846.78h0M1003.86 1766.29h0M1010.11 1768.72h0M1011.08 1779.14h0M1001.68 1778.24h0M998.96 1772.31h0M1162.29 1951.54h0M1169.21 1948.82h0M1175.15 1955.93h0M1170.15 1963.85h0M1161.44 1956.63h0M724.55 2010.4h0M731.02 2014.55h0M730.36 2021.12h0M726.12 2026.49h0M715.91 2021.76h0M716.11 2018.43h0M718.92 2014.23h0M769.82 1920.75h0M768.37 1928.18h0M765.19 1931.77h0M757.43 1923.82h0M762.12 1917.9h0M1038.09 1786.48h0M1035.19 1792.3h0M1024.51 1784.95h0M1025.96 1779.41h0M1035.32 1778.13h0M839.63 1937.57h0M851.41 1935.57h0M855.61 1939.48h0M849.99 1947.4h0M839.94 1944.8h0M1019.11 1750.91h0M1014.5 1747.54h0M1011.77 1745.59h0M1013.33 1741.03h0M1021.31 1736.23h0M1025.59 1738.47h0M1025.05 1747.33h0M1122.77 1878.15h0M1113.69 1881.07h0M1110.3 1879.01h0M1108.96 1873.35h0M1111.39 1868.87h0M1121.18 1869.04h0M700.46 1765.33h0M703.92 1768.25h0M703.03 1774.15h0M697.29 1779.67h0M690.23 1774.72h0M689.23 1771.42h0M696.75 1765.3h0M1191.74 1994.68h0M1199.44 1992.59h0M1204.69 1999.76h0M1203.55 2004.09h0M1194.85 2008.84h0M1189.59 2003.63h0M1031.57 1824.03h0M1028.47 1829.51h0M1021.65 1828.67h0M1019.67 1825.51h0M1017.61 1819.88h0M1023.75 1814.76h0M1028.9 1818.18h0M763.82 1714.31h0M758.6 1704.05h0M762.68 1702.05h0M769 1701.36h0M772.26 1710.99h0M765.55 1715.94h0M1117.01 1746.35h0M1123.22 1743.52h0M1129.18 1750.57h0M1122.35 1756.49h0M1116.03 1752.13h0M1118.27 1829.74h0M1121.4 1832.75h0M1114.56 1841.61h0M1108.26 1835.86h0M1105.71 1832.68h0M1112.69 1826.28h0M1034.68 1866.5h0M1035.94 1858.23h0M1040.78 1856.44h0M1048.4 1863.55h0M1046.94 1868.13h0M949.05 1701.42h0M952.26 1706.83h0M945.64 1714.66h0M940.73 1713.71h0M938.43 1706.84h0M944.29 1699.5h0M1044.77 1843.04h0M1054.49 1846.75h0M1055.97 1850.77h0M1047.11 1856.88h0M1043.86 1852.45h0M995.54 1888.82h0M1002.51 1891.98h0M1004.12 1896.1h0M1000.3 1901.23h0M990.33 1900.02h0M991.08 1892.85h0M1121.51 1835.45h0M1129.11 1830.83h0M1132.24 1833.94h0M1130.53 1841.75h0M1125.62 1843.21h0M789.42 1726.35h0M796.15 1721.09h0M803.8 1724.51h0M802.07 1730.22h0M796.09 1732.64h0M1011.29 1831.91h0M1016.88 1829.38h0M1019.58 1830.66h0M1022.3 1836.79h0M1019.34 1839.73h0M1014.59 1840.53h0M1010.5 1835.86h0M917.17 1737.66h0M916.72 1729.86h0M924.28 1726.13h0M929.66 1730.28h0M924.29 1738.44h0M1201.42 1924.77h0M1204.63 1921.41h0M1212.18 1929.06h0M1208.99 1935.14h0M1200.7 1933.28h0M813.04 1926.04h0M811.72 1919.95h0M815.18 1913.41h0M821.37 1916.37h0M820.07 1925.03h0M1157.07 1999.82h0M1162.89 2004.87h0M1161.24 2009.17h0M1158.59 2011.75h0M1153.56 2009.59h0M1152.33 2004.01h0M1154.82 2000.29h0M955.17 1776.36h0M952.41 1781.31h0M945.96 1780.26h0M943.48 1773.78h0M946.2 1771.3h0M953.54 1769.59h0M1136.65 1800.94h0M1134.01 1794.94h0M1134.58 1792.31h0M1143.32 1789.13h0M1146.49 1796.02h0M1141.51 1800.12h0M1106.82 1966h0M1112.15 1960.12h0M1117.52 1963.54h0M1120 1968.99h0M1108.47 1971.96h0M1097.23 1749.37h0M1092.99 1751.87h0M1088.94 1748.97h0M1086.43 1745.25h0M1089.4 1738.36h0M1091.64 1737.87h0M1097.4 1742.23h0M867.8 1957.14h0M867.36 1949.04h0M870.38 1946.88h0M879.58 1947.43h0M878.51 1952.92h0M873.82 1956.75h0M1154.47 1712.85h0M1160.69 1716.63h0M1161.73 1721.2h0M1158.91 1724.71h0M1151.32 1723.14h0M1148.97 1716.71h0M1236.54 1883.33h0M1228.85 1877.11h0M1235.75 1872.29h0M1238.12 1871.33h0M1242.22 1879.46h0M830.08 1822.31h0M835.56 1822.89h0M837.6 1828.08h0M835.88 1832.18h0M833.27 1836.3h0M827.5 1833.9h0M825.41 1828.77h0M885.58 1837.01h0M882.4 1846.38h0M878.87 1847.18h0M872.05 1838.25h0M881.7 1835.09h0M780.81 1939.07h0M772.38 1941.19h0M771.09 1934.48h0M772.05 1930.3h0M778.04 1928.22h0M776.58 1927.92h0M782.3 1932.65h0M1129.31 1733.59h0M1127.45 1736.01h0M1118.19 1737.72h0M1117.47 1731.54h0M1115.76 1728.66h0M1125.36 1725.64h0M1127.31 1728.31h0M1033.47 1725.06h0M1029.49 1722.1h0M1030.41 1716.19h0M1038.16 1713.03h0M1042.39 1716.74h0M1041.18 1721.23h0M1037.82 1725.55h0M1025.34 1998.57h0M1032.85 2001.42h0M1032.01 2007.56h0M1025.81 2010.97h0M1021.56 2008.92h0M1095.28 1991.83h0M1090.38 1981.65h0M1099.3 1977.33h0M1102.36 1981.91h0M1101.08 1988.37h0M1139.76 1913.83h0M1149.75 1909.27h0M1154.22 1918h0M1153.24 1920.31h0M1143.26 1921.29h0M882.46 1718.27h0M881.78 1712.93h0M889.47 1709.94h0M894.56 1713.77h0M895.33 1718.99h0M893.19 1721.65h0M885.13 1722.93h0M750.46 1874.78h0M754.1 1868.05h0M760.88 1871.48h0M761.46 1879.71h0M755.67 1881.23h0M751.53 1879.42h0M804.65 1864.37h0M802.06 1870.17h0M794.38 1870.26h0M790.68 1865.55h0M797.58 1858.61h0M999.93 1866.28h0M996.63 1861.1h0M1001.6 1855.64h0M1005.92 1855.22h0M1011.24 1864.29h0M1007.57 1868.41h0M783.3 1884.97h0M773.98 1884.82h0M771.98 1884.49h0M772.48 1876.94h0M776.27 1872.68h0M781.81 1873.71h0M785.59 1879.76h0M855.51 1725.78h0M856.51 1718.08h0M864.27 1718.56h0M865.8 1718h0M864.17 1729.96h0M858.78 1730.11h0M1140.41 1823.83h0M1135.28 1818.76h0M1139.39 1809.22h0M1147.12 1811.74h0M1147.13 1819.51h0M772.89 1724.14h0M771.71 1721.82h0M772.26 1715.98h0M775.81 1712.67h0M782 1716.84h0M783.59 1720.61h0M781.3 1724.67h0M741.89 1952.39h0M747.91 1953.7h0M748.69 1959.91h0M748.85 1964.37h0M740.74 1965.99h0M736.28 1963.31h0M736.86 1954.93h0M1200.88 1841.57h0M1196.11 1840.15h0M1190.89 1833.98h0M1190.72 1831.36h0M1198 1827.45h0M1202.56 1829.77h0M1203.32 1836.08h0M1166.07 1935.95h0M1170.8 1935.98h0M1172.2 1945.16h0M1166.74 1948.16h0M1160.81 1946.28h0M1161.33 1936.2h0M1240.15 1840.13h0M1232.46 1841.21h0M1229.24 1832.68h0M1234.77 1828.79h0M1242.01 1830.22h0M1243.16 1835.75h0M1078.62 1805.4h0M1076.38 1800.13h0M1081.51 1796.95h0M1082.52 1795h0M1088.74 1802.26h0M1088.65 1804.72h0M1081.66 1806.93h0M770.46 1762.54h0M767.91 1769.07h0M760.41 1768.47h0M756.34 1764.35h0M760.54 1759.92h0M761.15 1758.13h0M768.43 1758.63h0M1150.79 1856.39h0M1157.26 1855.23h0M1160.42 1860.89h0M1154.09 1868.34h0M1148.7 1864.7h0M696.22 1753.73h0M695.79 1747.9h0M704.36 1746.14h0M707.6 1754.41h0M699.82 1759.42h0M1029.31 1908.64h0M1028.81 1903.65h0M1036.15 1900.02h0M1040.91 1906.65h0M1033.08 1913.53h0M812.17 1999.49h0M809.04 2007.57h0M802.55 2006.09h0M799.27 2004.97h0M799.29 1997.56h0M805.17 1994.6h0M808.12 1994.83h0M753.44 1734.56h0M758.95 1733.66h0M761.52 1734.65h0M763.11 1742.79h0M760.29 1745.87h0M752.12 1745.28h0M750.22 1742.54h0M887.28 1858.95h0M892.25 1854.43h0M898.11 1860.67h0M893.14 1868.16h0M887.74 1865.97h0M764.07 1838.95h0M758.12 1833.03h0M760.38 1825.46h0M765.54 1826.2h0M768.57 1836.4h0M1071.31 1835.95h0M1072.31 1834h0M1076.1 1839.93h0M1072.55 1848.01h0M1070.39 1848.58h0M1063.97 1844.66h0M1063.92 1838.28h0M764.84 1814.7h0M768.04 1808.26h0M773.74 1808.75h0M777.86 1817.9h0M769.58 1819.44h0M852.86 1991.44h0M846.69 1982.48h0M850.25 1979.54h0M855.74 1979.95h0M857.39 1984.27h0M823.03 1813.72h0M826.41 1803.12h0M831.41 1804.47h0M834.49 1808.27h0M835.86 1812.25h0M828.51 1816.47h0M824.49 1813.84h0M945.97 1940.73h0M949.26 1934.89h0M955.31 1939.61h0M956.31 1945.05h0M952.2 1948.4h0M944.89 1946.01h0M1086.76 1924.23h0M1079.93 1921.28h0M1081.86 1916.7h0M1088.04 1913.81h0M1093.26 1922.51h0M1165.12 1795.1h0M1158.92 1795.5h0M1155.6 1792.57h0M1158.7 1783.99h0M1164.39 1785.42h0M1167.82 1789.61h0M936.89 1830.56h0M943.92 1832.88h0M943.98 1840.09h0M936.74 1843.28h0M932.37 1837.03h0M738.25 1989.84h0M746.65 1984.1h0M751.04 1993.8h0M749.66 1995.13h0M741.35 1996.67h0M826.38 1870.12h0M820.15 1868.63h0M819.26 1863.48h0M823.85 1859.04h0M828.27 1858.16h0M831.95 1860.89h0M831.43 1865.08h0M996.3 1813h0M997.59 1816.05h0M998.18 1818.96h0M996.68 1824.49h0M989.94 1824.84h0M985.45 1821.85h0M987.33 1816.5h0M1050.63 1750.49h0M1046.86 1744.12h0M1045.68 1741.9h0M1049.34 1738.19h0M1053.23 1737.9h0M1058.53 1746.02h0M737.16 1829.36h0M731.84 1833.78h0M726.95 1831.99h0M724.7 1828.02h0M729.12 1822.74h0M734.41 1821.95h0M1183.91 1780.99h0M1180.11 1772.86h0M1181.99 1767.46h0M1189.89 1768.62h0M1192.6 1773.57h0M1190.3 1775.83h0M918.56 1828.99h0M923.82 1833.28h0M923.06 1839.59h0M914.32 1842.74h0M912.76 1841.31h0M911.84 1832.25h0M915.14 1831.41h0M754.6 1712.9h0M761.59 1716.15h0M763.21 1720.82h0M756.77 1727.44h0M752.02 1723.95h0M750.74 1717.09h0M1185.79 1952.18h0M1193.03 1946.48h0M1197.29 1949.87h0M1195.01 1957.74h0M1188.31 1957.09h0M1147.3 1836.99h0M1152.67 1836.87h0M1155.1 1843.34h0M1154.86 1844.89h0M1144.05 1847.45h0M1144.47 1839.02h0M838.91 1919.63h0M847.01 1919.99h0M850.69 1927.31h0M849.07 1930.14h0M840.52 1929.87h0M838.89 1925.78h0M848.18 1915.86h0M846.13 1906.78h0M851.14 1903.58h0M856.4 1903.44h0M858.53 1909.13h0M857.44 1914.69h0M854.06 1916.32h0M874.85 1868.84h0M882.21 1871.17h0M881.24 1877.81h0M878.51 1881.39h0M873.27 1879.21h0M869.68 1875.01h0M873.43 1870.56h0M783.36 1913.48h0M788.13 1905.63h0M797.78 1913.35h0M794.95 1917.36h0M790.55 1918.82h0M783.39 1913.43h0M1087.22 2001.42h0M1096.7 1995.02h0M1101.49 2002.04h0M1100.15 2007.17h0M1092.75 2009.76h0M1113.47 1701.19h0M1118.78 1701.26h0M1122.96 1706.43h0M1121.14 1712.75h0M1114.5 1712.5h0M1110.78 1707.06h0M694.75 1892.78h0M698.4 1885.44h0M703.64 1886.64h0M708.83 1892.29h0M704.01 1898.71h0M698.04 1897.46h0M1123.36 1903.33h0M1131.1 1899.16h0M1133.9 1902.22h0M1134.45 1907.08h0M1126.35 1912.64h0M1122.68 1909.89h0M728.75 1749.86h0M728.2 1748.25h0M727.64 1741.58h0M733.44 1738.84h0M739.14 1741.53h0M738.47 1747.41h0M732.69 1751.51h0M1197 1713.04h0M1198.29 1717.6h0M1197.8 1721.18h0M1188.48 1722.33h0M1186.08 1715.88h0M1189.7 1711.32h0M1043.76 1896.18h0M1048.89 1889.6h0M1055.43 1895.52h0M1051.41 1903.47h0M1045.87 1903.65h0M1135.31 2015.82h0M1144.29 2012.23h0M1146.56 2013.77h0M1145.58 2021.89h0M1141.8 2023.08h0M1136.48 2021.27h0M948.72 1900.72h0M948 1892.09h0M952.94 1891.69h0M959.98 1897.3h0M955.85 1902.34h0M743.06 1978.97h0M737.31 1979.58h0M736.07 1972.22h0M739.57 1968.29h0M747.89 1970.74h0M716.51 1979.9h0M714.39 1971.59h0M721.12 1968.29h0M726.16 1970.64h0M726.55 1977.41h0M1198.63 1909.29h0M1199.22 1899.48h0M1208.78 1899.74h0M1210.51 1907.91h0M1202.81 1910.44h0M965.75 1769.37h0M968.17 1761.18h0M974.53 1761.93h0M975.35 1761.93h0M979.48 1768.22h0M978.56 1770.18h0M969.23 1770.97h0M887.66 1828.35h0M886.95 1822.22h0M894.36 1816.14h0M897.85 1818.3h0M898.05 1827h0M894.79 1827.84h0M1110.28 1766.62h0M1115.9 1763.09h0M1120.91 1764.72h0M1121.02 1772.47h0M1114.77 1774h0M1108.51 1769.42h0M1016.94 1923.7h0M1017.56 1921.88h0M1025.17 1918.41h0M1027.75 1922.51h0M1027.03 1927.88h0M1021.98 1929.56h0M1152.22 1760.72h0M1162.11 1762.46h0M1162.14 1767.65h0M1156.48 1771.74h0M1150.23 1766.05h0M1028.25 1868.96h0M1032.57 1872.11h0M1030.65 1880.5h0M1026.59 1881.14h0M1021.39 1871.18h0M947.07 2014.65h0M947.31 2010.46h0M951.11 2004.96h0M956.45 2008.84h0M959.41 2015.99h0M953.27 2018.5h0M794.09 1845.43h0M786.32 1848.52h0M784.84 1844.54h0M788.41 1837.37h0M793.33 1837.49h0M740.73 1780.67h0M733.54 1783.17h0M727.67 1779.08h0M730.55 1774.67h0M735.98 1771.72h0M739.45 1775.43h0M697.89 1996.99h0M705.44 2002.64h0M703.32 2007.14h0M695.99 2010.37h0M692.09 2006.91h0M694.69 1998.2h0M1221.01 1845.93h0M1212.46 1840.89h0M1213.18 1836.52h0M1219.97 1833.75h0M1222.85 1834.24h0M1225.16 1842.15h0M900.94 1956.66h0M894.4 1950h0M901.79 1945.95h0M908.9 1948.92h0M905.41 1955.97h0M1156.81 1746.86h0M1148.65 1748.79h0M1146.92 1745.21h0M1149.39 1738.53h0M1154.27 1737.19h0M1158.25 1744.06h0M1026.81 1809.81h0M1019.79 1809.48h0M1015.6 1803.59h0M1024.87 1798.59h0M1028.06 1803.01h0M973.64 1974.22h0M982.02 1973.98h0M982.98 1977.93h0M982.35 1980.52h0M976.61 1984.84h0M972.58 1985.02h0M971.19 1979.68h0M1218.18 1811.24h0M1215.19 1805.03h0M1220.46 1801.01h0M1226.14 1803.04h0M1230.02 1806.84h0M1223.1 1813.94h0M1014.44 1793.97h0M1010.41 1803.55h0M1002.5 1802.18h0M1001.12 1796.57h0M1006.43 1790.48h0M908.91 1996.84h0M914.32 2004.45h0M906.33 2009.46h0M899.5 2004.6h0M903.34 1998.4h0M968.03 1857.54h0M967.45 1861.33h0M959.34 1863.69h0M957.07 1856.52h0M959.11 1851.66h0M847.58 1966.31h0M840.48 1968.24h0M837.75 1964.24h0M836.4 1961.17h0M840.21 1958.01h0M847.15 1957.3h0M850 1962.66h0M744.05 1909.06h0M750.27 1908.38h0M755.33 1911.64h0M755.26 1918.23h0M749.43 1921.22h0M745.7 1918.08h0M745.5 1910.57h0M707.26 1842.49h0M714.61 1835.59h0M717.83 1838.43h0M714.67 1848.29h0M705.95 1843.81h0M1097.01 1830.33h0M1092.57 1837.49h0M1090.17 1839.66h0M1082.93 1833.81h0M1084.45 1829.38h0M1090.63 1825.56h0M1174.12 1916.11h0M1175.26 1914.13h0M1178.55 1910.69h0M1187.04 1913.61h0M1185.02 1919.58h0M1181.77 1922.59h0M1175.81 1921.48h0M849.47 1758.67h0M846.6 1754.62h0M851.38 1750.21h0M858.29 1749.05h0M859.84 1753.78h0M860.5 1756.8h0M853.44 1761.3h0M1052.08 1797.02h0M1048.73 1795.07h0M1042.34 1793.79h0M1044.01 1786.32h0M1047.74 1782.67h0M1050.36 1784.67h0M1054.84 1788.57h0M819.91 1878.09h0M815.27 1883.4h0M810.88 1882h0M806.21 1876.11h0M807.54 1873.65h0M814.4 1869.95h0M820.64 1874.73h0M843.23 1711.5h0M837.31 1713.74h0M833.98 1709.31h0M838.58 1701.96h0M843.41 1701.55h0M968.38 1899.02h0M965.35 1893.37h0M969.29 1888.62h0M977.17 1888.99h0M978.07 1894.82h0M973.69 1900.38h0M1015.02 1910.67h0M1009.04 1908.13h0M1009.13 1903.8h0M1011.19 1899.22h0M1016.51 1899.17h0M1020.62 1902.54h0M1020.1 1907.04h0M1049.65 1922.78h0M1055.31 1920.25h0M1059.44 1930.05h0M1058.57 1931.54h0M1048.36 1927.34h0M941.16 1992.66h0M938.01 2001.92h0M930.13 1999.89h0M928.64 1993.07h0M934.28 1988.86h0M918.99 1773.37h0M916.51 1777.28h0M907.95 1776.65h0M908.11 1769.62h0M913.3 1766.75h0M1130.53 1879.98h0M1134.84 1885.84h0M1132.7 1891.43h0M1125.8 1892.82h0M1122.9 1887.84h0M1128.52 1880.44h0M844.21 1874.21h0M843.48 1869.24h0M846.64 1861.24h0M851.21 1863.37h0M855.14 1866.42h0M851.33 1872.29h0M848.01 1872.85h0M1206.52 1866.63h0M1210.6 1871.56h0M1209.18 1875.96h0M1201.89 1877.24h0M1199.5 1873.75h0M1199.45 1869.85h0M1074.68 2003.87h0M1067.39 2004.12h0M1064.13 1999.09h0M1064.8 1994.28h0M1072.71 1993.1h0M1075.36 1997.53h0M1137.05 1929.93h0M1139.86 1937.37h0M1135.1 1940.44h0M1127.75 1938.45h0M1126.87 1932.41h0M1130.05 1928.12h0M884.9 1737.37h0M883.02 1743.96h0M876.36 1746h0M871.53 1741.26h0M871.23 1734.75h0M878.7 1732.04h0M880.63 1731.87h0M765.6 1789.21h0M759.99 1783.35h0M765.28 1779.09h0M771.9 1779.66h0M773.55 1786.4h0M936.64 1769.26h0M931.73 1767.32h0M928.27 1766.18h0M929.8 1760h0M933.12 1757.53h0M940.07 1757.14h0M940.82 1764.9h0M1215.71 1974.63h0M1222.51 1969.86h0M1226.21 1970.36h0M1228.26 1973.35h0M1227.46 1978.57h0M1222.72 1982.34h0M1216.59 1981.62h0M933.48 1784h0M935.36 1787.53h0M932.1 1794.63h0M927.47 1794.92h0M922.5 1790.52h0M924 1785.98h0M929.63 1782.93h0M1052.54 1879.48h0M1046.29 1881.31h0M1040.7 1878.1h0M1041.32 1870.4h0M1052.1 1872.46h0M790.86 1881.01h0M794.07 1875.89h0M797.85 1874.23h0M801.68 1878.88h0M801.39 1885.71h0M794.18 1887.12h0M790.75 1886.47h0M832.34 1914.92h0M830.96 1906.36h0M833.58 1902.64h0M842.72 1903.7h0M843.21 1907.25h0M839.53 1914.81h0M1216.84 1928.48h0M1221.34 1921.43h0M1223.03 1922.09h0M1228.56 1926.82h0M1228.04 1933.36h0M1224.16 1935.82h0M1217.7 1933.35h0M727.26 1888.78h0M729.87 1886.55h0M735.91 1891.24h0M734.86 1896.77h0M731.24 1899.93h0M726.9 1898.69h0M722.82 1895.36h0M728.5 1868.76h0M735.3 1873.3h0M735.27 1881.31h0M728.32 1880.08h0M725.41 1874.9h0M813.59 2009.14h0M821.43 2011.63h0M822.77 2018.25h0M814.33 2020.67h0M812.05 2016.32h0M1124.86 1789.89h0M1121.58 1786.38h0M1120.31 1779.31h0M1124.07 1775.73h0M1131.32 1780.28h0M1131.21 1784.22h0M1185.76 1859.18h0M1189.34 1854.68h0M1197.82 1856.99h0M1197.93 1864.03h0M1194.29 1867.4h0M1234.22 2019.97h0M1230.14 2022.82h0M1224.47 2021.23h0M1224.5 2013.02h0M1229.18 2009.05h0M1235.72 2011.96h0M1153.07 1943.47h0M1154.21 1947.56h0M1151.48 1953.8h0M1144.43 1953.14h0M1143.28 1947.49h0M1143.93 1941.99h0M1081.88 1868.36h0M1080.55 1861.27h0M1084.48 1858.04h0M1087.73 1858.51h0M1091.15 1860.23h0M1093.04 1865.96h0M1086.75 1870.86h0M1124.41 1870.33h0M1117.46 1865.14h0M1119.23 1861.25h0M1124.77 1857.45h0M1130.3 1859.58h0M1129.42 1863.56h0M1125.84 1870.16h0M768.86 1905.06h0M773.49 1903.11h0M778.77 1907.98h0M777.27 1912.75h0M776.77 1915.71h0M768.81 1914.69h0M766.56 1911.09h0M974.05 1806.6h0M971.83 1800.98h0M972.31 1796.17h0M980.36 1795.88h0M983.76 1799.57h0M976.58 1809.39h0M957.42 1717.23h0M952.42 1713.89h0M954.51 1708.21h0M960.78 1704.9h0M962.76 1707.31h0M966.19 1713.43h0M960.07 1718.24h0M1081.31 1735.07h0M1078.96 1740.36h0M1069.41 1738.34h0M1070.25 1732.33h0M1078.5 1730.43h0M1173.04 1899.6h0M1172.7 1904.43h0M1164.86 1906.22h0M1161.45 1902h0M1161.25 1896.42h0M1172.03 1893.67h0M1009.73 1704.87h0M1012.21 1700.52h0M1016.13 1701.18h0M1020.2 1702.75h0M1021.22 1709.6h0M1015.67 1713.65h0M1010.22 1710.59h0M915.79 1984.92h0M911.75 1989.03h0M909.59 1991.1h0M903.9 1983.38h0M908.87 1977.83h0M914.1 1979.41h0M1141.95 1706.94h0M1144.18 1713.65h0M1139.33 1719.41h0M1131.32 1713.95h0M1135.38 1705.44h0M920.97 1884.96h0M925.05 1888.75h0M921.17 1897.34h0M912.28 1894.99h0M912.03 1888.44h0M850.86 1727.3h0M849.59 1734.99h0M842.37 1736.47h0M839.5 1729.85h0M846.43 1723.85h0M1014.7 1874.79h0M1015.49 1880.95h0M1013.42 1886.99h0M1005.69 1885.1h0M1004.07 1883.81h0M1003.74 1875.2h0M1009.19 1873.97h0M968.74 1784.82h0M970.14 1780.4h0M975.27 1780.49h0M981.33 1783.74h0M979.43 1788.94h0M976.15 1792.13h0M971.88 1791.94h0M1063.6 1826.53h0M1058.73 1824.04h0M1060.41 1815.64h0M1064.53 1815.38h0M1069.98 1819.44h0M1176.48 1843.24h0M1177.65 1843.04h0M1170.62 1835.51h0M1173.94 1833.28h0M1177.76 1833.28h0M1183.81 1839.68h0M883.56 1959.88h0M882.39 1952.2h0M885.75 1948.73h0M893.56 1952.24h0M894.86 1955.27h0M887.22 1961.19h0M1078.53 1897.81h0M1077 1893.14h0M1080.26 1889.01h0M1088.75 1889.3h0M1089.96 1897.12h0M1082.76 1901.6h0M991.66 2004.01h0M999.79 2008.13h0M998.23 2015.72h0M991.75 2017.47h0M986.59 2013.71h0M987.09 2007.03h0M867.46 1932.23h0M861.51 1939.48h0M855.72 1938.24h0M857.62 1929.28h0M862.53 1927.14h0M1111.39 1734.49h0M1115.55 1741.11h0M1114.05 1744.29h0M1110.14 1746.32h0M1105.05 1742.03h0M1107.38 1734.11h0M1059.96 1761.26h0M1056.58 1768.08h0M1051.88 1767.13h0M1049.62 1762.22h0M1047.43 1758.03h0M1053.03 1753.34h0M1059.7 1755.74h0M735.33 1860.25h0M732.13 1862.64h0M726.08 1863.82h0M724.6 1853.13h0M726.93 1853.54h0M734.13 1853.27h0M1130.73 2020.48h0M1128.05 2023.65h0M1118.73 2020.51h0M1117.61 2015.27h0M1121 2012.38h0M1125.96 2011.13h0M1129.81 2013.67h0M1207.05 1962.8h0M1208.88 1959.9h0M1212.14 1954.73h0M1217.94 1957.49h0M1220.74 1960.91h0M1218.65 1967.36h0M1212.55 1967.66h0M1171.37 1881.02h0M1168.58 1881.51h0M1162.93 1881.84h0M1159.08 1877.14h0M1161.69 1872.67h0M1166.25 1870.5h0M1168.44 1871.54h0M1046.9 1831.26h0M1044.91 1836.51h0M1037.97 1837.94h0M1036.34 1837.56h0M1035.48 1830.93h0M1037.73 1827.82h0M1046 1826.87h0M820.51 1761.86h0M827.13 1755.39h0M835.95 1762.23h0M832 1767.79h0M822.93 1766.07h0M856.61 1852.74h0M862.72 1848.99h0M868.91 1850.84h0M871.7 1854.58h0M864.66 1863.35h0M859.84 1858.7h0M1016.11 1726.8h0M1018.22 1722.08h0M1027.78 1722.47h0M1027.98 1725.46h0M1025.83 1735.33h0M1022.36 1734.29h0M1017.23 1731.88h0M835.74 1981.62h0M834.17 1985.08h0M828.22 1987.01h0M824.61 1981.49h0M827.86 1976.85h0M834.27 1977.75h0M910.68 1813.07h0M915.98 1818.2h0M913.55 1823.94h0M903.79 1820.89h0M907.08 1813.57h0M830.12 1885.98h0M833.62 1880.46h0M841.23 1883.42h0M842.87 1888.62h0M836.8 1893.48h0M835 1893.47h0M829.55 1890.41h0M1174.16 1743.72h0M1178.55 1742.47h0M1183.81 1743.01h0M1185.14 1748.61h0M1181.54 1754.37h0M1173.06 1752.95h0M1174.16 1751.76h0M1003.62 2013.96h0M1007.7 2007.73h0M1010.65 2005.5h0M1016.94 2011.63h0M1015 2016h0M1011.66 2017.95h0M1006.18 2018.17h0M956.34 1758.67h0M953.28 1753.52h0M953.18 1749.4h0M961.98 1748.91h0M964.5 1757.24h0M952.91 1995.26h0M956.18 1990.82h0M964.33 1995.51h0M964.77 2000.66h0M959.79 2004.35h0M953.16 2002.8h0M845.4 1997.61h0M850.03 2001.76h0M848.02 2007.01h0M838.05 2008.15h0M838.15 2004.91h0M838.64 1996.6h0M1207.71 2013.96h0M1211.15 2012.13h0M1217.49 2013.35h0M1220.57 2015.7h0M1219.44 2015.5h0M1212.39 2024.02h0M1208.64 2019.27h0M1231.23 1794.95h0M1231.16 1788.69h0M1234.1 1786.06h0M1239.4 1785.45h0M1240.95 1792.79h0M1240.75 1796.73h0M1234.68 1797.95h0M695.86 1829.52h0M700.42 1830.51h0M704.43 1835.94h0M696.87 1841.35h0M694.27 1840.04h0M692.14 1832.2h0M750.23 1814.06h0M758.29 1810.7h0M758.17 1813.34h0M759.24 1818.81h0M756.56 1824.23h0M753.6 1823.26h0M747.74 1821.32h0M1093.93 1875.16h0M1098.76 1878.39h0M1100.5 1883.02h0M1096.47 1886.31h0M1091.73 1887.84h0M1088.42 1883.17h0M1089.16 1874.87h0M795.76 2023.5h0M791.39 2021.48h0M789.4 2017.97h0M794.11 2010.99h0M797.49 2010.77h0M801.02 2015.11h0M800.63 2021.72h0M1155.73 1986.09h0M1147.58 1989.77h0M1144.79 1983.41h0M1148.61 1976.57h0M1155.37 1979.79h0M1142.26 1851.65h0M1144.21 1853.49h0M1142.45 1862.44h0M1140.55 1863.15h0M1134.1 1857.29h0M1134.68 1852.47h0M780.49 1985.87h0M776.25 1982.31h0M779.54 1974.55h0M785.05 1972.79h0M788.44 1982.75h0M784.6 1985.25h0M921.24 1755.99h0M915.97 1757.95h0M911.86 1753.8h0M915.28 1744.88h0M922.17 1747.36h0M1090.47 1852.86h0M1083.78 1850.11h0M1082.56 1843.65h0M1085.06 1841.8h0M1092.01 1841.94h0M1095.29 1847.82h0M900.99 1973.54h0M895.49 1971.25h0M899.08 1963.34h0M905.34 1964.19h0M908.7 1971.87h0M858.72 1821.2h0M855.43 1825.81h0M850.54 1824.87h0M847.16 1817.06h0M855.45 1815.4h0M713.89 1959.68h0M712.26 1966.19h0M707 1970.74h0M701.02 1966.78h0M701.65 1962.17h0M706.08 1957.89h0M1207.84 1803.36h0M1200.98 1800.6h0M1202.98 1790.8h0M1210.72 1792.72h0M1213.28 1798.95h0M871.95 1707.45h0M868.67 1714.29h0M864.01 1712.49h0M860.17 1707.89h0M864.6 1700.49h0M868.49 1701.93h0M871.19 1704.41h0M886.47 1941.76h0M880.4 1944.66h0M876.34 1935.78h0M881.01 1931.32h0M888.4 1936.68h0M1148.55 1775.02h0M1146.06 1781.13h0M1140.4 1783.47h0M1136.74 1782.13h0M1136.35 1773.18h0M1139.27 1770.09h0M1144.06 1770.94h0M821.8 1832.12h0M821.37 1833.79h0M820.74 1842.62h0M812.9 1840.21h0M811.24 1840.22h0M809.73 1836.76h0M813.64 1829.47h0M949.91 1837.58h0M958.53 1841.88h0M957.55 1847.11h0M951.79 1850.33h0M947.33 1846.98h0M947.99 1841.86h0M736.87 1755.36h0M745.41 1749.49h0M749.15 1754.59h0M747.45 1762.47h0M740.37 1759.98h0M1079.87 1761.18h0M1077.48 1765.45h0M1071.15 1763.63h0M1069 1754.94h0M1076.64 1751.5h0M800.69 1794.37h0M798.63 1788.63h0M800.88 1784.6h0M808.19 1784.29h0M811.6 1789.15h0M1086.88 2006.59h0M1087.2 2014.23h0M1077.15 2015.73h0M1077.15 2012.6h0M1078.72 2004.12h0M1081.27 2004.48h0M1211.02 1818.23h0M1212.28 1818.75h0M1203.07 1822.93h0M1198.88 1819.39h0M1201.48 1812.29h0M1208.72 1810.71h0M965.56 1957h0M960.92 1961.63h0M956.19 1958.68h0M955.28 1954.17h0M959.19 1948.94h0M968.04 1954.44h0M1223.84 1891.69h0M1220.69 1895.26h0M1215.32 1895.08h0M1211.44 1890.19h0M1217.04 1884.97h0M1221.02 1883.42h0M1138.22 1760.63h0M1135.33 1766.69h0M1127.46 1768.73h0M1126.84 1763.61h0M1126.14 1757.52h0M1133.34 1756.33h0M1163.07 1731.76h0M1167.07 1723.89h0M1175.74 1726.58h0M1176.51 1730.49h0M1171.49 1736.49h0M1165.74 1735.27h0M965.95 1796.43h0M961.16 1798.77h0M958.42 1799.11h0M953.43 1796.15h0M954.99 1790.12h0M961.77 1788.27h0M964.76 1789.66h0M1173.89 1863.32h0M1168.2 1864.87h0M1162.54 1860.03h0M1162.69 1854.81h0M1166.72 1852.52h0M1172.2 1852.07h0M1176.87 1857.62h0M1143.86 1882.48h0M1139.31 1883.5h0M1134.16 1878.31h0M1136.3 1871.71h0M1140.71 1870.23h0M1147.06 1871.78h0M1147.89 1878.41h0M1203.47 2015.16h0M1202.55 2019.42h0M1194.86 2023.2h0M1192.21 2016.85h0M1196.63 2010.02h0M1070.03 1818.96h0M1075.12 1814.02h0M1079.74 1814.47h0M1083.71 1818.7h0M1082.08 1825.36h0M1077.54 1826.84h0M1071.6 1822.98h0M742.1 1814.62h0M736.03 1813.22h0M736.67 1805.34h0M739.37 1802.21h0M747.68 1804.6h0M747.56 1811.06h0M758.98 1965.21h0M753.69 1959.13h0M755.29 1953.92h0M762.79 1952.32h0M765 1962.33h0M932.12 1909.36h0M926.11 1903.39h0M933.26 1898.15h0M934.14 1898.54h0M941.05 1904.16h0M936.01 1909.64h0M970.17 1741.17h0M966.08 1743.96h0M960.8 1742.95h0M958.82 1736.08h0M959.73 1732.77h0M967.41 1733.1h0M971.15 1733.92h0M1175.44 1800.07h0M1177.12 1803.96h0M1173.45 1810.45h0M1168.74 1809.32h0M1164.55 1806.47h0M1169.84 1797.31h0M1037.59 1976.99h0M1041.3 1973.23h0M1048.79 1976.73h0M1048.16 1981.41h0M1042.46 1984.38h0M1038.48 1983.22h0M790.08 1904.31h0M784.85 1899.07h0M784.24 1897.05h0M789.9 1890.63h0M794.46 1891.35h0M791.7 1903.76h0M948.35 1828.63h0M943.25 1827.63h0M939.69 1823.22h0M943.91 1816.01h0M950.11 1816.77h0M951.99 1823.19h0M1211.4 1939.64h0M1215.57 1937.93h0M1219.5 1941.18h0M1216.98 1948.75h0M1211.81 1949.92h0M1208.94 1949.53h0M1205.46 1943.92h0M854.41 1733.94h0M861.84 1736.5h0M864.89 1744.86h0M855.41 1745.84h0M853.11 1741.67h0M694.25 1737.12h0M690.89 1731.79h0M695.57 1726.08h0M698.53 1723.71h0M704.2 1729.96h0M700.79 1735.59h0M698.19 1738.85h0M1222.07 1914.59h0M1216.39 1918.91h0M1213.72 1919.13h0M1212.17 1913.58h0M1215.14 1907.03h0M1223.01 1909.65h0M973.51 1862.36h0M973.07 1857.95h0M979.78 1853.37h0M981.33 1853.72h0M984.75 1859.35h0M978.7 1864.37h0M1182.56 1903.88h0M1179.46 1898.59h0M1185.45 1892.48h0M1188.21 1894.61h0M1191.53 1898.05h0M1191.89 1905.34h0M1187.92 1907.55h0M1205.22 1700.45h0M1211.13 1703.11h0M1208.82 1712.19h0M1203.37 1711.69h0M1200.58 1704.56h0M725.51 1984.33h0M728.39 1988.67h0M727.51 1995.93h0M720.95 1995.86h0M718.87 1993.83h0M716.43 1985.78h0M720.98 1984.48h0M814.43 1742.14h0M816.36 1737.72h0M822.35 1737.09h0M826.03 1745.24h0M825.31 1746.66h0M816.92 1748.89h0M1166.41 2022.9h0M1162.38 2017.98h0M1164.77 2011.74h0M1169.86 2008.93h0M1173.73 2010.49h0M1177.02 2017.44h0M1172.47 2021.52h0M834.67 1769.79h0M839.07 1763.41h0M846.26 1763.83h0M847.96 1770.76h0M845.77 1773.69h0M844.12 1777.01h0M837.92 1775.34h0M1230.95 1818.27h0M1229.23 1815.36h0M1232.22 1808.68h0M1235.73 1809.42h0M1242.65 1811.73h0M1242.8 1815.74h0M1237.46 1821.51h0M782.42 1705.53h0M786.95 1702.49h0M791.59 1704.02h0M790.07 1712.5h0M783.82 1711.85h0M1129.92 1920.35h0M1129 1921.67h0M1127.52 1927.72h0M1119.89 1927.46h0M1116.8 1921.4h0M1118.22 1917.87h0M1125.62 1916.71h0M1227.28 1753.97h0M1236.41 1753.09h0M1238.82 1759.35h0M1239.85 1760.31h0M1227.24 1760.85h0M878.76 1886.03h0M882.42 1883.5h0M887.39 1888.17h0M888.52 1895.02h0M876.83 1893.48h0M874.99 1892.28h0M1015.06 1977.14h0M1016.23 1980.16h0M1012.85 1987.34h0M1003.95 1981.95h0M1004.35 1976.03h0M1010.43 1974.41h0M1143.39 1931.94h0M1145.96 1927.97h0M1152.83 1928.15h0M1154.7 1932.53h0M1150.02 1939.12h0M1146.9 1938.22h0M1145.05 1935.31h0M1010.67 1926.18h0M1003.44 1928.55h0M1000.85 1919.88h0M1003.96 1915.57h0M1012.12 1918.11h0M914.18 1861.65h0M905.49 1866.07h0M902.69 1864.69h0M904.43 1854.95h0M911.92 1854.78h0M949.05 1961.77h0M945.66 1966.83h0M940.25 1967.46h0M938.36 1959.35h0M940.35 1957.83h0M949.15 1957.52h0M896.13 1935.64h0M898.98 1932.3h0M901.15 1931.13h0M908.46 1934.09h0M907.49 1937.73h0M902.89 1942.65h0M900.31 1941.64h0M781.37 1782.14h0M773.75 1778.11h0M777.25 1771.48h0M782.21 1770.17h0M786.71 1776.28h0M750.92 1856.02h0M755.66 1853.04h0M761.83 1857.23h0M763.36 1859.42h0M756.46 1863.94h0M751.69 1863.13h0M1055.61 1712h0M1044.04 1714.52h0M1042.77 1706.16h0M1049.59 1704.13h0M1056.05 1708.48h0M710.06 1889.86h0M714.85 1881.54h0M720.18 1884.45h0M722.63 1890h0M715.73 1894.95h0M719.9 1702.82h0M724.22 1709.8h0M719.81 1712.71h0M717.5 1715.29h0M710.35 1709.73h0M712.99 1704.07h0M1172.85 1823.21h0M1176.7 1818.74h0M1181.77 1814.89h0M1187.11 1819.55h0M1187.73 1824.03h0M1184.9 1827.22h0M1174.84 1827.41h0M720.97 1826.6h0M719.28 1831.99h0M714.09 1833.12h0M710.08 1832.82h0M708.97 1825.05h0M711.16 1824.09h0M718.13 1821.33h0M1067.17 1930.87h0M1065.18 1926.49h0M1073.23 1921.88h0M1076.57 1924.72h0M1077.99 1929.48h0M1073.31 1932.63h0M1103.93 1724.73h0M1105.59 1718.08h0M1114.57 1714.36h0M1116.85 1720.64h0M1114.06 1724.66h0M744.6 1885.54h0M747.97 1886.55h0M750.98 1889.12h0M749.39 1897.55h0M746.29 1898.02h0M743.03 1896.5h0M738.33 1890.22h0M821.54 1711.27h0M816.13 1710.09h0M816.89 1701.93h0M820.3 1700.44h0M826.95 1703.33h0M829.45 1709.6h0" stroke="#58299c" stroke-width="2.7" stroke-linecap="round" fill="none" opacity="0.78"/>
<path d="M899.84 1966.49h0M1184.7 1910.58h0M883.96 1895.77h0M1099.79 1729.61h0M1078.62 1842.78h0M1088.66 1791.21h0M1148.58 1934.03h0M879.15 1750.25h0M1188.29 1739.08h0M748.6 1769.55h0M1116.32 1865.63h0M1203.42 1733.88h0M871.77 1772.08h0M729.59 1942.64h0M907.55 1851.8h0M1161.27 1858.95h0M1185.81 1985.9h0M953.74 1862.72h0M1031.79 1874.81h0M1199.22 1955.42h0M997.58 1758.96h0M904.88 1875.17h0M939.62 1799.55h0M1066.59 1843.32h0M1197.64 1830.24h0M883.57 1982.02h0M928.21 1958.52h0M1095.97 1725.17h0M960.14 1870.54h0M1117.67 1909.04h0M943.12 1944.78h0M1164.92 1765.86h0M1132.61 1926.53h0M1074.69 1780.1h0M908.51 1735.05h0M1183.06 1982.37h0M1145.66 1836.86h0M1212.04 1939.78h0M1113.52 1997.91h0M1051.99 1741.24h0M754.55 1803.78h0M942.77 1804.07h0M1063.22 1883.25h0M1177.81 1800.79h0M1213.6 1926.58h0M900.04 1967.24h0M1087.28 1980.66h0M1001.65 1961.56h0M1029.5 1997.88h0M1132.74 1799.73h0M786.65 1742.53h0M1081.35 1753.33h0M859.83 1811.25h0M724.9 1895.25h0M976.18 1874.63h0M872.34 1767.58h0M1033.46 1807.83h0M1159.07 1959.99h0M859.32 1889.01h0M1050.27 1982.9h0M957 1997.11h0M888.17 1817h0M1055.51 1999.87h0M946.03 1886.4h0M951.29 1887.27h0M842.47 1887.07h0M951.18 1968.9h0M1062.6 1937.21h0M747.07 1860.99h0M777.18 1901.97h0M806.95 1884.8h0M840.75 1835.9h0M922.82 1860.26h0M960.04 1953.39h0M732.27 1753.03h0M745.22 1907.8h0M1024.62 1922.32h0M937.79 1930.11h0M1051.77 1769.62h0M1072.34 1909.37h0M990.85 1756.95h0M1151.83 1837.01h0M936.28 1784.22h0M1153.25 1858.74h0M1078.65 1958.62h0M1210.3 1875.25h0M721.78 1789.9h0M1112.93 1948.55h0M804.54 1993.26h0M1005.19 1883.68h0M957.42 1900.32h0M925.6 1853.27h0M1096.75 1886.66h0M834.53 1789.06h0M1142.5 1933.23h0M788.14 1941.49h0M1124.14 1947.01h0M1135.83 1806.59h0M1056.93 1836.91h0M794.24 1972.44h0M1091.83 1979.81h0M1108.37 1748.83h0M872.41 1724.48h0M759.4 1785.06h0M916.43 1885.35h0M1119.5 1800.71h0M936.75 1827.1h0M771.72 1879.33h0M1072.24 1816.86h0M902.05 1946.63h0M831.66 1759.55h0M779.25 1839.56h0M953.89 1913.64h0M1119.82 1940.98h0M1005 1844.97h0M1007.35 1993.52h0M913.39 1936.17h0M966.7 1889.41h0M1199.2 1749.18h0M1205.96 1772.06h0M1062.51 1860.28h0M988.3 1920.02h0M1073.73 1968.3h0M1159.02 1819.99h0M968.41 1871.24h0M1071.02 1957.25h0M731.57 1728.4h0M789.51 1733.62h0M881.34 1738.2h0M1197.21 1768.43h0M1213.39 1739.2h0M1106.24 1814.62h0M861.37 1996.62h0M823.4 1753.21h0M937.43 1940.9h0M814.45 1951.29h0M889.3 1741.29h0M1001.96 1798.82h0M1089.8 1854.98h0M886.31 1942.32h0M1117.38 1813.49h0M821.55 1788.07h0M1141.14 1876.77h0M1031 1839.97h0M769.97 1958.58h0M975.38 1843.65h0M743.76 1812.04h0M1175.3 1807.13h0M1008.64 1954.47h0M717.59 1913.63h0M1206.88 1729.66h0M914.68 1843.83h0M1047.16 1879.15h0M762 1750.88h0M850.13 1986.35h0M1041.24 1882.16h0M1102.35 1984.4h0M748.91 1805.63h0M734.68 1792.74h0M1070.05 1931.51h0M941.46 1919.08h0M1093.37 1848.23h0M1134.75 1797.4h0M967.76 1786.18h0M1134.61 1766.45h0M985.6 1796.12h0M1090.32 1992.88h0M1031.18 1901.83h0M1088.87 1774.58h0M908.88 1830.91h0M1123.11 1931.02h0M1168.59 1812.31h0M791.49 1962.85h0M963.32 1749.4h0M788.7 1870.65h0M1042 1924.17h0M1202.96 1815.4h0M793.49 1772.39h0M891.99 1848.07h0M767.77 1764.6h0M739.54 1902.89h0M927.66 1805.43h0M797.85 1762.51h0M909.55 1928.57h0M960.2 1849.87h0M966.06 1760.26h0M1073.86 1876.88h0M1019.38 1959.77h0M1075.62 1776.27h0M1125.34 1877.03h0M932.75 1926.43h0M827.49 1782.26h0M780.67 1821.9h0M1130.59 1955.81h0M1184.7 1771.25h0M1085.14 1966.87h0M1055.39 1733.16h0M975.71 1828.71h0M973.48 1963.55h0M1133.85 1997.49h0M1037.71 1880.36h0M827.9 1885.31h0M1050.16 1748.41h0M1080.59 1831.15h0M1018.71 1973.31h0M1207.08 1732.25h0M754.14 1776.21h0M1185 1834.1h0M883.66 1786.31h0M832.62 1785.09h0M854.42 1894.64h0M1071.58 1869.62h0M1183.72 1821.37h0M721.01 1953.75h0M1140.58 1811.67h0M1111.28 1795.99h0M1193.34 1729h0M1106.79 1823.52h0M783.23 1791.95h0M910.69 1939.33h0M1011.24 1744.26h0M1057.32 1818.2h0M976.84 1777.91h0M981.34 1781.9h0M871.78 1959.21h0M825.39 1878.34h0M866.62 1880.61h0M928.66 1806.84h0M1087.64 1738.17h0M1210.33 1992.47h0M881.31 1956.19h0M1057.63 1927.13h0M1007.59 1867.23h0M844.41 1798.39h0M735.09 1828.1h0M916.9 1816.24h0M901.47 1966.96h0M867.19 1814.97h0M991.01 1997.81h0M1017.79 1963.58h0M925.36 1999.88h0M1191.68 1819.4h0M923.9 1882.89h0M1172.63 1761.13h0M1067.54 1856.75h0M1119.75 1991.16h0M1213.69 1947.09h0M1068.08 1989.42h0M1036.77 1747.98h0M836.8 1824.57h0M793.49 1832.79h0M946.37 1997.36h0M828.27 1742.43h0M791.78 1969.43h0M804.16 1789.58h0M950.24 1892.21h0M1153.21 1936.38h0M914.68 1982.53h0M919.49 1837.42h0M1210.54 1924.16h0M961.14 1886.7h0M1190.37 1968.4h0M932.78 1991.61h0M764.65 1727.49h0M954.41 1790.01h0M906.11 1816.69h0M774.45 1775.24h0M1037.37 1984.52h0M1018.77 1891.06h0M1123.37 1959.37h0M818.96 1813.02h0M761.08 1853.8h0M1166.76 1812.48h0M1035.23 1886.91h0M1071.6 1845.74h0M962.26 1954.23h0M1169.79 1917.59h0M1160.35 1971.24h0M1140.93 1756.69h0M719.49 1818.94h0M905.42 1902.21h0M1145.08 1869.82h0M908.84 1967.31h0M1048.09 1951h0M969.16 1906.01h0M977.52 1770.16h0M1180.48 1756.76h0M794.36 1774.55h0M1142.74 1778.56h0M740.93 1963.1h0M1082.47 1750.55h0M815.26 1786.39h0M984.35 1806.44h0M1194.16 1820.42h0M940.67 1938.45h0M827.01 1776.52h0M714.99 1907.17h0M919.27 1993.88h0M718.86 1840.53h0M771.81 1829.01h0M791.79 1930.43h0M1164.58 1919.71h0M1147.62 1745.01h0M745.13 1726.95h0M1207.97 1777.99h0M945.07 1913.91h0M868.55 1963.66h0M764.77 1724.58h0M736.91 1944.9h0M1170.65 1806.84h0M782.11 1990.81h0M1182.85 1925.41h0M741.75 1798.8h0M917.12 1964.8h0M1195.09 1827.41h0M800.76 1922.99h0M865.97 1876.97h0M744.49 1787.08h0M910.21 1778.15h0M911.86 1852.94h0M940.03 1799.22h0M1131.59 1797.48h0M1017.34 1761.79h0M791.56 1943.26h0M1069.32 1782.78h0M779.19 1852.32h0M1001.03 1876.15h0M1163.71 1908.46h0M749.95 1787.71h0M1012.27 1803.41h0M1056.31 1912.61h0M1211.78 1873.41h0M1213.64 1743.01h0M932.25 1868.51h0M1110.27 1781.03h0M987.32 1756.78h0M1045.31 1916.37h0M1007.57 1799.59h0M1004.22 1815.47h0M1045.42 1850.18h0M876.8 1950.98h0M986.39 1773.44h0M878.53 1976.15h0M841.59 1820.61h0M925.13 1847.51h0M1118.51 1876.55h0M1166.23 1923.02h0M832.19 1737.93h0M1184.41 1884.06h0M1114.85 1893.55h0M806.6 1809.73h0M959.92 1920.33h0M993.65 1828.91h0M908.03 1770.42h0M1215.82 1898.91h0M1182.84 1993.91h0M1067.64 1751.03h0M1075.36 1756.96h0M788.05 1798.8h0M1086.62 1893.34h0M1172.04 1816.94h0M745.77 1749.8h0M938.46 1761.24h0M908.06 1892.38h0M732.64 1765.1h0M939.84 1995.91h0M812.17 1951h0M900.04 1858.77h0M723.74 1887.98h0M1104 1797.02h0M906.65 1761.32h0M1050.2 1991.67h0M894.66 1916.59h0M876.76 1912.37h0M874.01 1982.9h0M820.26 1917.52h0M899.57 1747.83h0M1141.49 1869.76h0M729.48 1881.72h0M760.8 1984.75h0M932.25 1861.19h0M1057.84 1991.45h0M804.67 1997.46h0M1023.34 1766.28h0M904.45 1868.89h0M1173.57 1768.58h0M894.6 1750.66h0M924.05 1902.27h0M987.32 1910.92h0M1058.35 1757.02h0M1213.84 1954.33h0M832.06 1758.96h0M975.04 1759.14h0M949.07 1758.07h0M799.45 1819.01h0M919.12 1879.81h0M879.26 1778.66h0M861.85 1841.83h0M1044.49 1897.22h0M1207.91 1873.74h0M1093.3 1900.15h0M961.95 1970.38h0M931.52 1981.31h0M1042.3 1870.49h0M803.38 1972.48h0M970.01 1974.06h0M989.59 1941.48h0M936.61 1750.11h0M745.24 1810.28h0M1083.12 1953.81h0M1044.89 1942.07h0M727.71 1767.36h0M796.31 1757.67h0M1207.88 1955.71h0M866.52 1847.49h0M1197.3 1931.93h0M1078.74 1943.94h0M1121.39 1983.95h0M802.58 1871.07h0M1119.72 1998.18h0M740.82 1790.97h0M1208.78 1786.23h0M1045.17 1998.4h0M1067.17 1932.21h0M1178.36 1748.21h0M732.74 1827.25h0M718.33 1850.61h0M811.52 1911.24h0M1018.47 1900.48h0M747.95 1751.55h0M782.74 1830.57h0M1130.46 1739.27h0M814.1 1819.64h0M1138.72 1925.66h0M1114.64 1904.67h0M1057.37 1732.09h0M956.15 1863.12h0M994.03 1868.05h0M1175.68 1984.74h0M1003.16 1948.63h0M839.62 1881.04h0M772.06 1869.64h0M1099.75 1800.6h0M1120.24 1820.46h0M897.56 1756.06h0M927.97 1726.94h0M992.56 1761.59h0M717.35 1978.03h0M1138.95 1950.14h0M1083.24 1876.77h0M1143.83 1897.39h0M931.08 1943.77h0M851.9 1795.24h0M1030.83 1998.82h0M890.85 1842.78h0M735.31 1850.27h0M1107.93 1773.63h0M805.15 1756.58h0M1140.84 1904.42h0M1041.62 1794.45h0M954.78 1815.98h0M1027.19 1911.7h0M725.32 1993.55h0M766.8 1931.05h0M930.48 1812.76h0M1198.45 1862h0M1013.43 1883.72h0M1065.97 1978.16h0M1201.5 1824.86h0M815.06 1950.11h0M1050.39 1821.62h0M1126.22 1931.24h0M794.96 1997.53h0M1191.5 1976.54h0M726.46 1827.08h0M723.27 1902.94h0M1151.73 1978.43h0M1088.11 1779.6h0M766.96 1856.14h0M1145.2 1976.53h0M1209.6 1854.53h0M993.96 1822.62h0M815.45 1842.17h0M1058.75 1952.78h0M1072.21 1748.27h0M805.01 1790.22h0M1017.94 1792.98h0M948.59 1931.73h0M904.11 1818.58h0M732.87 1755.82h0M877.6 1936.67h0M846.62 1894.46h0M781.78 1898.04h0M944.24 1912.53h0M910.17 1748.58h0M960.26 1910.16h0M780.04 1891.41h0M1080.67 1969.07h0M1075.22 1855.83h0M1215.47 1948.62h0M1070.46 1815.44h0M946.59 1924.32h0M993.69 1870.46h0M1165.93 1912.1h0M926.3 1790.17h0M1097.11 1859.91h0M811.22 1973.71h0M1202.18 1876.26h0M1164.63 1904.12h0M1216.92 1985.17h0M925.48 1798.86h0M818.74 1806.82h0M872.04 1764.9h0M1148.55 1968.34h0M1163.26 1989.32h0M775.81 1864.03h0M1069.31 1779.6h0M936.8 1940.47h0M871.49 1971.53h0M764.15 1875.89h0M1189.17 1884.99h0M1147.28 1791.3h0M1175.35 1909.48h0M914.6 1813.73h0M742.15 1843.79h0M824.79 1728.52h0M721.98 1988.99h0M1029.8 1804.15h0M982.92 1870.06h0M1009.16 1915.83h0M853.52 1873.56h0M788.76 1829.19h0M893.3 1886.18h0M902.49 1950.18h0M731.23 1780.3h0M773.16 1780.51h0M772.09 1887.08h0M1154.84 1799.46h0M1173.89 1923.74h0M995.44 1751.49h0M1140.25 1895.32h0M748.21 1962.39h0M1152.98 1780.16h0M920.94 1876.94h0M742.34 1767.26h0M722.16 1795.7h0M1001.54 1831.72h0M906.42 1886.88h0M1022.82 1737.18h0M844.33 1796.69h0M896.7 1814.58h0M926.64 1786.05h0M1095.55 1936.31h0M761.44 1786.37h0M953.59 1957.02h0M721.08 1801.87h0M1115.08 1989.76h0M1021.22 1898.44h0M1066.02 1926.31h0M1175.76 1929.81h0M948.52 1953.18h0M744.05 1963.97h0M1131.47 1955.22h0M904.84 1872.79h0M1079.85 1805.24h0M1047.96 1963.3h0M1091.06 1952.33h0M1030.48 1899.7h0M765.75 1763.43h0M964.81 1976.3h0M796.06 1727.99h0M798.65 1949.57h0M1201.26 1869.66h0M1180.98 1997.87h0M867.04 1790.36h0M1077.35 1724.96h0M1045.75 1900.51h0M888.31 1836h0M734.52 1884.35h0M1005.39 1796.69h0M789.49 1956.49h0M885.46 1860.34h0M756.71 1933.03h0M1154.53 1874.04h0M1097.38 1858.68h0M730.6 1832.48h0M1155.88 1815.85h0M1180.92 1861.33h0M871.69 1727.63h0M953.82 1854.06h0M1088.04 1750.35h0M969.31 1999.97h0M831.31 1996.75h0M1202.48 1861.8h0M1036.89 1827.52h0M1184.19 1990.61h0M973.25 1986h0M1045.87 1937.21h0M1128.81 1980.56h0M1124.05 1950.03h0M838.4 1851.41h0M1156.27 1894.19h0M1043.69 1765.81h0M826.83 1855.48h0M817.44 1746.93h0M812.46 1853.99h0M790.81 1879.84h0M1020.28 1990.84h0M815.93 1975.97h0M732.09 1758.31h0M804.15 1736.92h0M861.91 1922.59h0M1149.97 1946.05h0M874.67 1869.06h0M910.12 1994.78h0M1193.76 1869.9h0M743.47 1878.55h0M923.56 1978.29h0M1126.77 1991.49h0M826.88 1747.73h0M1069.18 1974.37h0M840.73 1826.2h0M866.7 1946.47h0M1188.91 1866.99h0M1005.83 1826.04h0M716.01 1737.64h0M969.71 1967.44h0M947.45 1859.98h0M993.48 1939.56h0M1023.07 1861.49h0M935.21 1925.1h0M1143.06 1804.34h0M925.42 1851.09h0M906.08 1919.51h0M879.84 1831.47h0M982.92 1956.07h0M1096.99 1758.25h0M802.2 1745.49h0M758.32 1858.02h0M1031.39 1724.34h0M937.12 1844.36h0M1071.22 1882.88h0M1092.02 1939.1h0M1064.93 1840.89h0M1026.78 1738.31h0M1092.8 1752.25h0M1193.71 1996.59h0M1121.85 1728.51h0M1215.32 1827.38h0M1130.39 1753.68h0M842.44 1972.59h0M865.35 1800.2h0M1039.12 1895.12h0M900.43 1857.16h0M964.87 1962.9h0M1104.64 1799.7h0M1039.87 1847.96h0M1215.34 1807.71h0M1104.13 1873.5h0M941.45 1760.04h0M1092.26 1773.98h0M1186.21 1774.07h0M800.62 1838.66h0M1162.31 1830.62h0M1066.53 1964.89h0M1099.02 1733.89h0M968.93 1881.59h0M1040.96 1940.02h0M899.02 1967.32h0M1122.48 1846.94h0M1216.58 1896.58h0M909.34 1898.04h0M1093.49 1942.66h0M745.06 1894.55h0M739.65 1973.99h0M864.29 1833.8h0M741.9 1810.47h0M900.66 1850.71h0M1178.94 1772.38h0M984.04 1834.75h0M1190.83 1761.99h0M1136.27 1943.37h0M1002.61 1790.26h0M940.23 1772.01h0M1195.48 1874.79h0M1212.74 1986.86h0M1164.71 1739.06h0M997.32 1974.6h0M1043.99 1734.54h0M734.61 1742.35h0M1156.59 1767.74h0M1134.99 1904.83h0M765.96 1875.53h0M821.56 1936.62h0M967.29 1781.54h0M742.89 1915.09h0M1024.88 1863.02h0" stroke="#58299c" stroke-width="2.4" stroke-linecap="round" fill="none" opacity="0.7"/>
<rect x="716.8" y="1992.6" width="27" height="3.2" fill="#fff"/>
</g>
<rect x="713.8" y="1724" width="505.3" height="276.2" fill="none" stroke="#2a2030" stroke-width="1.8"/>
<g clip-path="url(#cp_mc)">
<rect x="1259.3" y="1414.6" width="508.7" height="279.6" fill="#dedcdc"/>
<path d="M1271.95 1467.78L1286.76 1478.27L1293.93 1468.02L1291.11 1457.75L1289.73 1457.04L1276.51 1460.47ZM1287.16 1517.07L1297.52 1527.18L1308.27 1524.79L1311.37 1516.5L1308.28 1511.51L1297.78 1507.7L1296.26 1510.22L1293.37 1512.53L1290.74 1513.44L1287.55 1513.49ZM1719.75 1584.37L1734.92 1581.7L1737.23 1578.11L1737.13 1569.67L1719.66 1577.39ZM1391.64 1634.23L1403.88 1646.35L1414.56 1639.11L1415.07 1637.22L1402.44 1624.59ZM1652.11 1685.26L1661.16 1689.41L1667.92 1684.26L1663.96 1671.07L1659.85 1668.84L1652.08 1675.2ZM1707.6 1476.28L1716.49 1493.29L1723.17 1495.33L1726.75 1494.22L1725.16 1467.29L1724.43 1467L1711.11 1471.29ZM1664.93 1656.24L1669.5 1658.72L1685.7 1649.25L1682.69 1637.25L1663.27 1649.38ZM1534.58 1630.13L1551.78 1628.25L1548.43 1619.68L1530.3 1614.26L1528.98 1617.08ZM1530.26 1452.89L1533.19 1459.08L1547.91 1464.67L1555.68 1449.55L1553.85 1446.03L1543.45 1441.39ZM1443.81 1525.66L1457.68 1518.65L1452.96 1501.5L1439.94 1509.38ZM1555.44 1504.67L1568.45 1495.64L1568.69 1493.51L1554.09 1484.4L1546.87 1496.07ZM1381.19 1507.23L1399.12 1508.55L1405.6 1499.85L1387 1490.53L1380.4 1497.13ZM1596.36 1531.47L1606.22 1529.49L1600.93 1523.4L1599.16 1520.2L1596.96 1521.25ZM1724.69 1624.7L1732.64 1615.36L1730.76 1606.54L1719.43 1608.13L1716.45 1620.13ZM1500.48 1615.74L1516.79 1611.27L1519.6 1605.28L1518.72 1600.88L1497.98 1598.75ZM1557.53 1552.63L1573.37 1555.9L1580.52 1542.91L1561.33 1541.21ZM1705.14 1557.84L1713.94 1565.15L1731.37 1557.45L1726.46 1544.48L1719.59 1541.15L1709.71 1544.18ZM1591.7 1415.35L1594.91 1417.32L1601.47 1415.35ZM1753.68 1418.43L1762.31 1415.35L1756.74 1415.35L1754.24 1416.09ZM1287.27 1649.97L1290.89 1653.96L1292.72 1658.13L1294.7 1652.2ZM1306.76 1463.76L1326.06 1468.84L1321.88 1448.9L1317.23 1447.74L1304.64 1456.04ZM1260.05 1449.1L1260.05 1461.35L1264.11 1454.84ZM1326.78 1600.34L1335.85 1608.1L1345.39 1591.39L1343.31 1582.63L1333.48 1584.39ZM1347.08 1429.98L1349.91 1429.88L1353.14 1430.69L1360.03 1435.85L1365.69 1421.65L1356.78 1415.35L1346.76 1415.54ZM1353.92 1567.12L1362.6 1565.35L1374.38 1549.04L1372.1 1546.79L1351.67 1549.98ZM1677.72 1494.09L1677.69 1496.41L1688.67 1507.88L1703.18 1496.97L1695.8 1482.85L1685.85 1483.67ZM1592.47 1472.71L1600.04 1472.24L1606.97 1464.67L1607.24 1461.16L1593.05 1451.8L1586.55 1456.3ZM1575.85 1684.37L1591.42 1685.28L1599.19 1678.51L1591.62 1665.62L1584.97 1665.29L1574.32 1681.01ZM1469.87 1642.21L1469.98 1642.97L1479.68 1648.74L1494.07 1646.08L1490.79 1630.33L1474.43 1633.43ZM1295.36 1492.46L1309.61 1497.63L1317.97 1482.07L1318.08 1480.7L1304.11 1477.02L1295.24 1489.69ZM1415.95 1671.24L1425.4 1675.44L1435.65 1668.74L1429.91 1662.82L1427.74 1666.54L1424.94 1668.99L1421.55 1670.54ZM1636.51 1603.26L1642.81 1604.91L1644.65 1604.16L1651.21 1589.29L1642.5 1574.27L1631.52 1594.93ZM1323.42 1684.16L1334.31 1693.45L1345.77 1693.45L1348.17 1687.4L1336.23 1675.65ZM1508.62 1480.06L1512.57 1480.94L1520.75 1464.36L1518.58 1459.78L1500.29 1465.42ZM1560.84 1614.34L1565.28 1625.7L1582.36 1615.25L1582.36 1611.66L1566.51 1601.69ZM1260.05 1614.19L1262.72 1614.34L1265.18 1615.01L1264.49 1613.03L1260.05 1611.32ZM1566.85 1441.76L1567.91 1443.8L1577.19 1446.36L1586.39 1439.99L1587.01 1428.31L1581.37 1424.85ZM1646.73 1535.11L1644.7 1532.01L1639.59 1533.27L1644.94 1538.73ZM1260.05 1554.48L1262.25 1549.73L1260.05 1545.79ZM1685.69 1555.59L1692.1 1554.26L1696.78 1540.25L1687.18 1529.16L1676.37 1538.24ZM1411.64 1530.68L1430.57 1528.34L1426.5 1511.2L1416.74 1507.51L1409.44 1517.29ZM1471.25 1517.1L1474.47 1518.33L1468.72 1497.28L1465.86 1497.5ZM1523.33 1518.3L1523.69 1519.35L1546.58 1518.21L1547.21 1515.53L1535.68 1503.96L1527.57 1504.42ZM1529.71 1564.12L1532.24 1582.49L1545.76 1579.32L1545.01 1562.85ZM1742.38 1501.93L1754.28 1517.11L1759.18 1517.61L1761.5 1503.49L1753.68 1498.33ZM1505.93 1558.52L1518.13 1556.45L1512.47 1542.35L1501.84 1545.44ZM1525.94 1490.99L1534.43 1490.51L1542.71 1477.14L1531.58 1472.92L1524.05 1488.18ZM1403.89 1693.45L1418.52 1693.45L1418.95 1687.35L1407.75 1682.37L1402.19 1691.96ZM1296.42 1445.29L1308.09 1437.59L1303.01 1420.52L1293.15 1430.6ZM1263.8 1431.03L1275.03 1446.91L1282.52 1444.96L1280.06 1433.92L1264.97 1429.73ZM1586.05 1568.13L1595.95 1571.68L1600.24 1562.99L1591.63 1550.72L1584.35 1563.95ZM1260.05 1491.49L1261.55 1491.51L1281.9 1493.77L1281.79 1491.29L1262.28 1477.48L1260.05 1480.91ZM1484.74 1678.81L1486.43 1679.72L1498.72 1674.44L1494.89 1659.66L1485.05 1661.48ZM1506.98 1641.86L1520.72 1640.2L1522.77 1636.84L1517.7 1625.02L1504.25 1628.71ZM1485.34 1477.16L1489.87 1489.24L1495.58 1484.44L1488.54 1472.06ZM1376.74 1615.58L1383.49 1623.42L1393.86 1614.16L1382.94 1606.32L1378.16 1608.89ZM1738.89 1470.73L1739.94 1488.53L1748.77 1485.72L1750.41 1476.41Z" fill="#c76ccb" stroke="#c76ccb" stroke-width="11" stroke-linejoin="round"/>
<path d="M1548.17 1428.71L1556.91 1432.61L1568.98 1418.56L1562.81 1415.35L1547.53 1415.35L1545.72 1416.93ZM1469.1 1591.4L1486.31 1588.95L1484.99 1578.07L1467.18 1574.4L1463.27 1578.46ZM1439.18 1429.31L1450.73 1430.05L1452.68 1427.43L1447.98 1415.35L1436.19 1415.35L1434.11 1420.26ZM1351.07 1671.31L1357.69 1677.82L1361.13 1676.44L1363.18 1672.52ZM1696.28 1519.05L1706.63 1531L1713.86 1528.78L1715.93 1507.23L1713.13 1506.38ZM1541.96 1693.45L1563.14 1693.45L1564.06 1691.07L1561.66 1685.79L1554.88 1683.45ZM1389.69 1549.51L1404.69 1563.08L1405.63 1562.5L1404.19 1542.76ZM1595.86 1615.42L1599.75 1618.02L1595.88 1610.29L1595.86 1610.31ZM1296.15 1549.94L1302.37 1561.26L1306 1560.67L1313.21 1543.97L1309.92 1538.25L1300.26 1540.4ZM1756.6 1671.79L1763.66 1680.2L1767.25 1679.43L1767.25 1667.82L1761.94 1671.12ZM1441.98 1624.27L1459.83 1632.26L1462.5 1627.11L1457.16 1614.43L1444.1 1617.08ZM1724.36 1419.72L1740.36 1415.35L1721.68 1415.35ZM1670.85 1556.49L1663.49 1542.78L1658.37 1542.03L1655.02 1548.8L1664.6 1557.53ZM1270.9 1681.01L1271.64 1685.12L1275.36 1688.36L1286.24 1673.32ZM1620.83 1631.12L1626.92 1634.05L1629.08 1636.57L1630.58 1640.35L1640.84 1637.04L1637.38 1617.45L1634.32 1616.65ZM1407.31 1441.53L1420.55 1443.74L1427.03 1435.25L1422.74 1427.59L1406.69 1428.27ZM1659 1605.07L1675.12 1609.8L1677.94 1600.58L1668.07 1594.51L1663.4 1595.1ZM1393.8 1478.84L1409.23 1486.57L1416.3 1466.36L1405.73 1464.21ZM1574.84 1638.98L1584.91 1651.77L1592.25 1652.13L1596.11 1646.73L1577.99 1640.69ZM1435.47 1446.43L1451.32 1450.4L1449 1443.46L1438.26 1442.78ZM1511.94 1586.62L1519.28 1587.37L1516.94 1570.34L1511.5 1571.27L1513.61 1575.6L1514.33 1578.84L1513.78 1583.23ZM1321.36 1434.85L1326.35 1436.09L1333.6 1431.22L1333.26 1415.35L1322.73 1415.35L1316.51 1418.47ZM1767.25 1554.28L1762.44 1560.33L1767.25 1564.31ZM1711.38 1665.63L1722.98 1673.91L1736.93 1663.14L1737.23 1658.69L1728.92 1653.16L1711.09 1663.93ZM1602.6 1693.45L1613.85 1693.45L1608.9 1687.95ZM1304.49 1665.51L1315.32 1673.34L1329.16 1664.14L1307.64 1656.08ZM1374.14 1436.89L1381.67 1436.21L1393.66 1438.74L1393.01 1424.48L1390.28 1421.37L1378.99 1424.75ZM1690.8 1417.24L1696.53 1430.41L1711.35 1424.32L1705.85 1415.35L1696.76 1415.35ZM1348.94 1510.51L1367.82 1509.49L1367.04 1499.55L1352.48 1494.7ZM1410.55 1575.33L1418.59 1591.91L1424.91 1591.51L1431.16 1577.51L1428.5 1574.53L1414.25 1573.05ZM1338.66 1463.17L1342.07 1460.45L1345.83 1454.18L1340.05 1448.33L1338 1444.53L1335.16 1446.44ZM1599.9 1440.15L1613.22 1448.93L1621.97 1439.47L1611.3 1426.49L1600.45 1429.75ZM1513.93 1426.99L1523.64 1440.76L1534.85 1430.98L1532.45 1419.44L1521.81 1415.38L1516.21 1418.85ZM1320.58 1505.73L1322.46 1508.77L1335.68 1507.92L1340.35 1487.06L1339.28 1485.23L1328.68 1490.66ZM1635.23 1660.78L1644.11 1664.28L1651.52 1658.21L1649.63 1650.43L1647.52 1649.06L1634.65 1653.22ZM1320.74 1529.98L1324.98 1537.38L1339.91 1539.71L1338.26 1521.29L1323.64 1522.23ZM1699.47 1648.64L1704.18 1652.34L1721.38 1641.95L1720.37 1637.75L1707.92 1630.83L1695.95 1634.64ZM1620.61 1463.31L1633.72 1469.23L1638.32 1467.39L1641.97 1464.53L1643.85 1459.49L1630.45 1450.18L1620.83 1460.58ZM1420.73 1494.58L1431.55 1498.68L1447.51 1489.02L1442.49 1477.26L1428.04 1473.67ZM1376.56 1648.37L1380.39 1648.75L1386.6 1648.23L1382.21 1643.89ZM1441.75 1603.78L1456.6 1600.77L1457.58 1598.71L1450.78 1583.61L1443.39 1583.24L1437.14 1597.24ZM1558.4 1670.39L1563.92 1672.29L1573.15 1658.66L1563.95 1646.98L1555.22 1664.18ZM1427.94 1641.37L1444.03 1658L1456.09 1645.38L1434.42 1635.68L1428.45 1639.51ZM1641.65 1497.76L1649.4 1505.46L1663.9 1495.66L1649.64 1488.33L1646.71 1488.41L1644.53 1489.28ZM1650.98 1616.79L1654.64 1637.59L1655.63 1638.23L1675.81 1625.64L1674.9 1623.8ZM1380.11 1520.69L1381.01 1536.62L1382.42 1538.01L1397.97 1530.77L1396.52 1521.9ZM1730.26 1688.07L1737.07 1693.45L1749.67 1693.45L1752.81 1688.28L1742.46 1675.93L1730.1 1685.48ZM1452.01 1536.64L1463.81 1545.25L1474.26 1535.42L1473.16 1532.28L1466.03 1529.55ZM1744 1603.89L1745.76 1612.15L1755.34 1615.66L1755.81 1615.02L1745.77 1603.54ZM1353.14 1536.09L1367.33 1533.87L1366.72 1523.07L1352.04 1523.86ZM1346.38 1616.9L1347.78 1617.81L1363.63 1612.32L1364.61 1607.7L1354.99 1601.81ZM1629.03 1690.14L1638.61 1685.41L1638.59 1676.61L1630.14 1673.29L1621 1681.2ZM1681.06 1681.06L1685.24 1681.98L1697.99 1667.46L1697.45 1664.22L1692.92 1660.67L1677.62 1669.61ZM1559.42 1471.81L1575.23 1481.68L1579.9 1477.67L1573.28 1459.28L1566.78 1457.49ZM1526.62 1684.86L1530.02 1685.62L1545.07 1673.97L1543.06 1670.04L1534.64 1668.05L1525.41 1683.01ZM1376.61 1459.4L1385.02 1468.23L1390.72 1461.25L1379.88 1458.93ZM1489.42 1427.57L1500.98 1423.16L1502.28 1418.55L1494.14 1415.35L1487.65 1415.35L1484.66 1423.07Z" fill="#c468c8" stroke="#c468c8" stroke-width="11" stroke-linejoin="round"/>
<path d="M1494.54 1453.07L1512 1447.68L1504.07 1436.43L1494.6 1440.04ZM1762.12 1487.73L1767.25 1491.11L1767.25 1475.21L1764.03 1476.97ZM1757.78 1464.99L1767.25 1459.83L1767.25 1449.51L1765.36 1446.07L1759.56 1443.9L1746.55 1459.45ZM1611.01 1671.99L1621.83 1662.63L1621.16 1653.79L1616.99 1653.64L1609.51 1651.2L1603.64 1659.41ZM1304.53 1628.67L1315.17 1631.86L1328.22 1619.35L1316.65 1609.44L1312 1610.2ZM1587.61 1599.02L1595.78 1588.82L1594.31 1585.43L1582.95 1581.36L1574.54 1590.79ZM1767.25 1630.7L1767.25 1622.43L1767.11 1622.43L1765.32 1624.91ZM1611.39 1598.88L1618.62 1613.32L1618.73 1613.57L1623.73 1608.21L1619.4 1600.96ZM1654.65 1522.55L1658.48 1528.4L1665.81 1529.48L1679.58 1517.91L1669.96 1507.86L1655.03 1517.95ZM1495.83 1505.93L1511.68 1510.22L1515.09 1499.05L1512.17 1494.69L1506.01 1493.31L1495.1 1502.48ZM1330.11 1571.28L1340.6 1569.4L1338.47 1553.15L1324.87 1551.02L1319.19 1564.19ZM1451.48 1669.75L1459.21 1677.5L1466.52 1678.28L1471.26 1677.28L1471.59 1659.64L1464.93 1655.67ZM1606.77 1580.25L1608.47 1584.16L1620.31 1587.25L1631.05 1567.04L1628.54 1565.74L1612.59 1568.46ZM1727.32 1529.89L1730.81 1531.58L1741.42 1522.59L1729.58 1507.48ZM1352.06 1480.34L1371.6 1486.84L1378 1480.44L1363.98 1465.7L1350.72 1478.05ZM1442.26 1569.66L1452.51 1570.18L1458.04 1564.44L1457.75 1557.54L1444.57 1547.92L1439.31 1566.36ZM1457.12 1477.16L1460.39 1484.8L1463.8 1484.15L1462.35 1480.3ZM1358.49 1588.13L1372.42 1596.65L1377.29 1594.03L1378.14 1588.53L1364.91 1578.65L1356.65 1580.34ZM1507.72 1655.37L1512.43 1673.52L1514.76 1674.56L1523.32 1660.69L1520.12 1657.83L1518.48 1654.07ZM1269.92 1415.35L1269.82 1417.07L1283.73 1420.93L1289.18 1415.35ZM1260.05 1510.43L1260.05 1524.56L1260.62 1525.44L1273.7 1515.91L1274.13 1512ZM1260.05 1577.19L1260.05 1596.86L1268.09 1599.96L1281.82 1585.9ZM1687.03 1577.67L1688.13 1578.77L1703.41 1586.41L1706.27 1586.05L1706.14 1576.22L1695.46 1567.35L1689.24 1568.64ZM1638.5 1439.34L1653.12 1449.49L1658.66 1447.74L1655 1426.22ZM1295.91 1583.72L1295.95 1584.84L1309.29 1596.97L1313.87 1596.21L1320.27 1580.99L1309.24 1573.82L1302.51 1574.91ZM1374.81 1679.41L1387.98 1687.83L1389.16 1687.53L1397.46 1673.19L1397.3 1672.79L1377.62 1674.02ZM1753.45 1578L1759.14 1577.37L1763.33 1578.6L1750.61 1568.46L1750.71 1575.95ZM1497.59 1520.39L1499.06 1532.19L1511.14 1528.68L1511.87 1526.43L1511.03 1524.03ZM1745.11 1555.61L1749.43 1555L1757.71 1544.59L1755.71 1530.83L1752.92 1530.54L1739.82 1541.64ZM1523.63 1533.92L1530.29 1550.52L1544.39 1549.36L1549.32 1534.52L1547.89 1531.66L1523.98 1532.85ZM1582.28 1493.42L1581.86 1497.18L1592.11 1508.61L1593.17 1508.1L1592.44 1503.98L1593.29 1499.8L1600.92 1489.54L1599.1 1485.82L1590.51 1486.35ZM1630.43 1428.5L1646.58 1415.66L1646.42 1415.35L1621.83 1415.35L1621.21 1417.29ZM1360.3 1693.45L1371.7 1693.45L1365.25 1689.33L1361.3 1690.92ZM1493.58 1693.45L1513.21 1693.45L1514.57 1691.09L1512.85 1688.5L1506.66 1685.73L1493.36 1691.44ZM1286.81 1573.35L1290.73 1568.11L1284.56 1556.87L1274.04 1556.39L1269.46 1566.3ZM1410.43 1613.49L1423.55 1626.61L1428.08 1623.7L1431.38 1612.5L1426.07 1604.97L1417.66 1605.5ZM1385.74 1577.36L1394.33 1571.91L1382.34 1561.07L1375.89 1570ZM1281.67 1621.19L1288.05 1623.58L1291.77 1624.21L1299.15 1605.99L1289.57 1597.28L1277.58 1609.57ZM1698.09 1693.45L1710.39 1693.45L1716.75 1688.4L1716.6 1685.95L1706.23 1678.54L1696.05 1690.14ZM1559.1 1523.88L1560.97 1527.62L1582.95 1529.57L1583.55 1519.29L1573.77 1508.38L1560.62 1517.51ZM1622.57 1508.92L1625.05 1516.65L1629.59 1521.83L1641.4 1518.91L1641.59 1516.73L1631.75 1506.95ZM1735.04 1641.02L1739.8 1644.19L1736.63 1631.5L1733.61 1635.05ZM1468.63 1606.89L1474.06 1619.76L1487.06 1617.3L1484.93 1602.79L1469.55 1604.97ZM1359.13 1639.84L1363.97 1641.11L1374.04 1633.14L1367.32 1625.33L1355.48 1629.43ZM1329.4 1636.92L1346 1643.55L1346.1 1643.46L1341.26 1629.67L1338.7 1628.01ZM1611.13 1555.02L1620.58 1553.4L1616.26 1541.24L1603.3 1543.84ZM1537.07 1643.44L1549.54 1645.55L1551.41 1641.87ZM1390.75 1595.31L1401.62 1603.11L1406.44 1597.79L1399.92 1584.35L1391.64 1589.61ZM1677.92 1456.72L1688.65 1452.13L1690.79 1450.52L1689.97 1449.04L1677.26 1455.61ZM1418.98 1559.97L1426.86 1560.79L1432.3 1541.73L1417.81 1543.83ZM1273.88 1542.87L1284.29 1543.35L1287.39 1536.15L1279.46 1528.42L1269.76 1535.49ZM1671.61 1443.33L1684.53 1436.66L1678.03 1421.74L1668.4 1424.48ZM1288.34 1693.45L1302.52 1693.45L1308.37 1684.98L1299.24 1678.37ZM1471.43 1561.49L1483.96 1564.07L1479.31 1549.2L1471.23 1556.8ZM1531.61 1596.51L1532.47 1600.82L1549.78 1606L1554.9 1594.59L1551.25 1591.9ZM1562.82 1583.66L1573.1 1572.12L1571.99 1569.4L1558.7 1566.65L1559.35 1581.1Z" fill="#ca72ce" stroke="#ca72ce" stroke-width="11" stroke-linejoin="round"/>
<rect x="1264.3" y="1685" width="26" height="3.4" fill="#111"/>
</g>
<rect x="1261.3" y="1416.6" width="504.7" height="275.6" fill="none" stroke="#2a2030" stroke-width="1.8"/>
<g clip-path="url(#cp_md)">
<rect x="1259.3" y="1722" width="508.7" height="280.2" fill="#dedcdc"/>
<path d="M1675.03 1972.22L1683.3 1975.61L1690.41 1971.27L1678.17 1954.95L1672.08 1957.04ZM1484.41 2004.5L1483.79 2001.48L1471.98 2001.45L1470.96 2004.5ZM1378.02 1980.56L1397.07 1975.8L1397.22 1974.19L1379.78 1972.47L1377.59 1974.82ZM1722.01 1989.84L1732.06 1991.84L1744.65 1981.08L1730.29 1971.54ZM1686.81 1815.67L1698.51 1805.68L1693.95 1793.71L1674.25 1793.58L1674.14 1809.18ZM1360.65 1788.91L1376.87 1809.76L1380.04 1805.81L1363.67 1787.95ZM1574.07 1820L1588.15 1832.79L1599.35 1825.36L1599.73 1822.71L1580.34 1807.51ZM1671.57 1750.95L1679.04 1759.5L1686.21 1759.83L1697.69 1749.02L1684.5 1735.89L1680 1737.33ZM1263.54 1972.03L1263.33 1981.07L1278.95 1987.02L1290.06 1979.42L1279.48 1970.16L1277.91 1968.12L1265.31 1969.56ZM1450.01 1891.97L1456.88 1898.85L1472.28 1900.47L1465.97 1879.1L1459.5 1879.76ZM1349.6 1892.51L1357.18 1900.09L1365.67 1887.36L1365.19 1885L1349.27 1888.83ZM1257 1880.45L1260.96 1884.21L1271.68 1868.42L1263.94 1860.95L1257 1863.32ZM1601.55 1757.12L1607.01 1769.4L1616.68 1769.43L1616.37 1752.58L1602.05 1755.92ZM1322.32 1934.78L1332.79 1932.8L1340.98 1918.1L1340.72 1916.57L1328.6 1913.28L1315.98 1924.18ZM1742.91 1817.81L1743.76 1825.59L1767.2 1826.91L1763.59 1806.11L1751.49 1807.14ZM1585.67 1874.69L1594.05 1870.06L1596.4 1861.84L1591.95 1857.89L1576.82 1867.48ZM1434.22 1730.79L1447.65 1724.41L1446.78 1719.7L1429.72 1719.7L1430.55 1729.15ZM1487.11 1786.19L1505.13 1794.98L1508.8 1794.25L1506.31 1770.96L1497.64 1769.06ZM1261.37 1826.63L1269.68 1833.08L1280.73 1831.32L1281.66 1830.4L1271.66 1818.76L1267.17 1810.76L1263.96 1811.4ZM1411.28 1966.53L1415.49 1969.24L1425.83 1965.37L1428.29 1964.99L1431.37 1965.92L1435.15 1968.72L1438.82 1962.5L1434.13 1950.57L1430.97 1948.62ZM1683.41 1925.69L1693.64 1919.08L1693.45 1912.48L1677.18 1906.64L1672.61 1921.5ZM1286.32 1936.25L1298.54 1920.61L1295.4 1915.74L1280.58 1911.25L1274.46 1925.48L1276.41 1931.97ZM1720.32 1843.1L1720.58 1856.4L1738.33 1863.4L1743.4 1855.41L1734.64 1839.08ZM1583.2 1896.99L1588.85 1903.09L1609.46 1891.04L1596.45 1877.19L1588.32 1881.68ZM1490.26 1839.36L1502.28 1850.88L1519.67 1843.43L1520.29 1832.82L1495.58 1828.48L1493.83 1829.5ZM1578.3 1719.7L1580.92 1721.82L1589.56 1735.59L1595.24 1726.53L1594.2 1723.49ZM1669.84 1847.3L1685.85 1848.86L1688.07 1839.56L1685.87 1836.73L1667.43 1843.45ZM1391.25 1767.49L1401.81 1777.05L1416.89 1776.33L1420.01 1766.24L1410.74 1756.11L1396.31 1757.86ZM1645.36 1913.71L1647.19 1914.21L1645.52 1908.38L1643.96 1911.81ZM1731.21 1962.12L1731.77 1963.64L1748.97 1975.07L1756.88 1962.1L1743.65 1947.7L1733.04 1955.19ZM1289.9 1780.3L1293.6 1793.54L1306.24 1798.1L1313.09 1796.58L1314.95 1773.3L1309.83 1767.85L1294.89 1772.05ZM1294.7 1877.69L1298.83 1877.65L1302.74 1859.46L1293.73 1858L1284.16 1867.88ZM1523.67 1786.45L1526.88 1803.08L1542 1800.41L1546.13 1792.85L1532.47 1783.94ZM1537.83 1778.6L1551.55 1787.55L1557.47 1785.59L1558.49 1778.55L1545.92 1761.91ZM1257 1832.61L1257 1855.5L1261.65 1853.91L1264.62 1838.52ZM1267.3 1780.95L1278.46 1800.96L1281.56 1800.34L1286.42 1795.33L1283 1783.09ZM1770.3 1843.94L1766.42 1852.75L1770.3 1857.76ZM1288.49 1719.7L1297.9 1730.21L1302.77 1730.37L1310.52 1724.54L1310.87 1719.7ZM1379.12 1955.49L1381.34 1965.18L1400.31 1967.06L1402.68 1965.51L1390.91 1938.82L1390.3 1938.9ZM1653.08 1885.52L1653.34 1886.46L1672.89 1895.67L1680.51 1883.99L1677.05 1870.04L1655.9 1879.33ZM1607.79 2004.5L1627.35 2004.5L1626.7 2001.97L1608.11 2003.79ZM1328.99 1730.53L1343.61 1721.91L1343.59 1719.7L1318.29 1719.7L1317.95 1724.4ZM1291.41 1961.91L1310.22 1978.36L1314.44 1977.28L1317.86 1964.58L1313.31 1953.88L1294.45 1954.35ZM1560.54 1850.45L1564.08 1853.87L1583.18 1845.68L1583.91 1838.94L1568.83 1825.23L1560.61 1829.02ZM1284.86 1739.17L1283.1 1743.33L1294.35 1764.52L1306.83 1761.01L1298.48 1754.98ZM1307.82 1827.14L1310.44 1828.99L1326.8 1819.68L1327.65 1816.38L1322.63 1805.95L1316.27 1803.45L1309.48 1804.96ZM1707.88 1750.03L1717.51 1764.42L1729.46 1758.49L1731.87 1747.65L1727.94 1742.98L1719.98 1741.57ZM1713.57 1875.24L1713.92 1879.04L1719.54 1880.46ZM1616.82 1892.48L1628.24 1908.82L1637.29 1908.61L1641.91 1898.46L1635.61 1885.86L1627.85 1884.05ZM1396.06 1803.02L1409.71 1812.2L1418.99 1802.57L1419.46 1786.08L1417.8 1783.69L1403.06 1784.4ZM1371.38 1873L1374.72 1861.31L1379.54 1849.95L1363.97 1854.97ZM1328.09 1863.45L1334.41 1871.64L1350.56 1850.93L1349.65 1849.7L1341.02 1847.19L1323.28 1854.92ZM1612.67 1790.39L1621.94 1779.84L1618.92 1776.83L1610.31 1776.81L1611.72 1780.41ZM1672.11 1786.17L1694.03 1786.31L1694.58 1784.96L1685.31 1767.2L1679.64 1766.93L1671.39 1785.45ZM1305.38 2004.5L1320.67 2004.5L1307.47 1994.47ZM1442.76 1790.12L1434.58 1804.43L1447.04 1808.88L1447.61 1791.23L1446.88 1790.42ZM1766.1 1930.03L1770.3 1932.94L1770.3 1920.62L1768.55 1921.14ZM1597.38 1946.16L1616.81 1945.71L1611.58 1928.57L1597.72 1926.04L1594.56 1943.23ZM1414 1845.21L1421.27 1847.86L1432.12 1838.59L1431.54 1836.68L1414.57 1827.75L1410.59 1831.73ZM1713.64 2004.5L1733.12 2004.5L1730.55 1999.08L1718.53 1996.69ZM1268.89 1855.45L1277.68 1863.93L1287.91 1853.37L1280.44 1838.86L1271.82 1840.23ZM1528.49 1810.31L1530.21 1818.07L1534.18 1824.42L1550.09 1822.96L1542.35 1807.86ZM1425.81 1932.67L1428.2 1934.59L1439.64 1917.81L1436.1 1904.98L1420.1 1909.84ZM1377.85 1924.35L1389.21 1931.58L1398.14 1906L1377.29 1907.34ZM1365.97 1925.22L1370.43 1923.75L1369.95 1909.3L1369.94 1909.32ZM1621.77 1734.06L1624.31 1742.35L1641.85 1743.18L1644.95 1719.7L1629.41 1719.78ZM1679.22 1899.51L1696.06 1905.55L1701.5 1899.87L1701.02 1892.79L1686.13 1888.91ZM1518.9 2002.82L1522.78 2001.92L1521.73 1999.54L1521.57 1996.47L1524.84 1983.03L1516.73 1983.01L1510.53 1994.92ZM1459.08 1987.99L1460.02 1971.82L1444.63 1967.21L1441.11 1973.18L1446.58 1977.81L1451.08 1988.79ZM1650.49 1767.37L1662.25 1781.87L1664.73 1782.22L1672.95 1763.77L1665.39 1755.14L1652.96 1755.91ZM1646.65 1849.12L1648.96 1855.19L1662.63 1849.72L1659.44 1844.63L1655.28 1843.25L1647.62 1846.4ZM1288.13 1837.64L1294.85 1850.68L1299.79 1851.48L1294.92 1845.4ZM1749 1942.59L1762.93 1957.74L1767.69 1957.15L1770.3 1951.16L1770.3 1941.94L1761.59 1935.9ZM1438.64 1834.6L1439.49 1837.41L1447.39 1842.17L1460.19 1840.25L1455.07 1817.26L1450.85 1815.36L1449.59 1815.83ZM1659.34 1836.8L1661.81 1837.62L1683.48 1829.73L1683.59 1822.34L1670.42 1815.59L1662.37 1819.72ZM1284.75 2004.45L1297.82 2004.5L1301.05 1989.04L1295.81 1984.45L1283.38 1992.95ZM1396.52 1750.38L1409.2 1748.84L1410.42 1743.84L1393.69 1741.63ZM1664.91 1719.7L1678.31 1730.11L1682.78 1728.67L1686.1 1721L1685.48 1719.7ZM1444.03 1905.89L1446.76 1915.77L1459.27 1921.13ZM1714.76 1936.8L1729.89 1948.35L1740.69 1940.73L1730.29 1920.37L1714.69 1932.54ZM1617.6 1804.65L1631.91 1807.91L1637.33 1803.33L1637.48 1802.11L1625.79 1786.68L1615.52 1798.36ZM1261.59 2004.5L1275.89 2004.5L1277.25 2004.03L1276.03 1993.83L1260.77 1988.02L1259.88 1989.14ZM1705.81 1968.69L1708.83 1979.05L1715.62 1985.99L1724.51 1966.38ZM1723.59 1804.93L1738.05 1812.05L1744.86 1803.58L1735.31 1791.58L1731.51 1792.13ZM1444.92 1886.46L1452.16 1877.14L1442.28 1870.72L1434.57 1873.16ZM1770.3 1784.27L1770.3 1763.75L1764.15 1760.39L1758.63 1772.61Z" fill="#c566ca" stroke="#c566ca" stroke-width="6" stroke-linejoin="round"/>
<path d="M1400.19 1725.57L1401.35 1719.7L1383.49 1719.7L1384.4 1725.73L1395.54 1727.12ZM1690.86 1831.09L1694.06 1835.22L1714.01 1837.71L1707.02 1811.91L1703.76 1810.93L1691 1821.82ZM1380.95 1993.18L1390.02 1998.9L1394.96 1998.44L1395.8 1989.47ZM1466.16 1756.53L1473.79 1758.06L1487.67 1755.28L1471.67 1749.33ZM1615.3 1854.18L1620.74 1856.13L1616.15 1847.3ZM1503.73 1869.3L1506.18 1873.06L1519.08 1877.01L1526.74 1871.68L1528.93 1856.53L1522.44 1850.29L1504.94 1857.79ZM1333.93 1821.69L1343.34 1840.16L1349.4 1841.92L1355.99 1820.35L1354.96 1819.32L1334.45 1819.64ZM1491.04 1999.98L1491.97 2004.5L1509.9 2004.5L1504.55 1999.45ZM1305.93 1879.83L1312.8 1885.2L1316.95 1885.33L1322.88 1880.66L1309.43 1863.54ZM1499.81 1932.83L1512.24 1941.55L1529.45 1926.71L1521.99 1910.6L1510.88 1912.79ZM1433.22 1829.2L1441.62 1814.8L1430.85 1810.96L1420.05 1822.27ZM1509.5 1905.52L1520.12 1903.43L1516.49 1883.95L1505.8 1880.68L1498.48 1896.26ZM1634.91 2004.5L1658.54 2004.5L1654.3 1999.8L1634.63 2003.17ZM1260.04 1764.42L1265.8 1773.28L1284 1775.76L1288.23 1768.77L1277.33 1748.24L1262.07 1754.73ZM1737.61 1742.98L1758.28 1743.16L1756.74 1734.1L1748.1 1731.36L1744.97 1728.25L1744.1 1723.93L1745.91 1719.7L1744.9 1719.7L1734.36 1739.12ZM1646.3 1967.95L1659.96 1976.89L1667.62 1972.89L1664.5 1956.83L1658.34 1952.83L1646.34 1954.42ZM1362.79 1735.32L1366.84 1733.29L1363.21 1730.52L1361.86 1726.49L1362.99 1722.39L1366.01 1719.7L1350.99 1719.7L1351.02 1722.55ZM1623.72 1749.73L1624.13 1771.57L1626.72 1774.17L1643.25 1765.82L1645.92 1753.47L1643.37 1750.66ZM1556.36 1971.91L1564.11 1964.9L1562.79 1952.51L1550.49 1950.69L1548.65 1952.93L1545.51 1965.46ZM1321.66 1978.92L1324.94 1981.47L1345.44 1979.73L1349.02 1974.02L1343.81 1962.99L1324.76 1967.41ZM1511.69 1732.16L1516.43 1734.19L1533.19 1724.13L1531.51 1719.7L1507.09 1719.7ZM1540.59 1722.77L1543.55 1722.04L1546.66 1719.7L1539.43 1719.7ZM1534.22 1871.66L1544.38 1876.62L1544.38 1872.22L1536.5 1858.43ZM1334.07 1745.16L1344.44 1751.25L1356.86 1744.8L1357.87 1740.9L1346.64 1728.72L1333.02 1736.75ZM1472.58 1736.57L1473.64 1742.17L1489.82 1748.19L1504.47 1733.99L1500.62 1724L1479.82 1726.56ZM1518.15 1946.22L1531.72 1955.75L1536.76 1935.6L1534.41 1932.21ZM1416.25 1751.16L1424.93 1760.66L1434.69 1755.28L1433.11 1747.63L1417.74 1745.06ZM1491.4 1822.34L1499.97 1800.7L1484.97 1793.38L1478.33 1809.19ZM1656.46 1896.11L1663.06 1918.56L1665.56 1919.25L1670.62 1902.78ZM1567.83 1924.16L1576.36 1918.75L1572.5 1918.36L1563.82 1921.25ZM1535.73 2003.54L1536.37 2004.5L1556.28 2004.5L1559.02 1999.78L1553.4 1993.6L1539.06 1997.52ZM1294.29 1946.95L1313.25 1946.48L1316.33 1939.18L1308.75 1926.51L1304.4 1925.12L1291.76 1941.31ZM1741.43 1787.39L1751.26 1799.74L1764.73 1798.58L1768.86 1793.29L1752.99 1777.42L1747.1 1778.57ZM1257 1745.2L1259.64 1747.72L1276.18 1740.69L1279.24 1733.45L1276.98 1729.46L1274.94 1723.51L1259.73 1720.18L1257 1722.84ZM1262.72 1935.31L1261.42 1930.98L1257 1928.73L1257 1942.25L1257.86 1942.36ZM1571.42 1943.15L1587.42 1941.1L1590.79 1922.79L1588.37 1919.95L1571.39 1930.67ZM1734.51 1894.83L1736.24 1905.67L1743.24 1903.56ZM1630.45 1780.58L1641.95 1795.75L1655.12 1784.82L1645.5 1772.97ZM1280.95 1903.42L1296.03 1908.2L1306.67 1889.8L1300.56 1885.03L1295.09 1885.08ZM1466.38 1989.86L1470.8 1994.04L1485.02 1994.08L1486.18 1972.68L1474.14 1965.48L1467.49 1970.95ZM1701.04 1919.12L1703.97 1921.21L1708.26 1914.56L1710.34 1913.32L1712.74 1912.96L1715.08 1913.55L1717.41 1915.47L1718.45 1917.66L1718.55 1920.14L1726.65 1913.82L1706.25 1905.62L1700.82 1911.29ZM1338.45 1766.16L1340.19 1757.33L1330.83 1751.83L1325.95 1755.32L1331.77 1759.51ZM1446.92 1864.91L1458.48 1872.42L1465.35 1871.73L1465.72 1848.01L1464.04 1847.15L1449.78 1849.3ZM1570.05 1950.79L1571.44 1963.86L1587.8 1971.08L1591.83 1951.07L1589.2 1948.34ZM1528.94 1908.01L1536.36 1924.02L1540.09 1922.27L1541.23 1917.71L1543.19 1902.03ZM1674.57 1930.2L1681.64 1937.26L1680.63 1932.55ZM1423.73 1779.27L1425.22 1781.4L1431.9 1781.9L1442.31 1767.9L1447.01 1763.13L1439.36 1761.16L1427.26 1767.82ZM1720.99 1864.52L1734.09 1876.08L1737.08 1872.74L1736.63 1870.69ZM1381.54 1815.76L1393.3 1829.91L1405.16 1818.05L1390.74 1808.36L1386.93 1809.05ZM1628.24 1828.33L1629.01 1814.84L1616.21 1811.92L1614.79 1813.73L1615.02 1816.3L1622.21 1829.24ZM1391.75 1869.73L1391.4 1862.49L1391.32 1862.4L1388.5 1870.38ZM1659.79 1994.84L1668.51 2004.5L1673.21 2004.5L1681.47 1999.13L1680.12 1982.31L1671.97 1978.97L1662.88 1983.71ZM1265.8 1943.89L1263.55 1947.15L1266.28 1962L1274.39 1961.07ZM1265.82 1900.69L1267.81 1903.41L1271.15 1914.44L1274.4 1906.87L1273.77 1905.59ZM1322.79 1890.15L1330.29 1906.07L1342.52 1909.39L1343.57 1908.01L1343.48 1907.08L1337.44 1901.01L1327.19 1886.69ZM1591.15 1840.85L1597.77 1836.43L1597.95 1835.17L1591.28 1839.59ZM1689.91 1730.84L1703.33 1744.19L1714.66 1736.27L1708.76 1720.35L1692.82 1724.1ZM1560.11 1892.91L1576.38 1894.05L1580.95 1880.39L1570.19 1871.62L1560.28 1877.28ZM1770.3 1736.79L1767.28 1737.12L1764.65 1736.48L1765.14 1739.32L1770.3 1738.03ZM1758.73 1898.67L1770.3 1903.3L1770.3 1894.58L1762.5 1890.85ZM1499.93 1821.73L1515.73 1824.5L1510.4 1801.48L1507.36 1802.08ZM1319.74 1950.12L1323.96 1960L1343.1 1955.56L1344.31 1952.25L1333.78 1940.14L1323.11 1942.16ZM1324.76 1798.83L1338.52 1788.48L1326.18 1776.14L1322.16 1775.89L1320.47 1797.15ZM1601.32 1871.56L1613.99 1885.05L1622.87 1878.53L1619.33 1863.49L1611.29 1860.6L1603.64 1863.43ZM1643.98 1871.14L1647.91 1879.01L1649.11 1876.39L1646.7 1870.05ZM1473.29 1877.75L1478.86 1896.6L1491.36 1894.01L1499.59 1876.5L1498.1 1874.21ZM1573.52 1744.65L1582.19 1762.78L1589.02 1764.92L1585 1755.88L1577.91 1744.53ZM1643.62 1947.32L1656.47 1945.62L1659.98 1935.5L1651.4 1926.88L1649.57 1922.53L1646.34 1921.65ZM1287.97 1815.24L1297.56 1826.21L1300.5 1825.75L1302.09 1804.47L1291.54 1800.67L1287.23 1805.13ZM1463.37 1937.72L1474.3 1946.61L1482.53 1939.41L1465.43 1926.59L1464.19 1927.6ZM1655.19 1871.56L1671.74 1864.29L1669.61 1860.89L1653.57 1867.3ZM1522.92 1778.97L1530.47 1776.82L1538.78 1759.68L1525.1 1756.33L1521.21 1761.85ZM1631.85 1996.14L1652.75 1992.56L1655.46 1982.79L1643.06 1974.67L1632.72 1984.82ZM1754.54 1980.14L1759.85 1985.36L1770.3 1985.22L1770.3 1965.4L1769.12 1964.43L1763.72 1965.1ZM1412.7 1729.4L1419.43 1730.52L1423.12 1729.15L1422.29 1719.7L1408.89 1719.7L1407.56 1726.49ZM1339.37 1877.31L1346.05 1882L1365.19 1877.38L1356.25 1855.67ZM1600.96 1748.57L1617.31 1744.77L1614.78 1736.52L1600.87 1731.48L1595.3 1740.37ZM1311.01 1744.66L1319.58 1750.78L1326.68 1745.7L1325.61 1737.12L1314.39 1730.88L1308.24 1735.51ZM1470.65 1912.62L1470.61 1907.81L1465.26 1907.22ZM1644.78 1803.41L1659.28 1812.99L1666.74 1809.16L1666.87 1791.39L1665.23 1789.77L1661.4 1789.22ZM1741.31 2004.5L1752.71 2004.5L1754.46 1990.44L1750.1 1986.16L1737.66 1996.79ZM1408.09 1959.43L1426.18 1942.97L1425.9 1942.23L1421.3 1938.54L1399.29 1939.48ZM1539.44 1989.75L1551.36 1986.49L1552.74 1978.37L1543.64 1972.95ZM1405.94 1843.5L1404.5 1837.82L1402.14 1840.18ZM1718.96 1773.81L1730.53 1784.79L1734.69 1784.2L1740.24 1775.56L1731.75 1765.62L1719.45 1771.72Z" fill="#c262c7" stroke="#c262c7" stroke-width="6" stroke-linejoin="round"/>
<path d="M1467.56 1730.89L1473.78 1722.28L1473.18 1719.7L1454.31 1719.7L1455.12 1724.13ZM1602.24 1724.11L1616.03 1729.1L1621.06 1719.7L1601.69 1719.7L1601.08 1720.76ZM1595.91 1982.17L1607.28 1996.44L1624.53 1994.74L1625.32 1984.57L1614.12 1973.44L1595.85 1980.93ZM1474.69 1772.77L1480.92 1782.12L1488.33 1770.06L1475.13 1772.71ZM1639.68 1846.62L1640.39 1844.65L1630.54 1835.47L1626.05 1836.15L1633.48 1850.15ZM1364.37 1934.97L1365.83 1946.66L1373.81 1950.13L1382.99 1936.51L1373.69 1930.47L1364.72 1933.41ZM1433.55 1941.52L1437.5 1943.95L1456.03 1936.76L1456.72 1928.09L1445.01 1923.07L1433.15 1940.46ZM1576.94 2004.5L1599.64 2004.5L1601.33 2000.84L1591.63 1988.68L1574.92 2001.38ZM1700.49 1790.07L1705.71 1803.78L1710.05 1805.09L1715.89 1803.31L1724.55 1789.32L1714.37 1779.66L1701.61 1787.31ZM1344.75 1772.46L1355.18 1782.89L1362.56 1780.53L1370.76 1769.8L1358.81 1752.12L1347.62 1757.94ZM1399.22 1871.11L1403.2 1874.99L1415.22 1871.19L1413.07 1868.44L1402.82 1859.46L1398.82 1862.76ZM1564.78 1786.79L1578.86 1797.73L1588.6 1788.76L1590.4 1773.87L1589.86 1772.94L1580.15 1769.9L1565.8 1779.69ZM1257 1779.22L1258.36 1778.43L1259.28 1776.83L1257 1773.32ZM1333.88 1812.25L1352.56 1811.96L1352.08 1803.52L1343.8 1793.77L1329.99 1804.16ZM1445.71 1959.8L1463.06 1965.01L1470.21 1959.14L1470.58 1953.12L1458.86 1943.59L1441.93 1950.17ZM1444.09 2004.5L1463.16 2004.5L1465.06 1998.8L1461.27 1995.21L1453.89 1995.95L1453.82 1999.58L1451.69 2002.68L1448.19 2004.08L1444.5 2003.29ZM1735.45 1913.64L1746.38 1935.6L1758.7 1929.06L1761.37 1919.33L1751.2 1909.61L1750.17 1909.2ZM1467.89 1840.81L1469.77 1841.77L1483.09 1837.41L1486.52 1827.93L1472.89 1814.21L1462.65 1817.22ZM1402.25 1999.97L1405.41 2002.06L1410.92 2001.07L1423.64 1983.29L1420.44 1981.23L1403.41 1987.57ZM1376.15 1900L1398.71 1898.55L1398.51 1880.76L1394.41 1876.75L1386.21 1878.37L1382.68 1890.14ZM1406.13 1900.03L1415.74 1903.43L1433.3 1898.1L1429.59 1889.68L1420.06 1877.42L1405.93 1881.89ZM1364.03 1746.63L1377.08 1765.94L1384.24 1764.91L1389.94 1754.07L1385.59 1740.61L1379.74 1739.7L1375.11 1737.43L1365.12 1742.43ZM1557.01 1862.61L1559.79 1860.87L1559.73 1859.96L1555.55 1855.92L1553.35 1856.21ZM1619.04 1967.9L1629.16 1977.95L1638.9 1968.39L1638.95 1953.07L1638.25 1952.57L1622.67 1951.52ZM1635.55 1830.03L1645.48 1839.28L1651.85 1836.66L1654.98 1819.01L1641.09 1809.84L1636.49 1813.73ZM1492.51 1992.52L1503.67 1992.08L1510.18 1979.56L1503.5 1969.8L1493.55 1973.31ZM1618.63 1926.3L1624.09 1944.2L1636.27 1945.02L1639.31 1917.96L1637.86 1916L1627.99 1916.22ZM1766.45 1884.54L1770.3 1886.38L1770.3 1878.04ZM1687.55 1881.63L1703.06 1885.67L1706.66 1880.9L1705.68 1870.25L1687.02 1866.63L1684.24 1868.29ZM1583.41 1908.11L1577.31 1901.51L1562.06 1900.72L1560.3 1910.53L1571.23 1907.01ZM1477.99 1905.44L1478.05 1912.89L1493.88 1928.27L1503.77 1910.37L1492.92 1901.25L1478.68 1904.19ZM1648.97 1745.82L1651.48 1748.59L1664.84 1747.76L1672.68 1735.1L1655.33 1721.63L1652.14 1721.73ZM1550 1749.26L1566.6 1741.63L1567.16 1740.53L1563.67 1724.66L1559.49 1725.7L1558.54 1728.38L1557.19 1730.05L1546.81 1737.75ZM1472.77 1870.35L1496.53 1866.96L1497.62 1856.66L1485 1844.57L1473.12 1848.46ZM1257 1797.88L1262.19 1804.21L1263.4 1803.97L1257.89 1794.06L1257 1795.61ZM1764.29 1747.53L1765.61 1752.76L1770.3 1755.32L1770.3 1745.66ZM1752.52 1894.52L1755.82 1887.67L1741.76 1878.61L1739.33 1881.33ZM1364.19 1995.28L1370.84 1992.08L1369.24 1988.13L1369.61 1985.62L1370.83 1983.56L1370.36 1977.32L1365.67 1977.5ZM1477.63 1958.95L1490.4 1966.58L1502.16 1962.43L1504.25 1957.34L1488.58 1943.95L1477.98 1953.22ZM1701.69 1961.74L1724.4 1958.94L1725.6 1954.38L1711.17 1943.36L1699.25 1953.05ZM1746.25 1771.2L1751.62 1770.15L1758.52 1754.89L1757.44 1750.62L1738.84 1750.4L1736.7 1760.02ZM1743.76 1868.66L1744.39 1871.5L1759.72 1881.38L1768.18 1867.1L1760.56 1857.27L1749.91 1858.96ZM1688.84 1998.37L1701.32 2002.96L1706.71 2001.33L1702.47 2000.5L1699.63 1997.57L1693.86 1977.84L1687.5 1981.72ZM1516.44 1975.61L1524.73 1975.63L1525.32 1974.63L1510.17 1962.41L1509.13 1964.93ZM1760.16 2004.5L1770.3 2004.5L1770.3 1992.63L1761.63 1992.74ZM1663.66 1947.46L1668.34 1950.5L1673.28 1948.81L1665.79 1941.32ZM1553.14 1848.77L1553.21 1830.1L1538.57 1831.45L1549.39 1849.27ZM1720.98 1835.14L1734.24 1831.52L1736.6 1828.13L1735.61 1819.1L1717.98 1810.41L1714.56 1811.45ZM1396.84 1932.18L1417.83 1931.28L1412.55 1910.15L1405.41 1907.62ZM1329.54 1993.57L1333.08 1997.3L1333.71 1999.97L1333.32 2002.57L1337.4 2004.5L1346.3 2004.5L1349.8 2002.33L1348.4 1999.27L1348.42 1995.07L1345.2 1987.18L1328.38 1988.61ZM1551.09 1943.3L1564.02 1945.22L1563.99 1930.53L1555.74 1924.54ZM1596.81 1782.46L1596.14 1788.08L1597.83 1788.69L1597.38 1783.73ZM1280.48 1941.79L1286.6 1954.03L1287.9 1950.79L1284.69 1943.61ZM1495.26 1753.77L1503.3 1752.16L1514.85 1742.92L1514 1741.2L1509.6 1739.32ZM1454.72 1808.99L1458.55 1810.71L1471.23 1806.99L1478.69 1789.22L1477.52 1788.71L1454.98 1792.92ZM1601.39 1856.37L1607.87 1853.97L1608.77 1846.68L1598.32 1853.65ZM1442.24 1735.17L1459.23 1753.41L1466.45 1743.97L1465.34 1738.1L1451.69 1730.68ZM1372.11 1969.85L1374.28 1967.52L1371.96 1957.4L1366.9 1955.2L1367.22 1958.95L1366.29 1970.07ZM1369.62 1783.48L1386.27 1801.65L1388.84 1801.19L1396.11 1781.87L1385.44 1772.22L1377.33 1773.38ZM1548.58 1803.8L1557.96 1822.09L1566.78 1818.03L1574.12 1803.41L1560.1 1792.52L1553.56 1794.68ZM1317.76 1849.21L1335.69 1841.44L1328.45 1827.26L1314.46 1835.21ZM1558.56 1988.28L1565.48 1995.88L1569.02 1996.56L1588.49 1981.78L1588.39 1979.74L1568.69 1970.73L1560.25 1978.37ZM1593.25 1909.09L1605.2 1910.28L1607.7 1911.2L1609.54 1913.24L1610.2 1915.9L1609.53 1918.56L1607.96 1920.39L1613.14 1921.33L1621.6 1912.23L1611.81 1898.24ZM1347.89 1914.57L1348.24 1916.62L1351.35 1918.82L1352.12 1915.72L1349.22 1912.81ZM1640.78 1854.51L1636.8 1856.78L1638.16 1859.51L1642.09 1857.94ZM1529.84 1749.88L1543.41 1753.19L1540.4 1742.33ZM1349.51 1946.95L1349.98 1946.73L1348.23 1932.49L1349.42 1926.52L1346.08 1924.16L1339.67 1935.64ZM1713.2 1857.49L1712.96 1845.03L1694.91 1842.78L1693.28 1849.6L1705.2 1851.1ZM1749.7 1851.5L1759.58 1849.94L1766.46 1834.28L1742.28 1832.91L1740.85 1834.99ZM1355.96 1845.79L1357.6 1848L1359.23 1848.72L1379.13 1842.31L1380.32 1838.9L1366.96 1822.65L1362.96 1822.86ZM1721.85 1734.39L1727.92 1735.46L1736.48 1719.7L1716.42 1719.7ZM1551.33 1756.79L1563.2 1772.51L1574.84 1764.56L1567.56 1749.34ZM1708.84 1898.68L1728.92 1906.75L1726.2 1889.78L1711.95 1886.18L1708.31 1891ZM1594.9 1973.32L1611.79 1966.4L1614.72 1953.16L1598.88 1953.53ZM1257 1952.47L1257 1966.21L1258.35 1966.57L1259.34 1965.19ZM1265.73 1891.94L1275.71 1898.1L1288.27 1881.81L1278.01 1872.26L1265.49 1890.7ZM1362.11 2004.5L1383.57 2004.5L1383.98 2003.85L1375.09 1998.24ZM1600.09 1813.59L1598.57 1796.82L1592.96 1794.8L1585.22 1801.93ZM1527.14 1900.74L1544.25 1893.56L1544.38 1884.86L1530.5 1878.08L1523.79 1882.74ZM1700.12 1779.58L1711.63 1772.67L1712.28 1769.9L1702.24 1754.9L1692.19 1764.37ZM1305.46 1917.69L1310.36 1919.26L1323.13 1908.23L1315.8 1892.7L1313.58 1892.63L1302.11 1912.48ZM1427.95 1864.65L1429.72 1866.93L1439.6 1863.81L1442.52 1847.88L1436.73 1844.38L1426.03 1853.52ZM1688.66 1934.74L1698.34 1930.6L1700.15 1927.58L1697.29 1925.53L1687.99 1931.54ZM1453.94 1775.3L1452.69 1785.82L1471.92 1782.23L1464.93 1771.2L1459.19 1770.05ZM1418.52 2003.16L1421.04 2004.5L1436.29 2004.5L1439.53 1994.79L1439.17 1993.9L1430.63 1986.23Z" fill="#c86bcc" stroke="#c86bcc" stroke-width="6" stroke-linejoin="round"/>
<rect x="1264.3" y="1993" width="26" height="3.4" fill="#111"/>
</g>
<rect x="1261.3" y="1724" width="504.7" height="276.2" fill="none" stroke="#2a2030" stroke-width="1.8"/>
</g>
<g id="panel-e">
<text x="0" y="2101.5" font-size="50" font-weight="bold">e</text>
<text x="357" y="2142.3" font-size="40" font-weight="bold" textLength="373.5" lengthAdjust="spacingAndGlyphs"><tspan font-style="italic">Sox2</tspan> mRNA levels</text>
<rect x="217.2" y="2389.9" width="40.6" height="53.9" fill="#9b1fa8"/>
<rect x="217.2" y="2478.6" width="40.6" height="177.7" fill="#9b1fa8"/>
<rect x="366.8" y="2640" width="40.3" height="16.3" fill="#9b1fa8"/>
<rect x="512.6" y="2630.9" width="40.2" height="25.4" fill="#9b1fa8"/>
<rect x="646.1" y="2575.5" width="40.5" height="80.8" fill="#9b1fa8"/>
<rect x="791.3" y="2649.7" width="40.6" height="6.6" fill="#9b1fa8"/>
<rect x="937.5" y="2651" width="40.2" height="5.3" fill="#9b1fa8"/>
<rect x="157.4" y="2652.8" width="39.3" height="3.5" fill="#c9c7c6"/>
<rect x="306" y="2652.8" width="39" height="3.5" fill="#c9c7c6"/>
<rect x="452" y="2652.8" width="39" height="3.5" fill="#c9c7c6"/>
<rect x="586" y="2652.8" width="39" height="3.5" fill="#c9c7c6"/>
<rect x="731.4" y="2652.8" width="39.4" height="3.5" fill="#c9c7c6"/>
<rect x="877.8" y="2652.8" width="38.5" height="3.5" fill="#c9c7c6"/>
<path d="M112.6 2265.2H137.7V2443.8M125.6 2443.8H149M125.6 2478.6H149M137.7 2478.6V2656.3M118 2656.3H997.5" stroke="#000" stroke-width="3.5" fill="none"/>
<line x1="112.6" y1="2265.2" x2="137.7" y2="2265.2" stroke="#000" stroke-width="3.5"/>
<text x="105.5" y="2275.4" font-size="30.5" text-anchor="end">600</text>
<line x1="112.6" y1="2329.4" x2="137.7" y2="2329.4" stroke="#000" stroke-width="3.5"/>
<text x="105.5" y="2339.6" font-size="30.5" text-anchor="end">400</text>
<line x1="112.6" y1="2393.6" x2="137.7" y2="2393.6" stroke="#000" stroke-width="3.5"/>
<text x="105.5" y="2403.8" font-size="30.5" text-anchor="end">200</text>
<text x="111" y="2488.8" font-size="30.5" text-anchor="end">40</text>
<line x1="118" y1="2567.3" x2="137.7" y2="2567.3" stroke="#000" stroke-width="3.5"/>
<text x="111" y="2577.5" font-size="30.5" text-anchor="end">20</text>
<text x="111" y="2666.5" font-size="30.5" text-anchor="end">0</text>
<line x1="206.7" y1="2656.3" x2="206.7" y2="2675.4" stroke="#000" stroke-width="3.5"/>
<text x="211.8" y="2708.8" font-size="34" text-anchor="middle" textLength="100" lengthAdjust="spacingAndGlyphs">Kidney</text>
<line x1="356.2" y1="2656.3" x2="356.2" y2="2675.4" stroke="#000" stroke-width="3.5"/>
<text x="354.6" y="2708.8" font-size="34" text-anchor="middle" textLength="102" lengthAdjust="spacingAndGlyphs">Spleen</text>
<line x1="501.4" y1="2656.3" x2="501.4" y2="2675.4" stroke="#000" stroke-width="3.5"/>
<text x="500.3" y="2708.8" font-size="34" text-anchor="middle" textLength="62.7" lengthAdjust="spacingAndGlyphs">Skin</text>
<line x1="635.5" y1="2656.3" x2="635.5" y2="2675.4" stroke="#000" stroke-width="3.5"/>
<text x="638.6" y="2708.8" font-size="34" text-anchor="middle" textLength="105.1" lengthAdjust="spacingAndGlyphs">Muscle</text>
<line x1="780.8" y1="2656.3" x2="780.8" y2="2675.4" stroke="#000" stroke-width="3.5"/>
<text x="784.6" y="2708.8" font-size="34" text-anchor="middle" textLength="81.1" lengthAdjust="spacingAndGlyphs">Heart</text>
<line x1="926.3" y1="2656.3" x2="926.3" y2="2675.4" stroke="#000" stroke-width="3.5"/>
<text x="929.6" y="2708.8" font-size="34" text-anchor="middle" textLength="72" lengthAdjust="spacingAndGlyphs">Liver</text>
<text transform="translate(32 2465) rotate(-90)" font-size="36.5" text-anchor="middle" textLength="307.5" lengthAdjust="spacingAndGlyphs">Relative fold change</text>
<path d="M231.5 2332H242.5M237 2332V2443.8M237 2478.6V2511.9M231.5 2511.9H242.5" stroke="#000" stroke-width="1.8" fill="none"/>
<path d="M381 2629H392M381 2650.5H392M386.5 2629V2650.5" stroke="#000" stroke-width="1.8" fill="none"/>
<path d="M526.8 2620H537.8M526.8 2642H537.8M532.3 2620V2642" stroke="#000" stroke-width="1.8" fill="none"/>
<path d="M660.8 2530.1H671.8M660.8 2621.9H671.8M666.3 2530.1V2621.9" stroke="#000" stroke-width="1.8" fill="none"/>
<path d="M171 2650H182M171 2655H182M176.5 2650V2655" stroke="#000" stroke-width="1.8" fill="none"/>
<path d="M320.8 2648H331.8M320.8 2655H331.8M326.3 2648V2655" stroke="#000" stroke-width="1.8" fill="none"/>
<path d="M466.2 2647H477.2M466.2 2655H477.2M471.7 2647V2655" stroke="#000" stroke-width="1.8" fill="none"/>
<path d="M600.3 2647H611.3M600.3 2655H611.3M605.8 2647V2655" stroke="#000" stroke-width="1.8" fill="none"/>
<path d="M745.6 2643H756.6M745.6 2657H756.6M751.1 2643V2657" stroke="#000" stroke-width="1.8" fill="none"/>
<path d="M891.7 2643.5H902.7M891.7 2657H902.7M897.2 2643.5V2657" stroke="#000" stroke-width="1.8" fill="none"/>
<path d="M806.1 2641H817.1M806.1 2653H817.1M811.6 2641V2653" stroke="#000" stroke-width="1.8" fill="none"/>
<path d="M951.6 2640H962.6M951.6 2652H962.6M957.1 2640V2652" stroke="#000" stroke-width="1.8" fill="none"/>
<circle cx="237" cy="2294.6" r="3.9" fill="#000"/>
<circle cx="229.1" cy="2366.8" r="3.9" fill="#000"/>
<circle cx="244.6" cy="2368.6" r="3.9" fill="#000"/>
<circle cx="237" cy="2424.2" r="3.9" fill="#000"/>
<circle cx="229.1" cy="2443.8" r="3.9" fill="#000"/>
<circle cx="244.6" cy="2440.8" r="3.9" fill="#000"/>
<circle cx="160.4" cy="2654.2" r="3.9" fill="#000"/>
<circle cx="176.5" cy="2651.1" r="3.9" fill="#000"/>
<circle cx="192.8" cy="2651.8" r="3.9" fill="#000"/>
<circle cx="310.2" cy="2656.3" r="3.9" fill="#000"/>
<circle cx="326.3" cy="2649.6" r="3.9" fill="#000"/>
<circle cx="342.3" cy="2652.1" r="3.9" fill="#000"/>
<circle cx="386.5" cy="2619.4" r="3.9" fill="#000"/>
<circle cx="370.8" cy="2642.7" r="3.9" fill="#000"/>
<circle cx="370.8" cy="2651.2" r="3.9" fill="#000"/>
<circle cx="386.5" cy="2642.7" r="3.9" fill="#000"/>
<circle cx="402.5" cy="2637.5" r="3.9" fill="#000"/>
<circle cx="402.5" cy="2646" r="3.9" fill="#000"/>
<circle cx="455.4" cy="2654.2" r="3.9" fill="#000"/>
<circle cx="471.7" cy="2648.2" r="3.9" fill="#000"/>
<circle cx="487.8" cy="2653.6" r="3.9" fill="#000"/>
<circle cx="532.3" cy="2611.9" r="3.9" fill="#000"/>
<circle cx="515.9" cy="2630" r="3.9" fill="#000"/>
<circle cx="527.1" cy="2631.5" r="3.9" fill="#000"/>
<circle cx="537.7" cy="2630.6" r="3.9" fill="#000"/>
<circle cx="548.3" cy="2636.1" r="3.9" fill="#000"/>
<circle cx="532.3" cy="2643.6" r="3.9" fill="#000"/>
<circle cx="589.2" cy="2655.7" r="3.9" fill="#000"/>
<circle cx="605.8" cy="2648.2" r="3.9" fill="#000"/>
<circle cx="621.9" cy="2653.6" r="3.9" fill="#000"/>
<circle cx="666.3" cy="2512.6" r="3.9" fill="#000"/>
<circle cx="666.3" cy="2522.6" r="3.9" fill="#000"/>
<circle cx="666.3" cy="2591.3" r="3.9" fill="#000"/>
<circle cx="666.3" cy="2601.9" r="3.9" fill="#000"/>
<circle cx="658.2" cy="2615.8" r="3.9" fill="#000"/>
<circle cx="673.9" cy="2609.7" r="3.9" fill="#000"/>
<circle cx="742.9" cy="2657.3" r="3.9" fill="#000"/>
<circle cx="751.1" cy="2643" r="3.9" fill="#000"/>
<circle cx="759.3" cy="2657.3" r="3.9" fill="#000"/>
<circle cx="795.6" cy="2646.7" r="3.9" fill="#000"/>
<circle cx="811.6" cy="2641.2" r="3.9" fill="#000"/>
<circle cx="827.7" cy="2643" r="3.9" fill="#000"/>
<circle cx="795.6" cy="2656.7" r="3.9" fill="#000"/>
<circle cx="811.6" cy="2652.7" r="3.9" fill="#000"/>
<circle cx="827.7" cy="2652.7" r="3.9" fill="#000"/>
<circle cx="889" cy="2657" r="3.9" fill="#000"/>
<circle cx="897.2" cy="2643.5" r="3.9" fill="#000"/>
<circle cx="905.1" cy="2657" r="3.9" fill="#000"/>
<circle cx="957.1" cy="2635.9" r="3.9" fill="#000"/>
<circle cx="957.1" cy="2645" r="3.9" fill="#000"/>
<circle cx="941.1" cy="2657" r="3.9" fill="#000"/>
<circle cx="951" cy="2655.6" r="3.9" fill="#000"/>
<circle cx="963.2" cy="2656.5" r="3.9" fill="#000"/>
<circle cx="973.8" cy="2656.5" r="3.9" fill="#000"/>
<path d="M471.7 2601.3V2589.8H531.7V2601.3" stroke="#000" stroke-width="1.8" fill="none"/>
<text x="501.4" y="2596" font-size="30" text-anchor="middle">*</text>
<text x="469" y="2568" font-size="18.8" textLength="70.5" lengthAdjust="spacingAndGlyphs"><tspan font-style="italic">P</tspan> = 0.01</text>
<rect x="678.7" y="2293" width="27.2" height="23.6" fill="#858180"/>
<rect x="680.2" y="2341.7" width="27.2" height="24.2" fill="#9b1fa8"/>
<text x="717.4" y="2314.5" font-size="27.5" textLength="127.2" lengthAdjust="spacingAndGlyphs">Ctrl (n = 3)</text>
<text x="718.6" y="2363.5" font-size="27.5" textLength="257.6" lengthAdjust="spacingAndGlyphs">4F-Non-Liv/Int (n = 6)</text>
</g>
<g id="panel-f">
<text x="1089" y="2101.3" font-size="50" font-weight="bold">f</text>
<text x="1482" y="2122.6" font-size="41" text-anchor="middle" font-weight="bold" textLength="327" lengthAdjust="spacingAndGlyphs">Epigenetic clock</text>
<text x="1308" y="2168.6" font-size="34.5" text-anchor="middle" textLength="107" lengthAdjust="spacingAndGlyphs">Spleen</text>
<path d="M1183.2 2196.5H1192.7V2404.7M1183.5 2404.7H1418.8" stroke="#000" stroke-width="2.9" fill="none"/>
<line x1="1183.2" y1="2196.5" x2="1192.7" y2="2196.5" stroke="#000" stroke-width="2.9"/>
<text x="1181.5" y="2202.3" font-size="27.5" text-anchor="end">2.0</text>
<line x1="1183.2" y1="2248.9" x2="1192.7" y2="2248.9" stroke="#000" stroke-width="2.9"/>
<text x="1181.5" y="2254.7" font-size="27.5" text-anchor="end">1.5</text>
<line x1="1183.2" y1="2301.1" x2="1192.7" y2="2301.1" stroke="#000" stroke-width="2.9"/>
<text x="1181.5" y="2306.9" font-size="27.5" text-anchor="end">1.0</text>
<line x1="1183.2" y1="2352.7" x2="1192.7" y2="2352.7" stroke="#000" stroke-width="2.9"/>
<text x="1181.5" y="2358.5" font-size="27.5" text-anchor="end">0.5</text>
<line x1="1183.2" y1="2404.7" x2="1192.7" y2="2404.7" stroke="#000" stroke-width="2.9"/>
<text x="1181.5" y="2410.5" font-size="27.5" text-anchor="end">0.0</text>
<line x1="1251.3" y1="2404.7" x2="1251.3" y2="2413.7" stroke="#000" stroke-width="2"/>
<line x1="1359.5" y1="2404.7" x2="1359.5" y2="2413.7" stroke="#000" stroke-width="2"/>
<path d="M1253 2203V2194.8H1359.8V2203" stroke="#000" stroke-width="1.6" fill="none"/>
<text x="1311.6" y="2191.2" font-size="20" text-anchor="middle" textLength="33.4" lengthAdjust="spacingAndGlyphs">n.s.</text>
<circle cx="1242.3" cy="2209.8" r="4.4" fill="#858282"/>
<circle cx="1259" cy="2215.1" r="4.4" fill="#858282"/>
<circle cx="1242.3" cy="2274" r="4.4" fill="#858282"/>
<circle cx="1259" cy="2276.4" r="4.4" fill="#858282"/>
<circle cx="1250.8" cy="2284.4" r="4.4" fill="#858282"/>
<line x1="1216.2" y1="2251.7" x2="1285.7" y2="2251.7" stroke="#000" stroke-width="3.4"/>
<path d="M1233.1 2235.2H1268.2M1233.1 2267.9H1268.2M1251.3 2235.2V2267.9" stroke="#000" stroke-width="2.1" fill="none"/>
<rect x="1346.5" y="2263.8" width="8.2" height="8.2" fill="#9b1fa8"/>
<rect x="1363.4" y="2260.2" width="8.2" height="8.2" fill="#9b1fa8"/>
<rect x="1354.9" y="2274" width="8.2" height="8.2" fill="#9b1fa8"/>
<rect x="1354.9" y="2293.4" width="8.2" height="8.2" fill="#9b1fa8"/>
<rect x="1363.4" y="2310.5" width="8.2" height="8.2" fill="#9b1fa8"/>
<rect x="1346.5" y="2314.7" width="8.2" height="8.2" fill="#9b1fa8"/>
<line x1="1324.4" y1="2290.4" x2="1393.7" y2="2290.4" stroke="#000" stroke-width="3.4"/>
<path d="M1340.9 2280.5H1376.7M1340.9 2299.4H1376.7M1359.5 2280.5V2299.4" stroke="#000" stroke-width="2.1" fill="none"/>
<text transform="translate(1128.8 2294.6) rotate(-90)" font-size="30" text-anchor="middle" textLength="181.6" lengthAdjust="spacingAndGlyphs">DNAmAgePan</text>
<text x="1618.8" y="2167.9" font-size="34.5" text-anchor="middle" textLength="82.4" lengthAdjust="spacingAndGlyphs">Heart</text>
<path d="M1499 2195.9H1508.5V2404M1498.6 2404H1725.8" stroke="#000" stroke-width="2.9" fill="none"/>
<line x1="1499" y1="2195.9" x2="1508.5" y2="2195.9" stroke="#000" stroke-width="2.9"/>
<text x="1496.3" y="2201.7" font-size="27.5" text-anchor="end">1.5</text>
<line x1="1499" y1="2265.7" x2="1508.5" y2="2265.7" stroke="#000" stroke-width="2.9"/>
<text x="1496.3" y="2271.5" font-size="27.5" text-anchor="end">1.0</text>
<line x1="1499" y1="2334.8" x2="1508.5" y2="2334.8" stroke="#000" stroke-width="2.9"/>
<text x="1496.3" y="2340.6" font-size="27.5" text-anchor="end">0.5</text>
<line x1="1499" y1="2404" x2="1508.5" y2="2404" stroke="#000" stroke-width="2.9"/>
<text x="1496.3" y="2409.8" font-size="27.5" text-anchor="end">0.0</text>
<line x1="1566.8" y1="2404" x2="1566.8" y2="2413" stroke="#000" stroke-width="2"/>
<line x1="1668.2" y1="2404" x2="1668.2" y2="2413" stroke="#000" stroke-width="2"/>
<path d="M1566.8 2233.7V2226.2H1669.5V2233.7" stroke="#000" stroke-width="1.6" fill="none"/>
<text x="1623.8" y="2220.6" font-size="20" text-anchor="middle" textLength="29.6" lengthAdjust="spacingAndGlyphs">n.s.</text>
<circle cx="1566.8" cy="2243" r="4.4" fill="#858282"/>
<circle cx="1550.3" cy="2273.2" r="4.4" fill="#858282"/>
<circle cx="1583.9" cy="2274.2" r="4.4" fill="#858282"/>
<circle cx="1566.8" cy="2281.5" r="4.4" fill="#858282"/>
<circle cx="1566.8" cy="2318.7" r="4.4" fill="#858282"/>
<line x1="1532.2" y1="2278.2" x2="1601.4" y2="2278.2" stroke="#000" stroke-width="3.4"/>
<path d="M1549.7 2265.7H1584.2M1549.7 2290.4H1584.2M1566.8 2265.7V2290.4" stroke="#000" stroke-width="2.1" fill="none"/>
<rect x="1663.8" y="2271.8" width="8.2" height="8.2" fill="#9b1fa8"/>
<rect x="1647.3" y="2284.6" width="8.2" height="8.2" fill="#9b1fa8"/>
<rect x="1663.8" y="2283.3" width="8.2" height="8.2" fill="#9b1fa8"/>
<rect x="1680.2" y="2285.6" width="8.2" height="8.2" fill="#9b1fa8"/>
<rect x="1663.8" y="2296.5" width="8.2" height="8.2" fill="#9b1fa8"/>
<rect x="1663.8" y="2315.9" width="8.2" height="8.2" fill="#9b1fa8"/>
<line x1="1633.3" y1="2293.3" x2="1702.4" y2="2293.3" stroke="#000" stroke-width="3.4"/>
<path d="M1650.7 2287.4H1685.3M1650.7 2299.9H1685.3M1667.9 2287.4V2299.9" stroke="#000" stroke-width="2.1" fill="none"/>
<text x="1302.5" y="2470.4" font-size="34.5" text-anchor="middle" textLength="78.2" lengthAdjust="spacingAndGlyphs">Brain</text>
<path d="M1181.3 2493.8H1190.8V2702.6M1181 2702.6H1409.9" stroke="#000" stroke-width="2.9" fill="none"/>
<line x1="1181.3" y1="2493.8" x2="1190.8" y2="2493.8" stroke="#000" stroke-width="2.9"/>
<text x="1174.5" y="2499.6" font-size="27.5" text-anchor="end">2.0</text>
<line x1="1181.3" y1="2546.6" x2="1190.8" y2="2546.6" stroke="#000" stroke-width="2.9"/>
<text x="1174.5" y="2552.4" font-size="27.5" text-anchor="end">1.5</text>
<line x1="1181.3" y1="2598.7" x2="1190.8" y2="2598.7" stroke="#000" stroke-width="2.9"/>
<text x="1174.5" y="2604.5" font-size="27.5" text-anchor="end">1.0</text>
<line x1="1181.3" y1="2650.5" x2="1190.8" y2="2650.5" stroke="#000" stroke-width="2.9"/>
<text x="1174.5" y="2656.3" font-size="27.5" text-anchor="end">0.5</text>
<line x1="1181.3" y1="2702.6" x2="1190.8" y2="2702.6" stroke="#000" stroke-width="2.9"/>
<text x="1174.5" y="2708.4" font-size="27.5" text-anchor="end">0.0</text>
<line x1="1249.3" y1="2702.6" x2="1249.3" y2="2711.6" stroke="#000" stroke-width="2"/>
<line x1="1354.2" y1="2702.6" x2="1354.2" y2="2711.6" stroke="#000" stroke-width="2"/>
<path d="M1248.9 2536.2V2528.2H1354.2V2536.2" stroke="#000" stroke-width="1.6" fill="none"/>
<text x="1306.1" y="2524.1" font-size="20" text-anchor="middle" textLength="29.8" lengthAdjust="spacingAndGlyphs">n.s.</text>
<circle cx="1249.3" cy="2576.2" r="4.4" fill="#858282"/>
<circle cx="1241.1" cy="2603.3" r="4.4" fill="#858282"/>
<circle cx="1257.8" cy="2598.5" r="4.4" fill="#858282"/>
<circle cx="1249.3" cy="2619.8" r="4.4" fill="#858282"/>
<circle cx="1249.3" cy="2628.2" r="4.4" fill="#858282"/>
<line x1="1214.5" y1="2605.2" x2="1284" y2="2605.2" stroke="#000" stroke-width="3.4"/>
<path d="M1232.4 2595.5H1267M1232.4 2614.2H1267M1249.3 2595.5V2614.2" stroke="#000" stroke-width="2.1" fill="none"/>
<rect x="1350.1" y="2549.8" width="8.2" height="8.2" fill="#9b1fa8"/>
<rect x="1358.6" y="2608.9" width="8.2" height="8.2" fill="#9b1fa8"/>
<rect x="1341.6" y="2614.4" width="8.2" height="8.2" fill="#9b1fa8"/>
<rect x="1341.6" y="2627" width="8.2" height="8.2" fill="#9b1fa8"/>
<rect x="1358.6" y="2629.5" width="8.2" height="8.2" fill="#9b1fa8"/>
<rect x="1341.6" y="2636.7" width="8.2" height="8.2" fill="#9b1fa8"/>
<line x1="1319.6" y1="2614.4" x2="1388.8" y2="2614.4" stroke="#000" stroke-width="3.4"/>
<path d="M1336.8 2601.6H1371.6M1336.8 2627.5H1371.6M1354.2 2601.6V2627.5" stroke="#000" stroke-width="2.1" fill="none"/>
<text transform="translate(1128.8 2591.3) rotate(-90)" font-size="30" text-anchor="middle" textLength="181.6" lengthAdjust="spacingAndGlyphs">DNAmAgePan</text>
<text x="1629.5" y="2467.9" font-size="34.5" text-anchor="middle" textLength="106.8" lengthAdjust="spacingAndGlyphs">Kidney</text>
<path d="M1498.3 2495.1H1507.8V2702.8M1498.1 2702.8H1728.6" stroke="#000" stroke-width="2.9" fill="none"/>
<line x1="1498.3" y1="2495.1" x2="1507.8" y2="2495.1" stroke="#000" stroke-width="2.9"/>
<text x="1496.3" y="2500.9" font-size="27.5" text-anchor="end">1.5</text>
<line x1="1498.3" y1="2564.6" x2="1507.8" y2="2564.6" stroke="#000" stroke-width="2.9"/>
<text x="1496.3" y="2570.4" font-size="27.5" text-anchor="end">1.0</text>
<line x1="1498.3" y1="2633.8" x2="1507.8" y2="2633.8" stroke="#000" stroke-width="2.9"/>
<text x="1496.3" y="2639.6" font-size="27.5" text-anchor="end">0.5</text>
<line x1="1498.3" y1="2702.8" x2="1507.8" y2="2702.8" stroke="#000" stroke-width="2.9"/>
<text x="1496.3" y="2708.6" font-size="27.5" text-anchor="end">0.0</text>
<line x1="1565.4" y1="2702.8" x2="1565.4" y2="2711.8" stroke="#000" stroke-width="2"/>
<line x1="1670.8" y1="2702.8" x2="1670.8" y2="2711.8" stroke="#000" stroke-width="2"/>
<path d="M1565.4 2513.2V2505.5H1672.4V2513.2" stroke="#000" stroke-width="1.6" fill="none"/>
<text x="1622.2" y="2501.6" font-size="20" text-anchor="middle" textLength="28.8" lengthAdjust="spacingAndGlyphs">n.s.</text>
<circle cx="1565.9" cy="2533.1" r="4.4" fill="#858282"/>
<circle cx="1565.9" cy="2550" r="4.4" fill="#858282"/>
<circle cx="1557.4" cy="2572.1" r="4.4" fill="#858282"/>
<circle cx="1574.4" cy="2578.6" r="4.4" fill="#858282"/>
<circle cx="1565.9" cy="2587.1" r="4.4" fill="#858282"/>
<line x1="1531.3" y1="2564.6" x2="1600.5" y2="2564.6" stroke="#000" stroke-width="3.4"/>
<path d="M1548.5 2553.9H1583.3M1548.5 2574.2H1583.3M1565.9 2553.9V2574.2" stroke="#000" stroke-width="2.1" fill="none"/>
<rect x="1658.2" y="2533.3" width="8.2" height="8.2" fill="#9b1fa8"/>
<rect x="1674.9" y="2526.6" width="8.2" height="8.2" fill="#9b1fa8"/>
<rect x="1674.9" y="2563.6" width="8.2" height="8.2" fill="#9b1fa8"/>
<rect x="1658.2" y="2568" width="8.2" height="8.2" fill="#9b1fa8"/>
<rect x="1666.7" y="2576.2" width="8.2" height="8.2" fill="#9b1fa8"/>
<rect x="1666.7" y="2615.7" width="8.2" height="8.2" fill="#9b1fa8"/>
<line x1="1635.6" y1="2567.7" x2="1705.6" y2="2567.7" stroke="#000" stroke-width="3.4"/>
<path d="M1653.1 2554.4H1688.2M1653.1 2581H1688.2M1670.8 2554.4V2581" stroke="#000" stroke-width="2.1" fill="none"/>
<rect x="1702.4" y="2181" width="21.8" height="19.8" fill="#858282" rx="1.5"/>
<rect x="1704" y="2220.6" width="21.5" height="19.1" fill="#9b1fa8" rx="1"/>
<text x="1734" y="2198.5" font-size="26" textLength="123.5" lengthAdjust="spacingAndGlyphs">Ctrl (n = 5)</text>
<text x="1734.7" y="2237" font-size="26" textLength="251" lengthAdjust="spacingAndGlyphs">4F-Non-Liv/Int (n = 6)</text>
</g>
</svg></body></html>
